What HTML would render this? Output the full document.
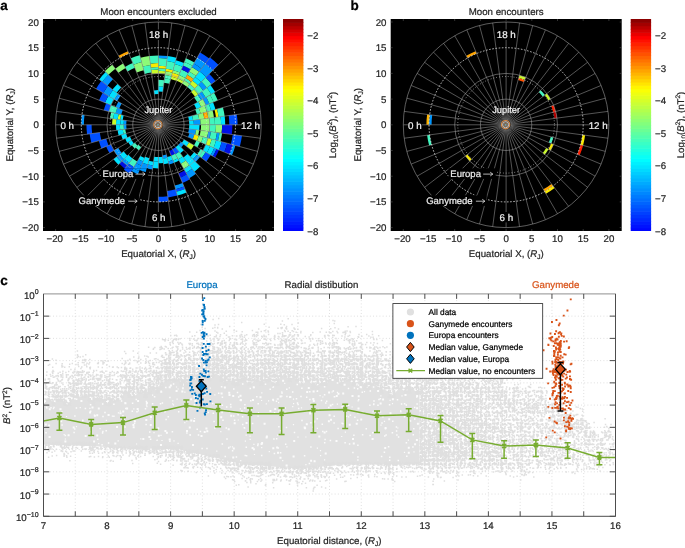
<!DOCTYPE html>
<html><head><meta charset="utf-8"><style>
html,body{margin:0;padding:0;background:#fff;}
svg{display:block;will-change:transform;}
</style></head><body>
<svg width="685" height="548" viewBox="0 0 685 548" text-rendering="geometricPrecision" font-family='"Liberation Sans", sans-serif'>
<rect width="685" height="548" fill="#fff"/>
<text x="0.30" y="10.00" font-size="13.5" text-anchor="start" fill="#000" stroke="#000" stroke-width="0.22" font-weight="bold">a</text>
<text x="350.60" y="10.00" font-size="13.5" text-anchor="start" fill="#000" stroke="#000" stroke-width="0.22" font-weight="bold">b</text>
<text x="0.30" y="285.20" font-size="13.5" text-anchor="start" fill="#000" stroke="#000" stroke-width="0.22" font-weight="bold">c</text>
<rect x="43.00" y="19" width="231" height="212" fill="#000"/>
<path d="M126.28,124.80L123.71,124.80A34.70,34.70 0 0 0 124.00,129.33L126.55,128.99A32.12,32.12 0 0 1 126.28,124.80Z" fill="#0096ff"/><path d="M123.71,124.80L119.85,124.80A38.55,38.55 0 0 0 120.18,129.83L124.00,129.33A34.70,34.70 0 0 1 123.71,124.80Z" fill="#40f5be"/><path d="M119.85,124.80L116.00,124.80A42.40,42.40 0 0 0 116.36,130.33L120.18,129.83A38.55,38.55 0 0 1 119.85,124.80Z" fill="#00e1ff"/><path d="M91.58,124.80L86.44,124.80A71.96,71.96 0 0 0 87.06,134.19L92.15,133.52A66.82,66.82 0 0 1 91.58,124.80Z" fill="#0050ff"/><path d="M125.28,129.16L122.73,129.50A35.98,35.98 0 0 0 123.65,134.11L126.13,133.45A33.41,33.41 0 0 1 125.28,129.16Z" fill="#40f5be"/><path d="M122.73,129.50L117.63,130.17A41.12,41.12 0 0 0 118.68,135.44L123.65,134.11A35.98,35.98 0 0 1 122.73,129.50Z" fill="#00e1ff"/><path d="M99.80,132.52L89.60,133.86A69.39,69.39 0 0 0 91.37,142.76L101.30,140.10A59.11,59.11 0 0 1 99.80,132.52Z" fill="#0050ff"/><path d="M126.13,133.45L121.16,134.78A38.55,38.55 0 0 0 122.78,139.55L127.53,137.59A33.41,33.41 0 0 1 126.13,133.45Z" fill="#00e1ff"/><path d="M106.27,138.77L98.82,140.76A61.68,61.68 0 0 0 101.42,148.40L108.54,145.45A53.97,53.97 0 0 1 106.27,138.77Z" fill="#0050ff"/><path d="M129.91,136.60L125.16,138.57A35.98,35.98 0 0 0 127.24,142.79L131.69,140.22A30.84,30.84 0 0 1 129.91,136.60Z" fill="#00e1ff"/><path d="M110.91,144.47L106.16,146.44A56.54,56.54 0 0 0 109.43,153.07L113.89,150.50A51.40,51.40 0 0 1 110.91,144.47Z" fill="#0050ff"/><path d="M131.69,140.22L128.35,142.15A34.70,34.70 0 0 0 130.87,145.92L133.93,143.57A30.84,30.84 0 0 1 131.69,140.22Z" fill="#00e1ff"/><path d="M118.34,147.93L113.89,150.50A51.40,51.40 0 0 0 117.62,156.09L121.70,152.96A46.26,46.26 0 0 1 118.34,147.93Z" fill="#0096ff"/><path d="M134.95,142.79L131.89,145.14A33.41,33.41 0 0 0 134.78,148.42L137.50,145.70A29.55,29.55 0 0 1 134.95,142.79Z" fill="#40f5be"/><path d="M123.74,151.40L119.66,154.53A48.83,48.83 0 0 0 123.87,159.33L127.51,155.69A43.69,43.69 0 0 1 123.74,151.40Z" fill="#00e1ff"/><path d="M119.66,154.53L116.60,156.87A52.68,52.68 0 0 0 121.15,162.05L123.87,159.33A48.83,48.83 0 0 1 119.66,154.53Z" fill="#0096ff"/><path d="M116.60,156.87L113.54,159.22A56.54,56.54 0 0 0 118.42,164.78L121.15,162.05A52.68,52.68 0 0 1 116.60,156.87Z" fill="#00e1ff"/><path d="M138.41,144.79L135.68,147.52A32.12,32.12 0 0 0 138.84,150.29L141.19,147.23A28.27,28.27 0 0 1 138.41,144.79Z" fill="#40f5be"/><path d="M128.42,154.78L124.33,158.87A48.19,48.19 0 0 0 129.07,163.03L132.59,158.44A42.40,42.40 0 0 1 128.42,154.78Z" fill="#00e1ff"/><path d="M124.33,158.87L122.05,161.15A51.40,51.40 0 0 0 127.11,165.58L129.07,163.03A48.19,48.19 0 0 1 124.33,158.87Z" fill="#0096ff"/><path d="M122.05,161.15L119.33,163.87A55.25,55.25 0 0 0 124.76,168.64L127.11,165.58A51.40,51.40 0 0 1 122.05,161.15Z" fill="#0010e6"/><path d="M132.59,158.44L128.67,163.54A48.83,48.83 0 0 0 133.98,167.09L137.20,161.52A42.40,42.40 0 0 1 132.59,158.44Z" fill="#40f5be"/><path d="M128.67,163.54L123.98,169.66A56.54,56.54 0 0 0 130.13,173.77L133.98,167.09A48.83,48.83 0 0 1 128.67,163.54Z" fill="#0050ff"/><path d="M140.41,155.96L138.48,159.30A39.84,39.84 0 0 0 143.16,161.60L144.63,158.04A35.98,35.98 0 0 1 140.41,155.96Z" fill="#00e1ff"/><path d="M138.48,159.30L136.23,163.19A44.33,44.33 0 0 0 141.43,165.76L143.16,161.60A39.84,39.84 0 0 1 138.48,159.30Z" fill="#0096ff"/><path d="M136.23,163.19L133.34,168.20A50.11,50.11 0 0 0 139.22,171.10L141.43,165.76A44.33,44.33 0 0 1 136.23,163.19Z" fill="#0096ff"/><path d="M133.34,168.20L131.67,171.09A53.46,53.46 0 0 0 137.94,174.19L139.22,171.10A50.11,50.11 0 0 1 133.34,168.20Z" fill="#0096ff"/><path d="M145.12,156.85L142.66,162.79A41.12,41.12 0 0 0 147.76,164.52L149.42,158.31A34.70,34.70 0 0 1 145.12,156.85Z" fill="#00e1ff"/><path d="M142.66,162.79L139.71,169.91A48.83,48.83 0 0 0 145.76,171.97L147.76,164.52A41.12,41.12 0 0 1 142.66,162.79Z" fill="#0096ff"/><path d="M148.76,160.80L147.76,164.52A41.12,41.12 0 0 0 153.03,165.57L153.54,161.75A37.27,37.27 0 0 1 148.76,160.80Z" fill="#00e1ff"/><path d="M147.76,164.52L146.76,168.24A44.97,44.97 0 0 0 152.53,169.39L153.03,165.57A41.12,41.12 0 0 1 147.76,164.52Z" fill="#0096ff"/><path d="M154.21,156.65L153.60,161.24A36.75,36.75 0 0 0 158.40,161.55L158.40,156.93A32.12,32.12 0 0 1 154.21,156.65Z" fill="#00e1ff"/><path d="M153.60,161.24L152.70,168.12A43.69,43.69 0 0 0 158.40,168.49L158.40,161.55A36.75,36.75 0 0 1 153.60,161.24Z" fill="#00e1ff"/><path d="M158.40,156.93L158.40,163.35A38.55,38.55 0 0 0 163.43,163.02L162.59,156.65A32.12,32.12 0 0 1 158.40,156.93Z" fill="#00e1ff"/><path d="M158.40,196.76L158.40,201.90A77.10,77.10 0 0 0 168.46,201.24L167.79,196.14A71.96,71.96 0 0 1 158.40,196.76Z" fill="#0050ff"/><path d="M162.43,155.38L162.84,158.56A34.05,34.05 0 0 0 167.21,157.69L166.38,154.59A30.84,30.84 0 0 1 162.43,155.38Z" fill="#0096ff"/><path d="M162.84,158.56L163.60,164.29A39.84,39.84 0 0 0 168.71,163.28L167.21,157.69A34.05,34.05 0 0 1 162.84,158.56Z" fill="#00e1ff"/><path d="M167.12,191.05L167.96,197.42A73.24,73.24 0 0 0 177.36,195.55L175.69,189.34A66.82,66.82 0 0 1 167.12,191.05Z" fill="#0050ff"/><path d="M167.05,157.07L168.21,161.42A37.91,37.91 0 0 0 172.91,159.82L171.19,155.67A33.41,33.41 0 0 1 167.05,157.07Z" fill="#00e1ff"/><path d="M168.21,161.42L169.04,164.52A41.12,41.12 0 0 0 174.14,162.79L172.91,159.82A37.91,37.91 0 0 1 168.21,161.42Z" fill="#0096ff"/><path d="M174.70,185.62L175.69,189.34A66.82,66.82 0 0 0 183.97,186.53L182.50,182.97A62.96,62.96 0 0 1 174.70,185.62Z" fill="#0096ff"/><path d="M175.69,189.34L176.36,191.83A69.39,69.39 0 0 0 184.95,188.91L183.97,186.53A66.82,66.82 0 0 1 175.69,189.34Z" fill="#0050ff"/><path d="M176.36,191.83L177.36,195.55A73.24,73.24 0 0 0 186.43,192.47L184.95,188.91A69.39,69.39 0 0 1 176.36,191.83Z" fill="#00e1ff"/><path d="M169.22,150.92L171.19,155.67A33.41,33.41 0 0 0 175.11,153.73L172.53,149.28A28.27,28.27 0 0 1 169.22,150.92Z" fill="#0010e6"/><path d="M171.19,155.67L173.15,160.42A38.55,38.55 0 0 0 177.68,158.19L175.11,153.73A33.41,33.41 0 0 1 171.19,155.67Z" fill="#40f5be"/><path d="M173.15,160.42L174.14,162.79A41.12,41.12 0 0 0 178.96,160.41L177.68,158.19A38.55,38.55 0 0 1 173.15,160.42Z" fill="#00e1ff"/><path d="M178.56,173.47L180.28,177.63A57.18,57.18 0 0 0 186.99,174.32L184.74,170.43A52.68,52.68 0 0 1 178.56,173.47Z" fill="#0010e6"/><path d="M180.28,177.63L182.50,182.97A62.96,62.96 0 0 0 189.88,179.33L186.99,174.32A57.18,57.18 0 0 1 180.28,177.63Z" fill="#0050ff"/><path d="M172.53,149.28L175.43,154.29A34.05,34.05 0 0 0 179.13,151.82L175.61,147.23A28.27,28.27 0 0 1 172.53,149.28Z" fill="#0050ff"/><path d="M175.43,154.29L178.32,159.30A39.84,39.84 0 0 0 182.65,156.40L179.13,151.82A34.05,34.05 0 0 1 175.43,154.29Z" fill="#40f5be"/><path d="M178.32,159.30L180.89,163.75A44.97,44.97 0 0 0 185.78,160.48L182.65,156.40A39.84,39.84 0 0 1 178.32,159.30Z" fill="#00e1ff"/><path d="M180.89,163.75L183.78,168.76A50.76,50.76 0 0 0 189.30,165.07L185.78,160.48A44.97,44.97 0 0 1 180.89,163.75Z" fill="#8cfa78"/><path d="M183.78,168.76L186.03,172.65A55.25,55.25 0 0 0 192.04,168.64L189.30,165.07A50.76,50.76 0 0 1 183.78,168.76Z" fill="#00e1ff"/><path d="M186.03,172.65L189.24,178.22A61.68,61.68 0 0 0 195.95,173.73L192.04,168.64A55.25,55.25 0 0 1 186.03,172.65Z" fill="#0096ff"/><path d="M175.61,147.23L180.30,153.34A35.98,35.98 0 0 0 183.84,150.24L178.39,144.79A28.27,28.27 0 0 1 175.61,147.23Z" fill="#00e1ff"/><path d="M183.43,157.42L194.38,171.70A59.11,59.11 0 0 0 200.20,166.60L187.48,153.88A41.12,41.12 0 0 1 183.43,157.42Z" fill="#00e1ff"/><path d="M178.39,144.79L181.12,147.52A32.12,32.12 0 0 0 183.89,144.36L180.83,142.01A28.27,28.27 0 0 1 178.39,144.79Z" fill="#0096ff"/><path d="M190.20,156.60L192.93,159.33A48.83,48.83 0 0 0 197.14,154.53L194.08,152.18A44.97,44.97 0 0 1 190.20,156.60Z" fill="#00e1ff"/><path d="M192.93,159.33L195.65,162.05A52.68,52.68 0 0 0 200.20,156.87L197.14,154.53A48.83,48.83 0 0 1 192.93,159.33Z" fill="#0096ff"/><path d="M181.85,142.79L186.44,146.31A35.34,35.34 0 0 0 189.00,142.47L184.00,139.58A29.55,29.55 0 0 1 181.85,142.79Z" fill="#00e1ff"/><path d="M186.44,146.31L191.02,149.83A41.12,41.12 0 0 0 194.01,145.36L189.00,142.47A35.34,35.34 0 0 1 186.44,146.31Z" fill="#c8fa28"/><path d="M197.14,154.53L201.73,158.05A54.61,54.61 0 0 0 205.70,152.11L200.69,149.22A48.83,48.83 0 0 1 197.14,154.53Z" fill="#40f5be"/><path d="M201.73,158.05L206.31,161.57A60.39,60.39 0 0 0 210.70,155.00L205.70,152.11A54.61,54.61 0 0 1 201.73,158.05Z" fill="#0050ff"/><path d="M194.01,145.36L197.35,147.29A44.97,44.97 0 0 0 199.95,142.01L196.39,140.54A41.12,41.12 0 0 1 194.01,145.36Z" fill="#40f5be"/><path d="M202.91,150.50L206.81,152.75A55.90,55.90 0 0 0 210.04,146.19L205.89,144.47A51.40,51.40 0 0 1 202.91,150.50Z" fill="#00e1ff"/><path d="M206.81,152.75L210.70,155.00A60.39,60.39 0 0 0 214.20,147.91L210.04,146.19A55.90,55.90 0 0 1 206.81,152.75Z" fill="#00e1ff"/><path d="M210.70,155.00L212.93,156.28A62.96,62.96 0 0 0 216.57,148.90L214.20,147.91A60.39,60.39 0 0 1 210.70,155.00Z" fill="#0096ff"/><path d="M212.93,156.28L215.15,157.57A65.53,65.53 0 0 0 218.95,149.88L216.57,148.90A62.96,62.96 0 0 1 212.93,156.28Z" fill="#0010e6"/><path d="M188.08,137.09L192.83,139.06A37.27,37.27 0 0 0 194.40,134.44L189.43,133.11A32.12,32.12 0 0 1 188.08,137.09Z" fill="#0096ff"/><path d="M192.83,139.06L196.98,140.78A41.76,41.76 0 0 0 198.74,135.61L194.40,134.44A37.27,37.27 0 0 1 192.83,139.06Z" fill="#faeb00"/><path d="M196.98,140.78L201.14,142.50A46.26,46.26 0 0 0 203.08,136.77L198.74,135.61A41.76,41.76 0 0 1 196.98,140.78Z" fill="#8cfa78"/><path d="M201.14,142.50L205.89,144.47A51.40,51.40 0 0 0 208.05,138.10L203.08,136.77A46.26,46.26 0 0 1 201.14,142.50Z" fill="#40f5be"/><path d="M205.89,144.47L209.45,145.95A55.25,55.25 0 0 0 211.77,139.10L208.05,138.10A51.40,51.40 0 0 1 205.89,144.47Z" fill="#c8fa28"/><path d="M209.45,145.95L213.60,147.67A59.75,59.75 0 0 0 216.12,140.27L211.77,139.10A55.25,55.25 0 0 1 209.45,145.95Z" fill="#40f5be"/><path d="M213.60,147.67L218.95,149.88A65.53,65.53 0 0 0 221.70,141.76L216.12,140.27A59.75,59.75 0 0 1 213.60,147.67Z" fill="#00e1ff"/><path d="M218.95,149.88L224.29,152.09A71.32,71.32 0 0 0 227.29,143.26L221.70,141.76A65.53,65.53 0 0 1 218.95,149.88Z" fill="#0050ff"/><path d="M224.29,152.09L229.63,154.30A77.10,77.10 0 0 0 232.87,144.75L227.29,143.26A71.32,71.32 0 0 1 224.29,152.09Z" fill="#0010e6"/><path d="M229.63,154.30L232.01,155.29A79.67,79.67 0 0 0 235.36,145.42L232.87,144.75A77.10,77.10 0 0 1 229.63,154.30Z" fill="#0096ff"/><path d="M188.19,132.78L195.14,134.64A38.04,38.04 0 0 0 196.11,129.76L188.98,128.83A30.84,30.84 0 0 1 188.19,132.78Z" fill="#0096ff"/><path d="M195.14,134.64L198.12,135.44A41.12,41.12 0 0 0 199.17,130.17L196.11,129.76A38.04,38.04 0 0 1 195.14,134.64Z" fill="#8cfa78"/><path d="M199.61,135.84L207.06,137.84A50.37,50.37 0 0 0 208.34,131.37L200.70,130.37A42.66,42.66 0 0 1 199.61,135.84Z" fill="#8cfa78"/><path d="M207.06,137.84L209.54,138.50A52.94,52.94 0 0 0 210.89,131.71L208.34,131.37A50.37,50.37 0 0 1 207.06,137.84Z" fill="#0096ff"/><path d="M209.54,138.50L215.50,140.10A59.11,59.11 0 0 0 217.00,132.52L210.89,131.71A52.94,52.94 0 0 1 209.54,138.50Z" fill="#40f5be"/><path d="M215.50,140.10L217.98,140.76A61.68,61.68 0 0 0 219.55,132.85L217.00,132.52A59.11,59.11 0 0 1 215.50,140.10Z" fill="#0096ff"/><path d="M217.98,140.76L220.46,141.43A64.25,64.25 0 0 0 222.10,133.19L219.55,132.85A61.68,61.68 0 0 1 217.98,140.76Z" fill="#40f5be"/><path d="M230.89,144.22L239.82,146.62A84.30,84.30 0 0 0 241.97,135.80L232.80,134.60A75.04,75.04 0 0 1 230.89,144.22Z" fill="#0050ff"/><path d="M188.98,128.83L199.17,130.17A41.12,41.12 0 0 0 199.52,124.80L189.24,124.80A30.84,30.84 0 0 1 188.98,128.83Z" fill="#00e1ff"/><path d="M200.70,130.37L209.36,131.51A51.40,51.40 0 0 0 209.80,124.80L201.06,124.80A42.66,42.66 0 0 1 200.70,130.37Z" fill="#8cfa78"/><path d="M209.36,131.51L215.48,132.31A57.57,57.57 0 0 0 215.97,124.80L209.80,124.80A51.40,51.40 0 0 1 209.36,131.51Z" fill="#40f5be"/><path d="M215.48,132.31L221.59,133.12A63.74,63.74 0 0 0 222.14,124.80L215.97,124.80A57.57,57.57 0 0 1 215.48,132.31Z" fill="#8cfa78"/><path d="M221.59,133.12L231.78,134.46A74.02,74.02 0 0 0 232.42,124.80L222.14,124.80A63.74,63.74 0 0 1 221.59,133.12Z" fill="#0010e6"/><path d="M189.24,124.80L193.87,124.80A35.47,35.47 0 0 0 193.56,120.17L188.98,120.77A30.84,30.84 0 0 1 189.24,124.80Z" fill="#00e1ff"/><path d="M193.87,124.80L200.55,124.80A42.15,42.15 0 0 0 200.19,119.30L193.56,120.17A35.47,35.47 0 0 1 193.87,124.80Z" fill="#0096ff"/><path d="M200.55,124.80L209.80,124.80A51.40,51.40 0 0 0 209.36,118.09L200.19,119.30A42.15,42.15 0 0 1 200.55,124.80Z" fill="#8cfa78"/><path d="M209.80,124.80L214.94,124.80A56.54,56.54 0 0 0 214.46,117.42L209.36,118.09A51.40,51.40 0 0 1 209.80,124.80Z" fill="#40f5be"/><path d="M214.94,124.80L221.11,124.80A62.71,62.71 0 0 0 220.57,116.61L214.46,117.42A56.54,56.54 0 0 1 214.94,124.80Z" fill="#40f5be"/><path d="M221.11,124.80L225.22,124.80A66.82,66.82 0 0 0 224.65,116.08L220.57,116.61A62.71,62.71 0 0 1 221.11,124.80Z" fill="#00e1ff"/><path d="M229.33,124.80L237.56,124.80A79.16,79.16 0 0 0 236.88,114.47L228.73,115.54A70.93,70.93 0 0 1 229.33,124.80Z" fill="#0050ff"/><path d="M188.98,120.77L193.05,120.24A34.95,34.95 0 0 0 192.16,115.75L188.19,116.82A30.84,30.84 0 0 1 188.98,120.77Z" fill="#00e1ff"/><path d="M193.05,120.24L199.17,119.43A41.12,41.12 0 0 0 198.12,114.16L192.16,115.75A34.95,34.95 0 0 1 193.05,120.24Z" fill="#40f5be"/><path d="M199.17,119.43L204.26,118.76A46.26,46.26 0 0 0 203.08,112.83L198.12,114.16A41.12,41.12 0 0 1 199.17,119.43Z" fill="#8cfa78"/><path d="M204.26,118.76L208.34,118.23A50.37,50.37 0 0 0 207.06,111.76L203.08,112.83A46.26,46.26 0 0 1 204.26,118.76Z" fill="#ffa500"/><path d="M208.34,118.23L213.95,117.49A56.03,56.03 0 0 0 212.52,110.30L207.06,111.76A50.37,50.37 0 0 1 208.34,118.23Z" fill="#8cfa78"/><path d="M215.99,117.22L218.53,116.88A60.65,60.65 0 0 0 216.99,109.10L214.50,109.77A58.08,58.08 0 0 1 215.99,117.22Z" fill="#faeb00"/><path d="M218.53,116.88L224.65,116.08A66.82,66.82 0 0 0 222.94,107.51L216.99,109.10A60.65,60.65 0 0 1 218.53,116.88Z" fill="#40f5be"/><path d="M196.88,114.49L200.60,113.49A43.69,43.69 0 0 0 198.76,108.08L195.20,109.56A39.84,39.84 0 0 1 196.88,114.49Z" fill="#40f5be"/><path d="M200.60,113.49L206.81,111.83A50.11,50.11 0 0 0 204.70,105.62L198.76,108.08A43.69,43.69 0 0 1 200.60,113.49Z" fill="#8cfa78"/><path d="M206.81,111.83L211.15,110.67A54.61,54.61 0 0 0 208.86,103.90L204.70,105.62A50.11,50.11 0 0 1 206.81,111.83Z" fill="#40f5be"/><path d="M211.15,110.67L215.50,109.50A59.11,59.11 0 0 0 213.01,102.18L208.86,103.90A54.61,54.61 0 0 1 211.15,110.67Z" fill="#00e1ff"/><path d="M196.39,109.06L201.14,107.10A46.26,46.26 0 0 0 198.46,101.67L194.01,104.24A41.12,41.12 0 0 1 196.39,109.06Z" fill="#00e1ff"/><path d="M201.14,107.10L205.89,105.13A51.40,51.40 0 0 0 202.91,99.10L198.46,101.67A46.26,46.26 0 0 1 201.14,107.10Z" fill="#8cfa78"/><path d="M205.89,105.13L209.45,103.65A55.25,55.25 0 0 0 206.25,97.17L202.91,99.10A51.40,51.40 0 0 1 205.89,105.13Z" fill="#0096ff"/><path d="M209.45,103.65L213.60,101.93A59.75,59.75 0 0 0 210.15,94.92L206.25,97.17A55.25,55.25 0 0 1 209.45,103.65Z" fill="#40f5be"/><path d="M213.60,101.93L217.76,100.21A64.25,64.25 0 0 0 214.04,92.67L210.15,94.92A59.75,59.75 0 0 1 213.60,101.93Z" fill="#40f5be"/><path d="M197.35,102.31L201.24,100.06A49.47,49.47 0 0 0 197.65,94.68L194.08,97.42A44.97,44.97 0 0 1 197.35,102.31Z" fill="#40f5be"/><path d="M201.24,100.06L205.70,97.49A54.61,54.61 0 0 0 201.73,91.55L197.65,94.68A49.47,49.47 0 0 1 201.24,100.06Z" fill="#0096ff"/><path d="M205.70,97.49L211.26,94.28A61.04,61.04 0 0 0 206.82,87.64L201.73,91.55A54.61,54.61 0 0 1 205.70,97.49Z" fill="#40f5be"/><path d="M211.26,94.28L215.15,92.03A65.53,65.53 0 0 0 210.39,84.90L206.82,87.64A61.04,61.04 0 0 1 211.26,94.28Z" fill="#00e1ff"/><path d="M195.10,96.64L198.16,94.29A50.11,50.11 0 0 0 193.84,89.36L191.11,92.09A46.26,46.26 0 0 1 195.10,96.64Z" fill="#c8fa28"/><path d="M198.16,94.29L203.26,90.38A56.54,56.54 0 0 0 198.38,84.82L193.84,89.36A50.11,50.11 0 0 1 198.16,94.29Z" fill="#40f5be"/><path d="M203.26,90.38L206.82,87.64A61.04,61.04 0 0 0 201.56,81.64L198.38,84.82A56.54,56.54 0 0 1 203.26,90.38Z" fill="#0096ff"/><path d="M206.82,87.64L211.41,84.12A66.82,66.82 0 0 0 205.65,77.55L201.56,81.64A61.04,61.04 0 0 1 206.82,87.64Z" fill="#40f5be"/><path d="M211.41,84.12L215.49,80.99A71.96,71.96 0 0 0 209.28,73.92L205.65,77.55A66.82,66.82 0 0 1 211.41,84.12Z" fill="#0050ff"/><path d="M192.02,91.18L194.75,88.45A51.40,51.40 0 0 0 189.69,84.02L187.34,87.08A47.54,47.54 0 0 1 192.02,91.18Z" fill="#40f5be"/><path d="M194.75,88.45L197.93,85.27A55.90,55.90 0 0 0 192.43,80.45L189.69,84.02A51.40,51.40 0 0 1 194.75,88.45Z" fill="#c8fa28"/><path d="M197.93,85.27L201.11,82.09A60.39,60.39 0 0 0 195.17,76.89L192.43,80.45A55.90,55.90 0 0 1 197.93,85.27Z" fill="#00e1ff"/><path d="M201.11,82.09L206.10,77.10A67.46,67.46 0 0 0 199.47,71.28L195.17,76.89A60.39,60.39 0 0 1 201.11,82.09Z" fill="#00e1ff"/><path d="M206.10,77.10L212.92,70.28A77.10,77.10 0 0 0 205.34,63.63L199.47,71.28A67.46,67.46 0 0 1 206.10,77.10Z" fill="#0096ff"/><path d="M212.92,70.28L218.37,64.83A84.81,84.81 0 0 0 210.03,57.52L205.34,63.63A77.10,77.10 0 0 1 212.92,70.28Z" fill="#0050ff"/><path d="M187.34,87.08L189.69,84.02A51.40,51.40 0 0 0 184.10,80.29L182.17,83.62A47.54,47.54 0 0 1 187.34,87.08Z" fill="#8cfa78"/><path d="M189.69,84.02L191.25,81.98A53.97,53.97 0 0 0 185.38,78.06L184.10,80.29A51.40,51.40 0 0 1 189.69,84.02Z" fill="#40f5be"/><path d="M191.25,81.98L193.60,78.92A57.82,57.82 0 0 0 187.31,74.72L185.38,78.06A53.97,53.97 0 0 1 191.25,81.98Z" fill="#ffa500"/><path d="M193.60,78.92L195.95,75.87A61.68,61.68 0 0 0 189.24,71.38L187.31,74.72A57.82,57.82 0 0 1 193.60,78.92Z" fill="#40f5be"/><path d="M195.95,75.87L199.08,71.79A66.82,66.82 0 0 0 191.81,66.93L189.24,71.38A61.68,61.68 0 0 1 195.95,75.87Z" fill="#8cfa78"/><path d="M199.08,71.79L201.42,68.73A70.67,70.67 0 0 0 193.74,63.59L191.81,66.93A66.82,66.82 0 0 1 199.08,71.79Z" fill="#0096ff"/><path d="M201.42,68.73L205.73,63.12A77.74,77.74 0 0 0 197.27,57.47L193.74,63.59A70.67,70.67 0 0 1 201.42,68.73Z" fill="#0096ff"/><path d="M205.73,63.12L209.25,58.54A83.52,83.52 0 0 0 200.16,52.47L197.27,57.47A77.74,77.74 0 0 1 205.73,63.12Z" fill="#0050ff"/><path d="M182.17,83.62L183.46,81.40A50.11,50.11 0 0 0 177.58,78.50L176.59,80.87A47.54,47.54 0 0 1 182.17,83.62Z" fill="#c8fa28"/><path d="M183.46,81.40L185.38,78.06A53.97,53.97 0 0 0 179.05,74.94L177.58,78.50A50.11,50.11 0 0 1 183.46,81.40Z" fill="#8cfa78"/><path d="M185.38,78.06L188.28,73.05A59.75,59.75 0 0 0 181.27,69.60L179.05,74.94A53.97,53.97 0 0 1 185.38,78.06Z" fill="#40f5be"/><path d="M188.28,73.05L190.52,69.16A64.25,64.25 0 0 0 182.99,65.44L181.27,69.60A59.75,59.75 0 0 1 188.28,73.05Z" fill="#0010e6"/><path d="M190.52,69.16L192.45,65.82A68.10,68.10 0 0 0 184.46,61.88L182.99,65.44A64.25,64.25 0 0 1 190.52,69.16Z" fill="#40f5be"/><path d="M192.45,65.82L194.38,62.48A71.96,71.96 0 0 0 185.94,58.32L184.46,61.88A68.10,68.10 0 0 1 192.45,65.82Z" fill="#40f5be"/><path d="M176.59,80.87L177.58,78.50A50.11,50.11 0 0 0 171.37,76.39L170.71,78.88A47.54,47.54 0 0 1 176.59,80.87Z" fill="#c8fa28"/><path d="M177.58,78.50L179.05,74.94A53.97,53.97 0 0 0 172.37,72.67L171.37,76.39A50.11,50.11 0 0 1 177.58,78.50Z" fill="#faeb00"/><path d="M179.05,74.94L180.04,72.56A56.54,56.54 0 0 0 173.03,70.19L172.37,72.67A53.97,53.97 0 0 1 179.05,74.94Z" fill="#8cfa78"/><path d="M180.04,72.56L182.50,66.63A62.96,62.96 0 0 0 174.70,63.98L173.03,70.19A56.54,56.54 0 0 1 180.04,72.56Z" fill="#40f5be"/><path d="M182.50,66.63L183.97,63.07A66.82,66.82 0 0 0 175.69,60.26L174.70,63.98A62.96,62.96 0 0 1 182.50,66.63Z" fill="#00e1ff"/><path d="M169.38,83.84L170.54,79.50A46.90,46.90 0 0 0 164.52,78.30L163.93,82.76A42.40,42.40 0 0 1 169.38,83.84Z" fill="#40f5be"/><path d="M170.54,79.50L171.37,76.39A50.11,50.11 0 0 0 164.94,75.11L164.52,78.30A46.90,46.90 0 0 1 170.54,79.50Z" fill="#40f5be"/><path d="M171.37,76.39L172.37,72.67A53.97,53.97 0 0 0 165.44,71.29L164.94,75.11A50.11,50.11 0 0 1 171.37,76.39Z" fill="#8cfa78"/><path d="M172.37,72.67L173.03,70.19A56.54,56.54 0 0 0 165.78,68.74L165.44,71.29A53.97,53.97 0 0 1 172.37,72.67Z" fill="#faeb00"/><path d="M173.03,70.19L175.03,62.74A64.25,64.25 0 0 0 166.79,61.10L165.78,68.74A56.54,56.54 0 0 1 173.03,70.19Z" fill="#40f5be"/><path d="M175.03,62.74L176.36,57.77A69.39,69.39 0 0 0 167.46,56.00L166.79,61.10A64.25,64.25 0 0 1 175.03,62.74Z" fill="#00e1ff"/><path d="M162.76,91.68L163.43,86.58A38.55,38.55 0 0 0 158.40,86.25L158.40,91.39A33.41,33.41 0 0 1 162.76,91.68Z" fill="#00e1ff"/><path d="M163.43,86.58L164.27,80.21A44.97,44.97 0 0 0 158.40,79.83L158.40,86.25A38.55,38.55 0 0 1 163.43,86.58Z" fill="#40f5be"/><path d="M165.11,73.84L165.44,71.29A53.97,53.97 0 0 0 158.40,70.83L158.40,73.40A51.40,51.40 0 0 1 165.11,73.84Z" fill="#c8fa28"/><path d="M165.44,71.29L165.78,68.74A56.54,56.54 0 0 0 158.40,68.26L158.40,70.83A53.97,53.97 0 0 1 165.44,71.29Z" fill="#40f5be"/><path d="M165.78,68.74L166.12,66.20A59.11,59.11 0 0 0 158.40,65.69L158.40,68.26A56.54,56.54 0 0 1 165.78,68.74Z" fill="#faeb00"/><path d="M166.12,66.20L167.12,58.55A66.82,66.82 0 0 0 158.40,57.98L158.40,65.69A59.11,59.11 0 0 1 166.12,66.20Z" fill="#40f5be"/><path d="M167.12,58.55L167.46,56.00A69.39,69.39 0 0 0 158.40,55.41L158.40,57.98A66.82,66.82 0 0 1 167.12,58.55Z" fill="#0096ff"/><path d="M158.40,93.96L158.40,90.10A34.70,34.70 0 0 0 153.87,90.40L154.37,94.22A30.84,30.84 0 0 1 158.40,93.96Z" fill="#00e1ff"/><path d="M158.40,73.40L158.40,69.55A55.25,55.25 0 0 0 151.19,70.02L151.69,73.84A51.40,51.40 0 0 1 158.40,73.40Z" fill="#c8fa28"/><path d="M158.40,69.55L158.40,66.97A57.82,57.82 0 0 0 150.85,67.47L151.19,70.02A55.25,55.25 0 0 1 158.40,69.55Z" fill="#40f5be"/><path d="M158.40,66.97L158.40,63.12A61.68,61.68 0 0 0 150.35,63.65L150.85,67.47A57.82,57.82 0 0 1 158.40,66.97Z" fill="#faeb00"/><path d="M158.40,63.12L158.40,55.41A69.39,69.39 0 0 0 149.34,56.00L150.35,63.65A61.68,61.68 0 0 1 158.40,63.12Z" fill="#40f5be"/><path d="M151.52,72.57L150.52,64.92A60.39,60.39 0 0 0 142.77,66.46L144.76,73.91A52.68,52.68 0 0 1 151.52,72.57Z" fill="#40f5be"/><path d="M150.52,64.92L149.34,56.00A69.39,69.39 0 0 0 140.44,57.77L142.77,66.46A60.39,60.39 0 0 1 150.52,64.92Z" fill="#8cfa78"/><path d="M143.77,70.19L141.60,62.12A64.89,64.89 0 0 0 133.57,64.85L136.76,72.56A56.54,56.54 0 0 1 143.77,70.19Z" fill="#8cfa78"/><path d="M141.60,62.12L139.78,55.29A71.96,71.96 0 0 0 130.86,58.32L133.57,64.85A64.89,64.89 0 0 1 141.60,62.12Z" fill="#40f5be"/><path d="M134.80,67.82L132.83,63.07A66.82,66.82 0 0 0 124.99,66.93L127.56,71.38A61.68,61.68 0 0 1 134.80,67.82Z" fill="#40f5be"/><path d="M128.90,53.57L127.91,51.19A79.67,79.67 0 0 0 118.57,55.80L119.85,58.03A77.10,77.10 0 0 1 128.90,53.57Z" fill="#ffa500"/><path d="M125.63,68.05L123.06,63.59A70.67,70.67 0 0 0 115.38,68.73L118.50,72.81A65.53,65.53 0 0 1 125.63,68.05Z" fill="#8cfa78"/><path d="M115.38,68.73L112.25,64.65A75.81,75.81 0 0 0 104.79,71.19L108.43,74.83A70.67,70.67 0 0 1 115.38,68.73Z" fill="#8cfa78"/><path d="M121.15,87.55L117.51,83.91A57.82,57.82 0 0 0 112.52,89.60L116.60,92.73A52.68,52.68 0 0 1 121.15,87.55Z" fill="#00e1ff"/><path d="M112.97,79.37L108.43,74.83A70.67,70.67 0 0 0 102.33,81.78L107.43,85.69A64.25,64.25 0 0 1 112.97,79.37Z" fill="#0096ff"/><path d="M108.43,74.83L105.70,72.10A74.53,74.53 0 0 0 99.27,79.43L102.33,81.78A70.67,70.67 0 0 1 108.43,74.83Z" fill="#00e1ff"/><path d="M120.68,95.86L118.13,93.90A50.76,50.76 0 0 0 114.44,99.42L117.22,101.03A47.54,47.54 0 0 1 120.68,95.86Z" fill="#0096ff"/><path d="M118.13,93.90L113.03,89.99A57.18,57.18 0 0 0 108.88,96.21L114.44,99.42A50.76,50.76 0 0 1 118.13,93.90Z" fill="#00e1ff"/><path d="M113.03,89.99L107.94,86.08A63.61,63.61 0 0 0 103.31,93.00L108.88,96.21A57.18,57.18 0 0 1 113.03,89.99Z" fill="#0096ff"/><path d="M107.94,86.08L101.31,80.99A71.96,71.96 0 0 0 96.08,88.82L103.31,93.00A63.61,63.61 0 0 1 107.94,86.08Z" fill="#0050ff"/><path d="M121.68,103.60L118.34,101.67A46.26,46.26 0 0 0 115.66,107.10L119.22,108.57A42.40,42.40 0 0 1 121.68,103.60Z" fill="#0096ff"/><path d="M113.89,99.10L108.32,95.89A57.82,57.82 0 0 0 104.98,102.67L110.91,105.13A51.40,51.40 0 0 1 113.89,99.10Z" fill="#00e1ff"/><path d="M108.32,95.89L102.76,92.68A64.25,64.25 0 0 0 99.04,100.21L104.98,102.67A57.82,57.82 0 0 1 108.32,95.89Z" fill="#0050ff"/><path d="M122.78,110.05L117.44,107.83A44.33,44.33 0 0 0 115.58,113.33L121.16,114.82A38.55,38.55 0 0 1 122.78,110.05Z" fill="#0096ff"/><path d="M117.44,107.83L110.91,105.13A51.40,51.40 0 0 0 108.75,111.50L115.58,113.33A44.33,44.33 0 0 1 117.44,107.83Z" fill="#40f5be"/><path d="M110.91,105.13L106.16,103.16A56.54,56.54 0 0 0 103.79,110.17L108.75,111.50A51.40,51.40 0 0 1 110.91,105.13Z" fill="#0050ff"/><path d="M123.65,115.49L121.16,114.82A38.55,38.55 0 0 0 120.18,119.77L122.73,120.10A35.98,35.98 0 0 1 123.65,115.49Z" fill="#00e1ff"/><path d="M121.16,114.82L118.68,114.16A41.12,41.12 0 0 0 117.63,119.43L120.18,119.77A38.55,38.55 0 0 1 121.16,114.82Z" fill="#c8fa28"/><path d="M118.68,114.16L114.34,112.99A45.62,45.62 0 0 0 113.17,118.85L117.63,119.43A41.12,41.12 0 0 1 118.68,114.16Z" fill="#00e1ff"/><path d="M114.34,112.99L111.23,112.16A48.83,48.83 0 0 0 109.99,118.43L113.17,118.85A45.62,45.62 0 0 1 114.34,112.99Z" fill="#40f5be"/><path d="M126.55,120.61L124.00,120.27A34.70,34.70 0 0 0 123.71,124.80L126.28,124.80A32.12,32.12 0 0 1 126.55,120.61Z" fill="#0096ff"/><path d="M124.00,120.27L120.82,119.85A37.91,37.91 0 0 0 120.49,124.80L123.71,124.80A34.70,34.70 0 0 1 124.00,120.27Z" fill="#00e1ff"/><path d="M120.82,119.85L116.36,119.27A42.40,42.40 0 0 0 116.00,124.80L120.49,124.80A37.91,37.91 0 0 1 120.82,119.85Z" fill="#00e1ff"/><path d="M116.36,119.27L112.54,118.76A46.26,46.26 0 0 0 112.14,124.80L116.00,124.80A42.40,42.40 0 0 1 116.36,119.27Z" fill="#c8fa28"/><path d="M84.51,115.07L81.96,114.74A77.10,77.10 0 0 0 81.30,124.80L83.87,124.80A74.53,74.53 0 0 1 84.51,115.07Z" fill="#0096ff"/>
<path d="M153.77,124.80L55.60,124.80M153.81,125.40L56.48,138.22M153.93,126.00L59.10,151.41M154.13,126.57L63.43,164.14M154.39,127.11L69.37,176.20M154.73,127.62L76.84,187.38M155.13,128.07L85.71,197.49M155.58,128.47L95.82,206.36M156.09,128.81L107.00,213.83M156.63,129.07L119.06,219.77M157.20,129.27L131.79,224.10M157.80,129.39L144.98,226.72M158.40,129.43L158.40,227.60M159.00,129.39L171.82,226.72M159.60,129.27L185.01,224.10M160.17,129.07L197.74,219.77M160.71,128.81L209.80,213.83M161.22,128.47L220.98,206.36M161.67,128.07L231.09,197.49M162.07,127.62L239.96,187.38M162.41,127.11L247.43,176.20M162.67,126.57L253.37,164.14M162.87,126.00L257.70,151.41M162.99,125.40L260.32,138.22M163.03,124.80L261.20,124.80M162.99,124.20L260.32,111.38M162.87,123.60L257.70,98.19M162.67,123.03L253.37,85.46M162.41,122.49L247.43,73.40M162.07,121.98L239.96,62.22M161.67,121.53L231.09,52.11M161.22,121.13L220.98,43.24M160.71,120.79L209.80,35.77M160.17,120.53L197.74,29.83M159.60,120.33L185.01,25.50M159.00,120.21L171.82,22.88M158.40,120.17L158.40,22.00M157.80,120.21L144.98,22.88M157.20,120.33L131.79,25.50M156.63,120.53L119.06,29.83M156.09,120.79L107.00,35.77M155.58,121.13L95.82,43.24M155.13,121.53L85.71,52.11M154.73,121.98L76.84,62.22M154.39,122.49L69.37,73.40M154.13,123.03L63.43,85.46M153.93,123.60L59.10,98.19M153.81,124.20L56.48,111.38" stroke="#9a9a9a" stroke-width="0.55" fill="none"/>
<circle cx="158.40" cy="124.8" r="25.70" stroke="#9a9a9a" stroke-width="0.6" fill="none"/>
<circle cx="158.40" cy="124.8" r="51.40" stroke="#9a9a9a" stroke-width="0.6" fill="none"/>
<circle cx="158.40" cy="124.8" r="102.80" stroke="#9a9a9a" stroke-width="0.6" fill="none"/>
<circle cx="158.40" cy="124.8" r="77.10" stroke="#e6e6e6" stroke-width="0.8" stroke-dasharray="1.6 1.6" fill="none"/>
<circle cx="158.40" cy="124.8" r="48.32" stroke="#e6e6e6" stroke-width="0.8" stroke-dasharray="0.7 2.2" fill="none"/>
<circle cx="157.90" cy="124.7" r="4.9" fill="#3c3c3c"/>
<circle cx="157.90" cy="124.7" r="4.15" stroke="#d98c48" stroke-width="1.15" fill="none"/>
<circle cx="157.90" cy="124.7" r="3.05" stroke="#dcdcdc" stroke-width="0.9" fill="none"/>
<circle cx="157.90" cy="124.7" r="1.95" stroke="#b58a62" stroke-width="0.8" fill="none"/>
<circle cx="157.90" cy="124.7" r="1.2" fill="#7f9a9a"/>
<path d="M55.60,231L55.60,229M55.60,19L55.60,21M43.00,227.60L45.00,227.60M274.00,227.60L272.00,227.60M81.30,231L81.30,229M81.30,19L81.30,21M43.00,201.90L45.00,201.90M274.00,201.90L272.00,201.90M107.00,231L107.00,229M107.00,19L107.00,21M43.00,176.20L45.00,176.20M274.00,176.20L272.00,176.20M132.70,231L132.70,229M132.70,19L132.70,21M43.00,150.50L45.00,150.50M274.00,150.50L272.00,150.50M158.40,231L158.40,229M158.40,19L158.40,21M43.00,124.80L45.00,124.80M274.00,124.80L272.00,124.80M184.10,231L184.10,229M184.10,19L184.10,21M43.00,99.10L45.00,99.10M274.00,99.10L272.00,99.10M209.80,231L209.80,229M209.80,19L209.80,21M43.00,73.40L45.00,73.40M274.00,73.40L272.00,73.40M235.50,231L235.50,229M235.50,19L235.50,21M43.00,47.70L45.00,47.70M274.00,47.70L272.00,47.70M261.20,231L261.20,229M261.20,19L261.20,21M43.00,22.00L45.00,22.00M274.00,22.00L272.00,22.00" stroke="#555" stroke-width="0.6"/>
<rect x="60.30" y="120.10" width="13.80" height="10.4" fill="#000"/>
<text x="67.20" y="128.70" font-size="9.8" text-anchor="middle" fill="#f0f0f0" stroke="#f0f0f0" stroke-width="0.22" >0&#160;h</text>
<rect x="242.05" y="120.30" width="16.90" height="10.4" fill="#000"/>
<text x="250.50" y="128.90" font-size="9.8" text-anchor="middle" fill="#f0f0f0" stroke="#f0f0f0" stroke-width="0.22" >12&#160;h</text>
<rect x="150.15" y="29.50" width="16.90" height="10.4" fill="#000"/>
<text x="158.60" y="38.10" font-size="9.8" text-anchor="middle" fill="#f0f0f0" stroke="#f0f0f0" stroke-width="0.22" >18&#160;h</text>
<rect x="151.80" y="212.00" width="13.80" height="10.4" fill="#000"/>
<text x="158.70" y="220.60" font-size="9.8" text-anchor="middle" fill="#f0f0f0" stroke="#f0f0f0" stroke-width="0.22" >6&#160;h</text>
<text x="158.40" y="113.30" font-size="9.3" text-anchor="middle" fill="#f0f0f0" stroke="#f0f0f0" stroke-width="0.22" >Jupiter</text>
<rect x="100.90" y="168.3" width="47" height="10.6" fill="#000"/>
<clipPath id="eur158"><rect x="100.90" y="168.3" width="47" height="10.6"/></clipPath><g clip-path="url(#eur158)"><path d="M122.05,161.15L119.33,163.87A55.25,55.25 0 0 0 124.76,168.64L127.11,165.58A51.40,51.40 0 0 1 122.05,161.15Z" fill="#0010e6"/><path d="M128.67,163.54L123.98,169.66A56.54,56.54 0 0 0 130.13,173.77L133.98,167.09A48.83,48.83 0 0 1 128.67,163.54Z" fill="#0050ff"/><path d="M136.23,163.19L133.34,168.20A50.11,50.11 0 0 0 139.22,171.10L141.43,165.76A44.33,44.33 0 0 1 136.23,163.19Z" fill="#0096ff"/><path d="M133.34,168.20L131.67,171.09A53.46,53.46 0 0 0 137.94,174.19L139.22,171.10A50.11,50.11 0 0 1 133.34,168.20Z" fill="#0096ff"/><path d="M142.66,162.79L139.71,169.91A48.83,48.83 0 0 0 145.76,171.97L147.76,164.52A41.12,41.12 0 0 1 142.66,162.79Z" fill="#0096ff"/></g>
<text x="102.60" y="176.90" font-size="9.5" text-anchor="start" fill="#ececec" stroke="#ececec" stroke-width="0.22" >Europa</text>
<path d="M135.50,174.1L145.00,174.1M142.50,172.2L145.10,174.1L142.50,176.0" stroke="#ececec" stroke-width="0.75" fill="none"/>
<rect x="76.90" y="195.3" width="62" height="10.6" fill="#000"/>
<text x="78.50" y="203.70" font-size="9.5" text-anchor="start" fill="#ececec" stroke="#ececec" stroke-width="0.22" >Ganymede</text>
<path d="M128.20,201.2L137.10,201.2M134.60,199.3L137.20,201.2L134.60,203.1" stroke="#ececec" stroke-width="0.75" fill="none"/>
<text x="158.50" y="14.70" font-size="9.7" text-anchor="middle" fill="#262626" stroke="#262626" stroke-width="0.22" >Moon encounters excluded</text>
<text x="54.80" y="242.40" font-size="9.7" text-anchor="middle" fill="#262626" stroke="#262626" stroke-width="0.22" >&#8722;20</text>
<text x="38.80" y="231.10" font-size="9.7" text-anchor="end" fill="#262626" stroke="#262626" stroke-width="0.22" >&#8722;20</text>
<text x="80.50" y="242.40" font-size="9.7" text-anchor="middle" fill="#262626" stroke="#262626" stroke-width="0.22" >&#8722;15</text>
<text x="38.80" y="205.40" font-size="9.7" text-anchor="end" fill="#262626" stroke="#262626" stroke-width="0.22" >&#8722;15</text>
<text x="106.20" y="242.40" font-size="9.7" text-anchor="middle" fill="#262626" stroke="#262626" stroke-width="0.22" >&#8722;10</text>
<text x="38.80" y="179.70" font-size="9.7" text-anchor="end" fill="#262626" stroke="#262626" stroke-width="0.22" >&#8722;10</text>
<text x="131.90" y="242.40" font-size="9.7" text-anchor="middle" fill="#262626" stroke="#262626" stroke-width="0.22" >&#8722;5</text>
<text x="38.80" y="154.00" font-size="9.7" text-anchor="end" fill="#262626" stroke="#262626" stroke-width="0.22" >&#8722;5</text>
<text x="158.40" y="242.40" font-size="9.7" text-anchor="middle" fill="#262626" stroke="#262626" stroke-width="0.22" >0</text>
<text x="38.80" y="128.30" font-size="9.7" text-anchor="end" fill="#262626" stroke="#262626" stroke-width="0.22" >0</text>
<text x="184.10" y="242.40" font-size="9.7" text-anchor="middle" fill="#262626" stroke="#262626" stroke-width="0.22" >5</text>
<text x="38.80" y="102.60" font-size="9.7" text-anchor="end" fill="#262626" stroke="#262626" stroke-width="0.22" >5</text>
<text x="209.80" y="242.40" font-size="9.7" text-anchor="middle" fill="#262626" stroke="#262626" stroke-width="0.22" >10</text>
<text x="38.80" y="76.90" font-size="9.7" text-anchor="end" fill="#262626" stroke="#262626" stroke-width="0.22" >10</text>
<text x="235.50" y="242.40" font-size="9.7" text-anchor="middle" fill="#262626" stroke="#262626" stroke-width="0.22" >15</text>
<text x="38.80" y="51.20" font-size="9.7" text-anchor="end" fill="#262626" stroke="#262626" stroke-width="0.22" >15</text>
<text x="261.20" y="242.40" font-size="9.7" text-anchor="middle" fill="#262626" stroke="#262626" stroke-width="0.22" >20</text>
<text x="38.80" y="25.50" font-size="9.7" text-anchor="end" fill="#262626" stroke="#262626" stroke-width="0.22" >20</text>
<text x="158.60" y="257.00" font-size="9.7" text-anchor="middle" fill="#262626" stroke="#262626" stroke-width="0.22" >Equatorial X, (<tspan font-style="italic">R</tspan><tspan font-size="6.5" dy="2.2">J</tspan><tspan dy="-2.2">)</tspan></text>
<text transform="translate(12.80,124.80) rotate(-90)" font-size="9.7" text-anchor="middle" fill="#262626" stroke="#262626" stroke-width="0.22">Equatorial Y, (<tspan font-style="italic">R</tspan><tspan font-size="6.5" dy="2.2">J</tspan><tspan dy="-2.2">)</tspan></text>
<rect x="283.00" y="227.688" width="20.4" height="3.312" fill="rgb(0,6,255)"/>
<rect x="283.00" y="224.375" width="20.4" height="3.913" fill="rgb(0,18,255)"/>
<rect x="283.00" y="221.062" width="20.4" height="3.913" fill="rgb(0,29,255)"/>
<rect x="283.00" y="217.750" width="20.4" height="3.913" fill="rgb(0,41,255)"/>
<rect x="283.00" y="214.438" width="20.4" height="3.913" fill="rgb(0,53,255)"/>
<rect x="283.00" y="211.125" width="20.4" height="3.913" fill="rgb(0,64,255)"/>
<rect x="283.00" y="207.812" width="20.4" height="3.913" fill="rgb(0,76,255)"/>
<rect x="283.00" y="204.500" width="20.4" height="3.913" fill="rgb(0,88,255)"/>
<rect x="283.00" y="201.188" width="20.4" height="3.913" fill="rgb(0,100,255)"/>
<rect x="283.00" y="197.875" width="20.4" height="3.913" fill="rgb(0,111,255)"/>
<rect x="283.00" y="194.562" width="20.4" height="3.913" fill="rgb(0,123,255)"/>
<rect x="283.00" y="191.250" width="20.4" height="3.913" fill="rgb(0,135,255)"/>
<rect x="283.00" y="187.938" width="20.4" height="3.913" fill="rgb(0,146,255)"/>
<rect x="283.00" y="184.625" width="20.4" height="3.913" fill="rgb(0,158,255)"/>
<rect x="283.00" y="181.312" width="20.4" height="3.913" fill="rgb(0,170,255)"/>
<rect x="283.00" y="178.000" width="20.4" height="3.913" fill="rgb(0,182,255)"/>
<rect x="283.00" y="174.688" width="20.4" height="3.913" fill="rgb(0,193,255)"/>
<rect x="283.00" y="171.375" width="20.4" height="3.913" fill="rgb(0,205,255)"/>
<rect x="283.00" y="168.062" width="20.4" height="3.913" fill="rgb(0,217,255)"/>
<rect x="283.00" y="164.750" width="20.4" height="3.913" fill="rgb(0,229,255)"/>
<rect x="283.00" y="161.438" width="20.4" height="3.913" fill="rgb(0,240,255)"/>
<rect x="283.00" y="158.125" width="20.4" height="3.913" fill="rgb(0,252,255)"/>
<rect x="283.00" y="154.812" width="20.4" height="3.913" fill="rgb(9,255,246)"/>
<rect x="283.00" y="151.500" width="20.4" height="3.913" fill="rgb(21,255,234)"/>
<rect x="283.00" y="148.188" width="20.4" height="3.913" fill="rgb(33,255,222)"/>
<rect x="283.00" y="144.875" width="20.4" height="3.913" fill="rgb(45,255,210)"/>
<rect x="283.00" y="141.562" width="20.4" height="3.913" fill="rgb(57,255,198)"/>
<rect x="283.00" y="138.250" width="20.4" height="3.913" fill="rgb(69,255,186)"/>
<rect x="283.00" y="134.938" width="20.4" height="3.913" fill="rgb(81,255,174)"/>
<rect x="283.00" y="131.625" width="20.4" height="3.913" fill="rgb(93,255,162)"/>
<rect x="283.00" y="128.312" width="20.4" height="3.913" fill="rgb(106,255,149)"/>
<rect x="283.00" y="125.000" width="20.4" height="3.913" fill="rgb(118,255,137)"/>
<rect x="283.00" y="121.688" width="20.4" height="3.913" fill="rgb(130,255,125)"/>
<rect x="283.00" y="118.375" width="20.4" height="3.913" fill="rgb(142,255,113)"/>
<rect x="283.00" y="115.062" width="20.4" height="3.913" fill="rgb(154,255,101)"/>
<rect x="283.00" y="111.750" width="20.4" height="3.913" fill="rgb(166,255,89)"/>
<rect x="283.00" y="108.438" width="20.4" height="3.913" fill="rgb(178,255,77)"/>
<rect x="283.00" y="105.125" width="20.4" height="3.913" fill="rgb(190,255,65)"/>
<rect x="283.00" y="101.812" width="20.4" height="3.913" fill="rgb(202,255,53)"/>
<rect x="283.00" y="98.500" width="20.4" height="3.913" fill="rgb(214,255,41)"/>
<rect x="283.00" y="95.188" width="20.4" height="3.913" fill="rgb(226,255,29)"/>
<rect x="283.00" y="91.875" width="20.4" height="3.913" fill="rgb(238,255,17)"/>
<rect x="283.00" y="88.562" width="20.4" height="3.913" fill="rgb(250,255,5)"/>
<rect x="283.00" y="85.250" width="20.4" height="3.913" fill="rgb(255,245,0)"/>
<rect x="283.00" y="81.938" width="20.4" height="3.913" fill="rgb(255,229,0)"/>
<rect x="283.00" y="78.625" width="20.4" height="3.913" fill="rgb(255,212,0)"/>
<rect x="283.00" y="75.312" width="20.4" height="3.913" fill="rgb(255,196,0)"/>
<rect x="283.00" y="72.000" width="20.4" height="3.913" fill="rgb(255,180,0)"/>
<rect x="283.00" y="68.688" width="20.4" height="3.913" fill="rgb(255,164,0)"/>
<rect x="283.00" y="65.375" width="20.4" height="3.913" fill="rgb(255,147,0)"/>
<rect x="283.00" y="62.062" width="20.4" height="3.913" fill="rgb(255,131,0)"/>
<rect x="283.00" y="58.750" width="20.4" height="3.913" fill="rgb(255,115,0)"/>
<rect x="283.00" y="55.438" width="20.4" height="3.913" fill="rgb(255,99,0)"/>
<rect x="283.00" y="52.125" width="20.4" height="3.913" fill="rgb(255,82,0)"/>
<rect x="283.00" y="48.812" width="20.4" height="3.913" fill="rgb(255,66,0)"/>
<rect x="283.00" y="45.500" width="20.4" height="3.913" fill="rgb(255,50,0)"/>
<rect x="283.00" y="42.188" width="20.4" height="3.913" fill="rgb(255,34,0)"/>
<rect x="283.00" y="38.875" width="20.4" height="3.913" fill="rgb(255,17,0)"/>
<rect x="283.00" y="35.562" width="20.4" height="3.913" fill="rgb(255,1,0)"/>
<rect x="283.00" y="32.250" width="20.4" height="3.913" fill="rgb(233,0,0)"/>
<rect x="283.00" y="28.938" width="20.4" height="3.913" fill="rgb(210,0,0)"/>
<rect x="283.00" y="25.625" width="20.4" height="3.913" fill="rgb(186,0,0)"/>
<rect x="283.00" y="22.312" width="20.4" height="3.913" fill="rgb(163,0,0)"/>
<rect x="283.00" y="19.000" width="20.4" height="3.913" fill="rgb(140,0,0)"/>
<text x="307.30" y="234.60" font-size="9.7" text-anchor="start" fill="#262626" stroke="#262626" stroke-width="0.22" >&#8722;8</text>
<text x="307.30" y="202.00" font-size="9.7" text-anchor="start" fill="#262626" stroke="#262626" stroke-width="0.22" >&#8722;7</text>
<text x="307.30" y="169.40" font-size="9.7" text-anchor="start" fill="#262626" stroke="#262626" stroke-width="0.22" >&#8722;6</text>
<text x="307.30" y="136.80" font-size="9.7" text-anchor="start" fill="#262626" stroke="#262626" stroke-width="0.22" >&#8722;5</text>
<text x="307.30" y="104.20" font-size="9.7" text-anchor="start" fill="#262626" stroke="#262626" stroke-width="0.22" >&#8722;4</text>
<text x="307.30" y="71.60" font-size="9.7" text-anchor="start" fill="#262626" stroke="#262626" stroke-width="0.22" >&#8722;3</text>
<text x="307.30" y="39.00" font-size="9.7" text-anchor="start" fill="#262626" stroke="#262626" stroke-width="0.22" >&#8722;2</text>
<text transform="translate(335.80,125) rotate(-90)" font-size="9.7" text-anchor="middle" fill="#262626" stroke="#262626" stroke-width="0.22">Log<tspan font-size="6.5" dy="2.2">10</tspan><tspan dy="-2.2">(</tspan><tspan font-style="italic">B</tspan><tspan font-size="6.5" dy="-3.5">2</tspan><tspan dy="3.5">), (nT</tspan><tspan font-size="6.5" dy="-3.5">2</tspan><tspan dy="3.5">)</tspan></text>
<rect x="390.70" y="19" width="231" height="212" fill="#000"/>
<path d="M432.21,115.07L429.66,114.74A77.10,77.10 0 0 0 429.00,124.80L431.57,124.80A74.53,74.53 0 0 1 432.21,115.07Z" fill="#0096ff"/><path d="M429.66,114.74L427.11,114.40A79.67,79.67 0 0 0 426.43,124.80L429.00,124.80A77.10,77.10 0 0 1 429.66,114.74Z" fill="#ffb400"/><path d="M429.66,134.86L427.11,135.20A79.67,79.67 0 0 0 429.14,145.42L431.63,144.75A77.10,77.10 0 0 1 429.66,134.86Z" fill="#40f5be"/><path d="M467.36,154.53L465.32,156.09A51.40,51.40 0 0 0 469.75,161.15L471.57,159.33A48.83,48.83 0 0 1 467.36,154.53Z" fill="#faeb00"/><path d="M543.37,189.34L544.65,191.57A77.10,77.10 0 0 0 553.04,185.97L551.47,183.93A74.53,74.53 0 0 1 543.37,189.34Z" fill="#ffa500"/><path d="M544.65,191.57L545.94,193.80A79.67,79.67 0 0 0 554.60,188.01L553.04,185.97A77.10,77.10 0 0 1 544.65,191.57Z" fill="#faeb00"/><path d="M542.80,152.96L544.84,154.53A48.83,48.83 0 0 0 548.39,149.22L546.16,147.93A46.26,46.26 0 0 1 542.80,152.96Z" fill="#c8fa28"/><path d="M548.39,149.22L550.61,150.50A51.40,51.40 0 0 0 553.59,144.47L551.21,143.49A48.83,48.83 0 0 1 548.39,149.22Z" fill="#faeb00"/><path d="M548.84,142.50L551.21,143.49A48.83,48.83 0 0 0 553.27,137.44L550.78,136.77A46.26,46.26 0 0 1 548.84,142.50Z" fill="#40f5be"/><path d="M577.33,154.30L579.71,155.29A79.67,79.67 0 0 0 583.06,145.42L580.57,144.75A77.10,77.10 0 0 1 577.33,154.30Z" fill="#ff1e00"/><path d="M580.57,144.75L583.06,145.42A79.67,79.67 0 0 0 585.09,135.20L582.54,134.86A77.10,77.10 0 0 1 580.57,144.75Z" fill="#faeb00"/><path d="M554.51,118.43L557.06,118.09A51.40,51.40 0 0 0 555.75,111.50L553.27,112.16A48.83,48.83 0 0 1 554.51,118.43Z" fill="#b40000"/><path d="M553.27,112.16L555.75,111.50A51.40,51.40 0 0 0 553.59,105.13L551.21,106.11A48.83,48.83 0 0 1 553.27,112.16Z" fill="#ff1e00"/><path d="M548.39,100.38L550.61,99.10A51.40,51.40 0 0 0 546.88,93.51L544.84,95.07A48.83,48.83 0 0 1 548.39,100.38Z" fill="#c8fa28"/><path d="M542.80,96.64L544.84,95.07A48.83,48.83 0 0 0 540.63,90.27L538.81,92.09A46.26,46.26 0 0 1 542.80,96.64Z" fill="#40f5be"/><path d="M523.80,82.06L524.79,79.69A48.83,48.83 0 0 0 518.74,77.63L518.07,80.12A46.26,46.26 0 0 1 523.80,82.06Z" fill="#ff5000"/><path d="M524.79,79.69L525.77,77.31A51.40,51.40 0 0 0 519.40,75.15L518.74,77.63A48.83,48.83 0 0 1 524.79,79.69Z" fill="#c8fa28"/><path d="M476.60,53.57L475.61,51.19A79.67,79.67 0 0 0 466.27,55.80L467.55,58.03A77.10,77.10 0 0 1 476.60,53.57Z" fill="#ffa500"/>
<path d="M501.47,124.80L403.30,124.80M501.51,125.40L404.18,138.22M501.63,126.00L406.80,151.41M501.83,126.57L411.13,164.14M502.09,127.11L417.07,176.20M502.43,127.62L424.54,187.38M502.83,128.07L433.41,197.49M503.28,128.47L443.52,206.36M503.79,128.81L454.70,213.83M504.33,129.07L466.76,219.77M504.90,129.27L479.49,224.10M505.50,129.39L492.68,226.72M506.10,129.43L506.10,227.60M506.70,129.39L519.52,226.72M507.30,129.27L532.71,224.10M507.87,129.07L545.44,219.77M508.41,128.81L557.50,213.83M508.92,128.47L568.68,206.36M509.37,128.07L578.79,197.49M509.77,127.62L587.66,187.38M510.11,127.11L595.13,176.20M510.37,126.57L601.07,164.14M510.57,126.00L605.40,151.41M510.69,125.40L608.02,138.22M510.73,124.80L608.90,124.80M510.69,124.20L608.02,111.38M510.57,123.60L605.40,98.19M510.37,123.03L601.07,85.46M510.11,122.49L595.13,73.40M509.77,121.98L587.66,62.22M509.37,121.53L578.79,52.11M508.92,121.13L568.68,43.24M508.41,120.79L557.50,35.77M507.87,120.53L545.44,29.83M507.30,120.33L532.71,25.50M506.70,120.21L519.52,22.88M506.10,120.17L506.10,22.00M505.50,120.21L492.68,22.88M504.90,120.33L479.49,25.50M504.33,120.53L466.76,29.83M503.79,120.79L454.70,35.77M503.28,121.13L443.52,43.24M502.83,121.53L433.41,52.11M502.43,121.98L424.54,62.22M502.09,122.49L417.07,73.40M501.83,123.03L411.13,85.46M501.63,123.60L406.80,98.19M501.51,124.20L404.18,111.38" stroke="#9a9a9a" stroke-width="0.55" fill="none"/>
<circle cx="506.10" cy="124.8" r="25.70" stroke="#9a9a9a" stroke-width="0.6" fill="none"/>
<circle cx="506.10" cy="124.8" r="51.40" stroke="#9a9a9a" stroke-width="0.6" fill="none"/>
<circle cx="506.10" cy="124.8" r="102.80" stroke="#9a9a9a" stroke-width="0.6" fill="none"/>
<circle cx="506.10" cy="124.8" r="77.10" stroke="#e6e6e6" stroke-width="0.8" stroke-dasharray="1.6 1.6" fill="none"/>
<circle cx="506.10" cy="124.8" r="48.32" stroke="#e6e6e6" stroke-width="0.8" stroke-dasharray="0.7 2.2" fill="none"/>
<circle cx="505.60" cy="124.7" r="4.9" fill="#3c3c3c"/>
<circle cx="505.60" cy="124.7" r="4.15" stroke="#d98c48" stroke-width="1.15" fill="none"/>
<circle cx="505.60" cy="124.7" r="3.05" stroke="#dcdcdc" stroke-width="0.9" fill="none"/>
<circle cx="505.60" cy="124.7" r="1.95" stroke="#b58a62" stroke-width="0.8" fill="none"/>
<circle cx="505.60" cy="124.7" r="1.2" fill="#7f9a9a"/>
<path d="M403.30,231L403.30,229M403.30,19L403.30,21M390.70,227.60L392.70,227.60M621.70,227.60L619.70,227.60M429.00,231L429.00,229M429.00,19L429.00,21M390.70,201.90L392.70,201.90M621.70,201.90L619.70,201.90M454.70,231L454.70,229M454.70,19L454.70,21M390.70,176.20L392.70,176.20M621.70,176.20L619.70,176.20M480.40,231L480.40,229M480.40,19L480.40,21M390.70,150.50L392.70,150.50M621.70,150.50L619.70,150.50M506.10,231L506.10,229M506.10,19L506.10,21M390.70,124.80L392.70,124.80M621.70,124.80L619.70,124.80M531.80,231L531.80,229M531.80,19L531.80,21M390.70,99.10L392.70,99.10M621.70,99.10L619.70,99.10M557.50,231L557.50,229M557.50,19L557.50,21M390.70,73.40L392.70,73.40M621.70,73.40L619.70,73.40M583.20,231L583.20,229M583.20,19L583.20,21M390.70,47.70L392.70,47.70M621.70,47.70L619.70,47.70M608.90,231L608.90,229M608.90,19L608.90,21M390.70,22.00L392.70,22.00M621.70,22.00L619.70,22.00" stroke="#555" stroke-width="0.6"/>
<rect x="408.00" y="120.10" width="13.80" height="10.4" fill="#000"/>
<text x="414.90" y="128.70" font-size="9.8" text-anchor="middle" fill="#f0f0f0" stroke="#f0f0f0" stroke-width="0.22" >0&#160;h</text>
<rect x="589.75" y="120.30" width="16.90" height="10.4" fill="#000"/>
<text x="598.20" y="128.90" font-size="9.8" text-anchor="middle" fill="#f0f0f0" stroke="#f0f0f0" stroke-width="0.22" >12&#160;h</text>
<rect x="497.85" y="29.50" width="16.90" height="10.4" fill="#000"/>
<text x="506.30" y="38.10" font-size="9.8" text-anchor="middle" fill="#f0f0f0" stroke="#f0f0f0" stroke-width="0.22" >18&#160;h</text>
<rect x="499.50" y="212.00" width="13.80" height="10.4" fill="#000"/>
<text x="506.40" y="220.60" font-size="9.8" text-anchor="middle" fill="#f0f0f0" stroke="#f0f0f0" stroke-width="0.22" >6&#160;h</text>
<text x="506.10" y="113.30" font-size="9.3" text-anchor="middle" fill="#f0f0f0" stroke="#f0f0f0" stroke-width="0.22" >Jupiter</text>
<rect x="448.60" y="168.3" width="47" height="10.6" fill="#000"/>
<clipPath id="eur506"><rect x="448.60" y="168.3" width="47" height="10.6"/></clipPath><g clip-path="url(#eur506)"></g>
<text x="450.30" y="176.90" font-size="9.5" text-anchor="start" fill="#ececec" stroke="#ececec" stroke-width="0.22" >Europa</text>
<path d="M483.20,174.1L492.70,174.1M490.20,172.2L492.80,174.1L490.20,176.0" stroke="#ececec" stroke-width="0.75" fill="none"/>
<rect x="424.60" y="195.3" width="62" height="10.6" fill="#000"/>
<text x="426.20" y="203.70" font-size="9.5" text-anchor="start" fill="#ececec" stroke="#ececec" stroke-width="0.22" >Ganymede</text>
<path d="M475.90,201.2L484.80,201.2M482.30,199.3L484.90,201.2L482.30,203.1" stroke="#ececec" stroke-width="0.75" fill="none"/>
<text x="506.20" y="14.70" font-size="9.7" text-anchor="middle" fill="#262626" stroke="#262626" stroke-width="0.22" >Moon encounters</text>
<text x="402.50" y="242.40" font-size="9.7" text-anchor="middle" fill="#262626" stroke="#262626" stroke-width="0.22" >&#8722;20</text>
<text x="386.50" y="231.10" font-size="9.7" text-anchor="end" fill="#262626" stroke="#262626" stroke-width="0.22" >&#8722;20</text>
<text x="428.20" y="242.40" font-size="9.7" text-anchor="middle" fill="#262626" stroke="#262626" stroke-width="0.22" >&#8722;15</text>
<text x="386.50" y="205.40" font-size="9.7" text-anchor="end" fill="#262626" stroke="#262626" stroke-width="0.22" >&#8722;15</text>
<text x="453.90" y="242.40" font-size="9.7" text-anchor="middle" fill="#262626" stroke="#262626" stroke-width="0.22" >&#8722;10</text>
<text x="386.50" y="179.70" font-size="9.7" text-anchor="end" fill="#262626" stroke="#262626" stroke-width="0.22" >&#8722;10</text>
<text x="479.60" y="242.40" font-size="9.7" text-anchor="middle" fill="#262626" stroke="#262626" stroke-width="0.22" >&#8722;5</text>
<text x="386.50" y="154.00" font-size="9.7" text-anchor="end" fill="#262626" stroke="#262626" stroke-width="0.22" >&#8722;5</text>
<text x="506.10" y="242.40" font-size="9.7" text-anchor="middle" fill="#262626" stroke="#262626" stroke-width="0.22" >0</text>
<text x="386.50" y="128.30" font-size="9.7" text-anchor="end" fill="#262626" stroke="#262626" stroke-width="0.22" >0</text>
<text x="531.80" y="242.40" font-size="9.7" text-anchor="middle" fill="#262626" stroke="#262626" stroke-width="0.22" >5</text>
<text x="386.50" y="102.60" font-size="9.7" text-anchor="end" fill="#262626" stroke="#262626" stroke-width="0.22" >5</text>
<text x="557.50" y="242.40" font-size="9.7" text-anchor="middle" fill="#262626" stroke="#262626" stroke-width="0.22" >10</text>
<text x="386.50" y="76.90" font-size="9.7" text-anchor="end" fill="#262626" stroke="#262626" stroke-width="0.22" >10</text>
<text x="583.20" y="242.40" font-size="9.7" text-anchor="middle" fill="#262626" stroke="#262626" stroke-width="0.22" >15</text>
<text x="386.50" y="51.20" font-size="9.7" text-anchor="end" fill="#262626" stroke="#262626" stroke-width="0.22" >15</text>
<text x="608.90" y="242.40" font-size="9.7" text-anchor="middle" fill="#262626" stroke="#262626" stroke-width="0.22" >20</text>
<text x="386.50" y="25.50" font-size="9.7" text-anchor="end" fill="#262626" stroke="#262626" stroke-width="0.22" >20</text>
<text x="506.30" y="257.00" font-size="9.7" text-anchor="middle" fill="#262626" stroke="#262626" stroke-width="0.22" >Equatorial X, (<tspan font-style="italic">R</tspan><tspan font-size="6.5" dy="2.2">J</tspan><tspan dy="-2.2">)</tspan></text>
<text transform="translate(360.50,124.80) rotate(-90)" font-size="9.7" text-anchor="middle" fill="#262626" stroke="#262626" stroke-width="0.22">Equatorial Y, (<tspan font-style="italic">R</tspan><tspan font-size="6.5" dy="2.2">J</tspan><tspan dy="-2.2">)</tspan></text>
<rect x="630.70" y="227.688" width="20.4" height="3.312" fill="rgb(0,6,255)"/>
<rect x="630.70" y="224.375" width="20.4" height="3.913" fill="rgb(0,18,255)"/>
<rect x="630.70" y="221.062" width="20.4" height="3.913" fill="rgb(0,29,255)"/>
<rect x="630.70" y="217.750" width="20.4" height="3.913" fill="rgb(0,41,255)"/>
<rect x="630.70" y="214.438" width="20.4" height="3.913" fill="rgb(0,53,255)"/>
<rect x="630.70" y="211.125" width="20.4" height="3.913" fill="rgb(0,64,255)"/>
<rect x="630.70" y="207.812" width="20.4" height="3.913" fill="rgb(0,76,255)"/>
<rect x="630.70" y="204.500" width="20.4" height="3.913" fill="rgb(0,88,255)"/>
<rect x="630.70" y="201.188" width="20.4" height="3.913" fill="rgb(0,100,255)"/>
<rect x="630.70" y="197.875" width="20.4" height="3.913" fill="rgb(0,111,255)"/>
<rect x="630.70" y="194.562" width="20.4" height="3.913" fill="rgb(0,123,255)"/>
<rect x="630.70" y="191.250" width="20.4" height="3.913" fill="rgb(0,135,255)"/>
<rect x="630.70" y="187.938" width="20.4" height="3.913" fill="rgb(0,146,255)"/>
<rect x="630.70" y="184.625" width="20.4" height="3.913" fill="rgb(0,158,255)"/>
<rect x="630.70" y="181.312" width="20.4" height="3.913" fill="rgb(0,170,255)"/>
<rect x="630.70" y="178.000" width="20.4" height="3.913" fill="rgb(0,182,255)"/>
<rect x="630.70" y="174.688" width="20.4" height="3.913" fill="rgb(0,193,255)"/>
<rect x="630.70" y="171.375" width="20.4" height="3.913" fill="rgb(0,205,255)"/>
<rect x="630.70" y="168.062" width="20.4" height="3.913" fill="rgb(0,217,255)"/>
<rect x="630.70" y="164.750" width="20.4" height="3.913" fill="rgb(0,229,255)"/>
<rect x="630.70" y="161.438" width="20.4" height="3.913" fill="rgb(0,240,255)"/>
<rect x="630.70" y="158.125" width="20.4" height="3.913" fill="rgb(0,252,255)"/>
<rect x="630.70" y="154.812" width="20.4" height="3.913" fill="rgb(9,255,246)"/>
<rect x="630.70" y="151.500" width="20.4" height="3.913" fill="rgb(21,255,234)"/>
<rect x="630.70" y="148.188" width="20.4" height="3.913" fill="rgb(33,255,222)"/>
<rect x="630.70" y="144.875" width="20.4" height="3.913" fill="rgb(45,255,210)"/>
<rect x="630.70" y="141.562" width="20.4" height="3.913" fill="rgb(57,255,198)"/>
<rect x="630.70" y="138.250" width="20.4" height="3.913" fill="rgb(69,255,186)"/>
<rect x="630.70" y="134.938" width="20.4" height="3.913" fill="rgb(81,255,174)"/>
<rect x="630.70" y="131.625" width="20.4" height="3.913" fill="rgb(93,255,162)"/>
<rect x="630.70" y="128.312" width="20.4" height="3.913" fill="rgb(106,255,149)"/>
<rect x="630.70" y="125.000" width="20.4" height="3.913" fill="rgb(118,255,137)"/>
<rect x="630.70" y="121.688" width="20.4" height="3.913" fill="rgb(130,255,125)"/>
<rect x="630.70" y="118.375" width="20.4" height="3.913" fill="rgb(142,255,113)"/>
<rect x="630.70" y="115.062" width="20.4" height="3.913" fill="rgb(154,255,101)"/>
<rect x="630.70" y="111.750" width="20.4" height="3.913" fill="rgb(166,255,89)"/>
<rect x="630.70" y="108.438" width="20.4" height="3.913" fill="rgb(178,255,77)"/>
<rect x="630.70" y="105.125" width="20.4" height="3.913" fill="rgb(190,255,65)"/>
<rect x="630.70" y="101.812" width="20.4" height="3.913" fill="rgb(202,255,53)"/>
<rect x="630.70" y="98.500" width="20.4" height="3.913" fill="rgb(214,255,41)"/>
<rect x="630.70" y="95.188" width="20.4" height="3.913" fill="rgb(226,255,29)"/>
<rect x="630.70" y="91.875" width="20.4" height="3.913" fill="rgb(238,255,17)"/>
<rect x="630.70" y="88.562" width="20.4" height="3.913" fill="rgb(250,255,5)"/>
<rect x="630.70" y="85.250" width="20.4" height="3.913" fill="rgb(255,245,0)"/>
<rect x="630.70" y="81.938" width="20.4" height="3.913" fill="rgb(255,229,0)"/>
<rect x="630.70" y="78.625" width="20.4" height="3.913" fill="rgb(255,212,0)"/>
<rect x="630.70" y="75.312" width="20.4" height="3.913" fill="rgb(255,196,0)"/>
<rect x="630.70" y="72.000" width="20.4" height="3.913" fill="rgb(255,180,0)"/>
<rect x="630.70" y="68.688" width="20.4" height="3.913" fill="rgb(255,164,0)"/>
<rect x="630.70" y="65.375" width="20.4" height="3.913" fill="rgb(255,147,0)"/>
<rect x="630.70" y="62.062" width="20.4" height="3.913" fill="rgb(255,131,0)"/>
<rect x="630.70" y="58.750" width="20.4" height="3.913" fill="rgb(255,115,0)"/>
<rect x="630.70" y="55.438" width="20.4" height="3.913" fill="rgb(255,99,0)"/>
<rect x="630.70" y="52.125" width="20.4" height="3.913" fill="rgb(255,82,0)"/>
<rect x="630.70" y="48.812" width="20.4" height="3.913" fill="rgb(255,66,0)"/>
<rect x="630.70" y="45.500" width="20.4" height="3.913" fill="rgb(255,50,0)"/>
<rect x="630.70" y="42.188" width="20.4" height="3.913" fill="rgb(255,34,0)"/>
<rect x="630.70" y="38.875" width="20.4" height="3.913" fill="rgb(255,17,0)"/>
<rect x="630.70" y="35.562" width="20.4" height="3.913" fill="rgb(255,1,0)"/>
<rect x="630.70" y="32.250" width="20.4" height="3.913" fill="rgb(233,0,0)"/>
<rect x="630.70" y="28.938" width="20.4" height="3.913" fill="rgb(210,0,0)"/>
<rect x="630.70" y="25.625" width="20.4" height="3.913" fill="rgb(186,0,0)"/>
<rect x="630.70" y="22.312" width="20.4" height="3.913" fill="rgb(163,0,0)"/>
<rect x="630.70" y="19.000" width="20.4" height="3.913" fill="rgb(140,0,0)"/>
<text x="655.00" y="234.60" font-size="9.7" text-anchor="start" fill="#262626" stroke="#262626" stroke-width="0.22" >&#8722;8</text>
<text x="655.00" y="202.00" font-size="9.7" text-anchor="start" fill="#262626" stroke="#262626" stroke-width="0.22" >&#8722;7</text>
<text x="655.00" y="169.40" font-size="9.7" text-anchor="start" fill="#262626" stroke="#262626" stroke-width="0.22" >&#8722;6</text>
<text x="655.00" y="136.80" font-size="9.7" text-anchor="start" fill="#262626" stroke="#262626" stroke-width="0.22" >&#8722;5</text>
<text x="655.00" y="104.20" font-size="9.7" text-anchor="start" fill="#262626" stroke="#262626" stroke-width="0.22" >&#8722;4</text>
<text x="655.00" y="71.60" font-size="9.7" text-anchor="start" fill="#262626" stroke="#262626" stroke-width="0.22" >&#8722;3</text>
<text x="655.00" y="39.00" font-size="9.7" text-anchor="start" fill="#262626" stroke="#262626" stroke-width="0.22" >&#8722;2</text>
<text transform="translate(683.50,125) rotate(-90)" font-size="9.7" text-anchor="middle" fill="#262626" stroke="#262626" stroke-width="0.22">Log<tspan font-size="6.5" dy="2.2">10</tspan><tspan dy="-2.2">(</tspan><tspan font-style="italic">B</tspan><tspan font-size="6.5" dy="-3.5">2</tspan><tspan dy="3.5">), (nT</tspan><tspan font-size="6.5" dy="-3.5">2</tspan><tspan dy="3.5">)</tspan></text>
<path d="M43.50,494.06L615.50,494.06M43.50,471.82L615.50,471.82M43.50,449.58L615.50,449.58M43.50,427.34L615.50,427.34M43.50,405.10L615.50,405.10M43.50,382.86L615.50,382.86M43.50,360.62L615.50,360.62M43.50,338.38L615.50,338.38M43.50,316.14L615.50,316.14M75.28,293.90L75.28,516.30M107.06,293.90L107.06,516.30M138.83,293.90L138.83,516.30M170.61,293.90L170.61,516.30M202.39,293.90L202.39,516.30M234.17,293.90L234.17,516.30M265.94,293.90L265.94,516.30M297.72,293.90L297.72,516.30M329.50,293.90L329.50,516.30M361.28,293.90L361.28,516.30M393.06,293.90L393.06,516.30M424.83,293.90L424.83,516.30M456.61,293.90L456.61,516.30M488.39,293.90L488.39,516.30M520.17,293.90L520.17,516.30M551.94,293.90L551.94,516.30M583.72,293.90L583.72,516.30" stroke="#c8c8c8" stroke-width="0.7" stroke-dasharray="0.8 2.4" fill="none"/>
<path d="M43.5,403.9L47.5,399.9L51.5,401.1L55.5,402.3L59.5,399.4L63.5,401.8L67.5,405.0L71.5,399.5L75.5,395.4L79.5,397.3L83.5,396.0L87.5,395.3L91.5,400.2L95.5,400.4L99.5,396.7L103.5,400.1L107.5,403.5L111.5,400.6L115.5,400.2L119.5,400.1L123.5,393.8L127.5,391.8L131.5,396.4L135.5,395.2L139.5,391.8L143.5,393.4L147.5,391.9L151.5,387.7L155.5,389.5L159.5,389.6L163.5,382.5L167.5,379.9L171.5,381.2L175.5,378.5L179.5,380.6L183.5,385.7L187.5,382.8L191.5,378.1L195.5,380.3L199.5,380.1L203.5,376.5L207.5,377.9L211.5,377.9L215.5,373.2L219.5,375.5L223.5,381.8L227.5,381.0L231.5,380.4L235.5,382.8L239.5,379.9L243.5,377.7L247.5,382.8L251.5,383.6L255.5,379.2L259.5,380.3L263.5,381.8L267.5,379.1L271.5,381.2L275.5,383.8L279.5,378.2L283.5,374.7L287.5,378.0L291.5,378.0L295.5,378.1L299.5,383.2L303.5,383.4L307.5,379.8L311.5,383.5L315.5,386.9L319.5,383.5L323.5,382.6L327.5,382.7L331.5,377.5L335.5,376.8L339.5,382.4L343.5,381.9L347.5,379.4L351.5,382.3L355.5,382.6L359.5,380.7L363.5,385.4L367.5,388.2L371.5,383.9L375.5,384.5L379.5,389.2L383.5,389.2L387.5,391.1L391.5,395.6L395.5,392.3L399.5,387.7L403.5,390.6L407.5,391.4L411.5,388.6L415.5,391.0L419.5,392.3L419.5,464.5L415.5,464.5L411.5,464.5L407.5,464.5L403.5,464.5L399.5,464.5L395.5,464.5L391.5,464.5L387.5,464.5L383.5,464.5L379.5,464.5L375.5,464.5L371.5,464.5L367.5,464.5L363.5,464.5L359.5,464.5L355.5,464.5L351.5,464.5L347.5,464.5L343.5,464.6L339.5,465.0L335.5,465.3L331.5,465.7L327.5,466.1L323.5,466.4L319.5,466.8L315.5,467.1L311.5,467.5L307.5,467.8L303.5,468.2L299.5,468.5L295.5,468.2L291.5,467.9L287.5,467.6L283.5,467.3L279.5,467.0L275.5,466.7L271.5,466.4L267.5,466.1L263.5,465.8L259.5,465.6L255.5,465.3L251.5,465.0L247.5,464.7L243.5,464.2L239.5,463.2L235.5,462.3L231.5,461.4L227.5,460.5L223.5,459.6L219.5,458.7L215.5,457.8L211.5,456.8L207.5,455.9L203.5,455.0L199.5,454.1L195.5,453.2L191.5,452.3L187.5,451.4L183.5,450.4L179.5,449.5L175.5,448.6L171.5,448.8L167.5,449.1L163.5,449.4L159.5,449.7L155.5,450.1L151.5,450.4L147.5,450.3L143.5,450.0L139.5,449.7L135.5,449.3L131.5,449.0L127.5,448.7L123.5,448.4L119.5,448.1L115.5,447.7L111.5,447.4L107.5,447.1L103.5,446.8L99.5,446.5L95.5,446.3L91.5,446.2L87.5,446.1L83.5,445.9L79.5,445.8L75.5,445.6L71.5,445.5L67.5,445.3L63.5,445.2L59.5,445.1L55.5,444.9L51.5,444.8L47.5,444.6L43.5,444.5Z" fill="#e1e1e1"/>
<path d="M218.7 318.5h0m-5.6 1h0m75.1-0.7h0m-5.8 2.1h0m50.6-0.4h0m1.7 0.5h0m-93 1.4h0m56.6 0.6h0m-34 1.3h0m16.5-0.1h0m11.2 0.3h0m42.3-0.9h0m-133.5 1h0m14.2 0.4h0m3.5-0.4h0m65.8 0.1h0m-54.6 1.7h0m56.9 0.1h0m-84.4 0.9h0m12.7 0.1h0m54.2-0.2h0m79-0.5h0m7.9-0.2h0m-143.2 1.6h0m4.9-0.1h0m0-0.5h0m60.3 0.7h0m3.1-0.5h0m0-0.1h0m0.1 0.2h0m0.2 0.5h0m0.4-0.1h0m0.4-0.8h0m3.7 0.6h0m0.4 0.2h0m7.7-0.4h0m41-0.2h0m-129.9 0.9h0m17.2 0.3h0m36.4 0.2h0m22.7-0.6h0m5.3 0.6h0m7.8-0.3h0m0.5 0.4h0m2.9 0h0m23.7-0.6h0m9.1 0.1h0m7.8 0.4h0m-138.4 1.3h0m52.3 0.1h0m-37.4 0.4h0m11.3 0.3h0m7.8-0.6h0m2.4 0.7h0m27.9-0.5h0m1.1 0h0m2.6 0.3h0m16.5-0.5h0m0.6 0.8h0m2.9-0.1h0m4.1-0.6h0m1.3 0.7h0m43.5 0.1h0m8.3-0.2h0m1.7-0.3h0m-157.2 0.9h0m6.9 0.3h0m20 0h0m25.5-0.5h0m14 0.6h0m1.5-0.1h0m3.5-0.7h0m7.2 0.5h0m27.8 0.3h0m4.7-0.8h0m11.9 0.9h0m7.4-0.5h0m6.1 0.3h0m2.9-0.1h0m3.6-0.5h0m11.2 0.6h0m0.6 0.2h0m5.5-0.8h0m22.3-0.1h0m-168.2 1.2h0m13.7 0.2h0m6.4 0.4h0m33.5-0.2h0m20.1 0.3h0m2.1 0h0m2.5-0.6h0m7.7 0h0m10.6-0.1h0m29 0.1h0m1.1-0.1h0m6.8 0.1h0m5.3-0.2h0m2.7 0.6h0m0-0.4h0m4.7-0.3h0m16.3 2h0m-196 0.9h0m3.9 0h0m1.7-0.1h0m24.8-0.4h0m9.1 0.3h0m6.2 0h0m4.1-0.4h0m6 0.5h0m13.5 0.1h0m1.3-0.8h0m0.5 0.5h0m3.1 0.3h0m1.8-0.6h0m6.6-0.1h0m1.1-0.2h0m2.3 0.3h0m1.1 0.5h0m6.2-0.1h0m4.6-0.6h0m6.2 0.9h0m7.8-1h0m6.8 0.2h0m1.2 0.4h0m4-0.3h0m2.9 0h0m0.9 0.2h0m12.3 0.4h0m0.1-0.7h0m17.2 0.5h0m4.7 0.1h0m12.5-0.6h0m13.8-0.1h0m13.5-0.1h0m40.4 0.1h0m-236 1.3h0m15.4 0.4h0m2.5-0.5h0m6.4-0.2h0m4.2 0.4h0m2.6 0.1h0m12 0.3h0m12.4-0.7h0m4.1 0.2h0m0.3 0.2h0m15.8-0.2h0m1.9 0.6h0m0.3-0.8h0m7 0.5h0m12.6 0.3h0m4-0.1h0m4.2-0.3h0m1.7-0.3h0m0.4 0.4h0m1.2-0.4h0m3.2 0.1h0m3.7 0.1h0m1.1 0.1h0m4.3-0.1h0m7.1 0.4h0m19.3-0.7h0m0.3-0.1h0m3.7 0.2h0m5.6-0.2h0m7.8 0.3h0m6.1 0.4h0m1.5-0.7h0m12.2 0.7h0m7.1-0.4h0m9.8-0.1h0m-174.5 1h0m0.5 0.5h0m0.4-0.1h0m9.4-0.4h0m1.6-0.1h0m12.4 0.3h0m1.1 0h0m10.6-0.1h0m2-0.2h0m2.1 0.6h0m12.3-0.7h0m5.8 0.5h0m1.8-0.5h0m1.9 0.2h0m8.8 0.1h0m4.1 0.2h0m3.2-0.4h0m1.9-0.1h0m4 0.7h0m3.9-0.2h0m17.1-0.1h0m15.9 0h0m7.7 0.2h0m12.2-0.1h0m13.3-0.4h0m0.5 0.5h0m12.2 0h0m2.2 0h0m-162.9 1.3h0m7.5 0h0m118.3-0.1h0m-161.2 0.8h0m1.6-0.5h0m1.9 0.8h0m1.8-0.8h0m9.6-0.1h0m3.9 0.4h0m5-0.4h0m2.8 0.4h0m1.3 0.2h0m1.4-0.4h0m9 0.3h0m1.2-0.1h0m4.6 0.4h0m10.9-0.2h0m0.8-0.4h0m4.3 0.6h0m6.2-0.2h0m1 0.2h0m0.5-0.2h0m11.5 0h0m9.9-0.1h0m0.5 0.1h0m0.3-0.1h0m0.6 0.1h0m4.7 0.1h0m4.2-0.7h0m0.5 0.8h0m3.9-0.3h0m2.8 0.1h0m3.9 0h0m1.3 0h0m5.7 0h0m0.9 0h0m0.6-0.6h0m0.3 0.7h0m2.4-0.7h0m12.9 0.2h0m0.7 0.1h0m2.2-0.3h0m0.4 0.3h0m5.7-0.2h0m28.2 0.2h0m5.5-0.2h0m1 0.5h0m0.1 0h0m20.3-0.5h0m0.3 0.8h0m-211.3 0.1h0m1.5 0.2h0m1.4-0.1h0m2.8 0.5h0m5.3-0.7h0m2.6 0.5h0m13.7 0.2h0m4.9 0h0m2.4-0.2h0m13.7 0.2h0m7.2 0.1h0m0.3 0h0m18.1-0.2h0m0-0.3h0m9.1-0.1h0m1 0.5h0m9.4-0.2h0m1.8 0.3h0m2.3-0.1h0m6.4-0.3h0m15.2-0.4h0m2.3 0.9h0m5.1-0.7h0m5.5 0.8h0m0.3-0.1h0m6.3-0.4h0m0-0.1h0m0.6 0.5h0m30.9-0.3h0m11.6 0.2h0m2.2-0.7h0m1.8 0.8h0m0.3 0h0m0.8-0.6h0m1.1 0.3h0m26.3-0.5h0m5.6 0.9h0m-217.4 0.6h0m7.4 0.2h0m0.8-0.5h0m23.3-0.1h0m10.2 0.2h0m7.3 0.2h0m7.9 0.3h0m0.4-0.4h0m1.9-0.4h0m5 0h0m13.5 0.6h0m2.2-0.2h0m7.9-0.1h0m5.3 0.3h0m0.5-0.2h0m12.2-0.4h0m9.7 0.8h0m1.1-0.7h0m1 0.1h0m0.3-0.2h0m1.9 0.8h0m1.5-0.6h0m0.5 0.2h0m1.9-0.4h0m0.2 0.2h0m1.7 0h0m0.4-0.1h0m10.7 0.1h0m8.9 0.3h0m6.1-0.4h0m2.1 0h0m1.7 0h0m1.9 0.5h0m10.3-0.4h0m4.5-0.2h0m12.2 0.7h0m3.2-0.2h0m1.7 0.2h0m2.3-0.6h0m53.1 0.1h0m2.4 0.1h0m8.7 0.3h0m-242.9 1.3h0m33.1-0.1h0m23.7 0.1h0m51.4 0h0m63.4-0.1h0m17.3 0h0m-196.7 0.4h0m2.4-0.2h0m0.8 0.9h0m6.9-0.8h0m0.3 0.4h0m8.6 0.3h0m8.9-0.1h0m3.3-0.6h0m0.4 0.5h0m8.6-0.6h0m4 0.8h0m3.4-0.3h0m0.8-0.4h0m2.1 0.2h0m0.4 0.4h0m1.5 0h0m2.2 0h0m0.1-0.7h0m0.5 0.2h0m0.3 0.3h0m0.3-0.6h0m4.6 0.2h0m3.8 0.2h0m2.5-0.1h0m4.1 0.4h0m1.3-0.6h0m11.1 0.9h0m0.1-0.8h0m1.4 0.2h0m1.7-0.4h0m9.1 0.6h0m1.1 0.3h0m14.4-0.6h0m1.4 0.7h0m2.6-0.8h0m0 0h0m4.6 0.3h0m2.6 0.3h0m0.6 0h0m0.6-0.7h0m0.7 0.2h0m0 0.4h0m4 0.1h0m3.3 0.1h0m1.1-0.1h0m2.4-0.4h0m12.6 0.5h0m3-0.8h0m1.6 0.8h0m0.7-0.1h0m2.7-0.4h0m4.4 0.1h0m2.4 0.4h0m1.1-0.8h0m0.6 0.7h0m0.1-0.6h0m1.9 0.2h0m0.3-0.1h0m0.9 0.6h0m0.1 0h0m12.2-0.4h0m0.1-0.3h0m4.9 0.2h0m0.2 0.3h0m4.2 0.1h0m1.5-0.2h0m10.2 0h0m3.3-0.3h0m46.7-0.1h0m3.3 0h0m-245.2 1.5h0m0.1-0.2h0m2.9 0h0m8 0.2h0m0.3-0.7h0m0.2 0.3h0m2-0.1h0m4.5-0.2h0m1.7 0.7h0m0.4 0.3h0m4.1-0.8h0m7.3 0.1h0m2.2 0h0m5.1-0.2h0m3.7 0.3h0m0.9-0.1h0m0.1 0.3h0m14.1 0h0m1.2 0.2h0m2.8 0h0m2.6-0.4h0m2.8-0.4h0m0.2 0.3h0m7.5 0.1h0m0.9 0.1h0m2.5 0.5h0m5.9-0.9h0m1.6 0.1h0m3.9 0.7h0m0.6-0.8h0m1.8 0.2h0m9.3 0.5h0m1.8-0.3h0m4.2 0.3h0m6.3-0.6h0m0.4-0.2h0m1.1 0.8h0m20 0h0m6.6 0h0m5.7-0.2h0m2.7 0h0m1.2 0h0m4.4 0.1h0m17.8 0.3h0m0.2-0.9h0m0.4 0.3h0m2 0.5h0m6.8-0.4h0m1.1 0.5h0m14.7-0.9h0m13 0.1h0m15.4 0.2h0m5.2 0.3h0m1.5-0.2h0m1.4-0.2h0m-243.7 0.8h0m12.2 0.3h0m7.3-0.3h0m2.6 0.8h0m8.6-0.6h0m0.1 0.2h0m4.5 0h0m5.3 0.3h0m2.2-0.8h0m7.1 0.7h0m0.8-0.4h0m5 0.3h0m3.9-0.5h0m2.6 0.7h0m0.6 0.1h0m1.1-0.8h0m0.1 0.7h0m0.1-0.1h0m10.6 0.1h0m8.9-0.6h0m0.9 0h0m1.4 0.2h0m10.9-0.1h0m7.6-0.3h0m0.4 0.8h0m3-0.3h0m2.2 0.2h0m0.5-0.5h0m0.6 0.2h0m0.8-0.2h0m4.3 0.2h0m0.5 0.1h0m0 0.4h0m2.9-0.3h0m1-0.4h0m5.7 0.5h0m0-0.6h0m13.4 0.5h0m4.8 0.1h0m2.6-0.2h0m14.9 0.3h0m1.8-0.6h0m18.7 0.3h0m2-0.1h0m6.9-0.2h0m4-0.1h0m7.7 0.3h0m51.2 0h0m-263.3 1.5h0m51.5 0h0m9.7 0h0m6.6 0h0m3.8 0h0m53.7 0h0m5.7 0h0m1 0.1h0m5.7 0h0m10.1 0h0m24.9-0.1h0m19.5 0h0m47.9 0h0m24.6 0.1h0m-277.3 0.7h0m11.4 0.3h0m1.6 0h0m3.7-1h0m1 0.5h0m6.7 0.2h0m3.1-0.7h0m0.9 0.9h0m0.9-0.6h0m4.6 0.4h0m3.8 0.2h0m8-0.8h0m0 0.9h0m3.3-0.6h0m0.7-0.1h0m3.5 0.1h0m4.3 0.1h0m2.8-0.5h0m0.7 0.1h0m3.4 0.5h0m1.3-0.2h0m0.3 0.5h0m2.5 0.1h0m5.4-0.2h0m2.2-0.7h0m0.1 0.4h0m0.3-0.4h0m3.9 0.2h0m0.3-0.1h0m0.1-0.1h0m5.6 0.1h0m7.7 0.1h0m3.5 0.5h0m0-0.1h0m4.5 0.2h0m1.3-0.4h0m1.3 0.1h0m3.2-0.4h0m2.4 0.2h0m1.3 0h0m2-0.1h0m1.8 0.5h0m0.3 0h0m0.3 0.2h0m3.5 0h0m0.2-0.3h0m1.7-0.2h0m0.4 0.2h0m1.7-0.2h0m5.8 0.4h0m2.7-0.4h0m1.5 0.3h0m4.6-0.4h0m0.1-0.1h0m1.4 0.1h0m0.3-0.3h0m0.5 0.3h0m0.3-0.4h0m1 1h0m3.2-0.5h0m0.4-0.4h0m2.2 0.2h0m1.4-0.2h0m0.8 0.3h0m3 0.6h0m11.6-0.1h0m5.3-0.1h0m11.4 0.2h0m2.5-0.6h0m2.7 0.1h0m1.5-0.2h0m0.8 0.3h0m1.5 0.1h0m0-0.5h0m0.1 0.6h0m10.9-0.4h0m0.2-0.1h0m3.6 0h0m6.9 0.7h0m0.2-0.7h0m1.1 0.2h0m0 0.4h0m8.3-0.1h0m4.9-0.4h0m1.8 0h0m6.4-0.2h0m3.9 0.2h0m11.4 0.3h0m11.7-0.4h0m1 0.5h0m5.5 0h0m2.5-0.8h0m3 0h0m-268.4 2h0m1.2-1h0m7.2 0.4h0m0.4 0.5h0m9.7-0.4h0m16.5 0.4h0m1-0.1h0m0.4-0.7h0m2.7 0.7h0m3.9 0h0m0.5-0.7h0m0.9 0h0m1 0.2h0m1 0h0m2.3 0.4h0m0.6-0.4h0m0.1-0.1h0m1.3 0.2h0m0.6 0h0m0.6 0h0m0.3 0h0m8.3 0.4h0m4.4-0.1h0m0.3-0.2h0m4 0.5h0m3.5-1h0m0.1 0.6h0m2.4 0.4h0m1.1-0.2h0m0 0.1h0m1.1 0h0m2.4-0.2h0m1.4-0.5h0m1.4 0.6h0m0.2-0.4h0m4.2 0.4h0m0.9 0.2h0m0.3-0.9h0m10.2 0.1h0m0.1 0h0m0.9-0.1h0m1.5 0.8h0m3.5 0h0m3.8-0.8h0m0.6 0.4h0m7-0.3h0m0.5 0.4h0m4.9-0.3h0m1.5 0h0m1.1 0.3h0m2.6-0.2h0m0.6-0.1h0m5.4-0.3h0m0.4 0.8h0m2.7-0.5h0m0.5 0.7h0m4.9-0.5h0m0.4 0.1h0m0-0.1h0m1.7-0.3h0m0.9 0.1h0m6.7 0.5h0m0.2-0.4h0m0.4 0.1h0m4.1 0.5h0m3.1-0.5h0m0.3-0.2h0m0.5 0.4h0m11.4-0.6h0m3.8 0h0m4.4 0.3h0m0.8-0.2h0m3.3 0.4h0m2.4 0.2h0m1.4-0.2h0m4-0.2h0m2.3 0.5h0m1.6-0.7h0m2.8 0.8h0m3.6-0.6h0m1.8 0.1h0m0.2-0.4h0m10.1 0h0m3.2 0.3h0m1.1-0.2h0m3 0.5h0m0.4-0.1h0m3.4-0.2h0m0 0.3h0m2.2-0.6h0m4.8 0.2h0m11.7 0.3h0m5.5-0.3h0m4.5 0.5h0m11.9-0.2h0m9.9-0.5h0m-275 1.7h0m6.7 0.1h0m0.9-0.2h0m3.3-0.3h0m4-0.3h0m9.6 0.5h0m0.2-0.2h0m4.7 0h0m4.2 0.3h0m3-0.1h0m10.7-0.3h0m0.4 0.4h0m4.9-0.2h0m1 0.1h0m1.8-0.3h0m4.3 0h0m0.1 0.1h0m1.4 0.5h0m3.8-0.6h0m0 0h0m0.3 0.4h0m0.1-0.5h0m1.9 0.3h0m5.5 0.2h0m7-0.6h0m3.4 0.2h0m0.4 0.5h0m4.1-0.2h0m3.3 0.2h0m0.3-0.7h0m3.6 0.5h0m2.8 0.2h0m9-0.2h0m2.4-0.5h0m4.3 0h0m3 0.2h0m0.7-0.1h0m0.3 0.4h0m7.3-0.6h0m0.4 0.1h0m4.6-0.1h0m7.9 0.3h0m1.1 0.1h0m0.2 0.2h0m0.3 0.2h0m0.5-0.6h0m0.1 0.6h0m0.4 0h0m12.4-0.4h0m0.4-0.3h0m1.9 0.8h0m1.3-0.8h0m8.8 0.5h0m2.8-0.4h0m17.2 0.5h0m0.1-0.6h0m1.7 0.2h0m0.3 0.2h0m4.9 0h0m1.4-0.2h0m2.1 0.5h0m1.7 0h0m2.8-0.6h0m9.2 0.5h0m10.8-0.3h0m0.1 0.2h0m1.5 0.3h0m25.5-0.8h0m0.5 0.5h0m0.2-0.1h0m3.4-0.4h0m7.6 0.8h0m0.1-0.3h0m11.9-0.2h0m-243.5 1.5h0m20.1 0h0m5.8 0h0m10.9 0h0m2.7 0h0m38.1 0h0m6.5 0h0m6 0h0m25.7 0h0m7.6 0h0m30.7 0h0m2.2 0h0m19.2 0h0m22.7 0h0m17.3 0h0m28.5 0h0m-347.2 0.6h0m47.2 0.4h0m8.7-0.4h0m35.8-0.2h0m0.2 0h0m3.1-0.2h0m4 0.7h0m0.9-0.8h0m2.9 0.5h0m4.6-0.4h0m8.1 0.7h0m5.4 0.1h0m1.8-0.4h0m5.5-0.3h0m0.9 0.6h0m0.4 0.1h0m1.3-0.3h0m2.1-0.4h0m0.3 0.3h0m0-0.3h0m1.6 0.1h0m0.6 0.2h0m0.5 0.4h0m1.6 0h0m3.6-0.5h0m1.7 0.2h0m1.7 0.2h0m3.2-0.5h0m2.9-0.1h0m1.2 0h0m3.9 0.2h0m0.5-0.1h0m3.3 0.3h0m2.1-0.3h0m3-0.2h0m3.4 0.4h0m0.2-0.2h0m3.1 0.6h0m0.5-0.5h0m2.8 0.5h0m0.3-0.6h0m5.7-0.1h0m0.1 0.7h0m3.3-0.6h0m1 0h0m0.4-0.1h0m3 0.1h0m2.7 0.1h0m1-0.3h0m1.4 0h0m1.8 0.6h0m2.3-0.5h0m1-0.1h0m1.9 0.8h0m0.1-0.1h0m3.1-0.3h0m1.5 0.4h0m2-0.4h0m1.6-0.4h0m1.9 0.2h0m1-0.1h0m0.2 0.4h0m0.1-0.4h0m1.3 0.6h0m6.1-0.4h0m2.2 0h0m5.5 0.4h0m1.4-0.3h0m4.4-0.5h0m7.9 0.2h0m4.4 0.4h0m0 0.1h0m0.4-0.4h0m2-0.1h0m0 0.6h0m4.1-0.1h0m1.3-0.2h0m5.9 0.3h0m0.6-0.7h0m1.1 0.2h0m0.1-0.2h0m8 0.2h0m8.5 0.2h0m2.7-0.4h0m0.2 0h0m1.1 0.5h0m0.4-0.6h0m1.4 0.1h0m9.6 0.5h0m6.7-0.4h0m3.6 0.2h0m15.7 0.2h0m20.6 0h0m2.1-0.6h0m6.6 0.9h0m1.4-0.6h0m-256.8 1.1h0m0.2 0.5h0m3.3 0h0m0.6-0.2h0m11.8-0.1h0m3.8 0.2h0m4.6-0.1h0m15.3-0.1h0m3.5-0.5h0m0.3 0.8h0m0.2-0.6h0m2.5 0.3h0m0.1-0.5h0m0.4 0.4h0m1.2-0.1h0m3.8 0.5h0m3.5-0.3h0m1.7-0.1h0m1.4 0.4h0m1.7 0h0m1 0.1h0m0.1-0.5h0m2.9-0.2h0m2.9 0.4h0m3.6 0.1h0m0.8-0.4h0m1.4 0.3h0m5.6-0.6h0m0.1 0.2h0m1.6 0.1h0m3.8 0.4h0m3-0.7h0m4.4 0.3h0m3.8-0.2h0m0.2 0.7h0m0.2-0.5h0m4.3-0.4h0m4.7 0.8h0m5.8-0.4h0m0.2 0.5h0m1 0h0m0.5-0.7h0m2.4 0.3h0m2.6-0.3h0m5.3 0.7h0m2 0h0m3.5-0.3h0m2.7 0.3h0m0.4-0.4h0m2.2 0.4h0m2-0.7h0m0.9 0.7h0m1.3 0.1h0m3.5-0.3h0m6.5-0.2h0m0.4-0.2h0m1.4 0.2h0m2 0.3h0m3.4 0.2h0m0.1-0.9h0m4.7 0.4h0m0.2-0.1h0m3.2 0.4h0m2-0.1h0m4.4-0.5h0m1.3 0.1h0m0 0.3h0m0.8 0.3h0m2.1-0.2h0m1.7-0.4h0m0.2 0.4h0m4.9-0.2h0m2.4-0.5h0m1.5 0.9h0m3.1-0.9h0m4.2 0.5h0m0.9 0.1h0m0.3-0.4h0m0.1 0.6h0m12.1-0.3h0m2.1 0.1h0m1.1 0h0m8.6-0.4h0m0.1 0.2h0m3.9-0.2h0m6.1 0.4h0m2.5 0.2h0m2.4-0.6h0m6.8 0.8h0m1.6-0.3h0m2.9 0h0m1.9 0.2h0m0.1-0.3h0m6.5 0.1h0m4.9 0.1h0m3.4 0.1h0m-303.5 1h0m12-0.2h0m12.5-0.3h0m6.1 0h0m9.1 0.1h0m0.1-0.3h0m3.8 0.5h0m1.3 0.2h0m0.2-0.7h0m1.3-0.2h0m4.5 0.8h0m0.5-0.7h0m0.5 0.7h0m6.3-0.3h0m9.6-0.1h0m0.6-0.1h0m0.8-0.1h0m2.3 0.2h0m2.8-0.3h0m1.2 0.6h0m7.6 0h0m2.1 0h0m1.1 0.1h0m0.4-0.5h0m1-0.2h0m0.1 0.4h0m0.6-0.2h0m0.5 0.1h0m0-0.3h0m1.9 0.4h0m1.8 0h0m0.2 0.3h0m0.3-0.1h0m1.4-0.4h0m5.4 0.4h0m3.6-0.5h0m0.8 0.7h0m3.4-0.4h0m0.4 0.2h0m2.1-0.4h0m5.1 0.6h0m0.3-0.5h0m3.5-0.2h0m1.2 0.7h0m2.9-0.6h0m4.2 0.3h0m0.2-0.3h0m0.3 0.6h0m4.3-0.1h0m3-0.6h0m1.9 0.4h0m6.7-0.4h0m0.5 0.5h0m2.4 0.2h0m0.3-0.9h0m1.4 0.6h0m2.6 0.2h0m1.1-0.3h0m0.8 0.4h0m0.2-0.1h0m2.1 0h0m1.4-0.3h0m3.7-0.1h0m0.1-0.3h0m0.4 0.3h0m1.6 0.1h0m2.6-0.4h0m0.1 0.1h0m1.5 0.1h0m1.3 0.5h0m1.2-0.1h0m1.8-0.1h0m0 0h0m1.1-0.4h0m2.8 0h0m0.5 0.3h0m5 0.2h0m0.2-0.5h0m0.6 0.2h0m1.6 0.4h0m0.1-0.5h0m0.1 0.3h0m1.7 0.2h0m0.1 0.1h0m3-0.1h0m6.8-0.8h0m1.4 0.4h0m2.6 0h0m5.7 0.1h0m0.7-0.4h0m1.6 0.4h0m0.8 0.3h0m0.7-0.7h0m2.7 0.1h0m0.5-0.1h0m0.8 0.7h0m0.2-0.4h0m0.9-0.2h0m3.3 0.2h0m2.6-0.1h0m1.9 0.5h0m2.4 0.1h0m4.3-0.5h0m8.5 0.5h0m0.1-0.9h0m11.6 0.4h0m2.4 0.4h0m0.1-0.8h0m5.7 0.6h0m15.2 0.1h0m1.5 0h0m18.2-0.5h0m3.5 0.4h0m2.7 0.2h0m27.7 0h0m-256.4 1.2h0m7.3-0.1h0m0.8 0h0m0.5 0h0m6.7 0h0m32.4 0h0m24.2 0.1h0m12.8 0h0m59.9-0.1h0m5.3 0h0m12.2 0h0m8.3 0h0m13 0h0m2.7 0.1h0m18.1-0.1h0m-320.9 0.3h0m8.2 0.1h0m76.5 0.6h0m3.8-0.6h0m0.7-0.3h0m2.7 0.6h0m1.4-0.3h0m2.7 0.5h0m1.3-0.2h0m1.9-0.4h0m0.1 0.2h0m0.2 0.1h0m0.7 0.2h0m3.3-0.4h0m0.1 0.6h0m5.5-0.1h0m0.4-0.3h0m1.3-0.5h0m0.4 0.3h0m0.4-0.1h0m0 0.3h0m0.5 0.3h0m0.2-0.2h0m3.7 0.4h0m0.6-0.6h0m0.2 0.1h0m0.3-0.5h0m0.2 0.6h0m1.4 0h0m2.5-0.2h0m2.2 0.1h0m0.1 0.3h0m0.6-0.1h0m0-0.3h0m1 0.5h0m0.3-0.1h0m1.8-0.3h0m0.1-0.4h0m1.8 0.2h0m6.4 0.5h0m3.9-0.4h0m0-0.1h0m0.8 0h0m0.2 0.2h0m3.6 0.1h0m1-0.5h0m2.4 0.7h0m1.8-0.4h0m0.3 0h0m2.4 0.5h0m7.1 0.1h0m1-0.4h0m5.2 0.3h0m0.3-0.2h0m2.5-0.3h0m3.5 0.5h0m0.8 0h0m0.6-0.6h0m0.4 0.3h0m2.6 0h0m2.6-0.3h0m1.6 0.4h0m0.4-0.1h0m0.8-0.3h0m1.2 0.6h0m1.5-0.2h0m2.8 0.1h0m0.1-0.3h0m0.5 0.2h0m3.1-0.4h0m1.3 0.3h0m0.6 0.1h0m0.7 0.1h0m1.4-0.4h0m0.9 0.1h0m1.2 0.2h0m6.9-0.3h0m3.2-0.3h0m0.7 0.1h0m0.5 0.6h0m1.2 0.2h0m2.7-0.4h0m0.3 0.3h0m0.5-0.2h0m0.3-0.5h0m4.4 0.7h0m0.2-0.8h0m1 0.5h0m1.2 0.3h0m0.1-0.3h0m3.8-0.5h0m0.7 0.6h0m0.2 0.3h0m0.2-0.1h0m0.2-0.1h0m2.4 0h0m0.2-0.8h0m0.5 0.2h0m4.5 0.1h0m4.7 0.4h0m3.5 0.3h0m0.1-0.3h0m0.1-0.5h0m3.1-0.1h0m0.3 0h0m0.1 0.8h0m2.5-0.2h0m4.3 0h0m0 0.3h0m1-0.3h0m3.9-0.6h0m0.7 0.9h0m3.8-0.2h0m2.9-0.5h0m7.6 0h0m0.6-0.2h0m1.2 0.3h0m2.7 0.2h0m1-0.5h0m6.5 0.6h0m12.4 0h0m0.7 0.2h0m3.1-0.8h0m0.6 0.7h0m4.4 0h0m0.7-0.7h0m0.3 0.6h0m3.2 0h0m4.2-0.4h0m10.4 0.3h0m11.6 0.2h0m4.1 0h0m2.5 0h0m5.2-0.1h0m2.6-0.3h0m15.5 0.1h0m-364.5 0.6h0m0.7 0.9h0m66.4-0.4h0m2.2 0.1h0m15.1-0.7h0m0.4 0h0m0 0h0m6.4 0.1h0m8 0.4h0m1.8-0.5h0m3.5 0.5h0m2.3-0.2h0m0.3 0.2h0m1 0.2h0m7.9 0.3h0m8.7-1h0m2.1 0.1h0m0.9 0.6h0m0.4 0.3h0m0.2-0.7h0m2.1 0.7h0m0-0.4h0m0.1 0.2h0m4.5 0h0m0.4-0.4h0m0.3 0.1h0m0.3 0.3h0m0-0.5h0m3-0.1h0m0.2 0.2h0m0.7 0h0m0.2-0.3h0m0.1 0h0m2.7 0.6h0m0.2 0.2h0m1.1-0.3h0m0.4 0.1h0m0.6-0.6h0m1.6 0.8h0m0.2-0.6h0m0.6-0.1h0m5.5-0.1h0m0 0.8h0m0.1-0.8h0m3.1 0.5h0m3 0.3h0m0.5-0.2h0m2.9 0h0m0.4 0h0m5.4-0.3h0m1.9 0.6h0m6.5-0.4h0m2.1-0.5h0m0.8 0.8h0m0.1-0.1h0m2.9-0.7h0m1-0.1h0m4.3 0.2h0m2.3 0.7h0m0 0h0m0.7 0h0m1.9 0h0m0.1-0.2h0m2.9-0.1h0m1.1 0.3h0m1.3-0.1h0m0.2-0.4h0m1.3 0.2h0m0.7-0.4h0m0.1 0h0m0.5 0.8h0m2-0.5h0m0.5 0.5h0m0.2-0.4h0m0.4-0.4h0m2.1 0.3h0m1.2 0.2h0m0.1 0h0m0.8 0h0m0.5 0.1h0m0.3-0.3h0m1.4 0.3h0m1.1-0.6h0m0.9 0.5h0m0.4 0.1h0m2.6-0.8h0m1.6 0.9h0m0.1-0.3h0m1 0h0m1-0.3h0m1.8 0.2h0m2.2 0.4h0m1.1-0.5h0m2.8-0.4h0m0.6 1h0m1-0.2h0m1.5-0.6h0m2.3-0.1h0m2.3 0.9h0m0.3-0.4h0m1.1 0.2h0m4.4-0.5h0m4.1 0h0m1.8 0.4h0m1-0.2h0m0.5-0.3h0m0.2 0.6h0m3.5-0.5h0m0.2 0.1h0m2.5-0.2h0m0.7 0.5h0m0.5 0h0m3.1-0.5h0m0.1 0.3h0m0.9 0h0m7.9-0.4h0m3.6 0.7h0m1.3-0.2h0m0.1-0.4h0m0.6 0.3h0m1.9 0.2h0m1.8-0.5h0m5.4 0.8h0m1.3-0.4h0m0.6 0.3h0m2.5-0.5h0m0.9-0.1h0m0.6-0.3h0m2.6 0.6h0m0.3 0.2h0m0.6-0.3h0m2.6 0.3h0m0.9-0.8h0m0.3 0h0m1.5 0.1h0m0.2 0.5h0m1.7-0.4h0m20.1 0.4h0m4.3-0.4h0m6.9 0.4h0m0.5 0.2h0m0.1-0.4h0m0.9-0.1h0m7.9 0.2h0m3.4 0.2h0m0.4 0.3h0m4.7-0.1h0m-348.6 1h0m3-0.5h0m2.7-0.3h0m50.8 0.4h0m5.1 0.1h0m9.3-0.2h0m13.3-0.3h0m1.2 0.7h0m1.4 0.1h0m4.6-0.8h0m0.1 0.3h0m1.7 0.4h0m5.5-0.1h0m0.7-0.2h0m0.2-0.1h0m0.4 0.2h0m1.5-0.3h0m1.2 0.2h0m4.6 0h0m4.1 0.4h0m0.9 0h0m1.4-0.8h0m9.2 0.3h0m8.2-0.1h0m0.2 0.6h0m0.2-0.7h0m1.5 0.2h0m3.4-0.3h0m0.1 0.8h0m0.2 0h0m0.3 0h0m2.1-0.7h0m1.4 0h0m0.5 0.5h0m0.3-0.1h0m3-0.4h0m0.9 0.6h0m0.2 0.1h0m0.3-0.6h0m0-0.1h0m1.1 0h0m0.8 0.7h0m1.1-0.8h0m0.2-0.1h0m0.5 0.7h0m1.7-0.3h0m0.8-0.2h0m1-0.1h0m3.2 0.8h0m1.6-0.4h0m0 0.3h0m1.2-0.4h0m2-0.2h0m0.1 0.7h0m3.4-0.4h0m0.8 0h0m2.1 0.2h0m1-0.4h0m3.1-0.2h0m0.1 0.1h0m0.1 0.4h0m1.7 0.1h0m2.3-0.6h0m1.8 0.7h0m6.9-0.2h0m3-0.5h0m6.1 0.4h0m1.8-0.5h0m1.2 0h0m1.1 0.6h0m1.6-0.3h0m5-0.1h0m0.7 0.5h0m2.1 0.1h0m1.6-0.1h0m0.4-0.5h0m0.2 0.1h0m5.8-0.1h0m1.2 0.5h0m6.9-0.4h0m0.1 0.6h0m0.1-0.9h0m4 0.9h0m3.5-0.9h0m0.1 0.8h0m5.7-0.6h0m7.1 0h0m1.6 0.3h0m7 0.1h0m2.6-0.1h0m0.6 0.2h0m0-0.2h0m0.1 0.2h0m4-0.7h0m0.5 0.1h0m0.9 0.1h0m6.3 0.3h0m1.9 0.3h0m0.6-0.5h0m2.4 0.1h0m1.4 0.1h0m1.9 0.4h0m0.3-0.8h0m0.7 0.8h0m1-0.9h0m1.9 0.3h0m1.4-0.2h0m2.6 0.7h0m6.1-0.5h0m4.3 0.2h0m2-0.3h0m4.2 0.4h0m0.3 0.3h0m0.3-0.7h0m3.5-0.1h0m11.3 0.4h0m1.8 0.4h0m3.2-0.8h0m0.6-0.1h0m4.8 0.6h0m5.4 0.1h0m6.2-0.1h0m8 0.3h0m3.2-0.8h0m2.2 0.3h0m4.8 0.2h0m15.7 0.2h0m-310.1 1.1h0m28.6 0h0m26.8 0.1h0m24.3-0.1h0m8.3 0h0m2.9 0h0m2.7 0h0m1.7 0h0m11.4 0h0m44.5 0h0m7.7 0.1h0m1.4 0h0m9.5 0h0m19.9-0.1h0m9.7 0h0m1.2 0h0m2.7 0h0m26.3 0.1h0m5.9-0.1h0m5 0h0m11 0h0m47.4 0h0m-384.9 0.5h0m32.4 0.5h0m5 0.1h0m32.4-0.9h0m7.7 0.7h0m16-0.4h0m8.6 0.2h0m1.5-0.4h0m10.8 0.2h0m2.1 0h0m0.3-0.3h0m0.1 0.5h0m0.7-0.4h0m4.6 0.6h0m4-0.7h0m0.2-0.1h0m2.7 0.7h0m3.9-0.4h0m3.3-0.1h0m0.2 0.6h0m0.2-0.1h0m0.6-0.1h0m1-0.1h0m0 0.4h0m2.8-0.8h0m1-0.1h0m0.4 0.4h0m0.1-0.1h0m1.9 0.2h0m0.1-0.3h0m0 0h0m0.5 0.1h0m2.5-0.2h0m0.4 0.8h0m1.6-0.6h0m3.4 0.7h0m0.1-0.2h0m0.8-0.8h0m4.7 0h0m1.4 0.9h0m0.6-0.9h0m0.6 0.2h0m1.3 0.7h0m1.1-0.5h0m0.2-0.3h0m0.1 0.9h0m0.4-0.2h0m0.2-0.8h0m0.6 0.2h0m1 0.7h0m0-0.7h0m0.5 0h0m1.3 0.8h0m1.7-0.5h0m0.5 0.4h0m1.6-0.8h0m1 0.8h0m1.5-0.1h0m2-0.1h0m1.7 0h0m0.3 0.1h0m0.4-0.3h0m2.9-0.2h0m0.1-0.1h0m0.3 0.5h0m0.7-0.1h0m0-0.5h0m2.2 0.2h0m1 0.4h0m0.4-0.3h0m3.4-0.3h0m0.3 0.2h0m0.6-0.1h0m2.4 0.7h0m1.5-0.4h0m8-0.2h0m2.8-0.1h0m2.8 0.6h0m3.9-0.5h0m1.2-0.3h0m0.3 0.5h0m2.8 0h0m0.2 0.1h0m0 0h0m1.6-0.1h0m0.2 0.2h0m0.2-0.2h0m2.2-0.2h0m0.5 0.3h0m3.9-0.6h0m0.4 0.8h0m2.6-0.3h0m0.2-0.3h0m0.4-0.2h0m0.5 0.8h0m2.5 0.1h0m0.8-0.5h0m0.1 0.2h0m0.4 0.1h0m0.2 0.2h0m0.4-0.7h0m0.6 0.5h0m1.5 0.1h0m0.2-0.1h0m0.8 0.3h0m3.6-0.4h0m0.4 0.2h0m1.7-0.6h0m0.1 0.5h0m1.5-0.4h0m0.2-0.2h0m3.8 0.4h0m0.5 0.1h0m0.4-0.3h0m1.1 0.6h0m0.3-0.7h0m1.6 0.6h0m0.3-0.3h0m0-0.3h0m5.8 0.1h0m0 0.2h0m2.2 0.1h0m1.2 0.3h0m0.7-0.5h0m1.9-0.2h0m0.7 0.4h0m0.7-0.5h0m0.8 0.8h0m3.7-0.9h0m0.5 0.5h0m2.1 0.4h0m0.3-0.2h0m0.5-0.2h0m0.7-0.1h0m2.5 0.4h0m0.1-0.8h0m1.1 0.9h0m4-0.3h0m0.5 0h0m1.5-0.2h0m0.1 0.4h0m0-0.7h0m0.7 0.3h0m1.6-0.2h0m0.4 0.2h0m2.6 0.2h0m0.9-0.2h0m0.6 0h0m1.4 0.2h0m0.5 0.2h0m0.5-0.5h0m1 0.2h0m1.9-0.3h0m1.4 0.6h0m3.8-0.7h0m0.1 0h0m0 0.7h0m1.3-0.2h0m1.3-0.3h0m0.1 0.1h0m1.1 0h0m0.1 0.3h0m0.8-0.1h0m2-0.4h0m0 0.5h0m0.4-0.1h0m1.4-0.5h0m3.4 0.2h0m0 0.4h0m3.2-0.1h0m0.6 0.4h0m0.5-0.3h0m0.3 0.1h0m0.4 0.2h0m3.3-0.1h0m2.8-0.5h0m0.6 0.6h0m0.4-0.8h0m3.4 0.3h0m4 0.1h0m1.5-0.1h0m6.9-0.1h0m3.4 0.4h0m0.3-0.4h0m0.4 0.2h0m0.6-0.5h0m2.1 0.7h0m1.7-0.1h0m2.5 0.2h0m2.5 0h0m2.1 0.1h0m1.6-0.1h0m0.2-0.8h0m1.9 0.4h0m1.8 0.3h0m3.4-0.1h0m3.1-0.5h0m2-0.1h0m5.5 0.2h0m9.4 0.3h0m52.5 0.1h0m-434.3 1.1h0m26.9-0.2h0m1.6 0.4h0m1.3-0.7h0m42.2 0.7h0m12.8-1h0m9.5 0.9h0m7.7-0.8h0m6.2 0.6h0m0.3-0.4h0m0.5 0.5h0m1.1-0.5h0m4.4-0.2h0m2.6 0.8h0m0.9-0.9h0m2.7 0.9h0m1.1-0.7h0m2.8 0.3h0m0.2-0.1h0m4.1 0.3h0m1.2-0.5h0m4.7 0.4h0m3.4-0.1h0m2.3 0h0m1.9-0.5h0m2.1 0.5h0m0.8-0.2h0m2.7-0.3h0m2 1h0m0.8-0.9h0m1.7 0h0m0.6 0.6h0m2.9-0.2h0m0 0.4h0m1.7-0.8h0m0.3 0.5h0m2-0.3h0m0.2 0.1h0m0.5-0.3h0m0 0.1h0m1.3-0.1h0m0.3 0.5h0m0.2 0.3h0m3-0.3h0m1.5 0.3h0m6.4-0.3h0m0.1-0.2h0m0.5 0.1h0m3.6 0h0m1.2 0.2h0m2.2 0.3h0m3-0.6h0m2.6 0.1h0m1.8-0.5h0m0.3 0.3h0m0.3 0.5h0m0.8-0.1h0m4.6 0.1h0m2.5-0.2h0m0.6-0.1h0m2.7 0.1h0m0.8 0.2h0m0.4-0.6h0m1.5 0.5h0m1.6-0.6h0m0.3 0.5h0m0.1-0.5h0m0.9 0.8h0m0.1-0.2h0m0.5 0.1h0m0.5-0.6h0m1.9 0.1h0m0.6 0h0m0.3 0.2h0m0.4 0.1h0m0.5-0.2h0m0.1-0.1h0m0.2-0.2h0m1.7 0.8h0m0.8 0h0m3.2 0h0m1.3-0.8h0m0.6 0.1h0m5.9 0.6h0m0.1-0.4h0m1.7-0.4h0m0.8 0.7h0m1.3 0.1h0m0.8-0.2h0m4.9-0.1h0m0 0.2h0m0.3 0.2h0m0.2-0.7h0m0.3-0.2h0m2.1 0.2h0m1 0h0m0 0h0m0.8 0.8h0m1.7-0.3h0m0.4 0h0m1.4 0.1h0m0.2-0.5h0m1.7-0.3h0m0.4 0.2h0m0.2 0.4h0m0.1 0.2h0m2 0h0m1.6-0.6h0m0.6 0.6h0m1.8-0.7h0m2.4 0.9h0m0.9-0.4h0m2.7-0.3h0m2.1 0.6h0m1.1-0.1h0m1.1-0.7h0m5.1 0.8h0m2.2-0.7h0m0.3 0.7h0m3.8 0h0m0.2-0.5h0m2 0.5h0m0.3-0.1h0m1.2 0.1h0m1.2 0.1h0m0.7-0.2h0m0.2-0.7h0m0.7 0.9h0m2-0.5h0m0 0.5h0m0.8-1h0m0.2 0.9h0m2.8-0.5h0m1.1-0.3h0m2.5 0h0m0.6 0.4h0m0.5 0.1h0m1.5 0.1h0m3.8-0.2h0m1.2 0.3h0m0.4-0.5h0m0.1 0h0m1.5 0.1h0m2.4 0.6h0m0-0.8h0m0.1 0.7h0m1.7-0.5h0m0.7 0.2h0m2-0.5h0m1.5 0h0m2.9 0.6h0m3-0.4h0m0.6-0.2h0m0.5 0h0m0.5 0.2h0m1.1 0.7h0m1.3-0.1h0m1-0.6h0m0.6 0.1h0m2.6 0h0m0.4 0.1h0m0.9-0.4h0m8 0.4h0m0.3-0.2h0m2.1 0.4h0m4.5 0.3h0m4.2-0.7h0m1.2 0.2h0m3.8 0.2h0m0.3-0.5h0m2.9 0.6h0m1.1-0.6h0m3.8-0.1h0m0.5 0.3h0m0.3 0.5h0m2.4-0.7h0m2.9 0.3h0m2.2-0.3h0m6.4 0.7h0m6.2-0.8h0m6.4-0.1h0m-351.8 1.6h0m15.5-0.4h0m1.9 0.4h0m2.5-0.4h0m2.9 0.3h0m17-0.1h0m9.6-0.3h0m2.5 0.8h0m1.2-0.4h0m7.1 0.4h0m2.7-0.2h0m11.7-0.1h0m1.5 0.1h0m0.1 0.2h0m3.2-0.7h0m0.7 0.3h0m3.6-0.3h0m0.4 0.4h0m3.3-0.6h0m0.3 0.6h0m0.1-0.4h0m2.9 0.7h0m0.3-0.3h0m0.2 0h0m0.3-0.2h0m0.3-0.3h0m0.5 0h0m7.1 0.5h0m1.9-0.1h0m3.7-0.4h0m1.6 0.1h0m1-0.1h0m9.3-0.1h0m2.8 0.8h0m1.2-0.2h0m0.5-0.5h0m0 0.2h0m1.3 0.4h0m0.4 0h0m1.5-0.2h0m0.3-0.3h0m2.4-0.1h0m1.2-0.1h0m0.5 0.8h0m2.5-0.3h0m0.5 0h0m0.5-0.1h0m2 0.2h0m1.1-0.5h0m0.4 0h0m0.2 0.5h0m5.1 0h0m0.2 0.1h0m0 0.1h0m1.4-0.7h0m0.1 0.5h0m0.6-0.3h0m5.1 0.1h0m0.5 0.1h0m2.5 0.2h0m0.6-0.1h0m3.1 0.3h0m0.4-0.6h0m0.2 0.5h0m4.9-0.1h0m2.9 0.2h0m1.7-0.9h0m1.8 0h0m1 0.9h0m3.7-0.2h0m3.4-0.2h0m0.8-0.1h0m2.8-0.2h0m0.2 0.5h0m4 0.2h0m5.1-0.5h0m0.4 0.1h0m0.2 0.1h0m0.3-0.1h0m1.5-0.3h0m0.7 0.5h0m0.5-0.5h0m2.6 0.4h0m4.2-0.1h0m0.6-0.4h0m0.5 0.2h0m0 0.3h0m0.8-0.4h0m0.1 0.1h0m0.1-0.2h0m0.2 0h0m0.5 0h0m6.9 0.2h0m3.1 0.3h0m0.8-0.2h0m0.1-0.1h0m0.7 0.5h0m2.9 0h0m0-0.3h0m0.3-0.4h0m0.5 0.7h0m0.3 0h0m1.8 0.1h0m4-0.2h0m0 0.1h0m2.4-0.6h0m2.6 0.3h0m5.3 0.1h0m1.5-0.3h0m0.1 0.1h0m0.6 0.5h0m1.9-0.3h0m3.4 0.2h0m0.4 0.1h0m0-0.7h0m2.7-0.2h0m1.4 0.5h0m2.3 0.2h0m0.7-0.4h0m0.8 0.2h0m0.2 0.2h0m2.4-0.6h0m0.2 0.5h0m1.2-0.5h0m0.2 0.7h0m1.7-0.4h0m2.1 0.3h0m2.1 0h0m4.2-0.1h0m1.9 0.3h0m1.3-0.2h0m4.5-0.6h0m1.4 0.5h0m0.6-0.2h0m4.1 0.4h0m1.8-0.5h0m0.2 0.6h0m1.2-0.6h0m4-0.3h0m2.3 0.9h0m0.9-0.4h0m0.6-0.3h0m0.1-0.1h0m2.9 0.8h0m0.6-0.5h0m1.2 0.1h0m1.7 0h0m1.6 0.2h0m0 0.1h0m1.1-0.3h0m2.3-0.4h0m0.3 0h0m1.2 0.2h0m1.9 0.5h0m1.7-0.2h0m3.6-0.3h0m5 0.1h0m1.2 0.3h0m0 0h0m0.1-0.2h0m6.8 0h0m2.6 0h0m5-0.3h0m0.1 0.7h0m0.2-0.4h0m6.5 0.1h0m0.1-0.1h0m3.1 0.3h0m2.2-0.4h0m3.3 0.2h0m7.1 0h0m1.2-0.5h0m-339.9 1.8h0m39.1 0h0m8.7 0h0m12.8 0.1h0m6-0.1h0m4 0h0m1.2 0.1h0m2.6-0.1h0m21.3 0h0m12.2 0h0m14 0.1h0m1-0.1h0m0 0.1h0m1.2 0h0m6.4-0.1h0m11.8 0h0m1.6 0h0m2.1 0h0m21.8 0h0m3.4 0h0m4.5 0h0m4.3 0.1h0m11.3 0h0m33.3-0.1h0m7.8 0h0m3.4 0h0m10.7 0h0m1.3 0.1h0m2.8 0h0m11.4-0.1h0m49.1 0h0m22.5 0.1h0m-375.9 0.9h0m16.2 0h0m5.9-0.6h0m4.2-0.3h0m1.6 0.2h0m3 0.6h0m2.7-0.8h0m7.9 0.9h0m0 0.1h0m0.7-0.1h0m4.7-0.8h0m1.1 0.1h0m18.1 0.8h0m2.9-0.3h0m0.8-0.6h0m3.8 0.4h0m11.1 0.1h0m4.7 0.2h0m3.1-0.5h0m1 0.7h0m3.4-0.8h0m0.7 0.1h0m2.8-0.2h0m5.7 0.7h0m0.6-0.4h0m1.7 0.4h0m1.1-0.5h0m0.5-0.2h0m0.3 0.9h0m0.3-0.5h0m1.5-0.3h0m0.2 0.8h0m0.8-0.1h0m3.5 0h0m1-0.5h0m0.1 0.5h0m4.2-0.5h0m0.8-0.2h0m0.1 0h0m1.5 0.2h0m2.3 0.5h0m0.3-0.1h0m1.9-0.6h0m0.1 0.3h0m0.6-0.3h0m0.1 0.3h0m0.9 0.3h0m1.6-0.5h0m0.4 0h0m1.7 0.1h0m0.4 0.4h0m1.8-0.7h0m1 0.4h0m0-0.1h0m0.6-0.4h0m0.1 0.2h0m3.1 0.3h0m2.9-0.4h0m1 0.2h0m1.5-0.2h0m2.1 0.5h0m3.6-0.1h0m0.5 0.3h0m1.2-0.3h0m2.4 0.1h0m0.5-0.1h0m0.1 0.2h0m0.9 0.1h0m0.6-0.8h0m1.7 0.6h0m0.9-0.1h0m0.4 0.3h0m2.5-0.2h0m0.2-0.4h0m0.2 0.2h0m4.4 0.2h0m1.7-0.3h0m0 0.4h0m1.7-0.6h0m5.3 0h0m0 0.4h0m3.6 0.2h0m0.6-0.7h0m0.9 0.3h0m1.6 0h0m0.5 0.6h0m1.5-0.7h0m0.1 0.3h0m3.7 0.1h0m0.9 0.1h0m0-0.4h0m2.5 0h0m2.7 0.6h0m4.2 0h0m1.4-0.7h0m0 0.6h0m2.3-0.1h0m0.8-0.4h0m1.6 0h0m3 0.4h0m1.1-0.6h0m1.4 0.5h0m1.2 0.4h0m0.2-0.6h0m0.3-0.3h0m0.2 0.2h0m1.1 0.2h0m1-0.2h0m0 0h0m0.6 0.3h0m1.6-0.6h0m0.7 0.1h0m3.5 0.3h0m2.1 0h0m0.3-0.3h0m1.5 0.7h0m0.1-0.2h0m1.9-0.1h0m0.6-0.4h0m0.1 0.2h0m1.1-0.2h0m0.5 0.1h0m4.4 0.1h0m2 0.3h0m1 0.1h0m0.1-0.7h0m3.3 0.7h0m0.7-0.3h0m0.2-0.3h0m3.7 0h0m0.8 0h0m1.9 0h0m0.3 0.9h0m0.2-0.2h0m1.3-0.3h0m2.2 0.1h0m3.5 0h0m0.1 0.1h0m0.2 0h0m0-0.5h0m0.5 0.5h0m0.3 0.2h0m3.6-0.6h0m0.3 0.7h0m0.9-0.4h0m3.3-0.1h0m0.2 0.4h0m0.4-0.4h0m0.6 0.1h0m0 0.4h0m0.1-0.3h0m2-0.2h0m3.4 0h0m1.2 0h0m0.5-0.1h0m0.3 0.3h0m0.1-0.1h0m0.8-0.1h0m1.5-0.4h0m1.2 0.3h0m0.3 0h0m2.3-0.3h0m2.4 0.2h0m1.4 0.6h0m0.2 0h0m4.3-0.7h0m2.4 0h0m1.1-0.2h0m1.4 0.9h0m2.7 0.1h0m1.5-0.4h0m0.9-0.6h0m0.3 0.8h0m1.1-0.1h0m0.2 0.1h0m3.9 0h0m0.8-0.4h0m0.3-0.3h0m0.3 0.3h0m0.1 0.5h0m0.7-0.6h0m0.7 0.3h0m5-0.2h0m1.7-0.1h0m0.4 0.1h0m4.2 0.4h0m2.5-0.2h0m0.6-0.2h0m0.9 0.4h0m0.2-0.7h0m2.9 0.9h0m7.9-0.2h0m2.9-0.1h0m1.3 0h0m9.4 0h0m0 0.2h0m0-0.2h0m6.7 0.2h0m1.3-0.4h0m2.8 0.3h0m3 0.1h0m2.3-0.7h0m1.8 0.4h0m0.2-0.2h0m0.1 0.1h0m5 0.3h0m2.8-0.4h0m0 0.5h0m1.5-0.8h0m8.1 0.1h0m0.1 0h0m5.7 0.6h0m17.6-0.7h0m-399.7 1.2h0m7.5 0.5h0m19.2-0.3h0m14.1 0h0m22.5-0.4h0m0.1-0.1h0m3 0.8h0m1.1-0.5h0m23 0h0m1.1 0.7h0m7.3-0.6h0m0.4 0h0m0.3 0.2h0m0.5-0.6h0m1.8 0.6h0m1.3 0.1h0m0.5-0.6h0m0.5 0.4h0m0-0.4h0m0.5 0.6h0m3.2-0.6h0m0.1 0.5h0m0.1-0.1h0m0.3-0.1h0m3.2 0.3h0m0.6-0.6h0m2.4 0.2h0m0.2 0.6h0m0.2-0.3h0m0.9 0.2h0m3.3-0.6h0m0.3 0.2h0m0.9 0.4h0m1.4 0h0m1-0.1h0m4.1-0.6h0m4.3 0.2h0m0.4 0.1h0m3-0.4h0m0.5 1h0m1.4-0.2h0m3.1-0.4h0m0.7 0.5h0m2.4-0.2h0m1.3-0.1h0m0-0.4h0m0.2-0.1h0m1.9 0.6h0m1.6-0.1h0m0.9 0.3h0m2.7-0.1h0m0.9 0.2h0m1.6-0.4h0m0.7 0.4h0m0.5-0.5h0m0.5-0.1h0m0.7 0.3h0m0.4-0.4h0m6.4 0.3h0m0.5 0.4h0m0.3-0.1h0m2.1-0.6h0m0.4 0.6h0m4-0.5h0m1.4-0.3h0m2.7 0.5h0m0.3-0.4h0m0.2 0.4h0m0.5 0.1h0m0.9-0.2h0m0.1 0.2h0m0.4-0.7h0m1 0.2h0m3 0.3h0m2.8 0.1h0m1 0.2h0m1.4-0.4h0m2.5-0.3h0m2.8 0.6h0m0.8-0.5h0m0.4 0.8h0m3.3-0.6h0m0.2-0.3h0m2.1 0.4h0m1.3 0.2h0m0.1 0h0m0.8-0.6h0m0.5 0.6h0m1-0.6h0m0.2 0.5h0m2.4-0.4h0m1.4 0.6h0m0.2-0.6h0m3.8-0.1h0m0.3 0.1h0m0.5 0.2h0m0.1 0.4h0m0.2-0.6h0m0.5 0.7h0m0.8-0.1h0m0.1-0.5h0m0.2 0.1h0m2.2 0.3h0m0.6-0.6h0m0.1 0.3h0m0.8 0h0m0.2-0.2h0m1.6 0.1h0m0.1-0.2h0m2.2 0.8h0m2.1-0.1h0m0-0.3h0m0.8 0h0m1.2-0.4h0m0.1 0h0m1.3 0.5h0m0.7 0.1h0m1.3-0.5h0m0.3 0.7h0m2.8-0.1h0m0.9-0.8h0m0.6 0.6h0m2-0.2h0m0.9-0.1h0m0 0.1h0m1.1-0.4h0m2.9 0.3h0m0.8 0.4h0m0.7-0.2h0m0-0.1h0m1.4 0.5h0m0.1-0.1h0m1.1-0.7h0m0.9 0h0m0.4 0.5h0m1.5-0.1h0m1.1 0.1h0m0.1-0.1h0m1-0.1h0m0.1 0.6h0m3.8-0.2h0m5.6-0.3h0m0.5-0.1h0m0.4 0.5h0m0.9-0.4h0m0.7-0.2h0m2.6 0.3h0m1.1-0.1h0m0.4 0.4h0m0.1 0h0m1.4-0.8h0m1.1 0.3h0m0.1-0.2h0m1 0h0m0 0.3h0m1.9 0.3h0m0-0.5h0m1.3 0.4h0m1 0.2h0m1.7-0.8h0m0.4 0.8h0m3.3-0.3h0m0.7-0.1h0m0.4 0h0m0-0.2h0m0.5 0.2h0m0.5 0.2h0m0.5-0.3h0m3-0.4h0m0.1 0.4h0m0 0.5h0m0.8-0.8h0m0.3 0.7h0m0.1 0h0m1.7 0.1h0m0.1-0.3h0m1 0.2h0m1.1-0.3h0m3-0.1h0m0.4 0.5h0m0.8 0.1h0m2.4-0.1h0m0.1-0.4h0m2.7 0.4h0m2-0.1h0m0.2-0.1h0m4.3-0.1h0m0.3-0.5h0m5 0.2h0m0.4-0.3h0m0.1 0.6h0m0.1 0.2h0m0.7-0.5h0m0.2 0.1h0m1-0.1h0m3.2 0h0m3 0.3h0m2.1 0.4h0m6-0.6h0m8.7 0.2h0m2.7-0.4h0m0.6 0.2h0m1.3 0.5h0m6.4-0.6h0m4.2 0h0m0.9 0.2h0m0.5 0.5h0m3.3-0.9h0m5.1 0.9h0m1.8-0.4h0m0.7-0.1h0m0 0.2h0m16.8-0.5h0m-393.4 1.5h0m1.3-0.7h0m12.2 0.9h0m14.1-0.8h0m2.1 0.2h0m6.4 0.2h0m1.9 0h0m20.3 0.1h0m17.6-0.5h0m25.2 0.8h0m3.5-0.8h0m1.5 0.2h0m6.9 0.6h0m0.5 0h0m5.1-0.3h0m2.3-0.4h0m0.1-0.2h0m1.5 0.5h0m2.9-0.1h0m0.4 0h0m2.1 0.2h0m1.8-0.5h0m4.7 0.2h0m3.7 0.5h0m2.4 0.1h0m3.2-0.7h0m0.4-0.2h0m0.3 0.5h0m2.2-0.5h0m3.4 0.7h0m2.9-0.1h0m1.7 0.2h0m3.5-0.7h0m2.5 0.2h0m0.1 0.6h0m0.9-0.1h0m0.6 0h0m1.9-0.5h0m0.7 0.3h0m0.5 0.3h0m0.2-0.7h0m2.1 0h0m0.3 0.4h0m1.2 0.1h0m0.4-0.5h0m0.6 0.7h0m1.7-0.2h0m1.4-0.3h0m0.2-0.2h0m0.8 0.1h0m0.2 0.6h0m0.2-0.2h0m1.8 0.1h0m1-0.7h0m2.9-0.1h0m0.6 0.6h0m1-0.1h0m0 0.3h0m0.5-0.6h0m1.3-0.1h0m0 0.5h0m0.6-0.3h0m1.5 0.6h0m0.7-0.4h0m0 0.3h0m1.3-0.6h0m0.3 0.4h0m4.1-0.3h0m0.2 0h0m1.4-0.3h0m0.3 0.9h0m2.5-0.5h0m0.2-0.3h0m0.2 0.3h0m0.7-0.1h0m0.5-0.1h0m5.9 0.5h0m0.5-0.5h0m3 0.2h0m0.6-0.3h0m1.2 0.8h0m0.5-0.7h0m3.6 0.5h0m1 0.1h0m0-0.5h0m2.2 0.5h0m3.1-0.7h0m0.1 0.7h0m1.7-0.6h0m2 0.4h0m0.3 0.3h0m2.6-0.8h0m0.1 0.5h0m2.7-0.1h0m0.4 0.4h0m0.8-0.8h0m1.2 0.7h0m1.1-0.1h0m1.6-0.3h0m1.5-0.4h0m8.3 0.7h0m0.3 0.1h0m1.7-0.3h0m0.2-0.5h0m0.2 0.8h0m1.2-0.6h0m0.2 0.7h0m0.8-0.3h0m0.4-0.4h0m1.2-0.2h0m3.8 0.8h0m0.4-0.2h0m0-0.3h0m1.8 0.4h0m0.5-0.1h0m0.5-0.6h0m2.3 0.3h0m0.2 0.3h0m4.2-0.2h0m0.7 0.5h0m3.7-0.5h0m4.7 0.4h0m1.2-0.2h0m2 0.1h0m0.1-0.4h0m0.4 0.6h0m0 0h0m0.2-0.5h0m0.6 0h0m4.6 0h0m0.3 0h0m2.8-0.4h0m1 0.7h0m2.8 0h0m0.8 0h0m2.2-0.6h0m1.9 0.6h0m3.5 0.2h0m2.1-0.2h0m0.8 0.2h0m0.2-0.6h0m0.6 0.3h0m2.3 0h0m0.9-0.4h0m3.8 0.1h0m3.3 0.5h0m0.7-0.3h0m1.3 0.1h0m0.8-0.3h0m0 0.6h0m3.1-0.2h0m1.1-0.4h0m1.1 0.3h0m0.4 0.2h0m0.3-0.4h0m0.8-0.3h0m0.2 0.1h0m0.7 0.3h0m2.8-0.4h0m3 0.5h0m0.2-0.5h0m1.4 0.4h0m0.3-0.4h0m4.1 0.3h0m0.3 0.3h0m0.3 0.2h0m2.7-0.7h0m1.3-0.1h0m2.1 0.8h0m0.3 0h0m1.1-0.8h0m2.8 0.7h0m1-0.6h0m1.8-0.1h0m1 0.3h0m1.7 0.1h0m1.7 0.4h0m0.9-0.5h0m0.4-0.2h0m0.2 0h0m4.2 0h0m3.3 0.5h0m3.3 0h0m1.6-0.4h0m2.1-0.1h0m9.5 0.6h0m1.1-0.7h0m2.8 0.6h0m0.7-0.2h0m0.5 0h0m5 0h0m9.4 0.4h0m0-0.2h0m7.2 0h0m-343.2 1.2h0m41.3 0.1h0m13.4-0.1h0m0.1 0h0m0.4 0h0m19.6 0h0m10.2 0.1h0m8-0.1h0m7.3 0h0m6.4 0.1h0m9.9 0h0m6.3 0h0m1.8-0.1h0m0.7 0h0m1.7 0h0m5 0h0m3.2 0h0m5.4 0h0m4.1 0h0m0.1 0.1h0m2.5 0h0m4.1-0.1h0m19.2 0.1h0m1.5-0.1h0m0.6 0h0m0.5 0h0m2.3 0h0m8.4 0.1h0m10.7-0.1h0m18 0.1h0m17.9-0.1h0m4.1 0.1h0m18.5-0.1h0m2.1 0h0m3.7 0h0m0.1 0.1h0m4.9 0h0m3.5-0.1h0m13.3 0.1h0m11.4 0h0m43.6-0.1h0m8.5 0h0m-401 0.8h0m9.3-0.3h0m0.8-0.3h0m1.9 0.7h0m4.6-0.5h0m9.4-0.2h0m3.1 0.4h0m5-0.2h0m3.6 0.5h0m7.9-0.2h0m4 0.4h0m10.3-0.3h0m0.6-0.1h0m4 0h0m7.9 0.2h0m14.9-0.2h0m5.5 0.4h0m7.8-0.7h0m4.5 0.3h0m3.3 0.3h0m5.2-0.3h0m0.3-0.4h0m0.3 0.2h0m1.3 0.2h0m1.4 0h0m0.4 0h0m0-0.3h0m0.2 0.4h0m0-0.3h0m0.2 0.2h0m2.1-0.4h0m2 0.4h0m0.4 0.2h0m1.5 0.2h0m0-0.1h0m0.3-0.3h0m1.2-0.1h0m0.1 0.3h0m0.8-0.2h0m2.1-0.4h0m0.4 0.3h0m0.1 0.3h0m3.3 0h0m0.7-0.3h0m1.1-0.2h0m0 0.3h0m2-0.1h0m0.1 0.3h0m0.4-0.2h0m1.4-0.5h0m3.5 0.7h0m0.6-0.3h0m0.3 0h0m5.4-0.3h0m0.9 0h0m0.8 0h0m0.2-0.1h0m0.1 0.6h0m6.1-0.6h0m3.9 0.1h0m1.8 0.5h0m0.3 0.1h0m0.5-0.3h0m1.3 0.4h0m0.5-0.1h0m0.2 0.1h0m0.6 0h0m0.5-0.6h0m2.5 0.2h0m1.4-0.1h0m0.7-0.2h0m0.5 0.3h0m1.1 0.1h0m1.8 0.1h0m0.1 0.2h0m0.1-0.6h0m2.9-0.1h0m0.9 0.3h0m0.5 0.3h0m0.6-0.2h0m2.1-0.4h0m1.3 0.3h0m1.8-0.4h0m0.1 0.4h0m0.3-0.1h0m0.7-0.4h0m0.2 0.8h0m0.4-0.7h0m0.2 0.1h0m0.9 0.1h0m1.1 0.4h0m0 0.2h0m0.3-0.8h0m1.1 0.7h0m0.7 0.2h0m2.4-0.1h0m0.3-0.7h0m0.5 0.7h0m1.2-0.7h0m2.3 0.5h0m0.2 0.2h0m0.6-0.9h0m0.6 0.1h0m1.8 0.7h0m0.8 0.1h0m0.9-0.8h0m0.1 0.4h0m1 0.3h0m7.9-0.3h0m1.9 0.1h0m0.1 0.3h0m0.6-0.6h0m1.2 0.3h0m2.2-0.4h0m0.7 0h0m0.2 0.4h0m0.7-0.4h0m0.2 0.2h0m0.3 0.5h0m2.8-0.1h0m0.8 0h0m1.6-0.3h0m0.6-0.1h0m1.9 0.4h0m2.1-0.3h0m3.9 0.2h0m0-0.5h0m1-0.1h0m0.3 0h0m0.6 0.1h0m0.3 0.3h0m2.2 0.1h0m0.3-0.2h0m0.1-0.1h0m0.7-0.1h0m0.5 0.8h0m0.1-0.5h0m0.1-0.2h0m2 0.4h0m1.7-0.5h0m1.5 0.1h0m0.1 0.4h0m1.2 0.2h0m1-0.5h0m0.2 0.4h0m0.3-0.2h0m1.2 0.2h0m0.1 0h0m0.6 0h0m0.3-0.7h0m0.6 0h0m1.4 0.6h0m1.7 0h0m1.8-0.6h0m0.2 0.6h0m2.6-0.1h0m0.1-0.1h0m0-0.5h0m0.5 0.5h0m0.4-0.2h0m2.8 0.2h0m0.7-0.1h0m6.4-0.4h0m0.4 0h0m0.1 0.2h0m0.3 0.4h0m0 0h0m0.9-0.5h0m2.3 0.4h0m0.2 0h0m8.3 0.4h0m0.8-0.7h0m0.6-0.1h0m0.3 0.6h0m0.1 0.1h0m0.4-0.7h0m0.1 0.6h0m0-0.6h0m2.4 0h0m1.5 0.8h0m1.3-0.1h0m2.6-0.5h0m2.5-0.1h0m5.5 0.7h0m0.2-0.7h0m2 0.5h0m0.2-0.3h0m0.5 0.3h0m0.5-0.7h0m2.3 0.3h0m1.4-0.2h0m0.5 0.8h0m2.6 0h0m0.9 0.1h0m0.4-0.3h0m3.1 0.1h0m1 0.1h0m0.1-0.3h0m0.1-0.5h0m3 0.1h0m0.1 0.6h0m5.2-0.2h0m1.6 0h0m0.7 0.2h0m0.1-0.3h0m7.4 0.2h0m0.4 0.2h0m0.3-0.8h0m11.3 0.8h0m0.3-0.3h0m0.1 0h0m0.6-0.1h0m0.2 0h0m0.4-0.2h0m2.1 0.5h0m0-0.4h0m1.4 0h0m6.8 0.1h0m5 0.4h0m0.8-0.2h0m0.4-0.3h0m3.5 0.2h0m0.6 0.1h0m1.8-0.3h0m2.2 0.4h0m0.1-0.4h0m1.3 0.5h0m12.4-0.5h0m7.9-0.2h0m3.8 0.2h0m0.5 0.4h0m0.9 0.1h0m0.3-0.8h0m12.4 0.2h0m3.8 0h0m1.9-0.3h0m21.3 0h0m0.1 0.2h0m0.3 0.7h0m-400.1 0.4h0m28.6 0h0m3.1-0.2h0m3.2 0.5h0m0.3-0.1h0m1.3 0.3h0m0.4 0.1h0m3.4-0.1h0m0.2-0.1h0m0.3-0.1h0m5.6-0.1h0m0.8 0h0m5.2-0.1h0m3.3 0.1h0m4.6 0.1h0m6.1-0.4h0m0.9 0.4h0m0.2-0.1h0m3.8-0.3h0m1.6-0.2h0m0 0.5h0m0.3-0.4h0m2.1 0h0m0.1 0h0m0.1 0.6h0m0.5-0.6h0m0.4 0.1h0m0.3-0.1h0m0.2 0.8h0m1.7-0.2h0m0.5-0.1h0m0.2 0.1h0m0.8-0.6h0m0.9 0.8h0m0.2-0.4h0m2.1 0.4h0m3.3-0.7h0m0.1-0.2h0m0.8 0.8h0m3.7 0h0m1.1-0.1h0m0.9-0.4h0m1.8 0.7h0m1.2-1h0m3.9 0.9h0m0.3-0.6h0m2.1 0h0m0.2 0.5h0m1 0h0m0-0.8h0m0.5 0.7h0m0.7-0.1h0m2.2 0.1h0m0.6 0h0m0.9-0.2h0m1.9-0.4h0m0.2 0.6h0m1-0.1h0m1-0.2h0m0.1 0.4h0m2.7-0.4h0m0.6 0.1h0m0.8-0.2h0m0.2 0.5h0m1.7 0.2h0m0.3-0.8h0m0 0.4h0m3.3 0.3h0m0.1 0.1h0m1.1-0.7h0m0.1 0.7h0m0.3-1h0m0.7 0.4h0m2.5 0h0m1.5 0.2h0m2.7-0.5h0m1.1 0.2h0m0.3 0.1h0m0.1 0.5h0m2.3 0.1h0m0.4-0.1h0m0.4-0.4h0m0.5 0.4h0m3.4-0.1h0m0.4-0.3h0m2.2 0h0m0.9 0.1h0m1.6-0.5h0m1.4 0.5h0m0-0.5h0m0.6 0.5h0m1.3-0.4h0m3.3-0.1h0m0.3 0.9h0m0.7-0.5h0m0.6-0.4h0m1 0h0m0.9 0.7h0m3.7-0.5h0m0.6 0.1h0m0.6 0.2h0m0.1 0.3h0m0.5-0.4h0m1.7 0.4h0m1.8-0.6h0m4.5 0h0m1.8 0.3h0m0.4-0.5h0m0.2 0h0m1.7 0.1h0m1.7 0.3h0m4.6 0h0m0.7 0.3h0m3.1-0.1h0m0.6 0.2h0m0.6-0.8h0m3.7 0.5h0m1.1-0.3h0m2.1-0.1h0m0 0.4h0m0.5 0h0m0-0.1h0m0 0.4h0m0.1-0.3h0m2.9-0.6h0m0.2 0.7h0m0.9 0.3h0m4.4-0.9h0m0.3 0.5h0m0.7-0.5h0m1.3 0h0m0.4 0.3h0m0-0.3h0m1 0.2h0m0.2 0.2h0m0.9 0.4h0m0.4-0.5h0m1.2 0.4h0m0.9-0.3h0m5.7 0.1h0m0.1-0.4h0m3.8 0.3h0m0 0.2h0m3.4 0.1h0m0.2-0.5h0m1.8 0.2h0m1.3 0.1h0m0.6-0.4h0m0.1 0.1h0m0.4 0.2h0m2.9 0.2h0m0.6 0h0m0.7-0.3h0m2.2 0.4h0m1.3-0.4h0m2.7-0.3h0m3.4 0.4h0m0.2 0.5h0m0.4-0.3h0m0.4-0.2h0m1.6-0.1h0m1.5-0.1h0m0.1 0.3h0m0.2-0.2h0m0.6-0.3h0m0.9 0h0m2.6 0.8h0m0.6 0h0m0.2-0.1h0m2.7-0.7h0m2.1 0.7h0m2.8-0.7h0m2.9 0.5h0m2.4-0.4h0m0.5 0.4h0m1.8 0.3h0m0.6 0h0m1-0.4h0m0.3 0.1h0m2.1-0.6h0m0.8 0.5h0m0.3 0.4h0m0.5-0.2h0m2.1-0.4h0m0.1 0.6h0m0-0.8h0m2 0.8h0m0-0.8h0m0 0.1h0m2.6-0.1h0m1.7 0.1h0m2.1-0.1h0m0.3 0h0m0.5 0.3h0m0.4 0h0m2 0.1h0m0.5-0.3h0m0 0.3h0m0.3-0.4h0m0.2-0.1h0m4 0h0m4.9 0.7h0m2.5-0.7h0m0.7 0h0m0.5 0.3h0m2.5 0.7h0m1.7-0.9h0m0.6 0.7h0m2.4-0.3h0m4.3 0.1h0m3.1 0.2h0m4.7-0.3h0m3.2-0.2h0m2.8 0.4h0m0-0.2h0m1.2 0h0m2.4-0.4h0m7.9 0.9h0m0.3 0h0m0-0.2h0m4-0.5h0m1.6-0.3h0m0.8 0.5h0m3.3 0h0m8.5 0.3h0m1.3-0.7h0m7.1 0.3h0m2.6 0.4h0m1.2-0.7h0m5.5 0.4h0m6.3-0.2h0m13.8 0.7h0m21.5-0.8h0m-429.4 1.7h0m4-0.2h0m6-0.7h0m9.3 0.3h0m34.6 0.4h0m1.7-0.1h0m6.2 0.2h0m7.3-0.4h0m4.6-0.2h0m0.1 0.2h0m2 0.4h0m2.4-0.8h0m1.8 0.2h0m8.1-0.2h0m3 0.4h0m0.2 0h0m2.6 0.2h0m1.4 0h0m1.9-0.1h0m1.7-0.2h0m0.5-0.2h0m2.4 0.5h0m0.4 0.3h0m0.9-0.2h0m0.6-0.4h0m6.1-0.1h0m0.6 0.2h0m1 0.1h0m0.1-0.2h0m2.3 0.2h0m0.4-0.4h0m0.6 0.5h0m0.6-0.6h0m1.8 0.8h0m1-0.7h0m1.5 0.8h0m2-0.5h0m0.7 0.3h0m1.6 0.2h0m1.7-0.2h0m0.3-0.4h0m0.6-0.2h0m1 0.7h0m6.5-0.4h0m0.5 0h0m0.1-0.4h0m0.4 0.3h0m0.1 0.3h0m0.4-0.6h0m3.1 0.2h0m0.7 0.2h0m0.1-0.3h0m1.6 0.5h0m0.3-0.2h0m1.8 0.4h0m0.1 0h0m0.5-0.5h0m2 0.6h0m0.5-0.9h0m1.6 0.9h0m1.6-0.7h0m1.2 0.1h0m0.6-0.2h0m1.8 0.5h0m0.1-0.5h0m0.6 0.2h0m2.2 0.6h0m1.7-0.6h0m1.5 0h0m2.5 0.6h0m1.2-0.5h0m0.1-0.2h0m0.1 0.3h0m2.5 0.1h0m2.1-0.5h0m0.1 0.4h0m0.1-0.5h0m1.4 0.7h0m0.9-0.1h0m0.2 0.3h0m0.5-0.6h0m0.3 0.3h0m0.1-0.5h0m0.3 0.8h0m2-0.5h0m0.2 0.2h0m0.9-0.3h0m0.4 0.5h0m0.1-0.5h0m3 0h0m0.8 0.3h0m2.1-0.2h0m0.7-0.1h0m1.6 0.1h0m1.8 0h0m0-0.2h0m1 0.7h0m0.8-0.3h0m0.5-0.5h0m0 0.7h0m0.1-0.2h0m5.5-0.2h0m0.1-0.1h0m0.7 0.5h0m0-0.8h0m0.2 0.7h0m0.3-0.3h0m0.9-0.2h0m0.6 0.3h0m1.7-0.4h0m0.6-0.1h0m1.2 0.8h0m0.4-0.7h0m2.4 0.8h0m3.6-0.3h0m1 0.3h0m2.3-0.2h0m0.2 0h0m0.5 0.1h0m1.8 0h0m2.3-0.7h0m1 0.7h0m0.3-0.7h0m0.4 0.1h0m0.2 0.4h0m1.4 0h0m0.6 0.2h0m1-0.8h0m0 0.9h0m4.3-0.7h0m0.6 0.5h0m1.8 0h0m1.2 0h0m0.7-0.2h0m2.3-0.1h0m1.8 0.4h0m1.7-0.8h0m1.5 0.5h0m0.8-0.3h0m2.2 0.4h0m0.5 0.1h0m0.1-0.2h0m0.6-0.4h0m3.3 0.3h0m5.1 0.3h0m2-0.5h0m1.6 0.5h0m0.7-0.6h0m1.7 0.6h0m0.7-0.4h0m0.1 0.5h0m0.3-0.5h0m1.1 0.1h0m2.6 0.3h0m0.2-0.6h0m3 0.5h0m0.5 0h0m1.3 0.3h0m2.3-0.5h0m0.7 0.5h0m0.1-0.5h0m0.3 0h0m1.1 0.1h0m2.9-0.1h0m0.4-0.1h0m0.5 0.2h0m2 0h0m2.1 0.3h0m1.7-0.6h0m0.8-0.1h0m1.2 0h0m0.7 0.3h0m2.3 0h0m1.1-0.3h0m0.5 0.6h0m2-0.2h0m0.8 0h0m0.5 0.1h0m0.1 0.3h0m0.1-0.7h0m0.4 0.3h0m1.4 0.4h0m0.4-0.4h0m0.2-0.3h0m0.3 0.3h0m0.6 0.4h0m0.4-0.6h0m0.3 0.4h0m3.9-0.6h0m0.1 0.4h0m0.1-0.3h0m0.4 0h0m5.7 0.2h0m0.6-0.1h0m0.9-0.3h0m0.7 0.6h0m0.1-0.5h0m1.3 0.6h0m1.2 0.2h0m0.3-0.1h0m0.8-0.2h0m0.4 0h0m2.1-0.1h0m15.8-0.1h0m0.2 0h0m0.5 0.2h0m1.6-0.5h0m1.4 0.6h0m0.8-0.5h0m2.9 0.7h0m1.9-0.6h0m3.6 0.6h0m3.2-0.6h0m5.1 0h0m0.8 0.6h0m2.5-0.6h0m0.4 0h0m0.1 0.3h0m3.8-0.6h0m3.5 0.6h0m1.5 0.1h0m4.5-0.4h0m13.7-0.2h0m0.2 0.5h0m11.9-0.4h0m20.6 0h0m-387.6 1.8h0m2.8 0h0m29.9-0.1h0m13.8 0h0m30 0h0m3.3 0h0m3 0h0m13.8 0.1h0m9.7-0.1h0m1 0h0m0.8 0h0m4.6 0h0m6.2 0.1h0m5.5-0.1h0m7.3 0.1h0m16.6-0.1h0m0.1 0.1h0m15.5-0.1h0m0 0h0m4 0h0m12.4 0h0m0.3 0.1h0m2.4-0.1h0m2.2 0.1h0m3.6 0h0m1.8 0h0m1.9-0.1h0m3.1 0.1h0m11.5-0.1h0m5.7 0.1h0m31.4 0h0m2.3-0.1h0m1 0h0m19.3 0h0m10.1 0.1h0m8.2-0.1h0m11.5 0.1h0m4.3-0.1h0m6.8 0h0m18.8 0h0m52 0h0m-419.2 0.1h0m9.9 0.7h0m5.8 0.2h0m5.5-0.2h0m3 0.3h0m5.1-0.1h0m0.2-0.7h0m1.7 0.7h0m9.7-0.2h0m7.5 0.2h0m0.2 0h0m0.7-0.1h0m3.6 0h0m15.4-0.2h0m2.7 0.2h0m2.7-0.8h0m2.8 0.4h0m1.1 0.3h0m0.1 0.2h0m2.2-0.4h0m3.1-0.5h0m0 0.8h0m2.3 0.1h0m3.4-0.7h0m4.4 0.1h0m4.4 0.2h0m0.4-0.3h0m2.4 0.6h0m0.1-0.1h0m0.6-0.7h0m0.1 0.4h0m2.3-0.3h0m0.1 0.3h0m3.5 0.6h0m1.6-0.1h0m0.1-0.5h0m0.2 0h0m2.2 0.1h0m1-0.1h0m1.6-0.3h0m0 0.7h0m0.1-0.7h0m1.3 0.2h0m0.3 0.3h0m0.7 0.2h0m0.3-0.3h0m0.2-0.2h0m0.6 0.4h0m0.6-0.1h0m0 0.4h0m2.2-0.1h0m0.7 0h0m5.2-0.1h0m1.4 0.1h0m0.5-0.3h0m3.5-0.4h0m0.3 0.5h0m0-0.4h0m4.5 0.1h0m1-0.2h0m2.7 0.2h0m0.4 0.6h0m1.1-0.7h0m0.2 0.1h0m0.2 0.2h0m3.8 0.3h0m2.2-0.4h0m0.2-0.2h0m3.2 0.3h0m0.1 0.2h0m0.2 0.1h0m0.6-0.7h0m3.8 0.2h0m1.9 0.5h0m1.7-0.6h0m1.5 0.2h0m2.7 0.2h0m0.7 0.1h0m0.7 0.2h0m0.2 0h0m0.5-1h0m0.2 0.6h0m1.6 0h0m0.2 0.3h0m0.1-0.5h0m1.2-0.4h0m0.5 0.3h0m0.3-0.2h0m0.1 0.2h0m2.8 0.7h0m0.5-0.8h0m0.5 0.3h0m0.3 0h0m1.8 0h0m0.5 0h0m0.1 0.3h0m0.2-0.5h0m1 0.1h0m0 0.3h0m0.1-0.4h0m0.2-0.1h0m2.6 0.1h0m0.1 0.2h0m0.8-0.4h0m0.1 0.9h0m0.1-0.7h0m0.1 0.4h0m1.9 0.1h0m0.4-0.5h0m0.2 0.5h0m3.2 0h0m0.8 0.1h0m1.1-0.5h0m1.7 0.4h0m1.6 0h0m0.2-0.7h0m2.5 0.7h0m0-0.8h0m0.1 0.9h0m1.7 0h0m2-0.8h0m0.1-0.1h0m0.3 0.3h0m1.5 0.5h0m0.1-0.7h0m2.5 0.1h0m0.5 0.5h0m0.4-0.4h0m0.4 0h0m0.1 0h0m2 0.3h0m0.7 0h0m1.4 0.2h0m0.5-0.3h0m2.2-0.2h0m0.1 0.6h0m0.9-0.1h0m0.1 0h0m3.1-0.2h0m0.1 0h0m1.1-0.2h0m0.1 0.1h0m1.7-0.1h0m0.3-0.2h0m0.4 0.4h0m0.7-0.5h0m2.6 0.6h0m1.5-0.4h0m0.2 0h0m0.1 0.3h0m2.4-0.2h0m1.9-0.4h0m0.7 0.8h0m1.4-0.6h0m0.1 0.1h0m0.4 0.3h0m1.8-0.5h0m5.7 0.7h0m0-0.2h0m1.6-0.2h0m0.4-0.1h0m2.3 0.7h0m0.3-0.1h0m1.1 0.1h0m2.3-0.9h0m1.4 0.1h0m0.2 0.5h0m0.2-0.4h0m0.3-0.3h0m2.4 0.6h0m0.3 0.1h0m0.1 0.3h0m0.5-0.1h0m0.4-0.7h0m0.4 0.3h0m0 0.1h0m0.6-0.1h0m1.2 0.1h0m0.6 0.2h0m0.6-0.6h0m0.1 0.8h0m2.5-0.8h0m0.3-0.1h0m1.2 0h0m0.5-0.1h0m0.4 1h0m0.3-0.6h0m3-0.4h0m2.7 0.5h0m0.3-0.5h0m0.1 0.6h0m1.6-0.4h0m0.1-0.1h0m0.4 0.9h0m1.4-0.5h0m2.7-0.2h0m1.1 0.4h0m1.1-0.3h0m1.4-0.1h0m0.3-0.2h0m1.1 0.7h0m1.7 0h0m4.3-0.2h0m0.9-0.2h0m1.8-0.3h0m0.7 0.6h0m0.7-0.6h0m0.3 0.1h0m0.3 0.4h0m0.3-0.3h0m1.3 0.7h0m0.3-0.1h0m2-0.4h0m0.3 0.5h0m1.1-0.6h0m0-0.4h0m1 0.8h0m0.5-0.1h0m1 0.3h0m1.8-0.1h0m1.9-0.5h0m0.4 0.1h0m0.1-0.1h0m0 0.2h0m0.3-0.3h0m3.7 0.1h0m1.8 0.6h0m0-0.5h0m0.3 0.5h0m0.7-0.4h0m0.7 0.2h0m0.3-0.2h0m2.9 0h0m0 0.2h0m0.2 0.1h0m0-0.5h0m0.4 0.4h0m0.8-0.1h0m1.9 0.2h0m1.5-0.2h0m0.2-0.3h0m2.2 0.5h0m0.2-0.3h0m2.2 0.3h0m1.5-0.6h0m1.1 0.4h0m1-0.2h0m0.3-0.2h0m3.6-0.3h0m1.5 0.7h0m4.1-0.3h0m1.3-0.3h0m0.5 0.3h0m0.4 0.1h0m2.3 0h0m0.8 0.4h0m0.1-0.2h0m0.5-0.3h0m2.1-0.4h0m0.6 0.1h0m3.8 0.7h0m0.1 0.1h0m3.8-0.2h0m1.3-0.1h0m0.6 0.4h0m2.6-0.3h0m0.2 0.2h0m0.5-0.2h0m2.7-0.6h0m1.3 0.3h0m3 0h0m3.7-0.4h0m0.2 0.9h0m0.8-0.6h0m0 0.5h0m0.7-0.2h0m2.1-0.5h0m1.5 0.3h0m0.5 0.1h0m0.4 0.4h0m5.7-0.4h0m2.8 0.4h0m1.8-0.3h0m2 0h0m6.6-0.1h0m0.6-0.2h0m3.9 0.6h0m11.3-0.2h0m0.7-0.4h0m3.7-0.1h0m0.6-0.1h0m7.6 0.2h0m-426.9 1.3h0m5.4-0.2h0m1.3-0.4h0m6.5 0.8h0m5.8 0.1h0m8.9-0.3h0m3.1 0.2h0m0.7-0.5h0m1.5 0.4h0m0.2-0.1h0m2 0.4h0m5.9-0.3h0m1.1 0.1h0m11-0.4h0m1.7-0.1h0m0.7 0.5h0m7.2 0.1h0m2.4-0.8h0m1.8 0.8h0m3.4-0.6h0m0.6 0.6h0m4.8-0.9h0m3 0.3h0m0 0.2h0m3 0.5h0m1.5-0.2h0m4.2-0.3h0m1.5 0.1h0m4.8 0.2h0m1-0.8h0m0.1 0.8h0m3-0.6h0m1.6 0.8h0m1.9-0.9h0m1 0h0m0.2 0.1h0m2.6 0.5h0m1.1-0.2h0m0.4-0.4h0m5.1 0.7h0m2.8-0.2h0m0.2-0.4h0m0.2 0.4h0m0.2-0.6h0m2.7 1h0m0.2-0.4h0m0 0.2h0m0.5-0.3h0m0.6-0.4h0m0.4 0.6h0m1.9 0h0m1.2-0.6h0m0.2 0.4h0m2.6-0.3h0m0.4 0.3h0m1.1 0.2h0m3.6-0.1h0m0.9 0.1h0m0.2 0.3h0m1.9-0.9h0m1 0.3h0m4 0.1h0m0.6 0.4h0m1.9-0.4h0m0.2-0.1h0m1.1 0.5h0m3.2-0.6h0m0.1 0.6h0m0.5-0.6h0m1.3-0.1h0m0.2 0.3h0m3-0.1h0m0.1 0.6h0m1-1h0m2.2 1h0m0-0.8h0m0.1-0.2h0m1.7 0.2h0m1.3 0h0m0.7 0.2h0m1.2 0.6h0m0.2 0h0m0.1-0.1h0m2.1-0.4h0m1.3-0.1h0m1-0.2h0m1.9-0.2h0m0.1 0.1h0m0.8 0.2h0m0.3 0.2h0m0.6 0.1h0m0.3-0.4h0m1.5 0.1h0m0.1-0.2h0m0.8 0.9h0m1.7-0.4h0m1.8-0.3h0m0.7 0.4h0m1.1 0.2h0m0.3-0.2h0m0.1 0h0m1.6-0.3h0m0 0h0m0.8 0.2h0m0-0.5h0m3 0.7h0m0.1-0.8h0m4.1 0.8h0m0.2-0.4h0m1.4 0.5h0m0.8-0.8h0m1.9 0.3h0m0.1 0.2h0m3.7-0.4h0m0.3 0.6h0m0.5-0.2h0m1.2-0.5h0m1.4 0.6h0m0.1-0.6h0m1.1 0.6h0m0.2-0.2h0m0.3 0.1h0m0.5-0.6h0m0.6 0.9h0m0.1-0.3h0m2.6-0.1h0m0.6 0.5h0m0.8-0.3h0m2 0h0m0.2 0h0m1.6-0.2h0m0.3 0.3h0m2.3-0.1h0m0 0.2h0m1.1-0.6h0m1.6 0.3h0m1.1-0.1h0m0.1 0.1h0m1-0.2h0m2.7-0.4h0m1.5 0.6h0m1.6-0.4h0m0.7 0.6h0m0.7-0.3h0m0-0.4h0m2.7 0.9h0m0.6 0h0m1.7-0.4h0m5.6 0.4h0m0.8-0.2h0m1.1 0.2h0m2.2-0.5h0m0.3 0.4h0m1.4-0.1h0m1.1-0.5h0m1.1 0h0m0.8-0.2h0m0.8 0.6h0m0.6-0.4h0m0.2-0.2h0m2.9 0.5h0m0.9 0.3h0m0.3-0.6h0m1.7 0.4h0m0 0.2h0m0.1 0h0m4.2 0h0m4.3 0h0m0.1-0.2h0m0.1-0.6h0m0.5 0.7h0m0.4-0.4h0m0.7-0.3h0m0.1 0.9h0m2.3-0.1h0m0.4-0.8h0m0.5 0h0m0.4 0.6h0m0.4-0.7h0m0.3 0.3h0m1.7-0.1h0m0.2 0.5h0m1.9 0.1h0m0.2-0.4h0m1.6 0.1h0m0.2-0.4h0m1.1 0.4h0m0.7-0.4h0m0.2 0.8h0m2.1-0.8h0m0.6 0.8h0m0.9 0.1h0m4.6-1h0m1.7 0.2h0m1.9-0.1h0m4.2 0.4h0m1.7 0.1h0m0.2-0.4h0m0.6 0.4h0m0.3-0.1h0m0.2 0.3h0m0.5-0.4h0m0-0.2h0m0.3 0.1h0m0-0.2h0m1.5 0.8h0m0.5-0.4h0m0.1-0.5h0m3.3 0.5h0m0.5 0.5h0m0.9-0.9h0m1.2 0.3h0m0.1 0h0m1.6 0.1h0m1.2 0.3h0m3.6 0.2h0m0-0.4h0m1.1-0.5h0m0.1 0.6h0m0.1-0.5h0m2.5 0.6h0m0.2-0.5h0m0.8 0.2h0m0.3 0.1h0m0.5 0.1h0m2.4 0.2h0m0.1 0h0m0.9 0h0m3.7-0.3h0m0.1 0.2h0m0.7-0.4h0m1.7 0.5h0m4.1-0.1h0m0 0h0m0.8-0.8h0m0.5 0.9h0m0.3-0.8h0m2.7 0.7h0m0.1-0.4h0m0-0.2h0m0.7 0h0m0.5 0.6h0m0.5-0.5h0m1.5 0.3h0m2-0.2h0m0.5-0.4h0m0.3 0.2h0m0.1 0.4h0m2-0.4h0m7.5 0.2h0m0.6 0.4h0m0.7-0.3h0m2.9 0.3h0m0.4-0.7h0m0.8 0.5h0m0.4-0.1h0m0 0.3h0m4 0.1h0m0.1-0.5h0m2.7-0.3h0m1.3 0.7h0m3.1 0.1h0m3.1-0.5h0m0.5-0.3h0m2 0.2h0m0 0.2h0m2.1 0.2h0m1.1 0.2h0m0.5-0.5h0m0.1-0.1h0m3.2 0h0m2 0.4h0m0.2-0.3h0m0.5 0.1h0m0.1 0.2h0m0.4-0.1h0m0.5 0h0m0.2-0.6h0m6.8 0.8h0m6-0.7h0m14.6 0.2h0m3.3 0h0m0.7-0.3h0m2.9 0.7h0m9.1-0.2h0m15.6-0.5h0m3.1 0.5h0m8.4-0.5h0m-443.6 1.8h0m5.4-0.1h0m4.5 0h0m10.1-0.6h0m0.7 0.5h0m3.3-0.2h0m1.8 0.4h0m2.5-0.7h0m1.8 0h0m3.8 0.8h0m0.1-0.8h0m1.3 0.4h0m5.1-0.3h0m10.9 0.3h0m6.6-0.2h0m5.9 0.5h0m9.5 0h0m0.1 0.1h0m2.2-0.7h0m2-0.2h0m2 0.9h0m5.3-0.2h0m4.8-0.2h0m8.1 0.4h0m2.9-0.4h0m0.3 0.1h0m0.2 0h0m0.4-0.3h0m0.6-0.2h0m1 0.5h0m0.1-0.3h0m0.1 0.5h0m0.8-0.7h0m0.3 0.4h0m0.7-0.2h0m0.6 0.5h0m1.4-0.3h0m0.7 0h0m0.1-0.4h0m0.3 0.1h0m6.9 0.3h0m1.1-0.4h0m0.1 0.5h0m1.3-0.2h0m1.7 0.4h0m0.2-0.5h0m1.3-0.3h0m2.5 0.3h0m0.9 0.3h0m0.5 0.3h0m0.3-0.1h0m0.8 0.1h0m1.4-0.2h0m0.2 0.1h0m0.4-0.6h0m1.4-0.2h0m0.5 0.7h0m1.5-0.3h0m0.1 0h0m0 0.2h0m0.9 0h0m0.1-0.2h0m0.7 0.1h0m3 0.2h0m1.9-0.6h0m2.6 0h0m0.8 0.5h0m2-0.3h0m2.2-0.2h0m0.6 0.1h0m0 0.5h0m1.6 0h0m1 0.1h0m0.7-0.3h0m0.5 0.3h0m1.2-0.3h0m0.6 0.1h0m0.4 0.1h0m0.5-0.5h0m3.1 0.1h0m1.4 0.1h0m0.9-0.3h0m1.3-0.1h0m0.1 0.7h0m0.4 0h0m0.5-0.2h0m0 0h0m0.3 0.2h0m0.9-0.5h0m1.8-0.1h0m0.3 0.1h0m0.3-0.1h0m0.4 0.6h0m0.3 0h0m0.8 0.1h0m0.1-0.5h0m0.1 0.3h0m0.3 0.1h0m0.1-0.2h0m2-0.3h0m0.8 0.4h0m0.3 0.1h0m2.4-0.3h0m0 0.5h0m0.6-0.7h0m0.5 0.7h0m0.7-0.2h0m0.5 0h0m0.1-0.2h0m3.3-0.2h0m0.7 0.1h0m3 0.1h0m0.1 0.4h0m3.6-0.5h0m0.4 0.4h0m0.5-0.7h0m1.6 0.6h0m0.2-0.3h0m0.8-0.2h0m0.7 0.2h0m0.7 0.3h0m2.6 0.2h0m1.6-0.8h0m0.1-0.1h0m2.2 0.4h0m1.2-0.1h0m0.4 0.6h0m0-0.5h0m2.5 0.4h0m0.3-0.1h0m0.6-0.5h0m0.2 0.5h0m0.9-0.3h0m2.6 0.3h0m0.9-0.2h0m2.7 0.4h0m0.1-0.6h0m0.4 0.3h0m1.2 0.3h0m1.4-0.6h0m0.3-0.2h0m0.1 0.8h0m0.6-0.5h0m0.2-0.2h0m0.2 0.1h0m2.7 0.3h0m0.6 0.2h0m0.4 0.1h0m1.5-0.6h0m0.1 0.1h0m0 0.5h0m2.3-0.6h0m1.3 0h0m1.9 0.2h0m1.4 0h0m0 0h0m0.6 0h0m1.8-0.1h0m0.3 0.2h0m0.3-0.1h0m0.7-0.4h0m1.1 0h0m2.7 0.6h0m0.9-0.1h0m0.4-0.4h0m0.3-0.1h0m1.2 0.3h0m2.5-0.1h0m0.1 0.4h0m1.5-0.2h0m0.6-0.3h0m0.5 0.6h0m0.7-0.3h0m0.6-0.1h0m1.3 0.2h0m0.5 0.1h0m0.9-0.4h0m0.2 0.6h0m0.3-0.8h0m0.4 0.5h0m0.2-0.6h0m2.2 0.3h0m1-0.1h0m2.3 0.6h0m0.6-0.2h0m0.5-0.4h0m3.4-0.2h0m0.1 0.8h0m0-0.6h0m1.3 0.6h0m0-0.4h0m0.5 0.4h0m0.4-0.6h0m5.4 0.2h0m1.3 0h0m2.6-0.4h0m1 0.9h0m1.2-0.7h0m0.5 0.7h0m1.3-0.5h0m0.1 0.3h0m1.5 0.1h0m0.3-0.5h0m0.2 0.3h0m2.8 0.2h0m0.9-0.1h0m3.3-0.1h0m0.2-0.5h0m0 0.7h0m0.9-0.2h0m0.3 0.1h0m0.4-0.1h0m1.6 0.3h0m0.1-0.6h0m8.4 0.2h0m0.2 0.3h0m0.1-0.6h0m0.6 0h0m0.2 0.2h0m0.7 0h0m1.4 0.1h0m0.3-0.1h0m0.6 0.3h0m3 0h0m2.2-0.5h0m0.6 0.3h0m0 0.2h0m2.4-0.1h0m0.2 0.2h0m1.3-0.7h0m1.3 0.3h0m1.2 0.3h0m1.4-0.6h0m0.2 0.3h0m2 0.5h0m3.5 0h0m3.9-0.3h0m2.1 0h0m2.4 0.1h0m0-0.5h0m1.2 0.6h0m0.4-0.4h0m1.5 0.4h0m2.1-0.2h0m0.5-0.2h0m1.4 0.1h0m0.9-0.2h0m0.2 0.3h0m0.2 0.1h0m0.9-0.6h0m0.7 0.1h0m2.3 0.4h0m0.3 0.2h0m0.4-0.1h0m3.2 0.1h0m3.9-0.4h0m0.8 0h0m1 0.1h0m1.8-0.2h0m0.4-0.3h0m0.4 0.4h0m1.1 0.1h0m2.2-0.4h0m1.2-0.1h0m0.6 0h0m2.8 0.9h0m0-0.7h0m1.2 0.3h0m1.8 0.2h0m1.1 0h0m0-0.3h0m3.7 0.2h0m0.8 0.2h0m0 0h0m2.5-0.8h0m0.1 0.8h0m0.8 0h0m11.8-0.4h0m5.9-0.2h0m5 0.1h0m1 0.2h0m5.2-0.2h0m15.8 0.1h0m7.4-0.3h0m3.1 0.3h0m20.5 0.1h0m-387.7 1.4h0m40.1 0.1h0m15.9-0.1h0m1.7 0h0m3.4 0h0m2.6 0.1h0m3.6-0.1h0m26.3 0h0m5.7 0h0m4.7 0h0m0.6 0h0m16.9 0h0m1.4 0.1h0m0.1-0.1h0m1.6 0h0m2.5 0h0m0.8 0.1h0m1.3-0.1h0m2.1 0.1h0m0.6-0.1h0m3.6 0h0m23.5 0.1h0m0.4 0h0m4.7 0h0m0.3-0.1h0m7.6 0h0m2.7 0h0m0.4 0h0m0.8 0h0m2.8 0.1h0m1.9-0.1h0m0.4 0.1h0m3.7-0.1h0m6.1 0h0m4.3 0h0m0.4 0.1h0m16-0.1h0m0.2 0h0m7.1 0h0m2.5 0h0m2.7 0h0m12.6 0.1h0m1.1-0.1h0m7.3 0h0m4.2 0.1h0m2.6-0.1h0m1.8 0h0m9.5 0.1h0m5.3 0h0m12 0h0m3.8-0.1h0m5.1 0h0m1.5 0h0m2.5 0h0m1.4 0h0m2.9 0.1h0m11.7-0.1h0m1.4 0.1h0m22.8-0.1h0m25.4 0.1h0m50.7 0h0m-472.3 0.7h0m3.8-0.6h0m10.2 0.2h0m0.9 0.1h0m1.3 0h0m3.6-0.1h0m1.7 0h0m3.9 0.6h0m2.7-0.1h0m2.2-0.1h0m0.9-0.2h0m1-0.3h0m1.2 0h0m1.7 0.5h0m0.1-0.5h0m0.6 0.2h0m2.9-0.2h0m0.2 0.4h0m3.1-0.4h0m1.4 0.4h0m2.8-0.2h0m3.8-0.4h0m1.4 0.6h0m2.6 0h0m1.4-0.2h0m2.9 0.5h0m4.6-0.6h0m0.6 0h0m3.9 0.6h0m0.6-0.8h0m6.2 0.2h0m1.9 0.2h0m1.3 0.2h0m2.9-0.1h0m3.9-0.2h0m1.6 0.6h0m1.8-0.6h0m0.3 0.4h0m2.8-0.2h0m5.6 0.1h0m5.2-0.5h0m1.3-0.1h0m2.6 0.5h0m0.4-0.4h0m0.5-0.1h0m3.4 0h0m0.5 0.3h0m1.9 0.6h0m0.3 0h0m1.1-0.8h0m0.8 0.4h0m2-0.2h0m2.3-0.3h0m0.2 0.6h0m1.1-0.1h0m1.9 0h0m0.4-0.2h0m0.5-0.3h0m3.2 0.4h0m3.5 0.1h0m1-0.1h0m0.2 0h0m0.2 0.3h0m0.5-0.4h0m3.2 0h0m4.4-0.2h0m0.9 0.5h0m0-0.1h0m2.5-0.4h0m0.1 0h0m0.4 0.7h0m1.6-0.4h0m0-0.2h0m1.6-0.2h0m0 0.7h0m0.8-0.1h0m1.4-0.7h0m1.7 0.7h0m0.6-0.2h0m0.2 0.2h0m0.9-0.4h0m0 0.7h0m0.7-0.4h0m1.3 0.1h0m0 0.2h0m0.3-0.3h0m1.6 0h0m0.6 0.2h0m0.2-0.8h0m0 0.5h0m0.1 0.3h0m1.9-0.1h0m0.5-0.2h0m1 0.2h0m0.2-0.2h0m1.5 0.2h0m0.7-0.6h0m0.4 0.1h0m0.5 0.1h0m0 0.1h0m2.3 0.2h0m0.4 0.1h0m1.9 0.2h0m5.8-0.5h0m1 0.4h0m0.2-0.3h0m1-0.5h0m0.6 0.7h0m1.9-0.6h0m0.1 0.6h0m3.9-0.7h0m0.6 0.6h0m0.3-0.5h0m0 0.5h0m0.4 0.3h0m0.3-0.4h0m0.1-0.2h0m0.2 0.1h0m0.1 0h0m0.2 0h0m1.4-0.4h0m0 0.3h0m1.4 0.6h0m0.3-0.1h0m0.4-0.2h0m1.8-0.6h0m0.2 0.5h0m0.5-0.3h0m0.6 0.3h0m0.2-0.3h0m0.3 0.7h0m2.7 0.1h0m1.4-0.9h0m2.1 0.3h0m0-0.1h0m0.1-0.2h0m1.3 0.4h0m0.2 0.1h0m2.6-0.1h0m0.1-0.3h0m0.3 0.6h0m0.2-0.5h0m0.2 0h0m0.1-0.2h0m0.2 0.4h0m0.2 0.4h0m1 0h0m1.9-0.4h0m1.8 0.1h0m1.8 0.3h0m1.2-0.2h0m3.5 0.2h0m0.1-0.5h0m0.7 0.6h0m0.8-0.9h0m0.2 0.5h0m0.2-0.5h0m1.8 0.2h0m0.3-0.2h0m0.2 0.9h0m0.5-0.7h0m3.2-0.2h0m0.4-0.1h0m0.3 0.2h0m0.3 0.8h0m2.1-0.2h0m1.2-0.1h0m0.1-0.1h0m0.2-0.2h0m0.7-0.3h0m0.3 0.4h0m0.3-0.5h0m0.1 0.3h0m1.3 0.1h0m0.3 0.4h0m0.4-0.2h0m0 0.3h0m0.1 0h0m0.1-0.3h0m0.1-0.2h0m2.9-0.3h0m0.2 0.7h0m0.6-0.5h0m0.8 0.7h0m6.2-0.7h0m0.9 0.2h0m0.3 0.2h0m0.4-0.5h0m1.2 0.8h0m1.4-0.1h0m0.4-0.5h0m0.2 0h0m0.4 0.3h0m3.3-0.2h0m1.2-0.3h0m1.2 0.2h0m1.5 0h0m0.4-0.3h0m0.6 0.8h0m0-0.4h0m0.4 0.1h0m0-0.1h0m0.8-0.3h0m0.2 0h0m1.3 0.1h0m0.8 0h0m0.8 0h0m1.2 0.2h0m1.1-0.3h0m0.7 0.7h0m0.2 0h0m0.2-0.5h0m0 0.3h0m0.7-0.5h0m0.8 0.6h0m0.1-0.6h0m2.1 0.4h0m0.5 0.3h0m0.5-0.1h0m0.2-0.2h0m0.1 0.2h0m2.1-0.1h0m1.1-0.1h0m1.3-0.4h0m1.5 0.6h0m2.7-0.8h0m1.2 0.3h0m0.6 0h0m0.1 0.7h0m0.4-0.2h0m1.7 0.1h0m1.7-0.6h0m0.4 0h0m1.3-0.2h0m0.1 0.7h0m1.9-0.5h0m0-0.1h0m0.1 0.7h0m2.1-0.5h0m0.2-0.3h0m2 0h0m0.4 0.3h0m3 0h0m1.1 0.5h0m0.3-0.5h0m4.7 0h0m0.2-0.2h0m0.6 0h0m1.2 0.6h0m0.1-0.5h0m0.2 0.5h0m1-0.5h0m0.7 0.3h0m0.8-0.1h0m2 0.4h0m0.4-0.5h0m0.3 0.5h0m3-0.7h0m0.3-0.2h0m1.7 0.4h0m0.2 0.4h0m1.6-0.3h0m0.3-0.5h0m0.3 0.9h0m0.2-0.2h0m0.7-0.7h0m0.2 0.7h0m0.4 0.2h0m2.5-0.7h0m0.5 0.1h0m0.4-0.1h0m2.9 0.8h0m1.6-0.7h0m0.1 0h0m0.3 0.1h0m0.2 0.5h0m1-0.3h0m1.3-0.1h0m1.5 0.4h0m1.2-0.7h0m0.3 0.8h0m3.8 0h0m1-0.4h0m1.3 0.2h0m7.6-0.1h0m0.1-0.4h0m0.2 0.3h0m0.3 0h0m1.4 0.3h0m1.4-0.4h0m0.7-0.3h0m0.9 0.6h0m2.3-0.4h0m1.5-0.2h0m0.1 0.7h0m1.3-0.5h0m0.7-0.2h0m0.8 0h0m4.8 0.6h0m1.7-0.4h0m1.1 0.2h0m0.2-0.4h0m0.5-0.2h0m2.9 0.7h0m0-0.2h0m0.2-0.3h0m0.7 0.3h0m7.1-0.2h0m0.2 0h0m0.2 0.6h0m0.2-0.9h0m0.1 0.2h0m0.2 0.2h0m0.2 0.2h0m0.3-0.2h0m0.7 0.3h0m3.9 0.2h0m3.1-0.3h0m0.6-0.3h0m0.4 0.3h0m3.5 0h0m3.6 0h0m0.6-0.5h0m2.9 0.7h0m0.2 0h0m2.5-0.5h0m1.4-0.3h0m2.6 0.2h0m1.6 0.8h0m0.8-0.3h0m3.4-0.4h0m4.6-0.2h0m6.5 0.5h0m4.6 0.2h0m6.9-0.2h0m1.6-0.2h0m2.7-0.3h0m12.1 0.8h0m3.9-0.2h0m-446.1 1.1h0m1.8-0.7h0m3.3 0.3h0m0.4 0.1h0m1-0.4h0m0.6 0h0m0.4 0.8h0m2.8-0.2h0m5.3 0.1h0m6-0.3h0m2.5-0.4h0m3.1 0.2h0m0.9-0.2h0m11.8 0.9h0m0.1-0.9h0m3.3 0.9h0m0.2-0.1h0m1.9-0.6h0m3.9 0h0m0.7 0.3h0m8.7-0.2h0m0.3 0.5h0m2.2-0.8h0m8 0.1h0m0.6 0.4h0m0.9-0.4h0m2.9 0.4h0m1-0.6h0m2.9 0.1h0m0.4-0.1h0m5 0.7h0m6.9-0.7h0m1 0.9h0m0.8-0.9h0m1.5 0.8h0m0.8-0.5h0m0.6 0.2h0m1.5-0.1h0m1.1 0h0m0.4 0.1h0m0.3-0.1h0m0.4 0h0m0.2 0.2h0m0.1-0.5h0m0.4 0.5h0m2.9-0.2h0m0.7 0.6h0m2.7-0.2h0m0.6-0.2h0m0.3-0.4h0m1.2 0h0m0.5 0.4h0m2.1-0.1h0m0-0.5h0m1.1 0.1h0m2.5 0.5h0m0.1 0.3h0m0.3-0.9h0m0.4 0.5h0m1-0.1h0m0.3 0.1h0m1.9-0.3h0m0 0.4h0m1.9-0.4h0m0.2 0h0m2-0.2h0m0.2 0.1h0m4.3 0.5h0m0.1-0.4h0m0-0.2h0m0.3 0.4h0m0.7-0.1h0m0.3 0.1h0m0.6 0.4h0m1.8-0.8h0m0.4 0.2h0m0.4 0.1h0m0.3 0.7h0m0-0.6h0m1.1-0.3h0m1.2 0.6h0m0.4-0.4h0m0.3 0.4h0m0.2 0h0m0.2 0h0m0.7-0.2h0m0.3 0.3h0m1.8-0.6h0m1.4 0.2h0m0.2 0h0m0.5 0.1h0m0.1 0.1h0m0.1 0h0m2.4-0.2h0m0.8 0.3h0m0.8-0.4h0m0.6 0.1h0m3.9-0.4h0m2.7 0.1h0m0.5-0.1h0m0.5 0.8h0m0.3-0.4h0m1.1-0.3h0m0.8 0h0m0.8 0.7h0m0 0.1h0m0.3-0.9h0m3.2 0.2h0m0.6 0.5h0m0.9 0.1h0m1.5 0.2h0m0.1-1h0m0.5 0.6h0m0 0.2h0m1.2-0.6h0m0.1-0.1h0m6.8 0.5h0m0.6-0.3h0m0 0.7h0m0.2-0.3h0m1 0h0m0.1 0.1h0m1.4-0.7h0m1.1 0.4h0m0.4 0.1h0m1.2 0.3h0m1.2-0.8h0m0.4 0.8h0m0.2-0.4h0m1.4-0.2h0m2.1 0.2h0m1.4 0.1h0m0-0.5h0m0.2 0.1h0m0.9 0.3h0m0.3-0.1h0m1.3-0.3h0m1.4 0.1h0m0.1 0.1h0m0.4 0.4h0m2.2-0.1h0m0.2-0.3h0m0.3 0.2h0m0-0.2h0m0.2 0.6h0m0-0.6h0m0.9 0.3h0m0.9-0.3h0m0.1 0.6h0m2.4-0.9h0m1.1 0.9h0m0.4-0.3h0m4 0h0m2.3-0.1h0m0.7-0.5h0m0.1 0.6h0m0.6 0.1h0m2 0.2h0m0.4-0.8h0m1.8 0.2h0m0.2 0.7h0m1.3-0.1h0m0.6-0.5h0m0.9 0.3h0m0.6-0.2h0m0 0.5h0m1.9-0.1h0m0.1-0.5h0m1.9-0.2h0m0.8 0.3h0m2.7 0h0m0.4 0.3h0m0.9-0.2h0m1.2 0.3h0m0.3-0.6h0m1.9 0.4h0m0.5-0.3h0m0.1-0.2h0m1.6 0.7h0m0.6 0h0m1.7 0h0m0 0h0m0.1-0.6h0m1.4 0.4h0m0.4-0.3h0m3.7 0.5h0m0.4-0.4h0m0.5-0.2h0m0.4-0.2h0m0.3 0.5h0m2.3-0.5h0m0.3 0.3h0m0.9-0.3h0m0-0.1h0m0 1h0m0.2-0.3h0m0.3-0.6h0m2.7 0.9h0m1.2-0.2h0m0.1-0.5h0m2.1 0.5h0m0.6-0.3h0m0.1-0.1h0m0.3-0.1h0m0 0.3h0m3.2-0.3h0m0.5 0.2h0m1.7 0.3h0m2.2-0.7h0m0.7 0.4h0m0.3-0.5h0m0.6 0.8h0m1.9-0.7h0m0.6 0.8h0m0.1-0.7h0m0.5 0.2h0m0.7 0.3h0m1.9 0.1h0m0.3-0.5h0m3.9-0.1h0m0.6 0.1h0m0.6 0.6h0m3-0.7h0m0.1 0h0m0.5 0.5h0m1.9 0h0m1.5-0.3h0m0.1-0.1h0m1 0.6h0m2.8-0.6h0m5.9 0.1h0m0.6 0.4h0m1.1-0.7h0m0 0.3h0m0.1 0.2h0m0.2 0h0m0.6 0.2h0m0.3 0.1h0m0.4-0.8h0m0.4 0.2h0m0 0.2h0m0.4-0.4h0m0 0.7h0m0.5-0.5h0m1.1 0.3h0m2.5-0.2h0m0.2 0.4h0m0.2-0.5h0m0.1 0.2h0m1.1 0.1h0m0.8 0.2h0m1.5 0h0m0.5 0.2h0m3.1-0.7h0m0.7 0.4h0m1.9-0.1h0m0.7-0.4h0m1.6 0.1h0m3.2 0.5h0m0.3 0.1h0m0.4 0h0m0.1-0.6h0m2.3 0.4h0m2.9-0.7h0m0.4 0.9h0m0.7-0.8h0m3.7-0.1h0m0.9 0.4h0m0.4 0.5h0m0 0h0m0.5-0.7h0m1.6 0.7h0m1.5-0.3h0m0.5 0.1h0m0.2 0.3h0m1.5-0.8h0m1 0.3h0m0 0.3h0m0.6-0.3h0m0.5 0.4h0m0-0.5h0m0.6 0.3h0m0.1 0h0m3.6-0.4h0m0.6 0.1h0m1.9 0.4h0m0.3-0.5h0m1.4-0.2h0m0.3 0.1h0m4 0.6h0m2.8-0.1h0m0.5-0.2h0m0.1-0.1h0m4.1 0.3h0m1.6-0.7h0m1.1 0.2h0m1.6-0.2h0m3.6 0.1h0m1.9 0.8h0m0.1-0.2h0m1.4 0.1h0m0.2-0.4h0m0.1-0.2h0m0.3 0.3h0m2.1-0.2h0m1.7 0.6h0m4.4-0.7h0m0.3 0h0m3.3 0.1h0m2.7 0.1h0m0.1 0.3h0m0.3 0.1h0m1.2-0.4h0m0.4 0.4h0m0-0.5h0m1.3 0.4h0m0.3-0.3h0m0.8 0.1h0m0.3 0.2h0m0.6-0.1h0m0.4 0h0m3.2-0.2h0m3.3 0.5h0m1.2 0h0m4.3-0.2h0m2.6 0.2h0m3.7-0.3h0m1.9 0.1h0m5.7-0.3h0m5.1 0.3h0m4.4-0.3h0m8.3-0.2h0m2.6 0.3h0m5.9 0.2h0m7.6 0h0m6.3-0.6h0m7.9-0.1h0m-451.2 1.8h0m1.3-0.2h0m6.5-0.1h0m1.7 0h0m0 0.4h0m3.7-0.2h0m3.5 0.2h0m0.4-0.9h0m3 0.4h0m7.9 0h0m2.7 0.5h0m0.9-0.3h0m3.3-0.3h0m0.2 0.4h0m0.2-0.3h0m4.5 0.4h0m0.6-0.4h0m7.4 0.1h0m0.7-0.3h0m3.2 0.5h0m0.8 0.2h0m0.8-0.8h0m1.5 0.2h0m9.9-0.3h0m3.3 0.2h0m1.6 0.4h0m1.6-0.1h0m0.5-0.2h0m0.5 0.5h0m0.8 0h0m0.6-0.5h0m2.9 0.5h0m2.3-0.4h0m1.2 0.2h0m1.3 0.3h0m1.9-0.8h0m0.5 0.3h0m1.4 0.1h0m0.1 0.3h0m0.4-0.6h0m3.7 0.2h0m3.1 0.3h0m0 0h0m9.1-0.2h0m0.2 0.4h0m1.9-0.5h0m0.7 0.5h0m1.1-0.3h0m1.7-0.1h0m1.3-0.1h0m2.4 0.2h0m0.6-0.4h0m0.7 0.4h0m0.8 0.1h0m2.2-0.1h0m0.4-0.1h0m0 0.1h0m1.7 0.1h0m0.3-0.7h0m3.2 0.5h0m0.5 0.1h0m2.2-0.4h0m0.6 0.7h0m1.4-0.9h0m1.6 0.1h0m0.3 0.6h0m3.5 0.2h0m1.1-0.4h0m1.4-0.4h0m0.1 0.5h0m1.8 0h0m0.3 0.2h0m0.5 0h0m0.3-0.6h0m0.2 0.3h0m0.8 0.3h0m0-0.1h0m2.1-0.7h0m0.6 0.3h0m2.9 0.2h0m0.3 0.4h0m1.2-0.8h0m0.1 0.6h0m0.1-0.5h0m0.7 0.4h0m0.1 0.2h0m1.8-0.5h0m0.2 0.1h0m0.6 0.2h0m0.1-0.5h0m0.1 0.3h0m0.1 0.1h0m0.1 0h0m2.8-0.4h0m0.1 0.4h0m0.1-0.3h0m0.3 0.1h0m0.2 0h0m0.2-0.3h0m0.6 0.9h0m0.1-0.5h0m0.2 0.1h0m0.3-0.2h0m1.4 0.5h0m0.9-0.6h0m1.3 0.6h0m1.8-0.7h0m0.8 0.6h0m0-0.4h0m7.7 0.5h0m0.7 0h0m0.8-0.6h0m2.5 0.5h0m0.5-0.3h0m0.1 0h0m0.5 0.2h0m1.4-0.2h0m1.6-0.2h0m0.3 0.1h0m0.3-0.1h0m0.6 0.2h0m0.4-0.1h0m5.9-0.1h0m0.9-0.2h0m0.1 0.9h0m0.6 0h0m0.3-0.6h0m0.1 0h0m1.9 0.6h0m0-0.4h0m2.1 0.4h0m1.9-0.1h0m0.1-0.3h0m0.2-0.2h0m0.1-0.1h0m1.2 0.7h0m0.8-0.7h0m0 0.6h0m0.4-0.3h0m2.7-0.3h0m0.2 0.6h0m0.4-0.7h0m2 0.6h0m0.1-0.2h0m0.5 0.4h0m1.1-0.2h0m0.2-0.6h0m2.1 0.7h0m0-0.6h0m0.7 0.5h0m0.6-0.1h0m0.9 0h0m1.8-0.3h0m1.1 0.6h0m0.1-0.5h0m0.3 0.1h0m0.6-0.3h0m0.1 0.7h0m1.8-0.7h0m1 0.7h0m0.3-0.5h0m1 0h0m0.2 0.5h0m0.1-0.8h0m0 0.7h0m0.1-0.2h0m0.2 0.3h0m1.6-0.1h0m0.3-0.3h0m0.3-0.1h0m0.7 0h0m2.1 0.2h0m0.1-0.1h0m1.6-0.3h0m0.1-0.1h0m0.2 0.5h0m0 0h0m1 0.2h0m1.5-0.7h0m0.9 0.3h0m0.3-0.1h0m0 0.3h0m0.5 0.1h0m0.1 0.1h0m2.2-0.2h0m0.4-0.2h0m0.3 0.5h0m1.2-0.3h0m3.3-0.5h0m0.4 0h0m0.2 0.3h0m0.2-0.1h0m1.8 0h0m0.1 0.6h0m0.5-0.8h0m0.5 0.2h0m0.2 0h0m3.4 0.6h0m0.2-0.2h0m0.5-0.6h0m1.1 0.3h0m0 0.5h0m1.5 0h0m0.2-0.4h0m0.2-0.4h0m1 0h0m0.2 0.3h0m2.4 0.5h0m1-0.9h0m0.8 0.7h0m1.9 0.1h0m1.1-0.6h0m0.3 0.1h0m0.9 0h0m2.7 0.5h0m0.8-0.8h0m0.6 0h0m0.2 0.3h0m0.4 0h0m1.9-0.2h0m0 0.3h0m0.9 0.2h0m0.6 0.1h0m0.5-0.2h0m3.3 0.4h0m3.7-0.8h0m2.2 0.1h0m0.4 0.1h0m1.2-0.1h0m0.9 0.2h0m0.3-0.4h0m1.4 0.9h0m2.1-0.7h0m0.3 0.5h0m1.6-0.1h0m0.3-0.2h0m0.1-0.3h0m0.2 0.4h0m0.1 0.4h0m0.2-0.3h0m0.2-0.2h0m0.6 0.5h0m0.8-0.9h0m1.4 0.5h0m1.6 0.4h0m0.1-0.5h0m0.1-0.1h0m0.2 0.4h0m0-0.2h0m3-0.2h0m3.6 0h0m0.3-0.2h0m0.8 0.4h0m0.2-0.1h0m2.2 0.2h0m1.2 0.3h0m0.4-0.1h0m0.9-0.3h0m1.9-0.1h0m1.3 0.3h0m0.3-0.5h0m0.6 0.7h0m0.1-0.8h0m3.7 0.8h0m0.1-0.1h0m0.2-0.5h0m1.5 0.2h0m0.3-0.2h0m0.1 0.4h0m0.8-0.4h0m1 0.1h0m2.1-0.2h0m0.5 0.4h0m0.8 0.1h0m0.8-0.2h0m2-0.3h0m0.5 0h0m2.6 0.6h0m0.1-0.6h0m0.7 0.5h0m0.4 0h0m1.8-0.7h0m2 0.3h0m0.5 0.6h0m0-0.7h0m0 0.6h0m4.6 0.1h0m0.1-0.8h0m0.5 0.2h0m0.2 0.4h0m1.5-0.7h0m1 0.3h0m0.9 0.1h0m0.6-0.2h0m1.9 0.6h0m2.1-0.1h0m3.4-0.6h0m3.4 0.6h0m0.8-0.1h0m0 0.3h0m2-0.3h0m0.6-0.4h0m4.4 0.4h0m0-0.3h0m1.4 0h0m1.7 0.4h0m0.8-0.5h0m0.5 0.6h0m0.4 0h0m0.2 0h0m2.8-0.4h0m0-0.1h0m0.1-0.2h0m0.5 0.2h0m2.9 0.5h0m0.4-0.5h0m0.4 0.6h0m1.2-0.2h0m0.2-0.6h0m3.1 0.7h0m3.2 0.1h0m3.9-0.8h0m1.3 0.2h0m1.9 0.6h0m2.4-0.4h0m4 0.1h0m1.2 0.2h0m1-0.2h0m0.7-0.3h0m2.8 0.6h0m2.4-0.2h0m0-0.4h0m2.6-0.2h0m2.6 0.7h0m1.2-0.7h0m1.6 0.2h0m0.1 0.6h0m7.4 0h0m0.4-0.3h0m1.7-0.2h0m2.4 0h0m5.7 0.4h0m5.5 0.1h0m20.9 0h0m7.8 0h0m-449.6 1h0m11.4 0.1h0m3.5-0.1h0m10.3 0.1h0m18.3-0.1h0m9.2 0h0m12.3 0h0m16.8 0h0m15.3 0.1h0m4.5-0.1h0m7.1 0.1h0m3.7 0h0m9.2-0.1h0m2.6 0.1h0m3.8-0.1h0m5.7 0h0m2 0h0m0.3 0.1h0m3.5 0h0m0.4 0h0m24.8-0.1h0m0.2 0.1h0m3.1-0.1h0m0.2 0.1h0m0 0h0m0.1-0.1h0m1.3 0h0m5.7 0h0m4.8 0.1h0m4.7-0.1h0m9 0.1h0m7-0.1h0m3.3 0h0m7.1 0.1h0m2.4-0.1h0m20.2 0h0m15.4 0.1h0m10-0.1h0m0.4 0h0m0.7 0h0m3.3 0h0m4.2 0h0m0.7 0h0m2.7 0.1h0m11.7-0.1h0m10.5 0.1h0m1.4-0.1h0m9.8 0h0m2.3 0h0m4.5 0.1h0m29.6-0.1h0m0.5 0h0m5.3 0h0m0.2 0h0m5.8 0h0m4.4 0h0m26.6 0h0m24.3 0h0m-420 0.9h0m3-0.4h0m0.5-0.1h0m0.8 0.3h0m18.9 0h0m0.5 0h0m7.1 0.2h0m2.3 0.1h0m0.5-0.7h0m2.1 0.1h0m0.4 0h0m2.9 0.6h0m1.8-0.6h0m4.4 0.5h0m2 0h0m0.4-0.8h0m1.3 0.4h0m2-0.3h0m1 0.8h0m0-0.8h0m0.7 0.3h0m0.3-0.1h0m0.7 0.4h0m0-0.6h0m1.3 0h0m0 0.5h0m0.3-0.2h0m6.4 0.2h0m2.8 0.3h0m2.8-0.2h0m7.8 0.1h0m5.4-0.6h0m0.8 0.3h0m1.9 0.5h0m1.1 0h0m0.4-0.3h0m0 0.2h0m0.1-0.2h0m0.4 0h0m3.4-0.4h0m0.5 0.4h0m4.3 0.1h0m0 0h0m1.8-0.7h0m0.1 0.5h0m1.5-0.5h0m6 0.9h0m1.2-0.6h0m0.6-0.3h0m0 0.9h0m0.1-0.9h0m0.3 0.1h0m3.8 0.6h0m0.5-0.7h0m1.5 0.8h0m1.1-0.6h0m0.2-0.3h0m0.3 0.9h0m0.2-0.3h0m1.2 0.3h0m1.1-0.8h0m1.9 0h0m3.4 0h0m0.2 0.8h0m1-0.2h0m3.1 0h0m0 0.1h0m0.1-0.3h0m1 0.4h0m1.5-0.2h0m0.6-0.3h0m1.4-0.2h0m1.9-0.2h0m0.3 0.2h0m2.2 0.6h0m0.2-0.1h0m1.6 0.1h0m0.1-0.4h0m0.4 0.4h0m3.7 0.1h0m0.2-0.8h0m1.4 0.6h0m0.6 0.2h0m2.6-0.6h0m1.2 0h0m1.3 0h0m0 0.7h0m1.5-0.6h0m0.3-0.2h0m0.3 0.6h0m0.3-0.7h0m0.2 0.2h0m0 0.5h0m0.1-0.4h0m3.1-0.1h0m0.5 0.2h0m0.1 0h0m1.6 0h0m0.2 0.2h0m0.3 0.2h0m0.4-0.6h0m0 0.6h0m0.3-0.1h0m0-0.7h0m6.9 0.7h0m0 0.2h0m0.3-0.6h0m0.6 0h0m0.2-0.4h0m0.8 0.6h0m0.1-0.6h0m10.1 0.7h0m0.5-0.4h0m1.1 0.2h0m0.8 0.4h0m1.6-0.2h0m0-0.7h0m1.2 0.4h0m1.4 0h0m0.1-0.3h0m0 0h0m1.2 0.6h0m0.6-0.2h0m0.5 0.5h0m0.1-0.3h0m0.3 0h0m0.2-0.2h0m0.6 0.1h0m3.2-0.6h0m2.5 0.8h0m1.1 0.2h0m0.4-0.1h0m0-0.1h0m0.2-0.5h0m0 0.5h0m1.2 0h0m1.6 0.2h0m0.7-0.9h0m1 0.8h0m0.7-0.9h0m1.1 0.2h0m0.7-0.2h0m0.1 0h0m0.2 0.8h0m0.1-0.6h0m0.7-0.1h0m0.2 0.1h0m0.1 0h0m1.8 0.2h0m0.7-0.2h0m0.8 0.4h0m0.1-0.5h0m0.7 0.7h0m0.4-0.2h0m1.7 0.2h0m2.1-0.4h0m0 0h0m0.5-0.4h0m2 0.3h0m0.7 0.6h0m1-0.5h0m1.8 0.4h0m0.1-0.7h0m0.5 0.8h0m0.5 0h0m0.6-0.9h0m0.1 0.9h0m0.2-0.1h0m2.4-0.3h0m0.1 0.5h0m4.2 0h0m0.1-0.2h0m0.2-0.6h0m0 0.7h0m0.8-0.7h0m0.2-0.1h0m1.6 0.9h0m1.5-0.3h0m2.5-0.5h0m0.6 0h0m1.3 0.5h0m0.6 0h0m0.1-0.4h0m9.9-0.1h0m0.3 0.8h0m0.4-0.9h0m0.1 0.3h0m0.1 0.3h0m0-0.6h0m0.7 0.4h0m6.5 0.2h0m0.2-0.3h0m0.7 0.4h0m1.3-0.5h0m1.8 0.4h0m0.1-0.5h0m0.4 0h0m0.1 0.5h0m0.3 0.2h0m0-0.4h0m0.3-0.4h0m2.9 0.8h0m0.1-0.6h0m0.1-0.2h0m0.8-0.1h0m0.9 0.7h0m3.2-0.5h0m0.7 0.1h0m2.4-0.3h0m0.3 0.6h0m0-0.2h0m0.3 0.3h0m1.1-0.5h0m2 0.1h0m0.9-0.2h0m0.1 0.4h0m2.3-0.3h0m0.3 0.4h0m0.5 0.1h0m0.4-0.6h0m0.2 0.1h0m0.3 0.1h0m0.5 0.4h0m0.2 0h0m0.6 0.2h0m0-0.2h0m1.3 0.2h0m0.3-0.7h0m1.4 0h0m2.6 0.1h0m7.5 0.6h0m0.3-0.3h0m0.2 0.1h0m0.2 0h0m0-0.2h0m1.3-0.2h0m0.1 0.1h0m0.1 0.6h0m2.2-0.3h0m2.1-0.4h0m1.8 0.5h0m0.3-0.6h0m1 0h0m0.2 0.4h0m0.8-0.6h0m1.4 0.8h0m1.4-0.1h0m0.6-0.6h0m0.4 0.2h0m1.6 0.1h0m2.7 0h0m1.6 0.1h0m0.8 0.4h0m0-0.5h0m1.5 0.2h0m0.2 0.2h0m0 0h0m1.5 0.1h0m1.8-0.1h0m0.8-0.3h0m1.1 0.3h0m2.4 0.1h0m2-0.3h0m1.1-0.6h0m0 0.3h0m0.2 0h0m0.1 0.6h0m0.3-0.4h0m2.3 0.5h0m0.7-0.2h0m0.3-0.2h0m0.2-0.5h0m0 0.2h0m0 0.4h0m0.1-0.3h0m0.1-0.4h0m0.2 0.9h0m0.8-0.3h0m1.2-0.4h0m1.7 0.5h0m4.1-0.2h0m0.4 0.4h0m2-0.2h0m0.5-0.2h0m1.1-0.5h0m0.6 0.6h0m2 0.3h0m0.1 0.1h0m0.2-0.1h0m0.1-0.5h0m0.2-0.2h0m0.9 0h0m0.3 0h0m0.3 0.6h0m2.2-0.6h0m1.1 0.6h0m2.6-0.7h0m0.7 0.4h0m0 0.2h0m0.9-0.6h0m0.2 0.8h0m1.7-0.2h0m1.9-0.1h0m0-0.2h0m0-0.3h0m0.6 0.7h0m0.5-0.8h0m2.6 1h0m0.1-0.8h0m0.4 0.4h0m2.3 0.1h0m1.4-0.1h0m2.3-0.2h0m0.6-0.2h0m0.9 0.1h0m4.2 0.5h0m0.9 0h0m0-0.1h0m1.7-0.5h0m0.6 0.3h0m0.8-0.1h0m0.8 0.5h0m1.9-0.1h0m1.6 0.1h0m0.5-0.2h0m0.2-0.3h0m2.9 0.2h0m0.2 0.3h0m1.1-0.1h0m1.2-0.1h0m1-0.2h0m0.3-0.1h0m0.3 0.5h0m0.2-0.9h0m0.2 0.6h0m2.1 0h0m1.3 0.2h0m0.4-0.3h0m2.4 0.3h0m0.3-0.1h0m1.9-0.1h0m2.2-0.2h0m0.6-0.2h0m0.2 0.6h0m4.6-0.3h0m2.2 0.3h0m5.1-0.2h0m3.8-0.1h0m2.7-0.4h0m0.5 0.5h0m5-0.1h0m0.9 0.4h0m1.9-0.4h0m0.3-0.4h0m0 0.4h0m0.3 0.2h0m5.9-0.2h0m3.7-0.3h0m4.1-0.2h0m1.4 0.4h0m1.8-0.1h0m4 0.6h0m3.1-0.8h0m0.9 0.4h0m3.5 0.3h0m11.5 0.1h0m17.3-0.5h0m-485 1.1h0m12.8-0.4h0m3.9 0.5h0m0.6-0.5h0m5.9 0.2h0m0.1 0.7h0m4.6-0.1h0m0.7-0.2h0m3-0.3h0m1.3 0.2h0m0.3 0.3h0m0.7 0.1h0m3.1-0.9h0m0.5 0h0m0.1 0.6h0m3.5-0.3h0m2.5 0.3h0m0.2-0.1h0m4-0.6h0m5 0.9h0m0.3-0.4h0m0.4 0.3h0m0.3-0.1h0m1.7-0.4h0m4 0.2h0m2.2 0.4h0m1.8 0h0m0.4-0.6h0m0.1 0.6h0m7.3-0.6h0m0.1 0.1h0m0.4 0.2h0m9.5-0.2h0m1.7-0.2h0m1.4 0h0m5 0.2h0m1.8-0.2h0m0.2 0.8h0m0.5-0.9h0m0.8 0.9h0m0.7-0.5h0m2.1 0h0m0 0.2h0m5.3-0.3h0m3.6-0.4h0m0.3 0.5h0m0.5 0.5h0m0.1-0.8h0m6.2 0.6h0m0.9-0.6h0m0.7 0.5h0m0.2-0.3h0m2-0.3h0m1.1 0.8h0m0.4-0.2h0m0.9 0.3h0m1.5-0.9h0m0.7 0.2h0m0.3-0.2h0m0.4 0h0m0.3 0.9h0m2.3-0.9h0m0.1 0.4h0m0.5 0.2h0m0.5-0.1h0m0.4 0.2h0m0.9-0.1h0m1.5 0.2h0m0.4-0.8h0m0.3 0.3h0m0.8 0h0m0.9 0h0m0.1 0h0m0.2-0.2h0m1.3 0.7h0m0.4 0h0m1-0.4h0m0.7 0h0m0.6-0.4h0m0 0.3h0m1.2-0.1h0m0.9 0.1h0m0.2-0.4h0m1 0.5h0m0.5-0.3h0m0 0.6h0m0.1 0.1h0m1.3-0.2h0m0.5 0.3h0m0.2-0.7h0m0.4 0h0m0.3-0.2h0m0.8 0h0m0.3 0.1h0m0.3 0.7h0m1.4-0.9h0m0.2 0.3h0m0 0.2h0m1.1-0.4h0m0.6 0.1h0m0 0.8h0m2.1-0.7h0m0.2 0.1h0m0.1-0.1h0m0.1 0.5h0m4.2-0.1h0m0.4-0.5h0m0.1 0.2h0m1 0.2h0m0.5 0.1h0m1.7-0.1h0m0.2-0.2h0m0.2 0h0m1.8-0.3h0m5.6 0.4h0m0.1 0.3h0m0.4-0.2h0m1.4-0.4h0m0.4 0.4h0m9.3-0.4h0m0.3-0.1h0m1.3 0.3h0m0.9-0.1h0m0.3 0.5h0m1.4-0.6h0m0.3 0h0m0.6 0.6h0m0.2-0.5h0m2.8 0.2h0m0.5 0h0m0.6 0.3h0m0.7-0.5h0m2.5 0.1h0m0.2 0.4h0m1.2-0.6h0m0.3 0.2h0m0.1 0.1h0m0.8-0.1h0m1.5 0.4h0m0.2-0.5h0m0.3 0h0m0 0h0m0.5 0h0m0 0.5h0m0.2-0.4h0m2.5-0.1h0m0.4-0.3h0m1.5 0.5h0m0.1 0h0m0.5-0.1h0m1.3-0.2h0m0.2 0.5h0m0.2 0.2h0m1.2-0.5h0m0.6-0.2h0m0 0.4h0m0.5-0.5h0m1.4 0.5h0m0.2 0.3h0m0.1-0.1h0m0.6-0.3h0m3.7 0.2h0m0.1-0.2h0m0.3-0.2h0m1.2-0.1h0m1.9 0.7h0m0.2-0.5h0m0.5-0.4h0m0.2 0.9h0m0.6-0.4h0m3.3-0.2h0m0.6 0.4h0m0.2 0h0m1.2 0h0m1.1-0.3h0m0 0.5h0m0.2-0.5h0m0.4 0h0m0.5-0.1h0m0.4-0.1h0m0.1 0.6h0m0.2 0h0m0-0.1h0m0.1-0.1h0m0.1-0.4h0m0.7 0.5h0m0.2-0.5h0m1.2-0.2h0m0.1 0.2h0m0.1 0.4h0m0 0.1h0m0.1-0.2h0m2.1-0.1h0m2.3 0.5h0m0.6-0.5h0m0.8-0.4h0m0.5 0.3h0m1.2-0.1h0m0.2 0.7h0m0-0.5h0m0.1 0.5h0m0.1-0.2h0m0.6-0.3h0m1.3 0.2h0m10.6 0.3h0m0.3-0.2h0m6.9-0.1h0m0.2-0.2h0m0.8 0.3h0m0.1-0.3h0m0.1-0.4h0m0.9 0.3h0m1.8 0.4h0m0.9-0.7h0m0.6 0.7h0m0.7-0.3h0m2.8-0.3h0m0.6 0.3h0m0.1-0.4h0m0.3 0.3h0m0.7 0.1h0m0.1 0h0m0.2 0.6h0m1.5-0.2h0m1.6-0.6h0m0.2 0.3h0m0.3-0.3h0m1.7-0.1h0m1.5 0.6h0m2.2-0.6h0m0.4 0h0m1.4 0.8h0m0.8-0.5h0m2.6 0.2h0m1.8 0.1h0m1.4-0.4h0m1.5 0.4h0m0.1-0.2h0m0.7 0.1h0m2.9 0h0m0.2-0.5h0m0.1 0.5h0m7 0.1h0m0.6-0.1h0m0.1 0.2h0m0.7-0.1h0m0.1-0.5h0m2.1 0h0m0.7 0.7h0m0.8-0.1h0m0.6-0.8h0m0.2 0.1h0m1.2 0.8h0m0.8-0.5h0m0.7-0.3h0m0.3 0.4h0m0.2-0.2h0m3.3-0.3h0m1.1 0h0m0.1 1h0m0.1-0.4h0m1.8-0.6h0m0.6 0.9h0m0.5-0.7h0m0.9 0.2h0m0.3-0.4h0m0.2 0.4h0m0-0.1h0m3 0.3h0m0.8-0.6h0m0.1 0.5h0m1.5 0.4h0m1.7 0h0m0.8-0.2h0m7.3 0.3h0m0.3-0.8h0m2.3 0h0m0.1-0.1h0m0 0.8h0m0.1-0.1h0m0 0h0m0.3-0.2h0m1.4-0.2h0m1.6 0.5h0m0.1-0.4h0m0.9 0.2h0m0.2-0.6h0m2.6 0.1h0m0.2 0.1h0m2.2-0.2h0m1.7 0h0m0.9 0h0m0.6 0h0m4 0.5h0m0.8-0.4h0m0.3 0.3h0m0.1 0.1h0m1.8 0.4h0m0.3-0.2h0m0.4-0.6h0m0.8-0.1h0m1.9 0.5h0m0.2-0.2h0m0.3 0h0m1 0.6h0m0.4-0.7h0m0.2 0.2h0m0.3-0.2h0m0.4-0.3h0m3.4 0.8h0m0.2-0.1h0m0-0.6h0m2.2 0.1h0m1.8 0.4h0m3.2-0.6h0m0.1 0.4h0m0-0.2h0m0.5 0.6h0m4.2 0.2h0m2.6-0.2h0m0-0.6h0m3.1 0.7h0m0.1-0.8h0m2.5 0.1h0m3.3 0.5h0m0.3-0.5h0m0.1 0.3h0m2.4-0.4h0m1.4 0.1h0m0.5 0.2h0m1.3 0.4h0m2.1-0.2h0m0.9-0.1h0m1.4-0.2h0m0.2 0.6h0m1.8-0.7h0m2.7 0.4h0m0.1-0.1h0m0.4-0.3h0m0.3 0.1h0m3.8 0.4h0m3 0h0m0.3-0.6h0m0.4-0.1h0m0.8 0.5h0m0.5 0.1h0m4-0.4h0m3.1 0.7h0m1.2-0.6h0m3.1-0.3h0m3.5 0.9h0m17.4-0.1h0m1.2-0.5h0m6.4-0.1h0m0.2 0.6h0m4.2-0.7h0m5.1 0h0m2.7 0.1h0m4.2 0.4h0m-457.3 1.1h0m8.6-0.1h0m0-0.3h0m1.7 0.5h0m0.7-0.2h0m7.3-0.5h0m5 0.1h0m0.6 0.2h0m0 0.5h0m0.5-0.2h0m3.5 0h0m0.2-0.7h0m0.9 0.6h0m1.8-0.2h0m1 0.2h0m4 0.1h0m9.4 0.1h0m7.5-0.4h0m0.3-0.1h0m5.7 0.3h0m0.1 0.3h0m1.2 0h0m10.4-0.2h0m1.7-0.6h0m2.6 0.3h0m0.5-0.4h0m2 0.4h0m1.3 0.3h0m0.5-0.4h0m0.3-0.2h0m0.5 0.7h0m0.1-0.4h0m2.9 0.4h0m1.4 0.1h0m0.1-0.7h0m0.8 0.7h0m3.4-0.8h0m0.2 0.3h0m2.6 0.2h0m1.6-0.4h0m2.8 0.5h0m3.1-0.6h0m0.6 0.1h0m1.7 0.1h0m1.3 0.5h0m0.5-0.1h0m1.8-0.2h0m2.1 0.4h0m1-0.4h0m1.1-0.1h0m2.4 0.2h0m1.8-0.4h0m2.2 0.5h0m0.1-0.3h0m0 0.1h0m1 0.4h0m0.6-0.6h0m1.6-0.3h0m0.4 0.1h0m3.6 0h0m0.3 0.2h0m0.3 0.2h0m0.6-0.2h0m1.3 0.6h0m1.6-0.5h0m0.6-0.2h0m0.5-0.1h0m0.5 0.3h0m1-0.4h0m2.2 0.8h0m1 0h0m0 0.1h0m0.5-0.5h0m1.5 0.3h0m0.1-0.2h0m0.7 0.4h0m1-0.6h0m0.4 0.3h0m1.6-0.1h0m0.2-0.1h0m0.1-0.4h0m1.8 0.9h0m0.1-0.1h0m2.2-0.1h0m0.1-0.2h0m0.2 0.4h0m0.4-0.6h0m0.6 0.1h0m0.8 0.4h0m0.5-0.3h0m1.6 0.3h0m1.9-0.7h0m0.2-0.1h0m1.5 0.6h0m0.9-0.5h0m0.2 0h0m0.3 0.5h0m0.6-0.1h0m0.1-0.4h0m0-0.1h0m0.2 0.3h0m0 0h0m0.2 0.2h0m5.9-0.1h0m0.6 0.4h0m1-0.6h0m0.1 0.2h0m10.2 0.1h0m0.8 0.3h0m0-0.4h0m0 0.2h0m0.7 0h0m0.3-0.6h0m0.3 0.4h0m1.4-0.2h0m1 0h0m0 0.4h0m1 0.1h0m2.4-0.4h0m0.7 0.5h0m0.5-0.6h0m0.3 0.4h0m0-0.3h0m0 0h0m2.5 0h0m0.5 0.6h0m0.2-0.8h0m0.4-0.1h0m0.8 0.7h0m0.3 0.2h0m0-0.2h0m1.8-0.6h0m1.5 0.1h0m0.3 0.5h0m0.4-0.6h0m0.2 0.6h0m1.4 0.2h0m0.5-0.9h0m0.5 0.8h0m0-0.7h0m0.1 0.7h0m0.9-0.5h0m3.3 0.4h0m3.9-0.4h0m0.7-0.1h0m0.7 0.1h0m1.2 0.1h0m0.3-0.2h0m0.3 0h0m1.5-0.1h0m2.4 0.3h0m0.3 0.5h0m0.4-0.2h0m0.4-0.1h0m0.1-0.4h0m4-0.2h0m0.1 0.4h0m0.3 0.5h0m0-0.6h0m0.8 0.4h0m2.6-0.6h0m0.9 0.8h0m0.2-0.9h0m1.4 0.2h0m0.4 0.7h0m0.6-0.1h0m0.5-0.2h0m0.6-0.3h0m0.1 0.4h0m3.1-0.4h0m0.9 0h0m0.5 0.1h0m3 0.3h0m0-0.5h0m0.4 0.5h0m10.3-0.2h0m0.5 0.3h0m0.5-0.7h0m0 0.1h0m0.8 0.3h0m0.6 0.4h0m0.1 0h0m5.6-0.4h0m0-0.1h0m1.9 0.3h0m2.5-0.4h0m0.8-0.2h0m0.9 0.4h0m2.5-0.5h0m0.6 0.8h0m1.3-0.7h0m1.4 0h0m0.7 0.2h0m0 0.6h0m0.9-0.5h0m2.5 0h0m0.2-0.4h0m2.2 0.1h0m2.1 0.4h0m0.2-0.4h0m1 0.5h0m2.3-0.4h0m1.3 0.5h0m0.3 0h0m0.3 0.2h0m3.6-0.1h0m0.6-0.8h0m0 0.5h0m1.4-0.4h0m0.2 0.2h0m0.1 0.6h0m0.3-0.5h0m0.4-0.4h0m0 0.7h0m0.1 0.1h0m1.9-0.7h0m5.8 0.4h0m0.6 0.4h0m1.1 0h0m0.3 0h0m2-0.6h0m0.4 0h0m0.2-0.2h0m0 0.8h0m0.2 0h0m2.9-0.2h0m2.1-0.3h0m0.3-0.3h0m1.6 0h0m1.1 0.5h0m1.1-0.5h0m2.7 0h0m0.1 0.6h0m0.2 0.1h0m0.6-0.2h0m6.1 0.2h0m0.4-0.1h0m0.2 0.2h0m0.1-0.5h0m5 0.1h0m4.1-0.4h0m0.1 0.8h0m0.1-0.7h0m2.2-0.2h0m0 0.6h0m0.6-0.2h0m0.9-0.3h0m0.5 0.6h0m0 0.2h0m2.1-0.7h0m0.3 0h0m1.7 0.5h0m0.2-0.7h0m1.4 0.3h0m0.8 0.3h0m0.7 0h0m0.4 0.2h0m1.8-0.7h0m1.1-0.1h0m0.9 0.9h0m2.2-0.1h0m1.1-0.4h0m1.3-0.4h0m0.4 0.8h0m0-0.3h0m5.8 0h0m0.3-0.2h0m1.5 0.5h0m2.1-0.1h0m0.1-0.3h0m0.1-0.2h0m0.7 0.6h0m0.6 0h0m3.4-0.1h0m0.5-0.2h0m0 0.1h0m0.9-0.4h0m0 0.7h0m1-0.2h0m0.2 0.2h0m0.4-0.3h0m1.3 0.1h0m6.3 0.1h0m1.8-0.5h0m2 0.2h0m2.3-0.2h0m0.7 0.5h0m1.1-0.5h0m1.8 0.2h0m0.3-0.1h0m0.5 0.2h0m0.1-0.5h0m0.1 0.4h0m0-0.2h0m1.5 0.6h0m0.3-0.5h0m0.2-0.3h0m0.3 0h0m1.7 0h0m1.1 0.4h0m2.1-0.4h0m0.2 0.4h0m1.7-0.4h0m1 0.3h0m0.6-0.3h0m5.3 0.6h0m5.4 0.2h0m0.1-0.8h0m0.6 0.2h0m3.3-0.3h0m0.3 0.1h0m2.1 0.2h0m5.7 0.3h0m3.9-0.1h0m3.9-0.2h0m1.1 0.4h0m3-0.6h0m2.3 0.2h0m6.8 0.5h0m3.3 0.1h0m1.3-0.7h0m1 0.5h0m2-0.1h0m0 0.1h0m1.4-0.3h0m1.6-0.3h0m0.5 0h0m1.2 0.6h0m2.7-0.3h0m1.4 0.3h0m3-0.1h0m1.5-0.2h0m-453.3 1.5h0m32 0h0m4.1 0h0m60.7 0.1h0m13-0.1h0m21.6 0h0m0.9 0h0m43.2 0h0m11.7 0.1h0m0.2-0.1h0m12.4 0.1h0m1.9 0h0m10.5 0h0m1.1 0h0m0.1-0.1h0m63.9 0.1h0m15.3-0.1h0m12.6 0.1h0m16.1-0.1h0m7 0h0m17.6 0h0m2.3 0h0m11.7 0.1h0m12.8 0h0m0.7 0h0m20-0.1h0m6 0.1h0m0.8-0.1h0m4.7 0h0m7.2 0.1h0m1.8-0.1h0m13.1 0h0m12 0h0m1.4 0.1h0m-443.2 0.7h0m0.8-0.5h0m2.5 0.2h0m0.8 0.3h0m2.4-0.5h0m3.7-0.2h0m5.5 0.4h0m6.7-0.4h0m0.8 0.9h0m0.5-0.6h0m3.8-0.1h0m1.3 0.5h0m1.5 0.2h0m0-0.5h0m1.5 0.1h0m0.4 0.1h0m2.1 0.4h0m0.7-0.1h0m4-0.1h0m4.9-0.6h0m0.4 0h0m2.3 0.3h0m5.3-0.1h0m2.7-0.4h0m3.7 0.8h0m1.3-0.8h0m3.1 0.1h0m0.3 0.7h0m0.1-0.7h0m0 0.9h0m1.2-0.9h0m1.5 0.3h0m0.3-0.3h0m1-0.1h0m5 1h0m1.9-0.9h0m0.2 0.4h0m6.6 0.4h0m1.1 0h0m0.1 0h0m0.9-0.9h0m0.9 0.6h0m4.1-0.6h0m0.5 0.1h0m2.1 0.1h0m0.7 0.1h0m0.4-0.1h0m7.8 0.2h0m0.9-0.3h0m1.7 0.2h0m0.6 0.1h0m1.5 0.1h0m0.5-0.4h0m2.8 0.4h0m0 0.2h0m2.5-0.3h0m0.3 0.3h0m0.3 0.1h0m1.7 0.1h0m0.2-0.7h0m2.1 0.6h0m0.5-0.3h0m0.3-0.5h0m0.6 0.5h0m0.2 0.2h0m0.3 0.1h0m0.3-0.7h0m17.2 0.2h0m0.8 0.1h0m0.3 0.5h0m1.3-0.1h0m0.2-0.7h0m1.3 0.1h0m0.4-0.1h0m0.9 0.8h0m0.8-0.7h0m0.1 0.3h0m0.4-0.2h0m0 0h0m0.3 0.1h0m38.1-0.2h0m0.7 0h0m0.2 0.6h0m6.3-0.1h0m0.1-0.3h0m0.9-0.2h0m0.4 0.6h0m0.1-0.6h0m0.7 0.1h0m2 0.1h0m1.8-0.3h0m10 0h0m0.4 0.8h0m0.6-0.6h0m1.2 0.2h0m0.5 0.1h0m9.4 0.1h0m0.8-0.4h0m0.9-0.2h0m0.7 0h0m0.1 0.8h0m9.3-0.1h0m0.3-0.4h0m0.9 0h0m0.4 0.5h0m2.4-0.5h0m0.1-0.2h0m2.1 0.1h0m23.2-0.3h0m0.1 0.6h0m0.9 0.3h0m9.6-0.3h0m0.9 0.2h0m0.1-0.2h0m1 0.4h0m0.9-0.6h0m1.8 0.2h0m0-0.1h0m1-0.4h0m0.1 0.9h0m0.5-1h0m0.1 0.5h0m0 0.2h0m2.6 0.2h0m0.5-0.2h0m0-0.6h0m1.3 0.6h0m1.4-0.4h0m0.6 0.4h0m0.5 0.1h0m0.8-0.5h0m0.3 0.7h0m0.4-0.9h0m0 0.2h0m13.3 0.5h0m0.5-0.4h0m1.7 0.2h0m0.1 0.1h0m0.4-0.7h0m9.8 0.3h0m0.1 0.1h0m0.4 0.4h0m0.1-0.1h0m0.1-0.3h0m0.7-0.3h0m0.3 0.4h0m0.1 0.3h0m0.3-0.8h0m0 0.1h0m5.9 0.2h0m0.5 0.3h0m0.7-0.2h0m0.1-0.1h0m0.7 0.6h0m0-0.4h0m3.3-0.3h0m0.1 0.2h0m0.4 0.2h0m0.5-0.3h0m0-0.1h0m0-0.1h0m0 0.8h0m1.8-0.8h0m0.1 0.7h0m0.1-0.3h0m0.7-0.4h0m0.8 0.4h0m0 0.2h0m0.5-0.3h0m2.1 0.2h0m0 0h0m0.5-0.6h0m0.4 0.7h0m0.9-0.6h0m1.6 0.2h0m0.3 0.6h0m0.1-0.5h0m1.5 0h0m0.4 0.5h0m0.1 0.1h0m0-0.4h0m0.1-0.6h0m1.9 0.4h0m1.1 0.4h0m2-0.4h0m1.2 0h0m0.2-0.2h0m0.4 0.3h0m0.4-0.3h0m2.4-0.2h0m0.3 0.9h0m2-0.7h0m1.9 0.3h0m0.1-0.1h0m0.4-0.2h0m0.5-0.2h0m2.3 0.6h0m1.3 0h0m0.4 0.2h0m2.5 0.1h0m0.7-0.7h0m1.1-0.2h0m0.3 0.3h0m2.1-0.1h0m0.8 0.7h0m1.3-0.7h0m2.8 0.3h0m0-0.5h0m0.1 0.6h0m0.1 0h0m0.6 0h0m0.4 0.1h0m0.3 0h0m1.1-0.3h0m0.5 0.6h0m0.5-0.3h0m1.3-0.1h0m2.4-0.2h0m0.2 0.1h0m0.4-0.1h0m3.1 0.6h0m4.3-0.5h0m1.6 0h0m0.2-0.4h0m0.5 0.7h0m1.3-0.8h0m0.2 0.8h0m0.3-0.4h0m1.1-0.2h0m0.4 0.6h0m0.2-0.8h0m1.6 0.8h0m1.4-0.7h0m0.1 0.1h0m0.5 0.7h0m0.7-0.6h0m2.2 0.5h0m0.1 0.1h0m0.5-0.5h0m0.1 0.2h0m2.6 0h0m0.9-0.3h0m0.5 0.2h0m2.3 0.3h0m4.1 0h0m1-0.2h0m2.9 0.1h0m0.3 0.2h0m0.2-0.8h0m4.4 0.8h0m0.7-0.6h0m4.9 0.1h0m3.4-0.1h0m0.2 0.4h0m0.8-0.3h0m2.5 0.4h0m0.4-0.3h0m0.5 0.2h0m0.3-0.3h0m2.9-0.3h0m2.8 0.2h0m1 0.2h0m8.1-0.4h0m7.5 0.3h0m4.5 0.2h0m0.5 0h0m0.1-0.5h0m2.8 0h0m0.9 0.8h0m0.7-0.9h0m1.9 0.8h0m0.5 0h0m-452.8 0.3h0m4.2 0.5h0m14.3-0.3h0m0.1 0.5h0m1.7-0.7h0m1.6 0.7h0m0.2-0.7h0m2.1 0.7h0m0.2 0.2h0m1.1-0.7h0m0.4 0.1h0m0.5 0h0m0.1 0.2h0m1.5 0h0m1.4 0h0m2.7-0.2h0m1.1 0.2h0m0.4 0h0m0.5 0.3h0m2.1-0.6h0m0.4 0.2h0m0.5 0.3h0m1.1-0.6h0m0.7 0.3h0m1.9-0.4h0m2 0.1h0m1.9-0.1h0m3.7 0.6h0m0.6-0.3h0m7 0.3h0m0.4-0.7h0m2.3 0.7h0m2.6 0.2h0m3-0.2h0m0.3-0.5h0m1.9 0.7h0m0-0.3h0m2.1-0.1h0m7.8 0.5h0m0.2-0.5h0m1-0.2h0m2.4 0.3h0m0.5-0.2h0m1.5 0.2h0m0.3 0h0m2.8-0.4h0m0.5 0.8h0m3.6-0.8h0m0.6 0.3h0m4.8 0.4h0m2.4 0h0m0.3-0.6h0m2.7 0.2h0m0.6-0.1h0m0.8 0h0m0.1 0.3h0m0.3-0.1h0m4.5-0.1h0m2-0.1h0m0.2 0.5h0m0.1-0.6h0m0.1 0.4h0m0.5-0.4h0m0.9 0.1h0m18-0.4h0m0.1 0.3h0m1.9-0.2h0m0.3 0.8h0m0.1-0.7h0m2 0.4h0m1-0.5h0m0.7 0.6h0m0.8-0.1h0m37-0.5h0m0.2 0.3h0m1.2 0.2h0m0.6-0.3h0m0.8-0.2h0m0.1 0.1h0m5.4 0.4h0m0.3 0.4h0m0.2-0.6h0m0 0.1h0m0.1 0.4h0m1.2-0.7h0m0.8 0h0m1.4 0.1h0m1.4 0h0m0.1-0.1h0m0.3 0.8h0m0.2-0.1h0m0.1-0.4h0m10.1 0.3h0m1-0.1h0m1.4 0.2h0m9.7-0.4h0m0-0.3h0m0.5 0h0m0.8 0.8h0m0.5-0.5h0m10-0.1h0m0.7 0.1h0m0.8-0.3h0m0.1 0.6h0m0.8-0.1h0m0.1 0.2h0m2.5-0.5h0m0.2-0.3h0m0.7 0.4h0m23.1-0.2h0m10.9 0.1h0m0.8-0.1h0m0.5 0h0m0.1 0.3h0m0.3 0h0m0.5 0.4h0m1.7 0h0m4.1-0.5h0m0.4 0.1h0m0.1-0.5h0m1 0.1h0m0.3 0.3h0m0 0.4h0m2.2-0.5h0m1.3 0.3h0m0.2-0.7h0m0.1 0.3h0m0.1 0.6h0m0.5-0.6h0m13.7 0.5h0m0.1 0.2h0m0.1-0.8h0m1.3-0.2h0m0 1h0m0.7-1h0m10.4 0.4h0m0.5-0.2h0m0 0.6h0m0.2-0.1h0m1-0.4h0m0.1 0.4h0m0.3-0.4h0m5.8 0.3h0m0.3-0.1h0m1 0.5h0m2.6-0.7h0m1.8 0.5h0m1.7-0.2h0m1.4-0.3h0m2.7 0.2h0m0.4 0h0m0.5 0h0m0.8 0.1h0m0.5-0.5h0m0.4 0.3h0m1.3 0.3h0m0-0.1h0m0.1-0.6h0m0.6 0.8h0m0.6-0.1h0m0.5-0.1h0m3.5 0h0m0.2 0.1h0m0.2-0.4h0m2.5 0.3h0m0.1-0.4h0m0.4 0.1h0m1.4-0.1h0m0.3 0.4h0m0.1-0.3h0m0.4-0.2h0m1.8 0.5h0m1.6 0.2h0m0.2-0.5h0m1.4-0.1h0m1.7 0.8h0m0.4 0h0m2.8-0.6h0m0.5 0.4h0m3.8-0.1h0m0.4-0.1h0m0.9-0.3h0m0.1-0.1h0m0.3 0.3h0m1.3 0.2h0m1.7 0h0m0.5-0.1h0m0.1 0h0m0.1 0.2h0m2.4 0.2h0m4.4-0.3h0m2.8-0.1h0m1.6 0.3h0m0.4-0.6h0m0.7 0.1h0m1.3-0.1h0m0.2 0.3h0m1 0.4h0m4.9-0.8h0m0.5 0.2h0m2.3 0h0m1.2 0.2h0m0.1-0.2h0m1.8 0.1h0m2.7-0.1h0m1.2 0.3h0m0.5-0.4h0m8.3 0.4h0m0.1-0.1h0m4.2-0.5h0m1 0.8h0m2.7-0.2h0m0.3-0.6h0m0.5 0.2h0m0.8 0h0m2.9-0.1h0m2.8 0.1h0m0.7 0.1h0m0.4-0.2h0m4.6 0.5h0m2.4-0.3h0m0 0.3h0m0.8-0.1h0m1-0.3h0m0.5 0.3h0m1.6 0.3h0m4.8-0.8h0m0.9 0.1h0m0.4 0.6h0m0.3-0.6h0m3.9 0h0m3.8 0.3h0m0.2 0h0m3.5-0.4h0m2.3 0.9h0m2.3-0.4h0m0.4-0.4h0m1.4 0.4h0m2.5 0.1h0m2-0.5h0m17.3 0.7h0m-473 0.3h0m0.4 0.4h0m9 0.3h0m0.2-0.5h0m1.6 0h0m0.7-0.2h0m5.9-0.2h0m5.3 0.7h0m4.9 0.2h0m1.4-0.2h0m1.9 0.1h0m0.3 0h0m1.2-0.3h0m8.1 0.4h0m0.6-0.8h0m4.1 0.8h0m2.3-0.1h0m4.2-0.2h0m1.4 0.1h0m0.3-0.1h0m1.1 0.3h0m0.3-0.4h0m1.9 0h0m0.7-0.2h0m1.3 0h0m0.1 0.6h0m1.1-0.7h0m2.6 0.2h0m1.2 0.2h0m0.2-0.6h0m4.3 0.6h0m1.2-0.5h0m1.1 0.6h0m1.2 0.2h0m8.6-0.5h0m0.4-0.2h0m0.2 0.5h0m3-0.2h0m4.1-0.1h0m0.3 0.1h0m3.4 0.4h0m1.5-0.6h0m2.2 0.5h0m0.6-0.7h0m0 0.4h0m0.3 0.3h0m1.1-0.6h0m1.3 0.5h0m1.1-0.3h0m0.7 0.3h0m2.9-0.4h0m0.1 0.4h0m0.1-0.1h0m0.8 0.1h0m0.6-0.5h0m2.9 0h0m0 0.1h0m0.6 0.3h0m0.5-0.5h0m0.1 0.2h0m1.8 0.3h0m0.9 0.3h0m2.7-0.1h0m0.9-0.2h0m1.4-0.5h0m0.3 0.2h0m17.7 0.3h0m1.2 0.2h0m0 0.1h0m3.1-0.1h0m0.1-0.6h0m1 0.1h0m0.2 0.4h0m0.8 0.2h0m37.2-0.7h0m0.2 0.2h0m1.9 0.2h0m0.2-0.3h0m7.3 0.1h0m0 0.2h0m0-0.5h0m0.3 0.1h0m0 0.2h0m0.8 0.1h0m0.1-0.5h0m0.2 0.9h0m1.2-0.5h0m0.3 0.2h0m0.1 0.1h0m0.7 0.2h0m0.7-0.7h0m0.7 0.3h0m0.1-0.3h0m9.2 0.1h0m0 0.3h0m0.4 0.2h0m0.3-0.7h0m1-0.1h0m0.5 0.2h0m10 0.5h0m0.7-0.5h0m0.4 0.2h0m0.1 0.1h0m0.3 0h0m0 0.1h0m0-0.2h0m1-0.1h0m10.5 0.5h0m1-0.6h0m0.6 0h0m0.1-0.2h0m0 0.2h0m1.5 0.7h0m0.4-0.3h0m0.1-0.6h0m0.8 0.6h0m0.2-0.6h0m0.6 0.7h0m0.2-0.6h0m0.3 0.5h0m22.5 0.2h0m0.7 0h0m0.5-0.2h0m0 0.2h0m9.3 0.1h0m1.4-0.1h0m0.4-0.8h0m0 0.9h0m0.2-0.8h0m0.2 0.6h0m0.8 0.2h0m1-0.1h0m4-0.3h0m1.5-0.5h0m0.4 0.8h0m0.5-0.8h0m0.3 0.7h0m1.3-0.7h0m0.1 0.8h0m0.4-0.3h0m0.5 0.1h0m0.1 0.1h0m0.3-0.4h0m1.3 0.4h0m0-0.6h0m13.6 0.3h0m0.9 0.1h0m0.7 0.2h0m0-0.1h0m0.4 0.1h0m0-0.7h0m0.2 0.1h0m9.8 0.6h0m0.7-0.3h0m0.5 0.4h0m1.3-0.7h0m5.2 0.5h0m0.4 0.3h0m1.1-0.3h0m1.5-0.2h0m1 0.5h0m0.4-0.4h0m0.2-0.3h0m1 0.2h0m0.2 0.4h0m0.1-0.2h0m0.1-0.4h0m0.2 0.5h0m0.1 0h0m0.1-0.2h0m0.6 0.2h0m1.2-0.6h0m1 0h0m0.3 0h0m1.1 0.8h0m0.3-0.8h0m1.1 0h0m0 0.4h0m0.5-0.3h0m0.5-0.2h0m0.2 0.2h0m0.3 0h0m2.6 0.2h0m0.3 0.2h0m1.2 0h0m0-0.3h0m0.4 0.4h0m0.8 0h0m1.9-0.1h0m0.8-0.2h0m0.3-0.2h0m2.6 0.6h0m0.3 0.1h0m1.5-0.1h0m0.7-0.2h0m5.6 0h0m0.1-0.6h0m1.6 0.1h0m0.1 0.2h0m0.1 0.1h0m1.7 0.1h0m0.5 0.2h0m0.5 0h0m0.2-0.5h0m1.1 0.5h0m0.5-0.2h0m0.1-0.2h0m2.3 0.3h0m5-0.1h0m2.4 0h0m0.3-0.2h0m0.2-0.1h0m0.2 0h0m0.8 0.1h0m6.4 0.6h0m0 0h0m0-0.4h0m0.2 0.3h0m0.4 0.1h0m0.7-0.9h0m0.1 0.3h0m0.3-0.3h0m3.1 0.5h0m0 0.2h0m0.1 0h0m1.2 0.2h0m2.1-0.3h0m0.6 0h0m1.4 0.1h0m2.8 0.2h0m0.1-0.1h0m10.9-0.4h0m1.2-0.1h0m1-0.3h0m1.2 0.5h0m0-0.2h0m0.6 0.1h0m1.7-0.2h0m2.9-0.2h0m1.5 0.1h0m0.3 0.3h0m2.4 0.3h0m0.4-0.6h0m1.1 0.4h0m2.7 0.2h0m0.9-0.2h0m1.7 0.3h0m1-0.7h0m0.6 0.4h0m0.8-0.2h0m0.1 0.2h0m2.3 0.2h0m4.2-0.3h0m0.8 0.2h0m3.1-0.4h0m3.5 0.7h0m1.1-0.5h0m0.6 0.1h0m0.1-0.5h0m5.6 0.5h0m0.4 0.2h0m1.7-0.6h0m6 0.8h0m0.9-0.2h0m5.2 0.2h0m2.2-0.7h0m14.3 0.1h0m16-0.3h0m-484.7 1.9h0m12.5 0.1h0m1.7 0h0m13.8-0.1h0m9 0.1h0m11.3 0h0m2.5 0h0m9.5-0.1h0m4.6 0.1h0m6.1-0.1h0m13.3 0h0m3.4 0h0m0.8 0h0m6.5 0.1h0m1.4-0.1h0m8 0h0m0.3 0h0m2.3 0h0m7.6 0h0m0.8 0h0m23.8 0h0m128 0h0m0.7 0.1h0m56.6-0.1h0m11.6 0.1h0m0-0.1h0m15.3 0h0m0.7 0h0m0.7 0h0m3.2 0h0m6.2 0.1h0m0.1-0.1h0m1.2 0.1h0m6.7-0.1h0m0.9 0.1h0m7.4-0.1h0m0.9 0h0m16.1 0.1h0m1.3-0.1h0m5.9 0h0m0.7 0h0m13.2 0.1h0m6-0.1h0m9.5 0h0m-432.7 0.5h0m0.9-0.1h0m0.3 0.4h0m0.1-0.6h0m5.3 0.7h0m0.9-0.6h0m1.2 0h0m0.3 0.4h0m4 0.2h0m0.4 0h0m6.2-0.5h0m4 0.1h0m0.5 0.4h0m1.2-0.6h0m0.3-0.2h0m2.1 0.8h0m0.7-0.2h0m7.3 0.1h0m3.5-0.5h0m0.5 0.4h0m1 0.3h0m0.7-0.9h0m1.3 0.9h0m0.3-0.2h0m0.9-0.1h0m1-0.2h0m0.1 0.4h0m0.5 0.1h0m1.9-0.3h0m0.8 0.1h0m0.3 0h0m2.2-0.1h0m1.9 0.2h0m0.6-0.7h0m2.8 0h0m3.8 0.8h0m4.7-0.1h0m1 0.1h0m1.9-0.7h0m0.5 0.4h0m0-0.2h0m1.2-0.3h0m0 0.3h0m2.5-0.3h0m3.3-0.1h0m1 0.7h0m0.2-0.3h0m0.3 0.4h0m0.4-0.1h0m1.8 0.2h0m0.2-0.3h0m0.1 0.1h0m0 0.2h0m0.6-0.2h0m1.3-0.2h0m0.3-0.2h0m0.2 0.1h0m1.5-0.2h0m0.8 0.1h0m0.6 0.5h0m0.3 0.2h0m0.5-0.5h0m1.7-0.1h0m1.4-0.1h0m0.1 0.5h0m0.4 0.1h0m0.4-0.8h0m2 0.5h0m0.4-0.5h0m3.4 0.3h0m0.2 0.1h0m0.6 0.3h0m0.2-0.5h0m0.1 0.6h0m0.3-0.1h0m0.2-0.7h0m1.2 0.6h0m1.5 0.2h0m3.8-0.8h0m1.3 0h0m0.5-0.1h0m0.4 0.7h0m1.5-0.2h0m0.1 0.2h0m0.4 0.3h0m0.5-0.6h0m0.4-0.1h0m1.3 0.5h0m2-0.4h0m0.9 0.4h0m1.4-0.3h0m1.1 0.4h0m0.1-0.9h0m0.2 0.4h0m0.9-0.1h0m0.3 0.3h0m1.1 0.3h0m0-0.6h0m22.6-0.3h0m0 0.3h0m0.5 0h0m1 0.4h0m0.1-0.1h0m0 0.2h0m125.4-0.2h0m0.9 0.2h0m0.4-0.2h0m0.9-0.2h0m1.5-0.2h0m0.4 0.2h0m0.7-0.2h0m0.4-0.1h0m0.3 0.5h0m46.2 0h0m0-0.2h0m0.2-0.2h0m0.3 0.4h0m0.1-0.4h0m0.5 0h0m0.4-0.1h0m1.4 0.2h0m1.6 0.3h0m0.3 0.1h0m1.4-0.4h0m6.1 0.3h0m0 0.4h0m0.3-0.6h0m0.5 0.4h0m1.2 0h0m2.1-0.7h0m2.1 0h0m1.7 0.6h0m0 0.2h0m0.5 0h0m1.8 0h0m1.7-0.9h0m0.8 0.7h0m0.1-0.1h0m0-0.1h0m0.1 0.4h0m0-0.1h0m4 0h0m0.1-0.5h0m0.5 0.1h0m0.2 0.5h0m0.6-0.7h0m2.1 0.6h0m0.9-0.6h0m0.4 0.2h0m0.3 0.3h0m2.3 0h0m0.1-0.5h0m0.2-0.1h0m0.1 0.4h0m0.6 0h0m0.5-0.1h0m4.1-0.3h0m0.5 0.2h0m2.1 0.3h0m0.9-0.5h0m1 0.3h0m4 0.4h0m1.7 0.1h0m0.8-0.8h0m1.2 0.3h0m2.1 0.1h0m0 0.3h0m0.8 0h0m0.8-0.6h0m2.2 0.4h0m0.6 0h0m1.3 0.3h0m2.2-0.2h0m1-0.5h0m3.3 0.4h0m1.2 0.2h0m2.6-0.4h0m0.2 0.4h0m1.6-0.4h0m3.1-0.3h0m0.8 0.1h0m0 0.2h0m2.3 0.3h0m0.3 0.3h0m0.5-0.4h0m3.6-0.1h0m0.4 0.3h0m0.5-0.1h0m0.2-0.1h0m2.8 0h0m0.9 0.2h0m3.8 0.1h0m0.6-0.7h0m0.9 0.4h0m1.7 0.4h0m2.2-0.9h0m1.1 0.8h0m0.2-0.4h0m1.2 0.4h0m1.1-0.5h0m1.7-0.3h0m0.2 0.3h0m0.9 0.1h0m2.9 0.1h0m0.1 0.3h0m3.8-0.2h0m0.1-0.2h0m5.7 0.3h0m0.1-0.7h0m2.7 0.8h0m0.9-0.6h0m0.4 0.5h0m2.8-0.7h0m0 0h0m0 0.1h0m3.8-0.1h0m1.1 0.6h0m0.3 0.1h0m0.3 0.2h0m0.1 0h0m1.6-0.5h0m2.4-0.3h0m0.2 0.8h0m1.4-0.1h0m0.1-0.8h0m1.7 0.6h0m1-0.1h0m3.9-0.1h0m9.5 0.4h0m1.1-0.5h0m11.1-0.3h0m0.7-0.1h0m0.3 0.6h0m0.1 0.2h0m10.9 0h0m-495.1 0.8h0m0.8 0.3h0m3.2-0.5h0m1.2-0.3h0m1.7 0.4h0m0.4 0.2h0m0.1 0.1h0m1.1-0.7h0m1 0.8h0m1.4-0.9h0m1.6 0.8h0m12.9 0.1h0m2.6-0.9h0m0.3 0.7h0m2.7-0.5h0m0.4 0.6h0m1.4-0.1h0m0.5-0.6h0m0.3 0.8h0m1.9-0.3h0m1.1 0.2h0m2.8-0.1h0m3.4 0h0m2.8 0.2h0m1.3-0.3h0m2.1 0.4h0m0.2-0.4h0m1.7 0.1h0m0.8 0.1h0m4.4-0.5h0m1.1 0.5h0m4.2-0.1h0m0.3-0.3h0m0 0h0m1.8 0h0m0.1 0.3h0m3.5-0.2h0m2.1-0.4h0m0.3 0.8h0m1.4-0.1h0m2.3 0.2h0m0.2-0.8h0m3.4 0.5h0m0.8-0.6h0m1.3 0.8h0m0.1-0.9h0m0.9 0.2h0m1.1 0.1h0m2.2 0.3h0m0.1-0.2h0m0.9 0h0m1.5 0.6h0m1.2-0.1h0m0.3-0.9h0m0.3 0.8h0m0.3-0.4h0m0 0.2h0m0.2 0h0m3.1-0.6h0m0.3 0.2h0m0.8 0.2h0m2.5 0.2h0m0-0.3h0m0.3 0.1h0m0.8-0.3h0m0.2 0.5h0m0.2-0.1h0m0.8-0.1h0m0.6 0.1h0m0 0.3h0m1.2 0.1h0m0.2-0.3h0m0.1-0.3h0m4 0.2h0m0-0.2h0m1.9 0.1h0m2.1 0.3h0m0.3 0.3h0m0.3-0.7h0m1-0.2h0m0 0.5h0m0.4-0.5h0m1.7 0.3h0m1.6 0.3h0m0.2 0h0m2.3 0.2h0m0.2-0.8h0m0.1 0.7h0m0-0.5h0m1.1 0h0m0 0.4h0m0.7-0.4h0m0.3 0.3h0m21.7-0.2h0m0.8-0.3h0m0.2 0.4h0m0-0.5h0m0.6 0.8h0m0.6-0.6h0m125.7 0.7h0m0.2-0.2h0m1.3 0.2h0m0.2-0.4h0m0.2 0.4h0m2.5-0.1h0m0.2 0h0m0.4-0.1h0m0.9-0.2h0m0.7-0.2h0m45.3 0.5h0m0.1 0.1h0m0.5-0.7h0m4.2 0.5h0m0.8 0.2h0m0.9-0.1h0m6.4 0.2h0m0.6-0.6h0m0.2-0.3h0m0.2 0.6h0m0-0.4h0m0.2-0.2h0m0.1 0.4h0m0.5-0.1h0m1.2 0.6h0m0.3-0.1h0m0.2-0.6h0m0.3-0.2h0m0.3 0.9h0m0.6-0.6h0m1.2-0.2h0m2 0.7h0m0.3-0.8h0m0.7 0.5h0m1 0.3h0m1.2-0.7h0m0.1-0.2h0m0.3 0.9h0m0.4-0.1h0m0-0.2h0m0.4-0.4h0m3.4 0.6h0m0.9-0.2h0m0.3-0.3h0m0.3 0.4h0m0.3 0.2h0m1.6-0.4h0m0.4 0.3h0m0-0.6h0m0.2 0.3h0m0.1 0.2h0m1.2-0.5h0m0.5 0.1h0m0.1 0.3h0m0.3 0.4h0m0.1-0.1h0m1.4-0.3h0m0.5-0.3h0m0.5 0h0m1 0.3h0m0.1-0.3h0m2.9 0.4h0m0-0.2h0m0.2 0.4h0m0.6-0.1h0m0.1-0.3h0m0.7-0.1h0m1 0h0m0.8 0.3h0m1.5-0.2h0m0.2 0.3h0m1.7-0.3h0m0.4-0.3h0m3.5-0.1h0m0.1 0.3h0m0.7-0.1h0m1.1 0.3h0m0.7 0.3h0m2.5-0.3h0m1.1 0h0m0.3 0.2h0m1.5-0.3h0m0.1 0.5h0m0.1-0.6h0m0.1 0.4h0m0.9-0.5h0m1.7 0.6h0m0 0.1h0m2.5-0.6h0m1 0h0m0.1-0.2h0m1.9 0.6h0m6.5-0.5h0m1-0.2h0m0.5 0.2h0m1.2 0.7h0m4.4-0.8h0m0.2 0.3h0m1.9 0.2h0m0.5-0.6h0m0.6 0.5h0m0.5 0.2h0m0.2 0h0m3.7-0.4h0m2.3 0.6h0m0.7-0.8h0m3.6 0.8h0m1.3-0.5h0m3.9 0.2h0m0.3-0.7h0m0.9 0.8h0m1.4-0.1h0m0.2 0.3h0m0.7 0h0m0.5-0.3h0m3.5-0.5h0m3.1 0.5h0m0-0.3h0m0.7 0h0m0.4 0h0m0.7 0h0m0.9 0.4h0m2.1-0.3h0m0.8 0.4h0m0.5-0.3h0m0.8-0.1h0m1.3-0.1h0m3.8-0.1h0m1.3 0.3h0m0.3-0.3h0m3.2 0.3h0m1.1-0.1h0m0.6 0.3h0m2.8-0.4h0m12.3 0.1h0m3.9-0.2h0m0.7 0.5h0m1.9 0.1h0m1.6-0.6h0m0.2 0.4h0m7.6 0h0m4.9-0.6h0m8.2 0h0m3.2 0.4h0m2.6-0.1h0m-497.8 1h0m0.3 0h0m1.3 0h0m1.1 0.3h0m6.8-0.6h0m2.1 0.2h0m2.3 0.5h0m2-0.6h0m1.9 0.4h0m0.2-0.3h0m2.1 0h0m2 0.2h0m3.9-0.1h0m0.3 0.5h0m0.6-0.6h0m0.7 0.6h0m2.1 0h0m5.2-0.1h0m0.1-0.6h0m1 0.1h0m3.1 0.4h0m0.8-0.4h0m2.1 0.4h0m2-0.2h0m2.3 0.3h0m0.1-0.1h0m0.1-0.3h0m3-0.1h0m1.2 0.1h0m3-0.1h0m9.7-0.3h0m0.4 0.4h0m0.1 0.1h0m0-0.4h0m6 0.5h0m1-0.1h0m4.2 0h0m2.4-0.3h0m0.5 0.1h0m0.9-0.3h0m0.4 0.6h0m0.2-0.3h0m2.4-0.1h0m0.8 0.6h0m3 0h0m0.5-0.4h0m0.8 0.2h0m0.9 0.2h0m0 0h0m1.8-0.3h0m1.1 0.2h0m0.1-0.4h0m0.2 0.1h0m0 0.2h0m0.7-0.1h0m2.6 0.3h0m0.7-0.4h0m3.9 0.4h0m0.2-0.2h0m0.1 0.1h0m2.1 0.2h0m0.1-0.9h0m0 0.2h0m1.5 0.1h0m0.2 0.4h0m0.3-0.6h0m2.2 0.7h0m0.4-0.8h0m0.5 0.9h0m0.9-0.3h0m0.3-0.4h0m0.3 0h0m1.6 0h0m0.9 0.3h0m0.1 0.3h0m0.2-0.6h0m0.4 0.6h0m0 0h0m0.8-0.6h0m1.2 0.2h0m0.2 0.4h0m0.3-0.7h0m1.4 0.6h0m0.3-0.6h0m22.4 0.1h0m0.3 0.4h0m1.1-0.1h0m0.2 0.4h0m125.9-0.6h0m0.2 0h0m0.1-0.1h0m0.1 0.3h0m0.5 0.3h0m0.1-0.5h0m1.3 0.3h0m0.3-0.1h0m1.3 0.3h0m0-0.2h0m1.9-0.3h0m0.4 0.6h0m45.9-0.3h0m0.4 0h0m0.8-0.5h0m0.6 0h0m0.4 0.8h0m0.2-0.8h0m0.4 0.2h0m1 0.6h0m0.1-0.1h0m0.8-0.2h0m0.2 0.3h0m0.2-0.3h0m0.5-0.4h0m0.3 0h0m0.6 0.3h0m0.2-0.2h0m5.4 0h0m0.1 0.3h0m0.4-0.5h0m0.6 0.6h0m2.6-0.5h0m0.9 0.3h0m0.7 0.2h0m3.2-0.2h0m0.8-0.4h0m0.2 0.1h0m0-0.2h0m3.5 0.3h0m0.6-0.2h0m2.3 0.5h0m1 0.1h0m0.5-0.6h0m2.3 0.1h0m0.1 0.1h0m1.7-0.3h0m0.5 0h0m0.3 0.3h0m0.2-0.1h0m1.9 0.2h0m0.1-0.1h0m1 0.2h0m2.3-0.4h0m1.1 0.4h0m0.3 0.3h0m0.2 0.1h0m0.7-0.5h0m0.5-0.3h0m1.3 0.1h0m0 0.7h0m0.1-0.6h0m0.4 0.3h0m0.5 0.1h0m0.1-0.7h0m0 0.1h0m0.4 0.8h0m0.4-0.6h0m0.3-0.2h0m0.3 0.8h0m0.3-0.1h0m1.5-0.6h0m0.3 0.5h0m0.6-0.5h0m0.1 0.3h0m0.2-0.3h0m2.6 0.6h0m2.3-0.1h0m1.7 0.1h0m0.4-0.1h0m1.6-0.1h0m0.7 0.1h0m1.2-0.4h0m0.4 0.3h0m0.2-0.5h0m1.2 0h0m0.2 0.6h0m0.2-0.7h0m2.3 0.9h0m0.3-0.2h0m4.7-0.7h0m1 0.1h0m2.2 0.4h0m0.5-0.3h0m3.7-0.1h0m1.2 0.3h0m0.5 0.4h0m1.4-0.8h0m0.2 0.7h0m0.5 0.2h0m0.2-0.4h0m1.4-0.2h0m3.3 0.1h0m0.5-0.2h0m2.1 0.7h0m0.4-0.1h0m1.9-0.2h0m0.1 0h0m1.6-0.4h0m1.9 0.1h0m2 0.1h0m0.3-0.2h0m1.1 0.4h0m3-0.1h0m1.9 0.1h0m1.6-0.1h0m0.1-0.1h0m0 0h0m0.4 0h0m4.3-0.4h0m0.8 0h0m0.5 0.7h0m1.7 0h0m0.6-0.3h0m0.6-0.4h0m3.6 0.7h0m0.3 0.2h0m4.7-0.8h0m0.4 0.7h0m1.8-0.8h0m0.2 0.8h0m0.9 0h0m3.3-0.5h0m0.1 0h0m1.5-0.2h0m1 0.3h0m2.5-0.2h0m1.1 0.7h0m3.9-0.2h0m3.7-0.1h0m3.3 0.3h0m3.2-0.8h0m0.9 0.3h0m0.6 0h0m2.5 0.2h0m5.9-0.1h0m3-0.5h0m-472.9 2h0m3.8-0.1h0m16.9 0.1h0m4.3 0h0m2.7-0.1h0m16.4 0h0m2 0h0m15 0.1h0m14.9-0.1h0m1.9 0.1h0m7.4-0.1h0m0.5 0h0m7.9 0.1h0m2.6-0.1h0m9.6 0h0m231.9 0.1h0m15.1-0.1h0m12.6 0.1h0m3.3-0.1h0m0.9 0.1h0m14.5-0.1h0m16.6 0.1h0m4.5-0.1h0m0.1 0h0m2.6 0h0m9.3 0.1h0m18.8-0.1h0m10.1 0h0m3 0h0m0.1 0.1h0m16.1-0.1h0m7.9 0h0m7.7 0.1h0m0.9-0.1h0m-489.4 1.1h0m3.5-0.6h0m0.1 0.2h0m4.5 0h0m0.2-0.1h0m0.6 0h0m0.4 0.1h0m0.5 0.2h0m2.1-0.5h0m0.9 0.5h0m0 0.1h0m2.8 0h0m0.1 0h0m0.5-0.2h0m0-0.4h0m1.4-0.3h0m1.9 0.3h0m0.7 0h0m0.1-0.3h0m1.4 0.1h0m3.9 0.1h0m1.2-0.1h0m0.2 0.9h0m0.7-0.6h0m0.2-0.3h0m0.9 0.7h0m0.8-0.5h0m2.9 0.4h0m2.5 0.1h0m0.5 0.1h0m0.2-0.5h0m0.2 0.2h0m0.7-0.5h0m1.2 0.9h0m1.6-0.7h0m1.4 0.5h0m0.5-0.2h0m1.9-0.5h0m1.6 0.3h0m2.4 0.5h0m4.7-0.2h0m3-0.1h0m0.3-0.6h0m1 0.4h0m0 0.5h0m3-0.4h0m1.3-0.5h0m2.5 0.8h0m4.7-0.6h0m0 0.3h0m1.1-0.3h0m0.2 0h0m2.4 0.3h0m1.6 0.1h0m0.3 0h0m0.1-0.3h0m0.3 0.7h0m1.6-0.3h0m1.3-0.2h0m0.1 0h0m0.8 0.2h0m2.4-0.5h0m0.1 0.3h0m1.3 0h0m3.5 0.1h0m2-0.4h0m1.8 0.1h0m3.2 0.2h0m1-0.1h0m0.3 0.6h0m0-0.1h0m0.3-0.9h0m0.2 0.5h0m1.9-0.2h0m0.7-0.1h0m0.1-0.2h0m0.9 0.2h0m0.3 0.8h0m1.3-0.1h0m0.9-0.8h0m0.7 0.3h0m0.4-0.3h0m0.1 0.1h0m0.1 0.4h0m2 0.4h0m0.2-0.5h0m0.4 0h0m0.3 0.2h0m1.8 0.3h0m6-1h0m1.3 0.5h0m0.2 0.4h0m0.2-0.6h0m0.1 0.5h0m222.3-0.2h0m0.7-0.6h0m0.5 0.5h0m6.1 0.4h0m0.5-0.8h0m1.5 0.9h0m2.6-0.5h0m0 0.5h0m0.4-0.2h0m1-0.8h0m0.3 0.6h0m0 0.3h0m9.4 0h0m0.4-0.3h0m0.5-0.3h0m0.3-0.1h0m0.9 0.7h0m0.4-0.3h0m0.5 0.1h0m1.1-0.1h0m0.3 0.1h0m0.2-0.4h0m0-0.3h0m0.1 0.4h0m0.3 0.3h0m0.4-0.6h0m0.8 0.5h0m7.1-0.4h0m0.5 0.6h0m1.1 0h0m1.2 0.2h0m0.2-0.6h0m0.8 0.1h0m0.2 0.4h0m0-0.4h0m0.1-0.1h0m0.4 0.4h0m0.6-0.4h0m0.2 0.5h0m3.6 0h0m2.1-0.5h0m0.1 0.3h0m1 0.2h0m0.9-0.3h0m1.7-0.1h0m0.6 0h0m0.9 0h0m1.2-0.5h0m0 0.8h0m0.3-0.6h0m1.4 0.2h0m1.5 0.3h0m0.7-0.3h0m0.2 0.4h0m1.4 0.1h0m0.2-0.6h0m1.3-0.1h0m2.3 0.8h0m0.2-0.7h0m3.9 0.6h0m0.4-0.7h0m1.1-0.1h0m0 0h0m3 0.8h0m0.5-0.5h0m0.1 0.4h0m0.1 0h0m1.6 0.2h0m0 0h0m1.1-0.6h0m0.4 0.2h0m1.1 0h0m3.8-0.2h0m0.5 0.2h0m2.9-0.5h0m0.3 0.3h0m0.4-0.2h0m0.2 0.6h0m4.5 0.1h0m3.6-0.7h0m0.3-0.1h0m1 0.6h0m1.8-0.1h0m0.2-0.3h0m0.3 0.5h0m0.4-0.4h0m2.7-0.1h0m1.8 0.4h0m0.8 0h0m2.5-0.3h0m0 0.2h0m2.6 0.2h0m1.5-0.7h0m1.2 0.8h0m1.8 0.1h0m1-0.2h0m0 0h0m1.1-0.3h0m0 0.2h0m1.3 0.3h0m0.1-0.1h0m0.4-0.1h0m2.2 0.2h0m2.5-0.7h0m0.4-0.1h0m0.8-0.1h0m0.2 0.2h0m0.3 0.7h0m1.8-0.4h0m0.9 0.1h0m1.3 0.1h0m7.2-0.5h0m0.4 0.4h0m0.2-0.4h0m1.4 0.4h0m0 0.2h0m0.7-0.4h0m4.9 0.5h0m2.8-0.2h0m8.1-0.3h0m0.9-0.2h0m1.1-0.2h0m2.4 0.7h0m1.5 0.2h0m0.1-0.4h0m1.6 0.3h0m0.9-0.8h0m1.1 0.6h0m4.2-0.5h0m-500.9 1.5h0m0.4 0.2h0m0.2-0.5h0m2.3-0.2h0m0.5 0.1h0m1.7 0.6h0m0.4-0.4h0m2-0.3h0m0.5 0.7h0m3.2-0.8h0m0.4 0.3h0m0.1-0.1h0m1.4 0.6h0m1.4-0.4h0m0.3-0.2h0m2 0.5h0m0-0.1h0m0.1 0.2h0m1.6-0.2h0m1.1-0.6h0m0.3 0.5h0m0.1-0.2h0m0.4 0.4h0m6.6-0.6h0m0.2-0.1h0m0.8 0.8h0m0.5-0.6h0m0.7 0.4h0m1.8-0.5h0m4 0.4h0m0.8 0h0m1.4-0.3h0m0.3 0h0m1.6 0.4h0m1-0.4h0m0 0.2h0m0 0.2h0m0.3-0.2h0m0.3-0.4h0m0.6 0.4h0m1.5 0.4h0m0.1-0.3h0m0.6-0.6h0m1.7 0.3h0m1.5-0.2h0m0.2 0.8h0m0.8-0.3h0m0.4-0.1h0m0.4 0.1h0m0.3-0.2h0m2-0.4h0m0.2 0.9h0m3.5-0.5h0m1.2 0.1h0m0.9 0.5h0m2-0.6h0m0.3-0.2h0m0.2 0.1h0m5.7 0.5h0m0.3-0.1h0m0.3 0.2h0m1.1-0.7h0m1 0.4h0m0.1-0.3h0m0.8-0.1h0m0.7 0.3h0m0.4 0.3h0m2.7-0.1h0m0.4-0.6h0m0 0.2h0m0.3 0h0m4.1 0.3h0m0.5 0.3h0m1.6-0.9h0m0.2 0.2h0m0.1 0.2h0m1.4-0.1h0m0.2-0.3h0m0.3 0.9h0m1.5-0.4h0m0.5-0.1h0m0-0.1h0m0.9 0.2h0m0.2 0.4h0m0.1-0.4h0m0.8-0.4h0m2.8 0.6h0m0.1 0.1h0m0.9-0.2h0m2.7 0.1h0m0.6 0.1h0m2.5-0.5h0m1.8 0.1h0m0.3-0.1h0m0.2 0h0m0.2 0.4h0m1.5-0.3h0m0.7 0.2h0m0.3 0.3h0m0.3-0.5h0m0.4 0.4h0m0.1-0.4h0m2.5 0.5h0m7.3 0.1h0m0.8-1h0m0.5 0.2h0m0.3 0.3h0m0.5-0.4h0m0.4 0.1h0m0.3 0h0m221.9 0.4h0m0.5-0.6h0m0.7 0.7h0m6.3-0.2h0m0.2 0.3h0m1.3-0.1h0m3.5 0h0m0-0.2h0m0.2-0.3h0m0.1 0.4h0m0.5 0.3h0m0.4 0.1h0m0.3-0.4h0m10.4 0.4h0m1.3-0.8h0m0.1 0.4h0m0.5-0.4h0m1.6 0h0m0.3-0.1h0m0.7 0.9h0m0.1-0.2h0m6.4 0.2h0m0-0.2h0m0.1-0.1h0m0.1 0.2h0m0.2-0.8h0m0.4 0h0m0.5 0.2h0m0 0.5h0m0.1-0.3h0m0.3-0.2h0m0.4 0.6h0m0.6-0.8h0m1.3 0.5h0m0.1-0.1h0m0.9 0.5h0m0.7-0.3h0m0.1-0.3h0m1.1 0.3h0m3.5 0.2h0m0-0.1h0m0.2-0.7h0m0.3 0.6h0m2 0h0m0.7-0.6h0m0.2 0.4h0m2.9-0.4h0m0.1 0.7h0m1.2-0.6h0m2.1 0.7h0m0.9-0.2h0m0.5-0.3h0m0.2 0.3h0m0.2-0.3h0m2 0.1h0m0.1 0.2h0m5.2 0.1h0m0-0.6h0m0.2 0.3h0m0.1-0.3h0m0-0.1h0m0.3 0.4h0m3.2-0.5h0m0.7 0.1h0m0.1 0.9h0m0.8-0.6h0m0.1 0.1h0m1.7-0.1h0m0.2-0.2h0m0.3 0.6h0m0.6-0.6h0m2.6 0.4h0m0.9 0.1h0m1.3-0.5h0m1.9 0.4h0m1.9 0.3h0m1.8-0.3h0m0.2-0.5h0m2.3 0.8h0m1.6-0.6h0m1.3 0.5h0m2.6-0.4h0m0.6 0h0m0.4-0.2h0m1 0.5h0m3-0.5h0m0.4 0.6h0m0.4-0.4h0m0.1-0.1h0m2.6 0.3h0m0.4-0.2h0m0.1 0h0m1.1 0.5h0m0.6 0.1h0m2.1-0.2h0m0-0.4h0m0.8 0h0m0.5-0.1h0m0.3 0.7h0m1.8-0.8h0m1.4 0.3h0m1.3 0.2h0m4 0.1h0m0 0h0m1.3-0.5h0m0.1 0.4h0m0.2 0h0m1.8-0.3h0m0.2 0h0m1.6 0.3h0m1.7 0h0m3.1-0.5h0m1 0.2h0m6.8 0.5h0m1.5-0.5h0m0 0.5h0m0.5-0.7h0m3.5 0.7h0m0.7-0.2h0m1.5-0.4h0m5.4 0.1h0m2.3 0.2h0m1.6 0.2h0m0.3-0.7h0m6.8 0.7h0m1-0.6h0m3.7 0.3h0m5.5-0.5h0m-501.3 1.8h0m2.5-0.7h0m0 0.4h0m0.5 0.3h0m0.1 0h0m5.2-0.1h0m0.4-0.6h0m2.1 0.5h0m2.1-0.3h0m0.4 0.1h0m3.3-0.1h0m0 0.4h0m1.7-0.2h0m1.6 0h0m0.4 0h0m0.1 0.2h0m2-0.6h0m0.7 0.5h0m0.1 0.3h0m2.1 0h0m2.2-0.7h0m0.9 0h0m2.8 0.6h0m0.1-0.7h0m0.4 0.8h0m0.1-0.7h0m3.4-0.1h0m0.1 0.6h0m0.7 0.1h0m2.8-0.4h0m0.3 0.3h0m0.6-0.6h0m3.1 0.7h0m0.5-0.3h0m3.5 0.1h0m0.3-0.1h0m0.7 0h0m0.5 0.1h0m0.4-0.2h0m0.3 0.2h0m1.8-0.4h0m0.2 0.4h0m1.3 0h0m0.3-0.1h0m0.4 0.2h0m1.8 0.2h0m0.1-0.8h0m1.5 0.2h0m0.9 0.3h0m3.2-0.5h0m0.5 0.4h0m3.1 0.1h0m4.3 0h0m2.1 0.1h0m0.4 0.1h0m0.2-0.6h0m3.4 0.3h0m0.5-0.1h0m0.7-0.3h0m1.6 0.5h0m0 0.2h0m1-0.3h0m0.2 0.4h0m0.2-0.2h0m0.8 0.2h0m0.2-0.2h0m0 0.1h0m0.5-0.7h0m0 0.5h0m0.5-0.5h0m0.2 0.5h0m0.2 0.1h0m1.8-0.2h0m0.5 0.1h0m0.2-0.6h0m0.2 0.8h0m2.7-0.6h0m0.3 0.6h0m0.5-0.3h0m0.1-0.2h0m0.2 0.5h0m0.1-0.6h0m2.6 0.6h0m2.1 0h0m0.6 0h0m0.2-0.6h0m0.1 0.2h0m1.1 0.2h0m0.4 0h0m0.3 0.1h0m0.9-0.2h0m0.1 0h0m0.6-0.4h0m1.7 0.8h0m0.7-0.7h0m0 0.7h0m0.1-0.4h0m0.6 0h0m2.8-0.4h0m0.1 0.3h0m0.6 0.5h0m0.8-0.1h0m0.7-0.4h0m0.3 0.4h0m6-0.2h0m0.1-0.4h0m0.2 0.1h0m0.8-0.1h0m0-0.1h0m1.1 0h0m222.3 0.1h0m1.3 0h0m0.1 0.6h0m6.8-0.7h0m1.3 0.1h0m0.2 0h0m2.4 0.4h0m0.2-0.1h0m0.7 0.3h0m10.1 0.1h0m0.3-0.4h0m0.3 0.3h0m0.1 0.1h0m0-0.8h0m1.3 0.6h0m2-0.4h0m0.4 0.4h0m0.6-0.3h0m1.2 0.1h0m5.7 0.1h0m0.1-0.3h0m0.2 0.3h0m0.3 0.1h0m1 0.2h0m0.1-0.6h0m0.8 0.5h0m1.2-0.6h0m0.3 0.4h0m0.2-0.3h0m0.9-0.3h0m0.1 0.7h0m0-0.4h0m0.2 0.5h0m0.8-0.2h0m1.5 0.2h0m0.2-0.3h0m1.4 0.2h0m0.7-0.3h0m0.1-0.2h0m0.4 0.2h0m0 0.3h0m0.1-0.1h0m0.1-0.1h0m1.1-0.4h0m1.7 0.8h0m2.6-0.6h0m0.1 0.1h0m1.7 0.2h0m0.5 0.2h0m0.1-0.7h0m3.3 0.6h0m0.1 0.2h0m0.3-0.3h0m1.5 0.2h0m0.7-0.2h0m5.3 0.2h0m2.9-0.6h0m1 0.1h0m0.2 0.6h0m0.1-0.1h0m3.2 0h0m0.5-0.5h0m0.3 0.3h0m0.1 0.2h0m0.5-0.2h0m1.2 0h0m1.3 0.1h0m7.3 0.1h0m3.6 0.1h0m0.2-0.5h0m0.2 0.4h0m0.2-0.2h0m1.6 0.1h0m0.4-0.3h0m3.9-0.4h0m6 0.9h0m4.5-0.4h0m3.1-0.3h0m5.5 0.6h0m2.8 0h0m0.9-0.5h0m1.2-0.3h0m2.2 0.4h0m1.7 0.2h0m0-0.3h0m1.8 0.4h0m2.3-0.5h0m3.4 0.1h0m3.9 0.2h0m0.1-0.3h0m8.5 0.6h0m2.6-0.2h0m1.2 0.2h0m2.2-0.4h0m5.9-0.3h0m6.7 0.2h0m1.4 0.6h0m0.1-0.8h0m4.1 0.5h0m-497.6 1.4h0m0.3-0.1h0m8.9 0h0m13.6 0h0m0.8 0.1h0m12.3 0h0m0-0.1h0m3.7 0h0m1.9 0h0m26.6 0h0m12.1 0.1h0m264.5 0h0m1.1-0.1h0m25.1 0h0m12.8 0h0m0.1 0h0m1.2 0.1h0m26.7-0.1h0m11.6 0.1h0m8.1-0.1h0m2.2 0.1h0m51.8-0.1h0m-489.6 0.1h0m0.1 0.2h0m0.8 0.1h0m2.1 0.5h0m0.8-0.7h0m3.3-0.1h0m0.9 0.4h0m0.2 0.1h0m1.8-0.2h0m1.7 0.6h0m1.4-0.7h0m0.1 0.3h0m2.1 0.4h0m2.6-0.3h0m2 0.2h0m1.4-0.3h0m0.1 0.4h0m3.3-0.6h0m1.1 0.2h0m1.2-0.4h0m0.4 0.4h0m0 0.1h0m0.8-0.4h0m0.6 0.1h0m2.9 0h0m0-0.3h0m0.5 0.3h0m0-0.3h0m0.8 1h0m0.1-0.8h0m0.1 0.6h0m2.8-0.5h0m0.2 0.2h0m0.6-0.4h0m0.2 0.4h0m0.1 0h0m2-0.1h0m0.9 0.2h0m0.1 0.3h0m0.5-0.3h0m0.5 0.4h0m0.1-0.3h0m0.1-0.4h0m0.2-0.2h0m1.8 0.5h0m1.8 0h0m0.2-0.3h0m2 0.2h0m0.1 0.2h0m0.2-0.6h0m1.3 0.8h0m0.2-0.8h0m0.3 0.9h0m0.1-0.1h0m1.8-0.2h0m0.4 0.2h0m0.8-0.4h0m0 0.3h0m0.9-0.5h0m3 0.5h0m3.3-0.4h0m1.5-0.2h0m0.6 0.2h0m2.6 0.4h0m3.1-0.6h0m0.2 0.8h0m5-0.5h0m0.5 0.4h0m0.2-0.4h0m0 0.1h0m0.1-0.5h0m2.9 0.7h0m0.1-0.4h0m6.6 0h0m0 0.3h0m0.3-0.6h0m0.3 0.5h0m1-0.1h0m0.2-0.2h0m0.8 0.2h0m2.2-0.5h0m0.4 0.3h0m0.8 0.7h0m0-0.8h0m10.1-0.1h0m0.1 0.9h0m0.8-0.3h0m0.4 0h0m1.2 0.2h0m0 0.1h0m0.1-1h0m242.1 0.2h0m0.4 0.8h0m0.8-0.1h0m0.5-0.2h0m0.4-0.4h0m2.6-0.3h0m0.5 0.8h0m0.2-0.3h0m27 0.4h0m0.1-0.5h0m0.5 0.1h0m0.3-0.1h0m0.3 0h0m0.2 0.1h0m0.1 0.2h0m0.1-0.5h0m2.2 0.7h0m0.7-0.4h0m0.4 0h0m0.7-0.1h0m0.1 0.3h0m3.7-0.5h0m0.1 0.2h0m2.1 0.1h0m1.6-0.5h0m2.2 0.8h0m2.2-0.7h0m5.1 0.8h0m1.1 0h0m0.6-0.5h0m0.5 0.1h0m3.3-0.2h0m1 0.6h0m0.3-0.8h0m1.4 0.2h0m0 0.2h0m0.6-0.3h0m0.1-0.1h0m0.1 0.2h0m1.1 0.6h0m0.2-0.7h0m0.2 0.2h0m1.5 0.4h0m0.5-0.7h0m0.3 0.3h0m0.7 0.3h0m1.3-0.2h0m2 0.5h0m0.2-0.7h0m0.9 0.3h0m0.1 0.1h0m0.1-0.2h0m4.5 0.1h0m1.9 0.1h0m0.1-0.4h0m3.6-0.3h0m1.4 0.4h0m0.5 0.4h0m0.5-0.6h0m0.1 0.5h0m1.9-0.3h0m0.6-0.4h0m1.4 0.7h0m2.7-0.6h0m0.2 0.2h0m4.9 0h0m2.7-0.1h0m0.1 0.1h0m1.8 0.6h0m2.4 0h0m0.8-0.1h0m0.3 0.1h0m0.3-0.2h0m2.6-0.3h0m0.5 0.4h0m1.1-0.3h0m2.1 0h0m0-0.4h0m1.4 0.2h0m0.1 0.4h0m2.5-0.1h0m0.9-0.4h0m3.4 0.3h0m3.7 0.3h0m0.8-0.4h0m0.3 0.4h0m3.7-0.6h0m0.1 0h0m0.6 0.7h0m0.3-0.7h0m3.2 0.4h0m6.1-0.3h0m3.8 0.7h0m4.3 0h0m4.9-0.3h0m4.5 0.2h0m-497 0.8h0m3.3 0.2h0m1.1-0.9h0m3.1 0.8h0m2.2 0.2h0m0.1-0.3h0m0.2 0.2h0m2.8-0.3h0m0.8-0.2h0m0.7 0.2h0m1.8-0.2h0m0.4 0h0m0.1-0.2h0m0.1 0.3h0m1.6 0.4h0m1.5-0.7h0m2 0.3h0m2.9-0.3h0m0.2 0.2h0m0.5 0.2h0m0.3 0.3h0m0.3-0.5h0m0.2 0h0m1.7-0.2h0m1.3-0.2h0m2.6 0.5h0m2.2 0.3h0m1.9-0.2h0m0-0.4h0m1.5 0h0m0.3 0.6h0m1.8-0.2h0m0.5 0.1h0m0.5-0.2h0m1.2 0.1h0m0.3-0.2h0m0.2 0h0m1.1 0.4h0m0.1-0.6h0m0.9 0.4h0m3.1-0.1h0m0-0.1h0m0-0.2h0m0.2 0.1h0m2.2 0.5h0m0.3-0.8h0m1.4 0.9h0m1.3-0.7h0m0.4 0h0m0.7 0.8h0m3.8-0.5h0m1.7-0.5h0m0 0h0m0.5 0.1h0m1.4 0.2h0m2 0.3h0m1-0.3h0m0-0.2h0m0.1 0.8h0m0.2-0.2h0m3.5 0.1h0m0.6-0.4h0m0-0.4h0m0.4 0.8h0m0.7-0.2h0m2.7 0h0m1 0.3h0m6-0.6h0m0.2 0.7h0m0.1-0.5h0m0.5 0h0m1.1-0.2h0m0.1-0.1h0m0.4 0.3h0m0 0.4h0m0.3-0.3h0m2.8 0.1h0m0.3-0.5h0m0.2 0.3h0m9.9 0.1h0m0.1-0.2h0m0.4 0.4h0m0 0.1h0m0.2-0.5h0m0.5 0.3h0m0.7-0.6h0m0 0.8h0m0.1-0.4h0m242.6 0.4h0m0.6-0.2h0m0.2-0.5h0m0.1 0.5h0m0.9-0.5h0m0.2 0.7h0m0-0.6h0m1.9-0.2h0m0.1 0.7h0m1.2 0.1h0m27.4-0.7h0m1 0.3h0m0.1-0.3h0m0-0.2h0m1.6 0.8h0m0.6-0.6h0m2.1 0.1h0m0.1 0.4h0m1.5-0.3h0m0 0h0m1-0.3h0m1.1 0.6h0m2.4 0.1h0m0.5-0.7h0m3 0.2h0m0.8 0.4h0m0.6-0.3h0m0.8 0.4h0m1.8-0.6h0m0.7 0.3h0m0.9 0.1h0m0.6 0.2h0m0.3 0h0m1.2 0.1h0m0-0.7h0m1.3 0.5h0m2.8-0.5h0m1 0h0m0.7 0.1h0m0.1 0.2h0m1 0.4h0m2.3-0.6h0m0.3 0.6h0m0.1-0.5h0m0.2-0.4h0m2.3 0.4h0m0 0.1h0m0.2 0.4h0m2 0h0m2.5-0.3h0m0.4 0.3h0m4.1 0h0m1-0.5h0m0.1-0.1h0m2.3 0.5h0m0.3-0.8h0m1.1 0.8h0m2.1-0.6h0m0.3 0.5h0m1.8-0.4h0m1.8 0.4h0m1.1 0.2h0m0.1-0.2h0m0.1-0.2h0m3.8-0.1h0m0 0.5h0m0.4-0.3h0m4.5 0.1h0m0.3-0.2h0m0.1 0.1h0m0.5 0.4h0m1.8-0.3h0m3.7 0.2h0m0.3-0.8h0m2.1 0.2h0m1.5-0.1h0m0.2 0.3h0m1.5 0.2h0m0.1-0.1h0m0.3-0.4h0m2.7 0.3h0m1.6-0.1h0m0.1 0.3h0m1.8-0.2h0m0.1 0.2h0m0.1-0.1h0m0.1-0.4h0m0.1 0.3h0m0.2-0.5h0m0.1 0.3h0m1 0.3h0m0.2-0.3h0m6.6 0.5h0m0.1-0.5h0m0.4 0.6h0m2.4-0.8h0m2.3 0.8h0m0.2-0.6h0m7.3 0.3h0m0.1 0.2h0m2.3-0.7h0m2.3 0.3h0m0.4 0.4h0m7.2-0.5h0m3.4 0.2h0m11.9-0.5h0m-503.9 1.2h0m3.6 0.4h0m1.5-0.5h0m0.2 0.1h0m0.1 0.5h0m1.2-0.5h0m0.2 0.5h0m0-0.1h0m0.4-0.2h0m0.1-0.3h0m1 0.6h0m2.3 0h0m0-0.7h0m0.2 0.4h0m0.1 0.4h0m1.3 0h0m0.7 0h0m2.4-0.4h0m0.8 0h0m6.3-0.3h0m0.5 0.1h0m1.2 0.5h0m0-0.1h0m2.6-0.3h0m0.8 0.5h0m0.5-0.2h0m0.6 0.3h0m0.6-0.5h0m0 0.5h0m3-0.4h0m0.4 0.3h0m0.3-0.2h0m2.7 0.3h0m0.2-0.6h0m0.5 0.2h0m3 0.1h0m3.2-0.2h0m1.6 0h0m0.3 0.5h0m3.4-0.1h0m0.4 0.1h0m2.4-0.6h0m1-0.3h0m0.4 0.3h0m0.8-0.2h0m0.2 0.7h0m2.1-0.4h0m1.6-0.1h0m0.4 0.6h0m1.7 0h0m0.5 0h0m1 0h0m3-0.6h0m0.4-0.2h0m0.9 0h0m0.3 0.8h0m0.2-0.4h0m1.7 0.2h0m4.3-0.5h0m0.1 0.1h0m0.3 0h0m0.3 0.2h0m0.8 0.3h0m0.2 0.1h0m0.1-0.3h0m0.4 0.2h0m5.4-0.6h0m0.7 0.5h0m0.2-0.5h0m2.9 0.5h0m0.1-0.2h0m0.6 0.2h0m1.1-0.7h0m10.1 0.3h0m0.2 0.5h0m0.8 0h0m0.4 0.1h0m0.2-0.4h0m1 0h0m0.1 0.4h0m0.2-0.7h0m241.3 0.2h0m0.6 0.5h0m1-0.4h0m0-0.1h0m0-0.2h0m0.1 0.4h0m0.7-0.1h0m0-0.2h0m0.1-0.2h0m0.2 0.7h0m1.6-0.2h0m0.5-0.5h0m0.6 0.8h0m1.2-0.9h0m0.1 0.5h0m26.3 0.3h0m0 0.1h0m0.1-0.1h0m0.4-0.4h0m0.3 0.3h0m0.2-0.2h0m0-0.3h0m2.6 0.4h0m0.3-0.6h0m0.7 0.2h0m0 0.3h0m0.1 0.3h0m0.4 0.1h0m2.2-0.5h0m0.3-0.3h0m0.9 0h0m0.3-0.1h0m2.8 0.2h0m0.5 0.1h0m0.7 0.6h0m0.1 0h0m2-0.6h0m0.4 0.1h0m4.1 0.2h0m1.8-0.2h0m2.6 0.4h0m1.1-0.3h0m0.2 0.1h0m2.7 0.2h0m1.5-0.1h0m6.5-0.6h0m5.1 0.5h0m0.2-0.2h0m3.2 0h0m0.1 0.2h0m0.2-0.1h0m0.1 0h0m5-0.1h0m1.1 0.3h0m6.3-0.4h0m0.2-0.2h0m2.3 0.7h0m0.2-0.5h0m0.2 0.6h0m0.4-0.8h0m4.8 0.5h0m1.9 0h0m0.5-0.5h0m0.4 0.8h0m0.2-0.2h0m4.1 0h0m0.1-0.4h0m0.3 0h0m3.7 0.3h0m0.2 0h0m0.4-0.3h0m2 0.5h0m0.4-0.3h0m0.9-0.4h0m0.6 0.7h0m2.6-0.2h0m1.8 0.3h0m7-0.5h0m1.2-0.3h0m3.2 0.6h0m8.1 0h0m3-0.6h0m0.1-0.1h0m7 0.3h0m2.8 0.6h0m1.2-0.5h0m0.2-0.1h0m1 0.5h0m1.3-0.6h0m10.2 0.6h0m-483.3 1.1h0m42.8 0.1h0m0.4 0h0m5.8-0.1h0m311.2 0h0m3.9 0h0m2.4 0h0m1.9 0.1h0m3.6-0.1h0m5.1 0h0m6.8 0.1h0m44.4-0.1h0m8.4 0.1h0m0.1 0h0m-461.2 0.4h0m1 0.3h0m0.3 0.2h0m1.6-0.9h0m0 0.3h0m0.2 0h0m0.5-0.2h0m0.4 0.1h0m3.4 0.8h0m2.4-0.5h0m1.3 0.1h0m0.2 0.3h0m0.7 0.1h0m1.2-0.5h0m0.4 0.1h0m1.7 0.2h0m0.2-0.5h0m0.1 0.3h0m0.2 0.1h0m0.1-0.1h0m0.7 0.3h0m1.2-0.2h0m1.4-0.3h0m4.3-0.3h0m1.6-0.1h0m0.3 0.9h0m18.1-0.4h0m0.4-0.2h0m0 0.1h0m1.1-0.1h0m0.2 0h0m2.7 0.1h0m0.4-0.1h0m1.5 0.6h0m0.1-0.8h0m1 0.3h0m0 0h0m0.6-0.3h0m0.3 0.7h0m0.5 0h0m0.6-0.3h0m0.4 0.2h0m0.2 0h0m0.2-0.3h0m1.9 0h0m0.5 0.1h0m0 0.1h0m0.5-0.5h0m0.4 0.7h0m0 0.2h0m2.2-0.2h0m0.6-0.4h0m0.4 0.4h0m0.1-0.1h0m1.2 0.3h0m0.4-0.4h0m1.5-0.2h0m0 0.4h0m0.3 0.1h0m0.2-0.8h0m0.1 0.1h0m0.3 0.8h0m0.3-0.6h0m0.6 0.4h0m0.5-0.3h0m1.5 0.2h0m0 0.1h0m0.2-0.8h0m0.7 0.4h0m0.1-0.1h0m3.1 0.1h0m1-0.3h0m0.3 0.3h0m1.1 0.1h0m303-0.5h0m0.2 1h0m0.4-0.2h0m0.2-0.2h0m0.2-0.3h0m1.2 0.7h0m0.5-0.7h0m0.2 0.2h0m0.2 0.4h0m0.2-0.3h0m0.1-0.4h0m0.7-0.1h0m2.9 0.3h0m0.3-0.3h0m0.4 0.7h0m0.5-0.4h0m0.7-0.2h0m1.5 0.8h0m0.1-0.9h0m0.3 0.6h0m2.1 0.1h0m1.4-0.6h0m2.9-0.2h0m1.9 0.3h0m3.5 0.1h0m0.4 0.5h0m1.6-0.2h0m3.1-0.6h0m0.5-0.1h0m0.6 0.7h0m0.2 0h0m1.7 0h0m0.2 0.2h0m0.4-0.2h0m0.3-0.4h0m3.6 0.4h0m1.6-0.4h0m1.4 0.5h0m1.7-0.6h0m0.3 0.8h0m0.4-0.8h0m8 0.1h0m0.1 0.3h0m0.5-0.4h0m2.1-0.2h0m0.8 0.1h0m0.6 0.6h0m2.1-0.4h0m0.9-0.3h0m0.8 0.5h0m0.1 0.3h0m0.2-0.7h0m0.1 0.6h0m1.4-0.3h0m2.7-0.2h0m2.3 0.4h0m0.9 0.3h0m0.2-0.7h0m2 0.4h0m2.1-0.5h0m1.8-0.1h0m0.9 0.7h0m1.6-0.2h0m1.7 0.2h0m1.4-0.5h0m0.7 0.5h0m0.3 0.1h0m1.5-0.5h0m4.5 0.2h0m0.6 0.3h0m0.3-0.4h0m0.3-0.1h0m3.1 0.4h0m0.5-0.1h0m0.2-0.2h0m0.2 0.6h0m2.5-0.9h0m1.4 0.8h0m0.2-0.4h0m9 0.1h0m1.4-0.2h0m3.7-0.3h0m2.5 0.7h0m2 0.1h0m1.5-0.5h0m6.1-0.2h0m0.4 0h0m1.2 0h0m0.2 0.1h0m0.6 0.2h0m1.4 0h0m2-0.5h0m7.4 0.9h0m1-0.4h0m4.4-0.4h0m-512.5 1.4h0m0.6 0h0m1.9 0.4h0m0.1-0.4h0m0 0.1h0m0.2-0.3h0m0.3 0h0m0.2 0.6h0m0.3-0.1h0m0 0h0m0.2-0.4h0m0 0.5h0m0.2-0.5h0m0.2 0.2h0m0.5-0.2h0m1.1-0.1h0m2.4-0.1h0m2.4 0.6h0m0-0.4h0m0.7 0.6h0m0.6-1h0m0.7 0.3h0m1.6 0.6h0m0.5-0.1h0m0.4 0.2h0m0.7-0.6h0m0.1 0.3h0m0.3 0.1h0m0.1-0.6h0m2 0.7h0m1.2 0.1h0m0-0.1h0m0-0.1h0m4.4-0.7h0m0.3 0.6h0m0.3-0.4h0m17.8 0.5h0m0.8-0.4h0m0.9 0.4h0m0.6 0.1h0m2.5 0.1h0m0.1-0.3h0m0.3-0.6h0m0.3 0.2h0m1.9 0h0m0.2-0.3h0m0.9 0.4h0m1.1-0.2h0m0.4 0.7h0m3.4-0.4h0m0.2-0.5h0m0.3 0.7h0m0.2-0.4h0m1.7 0.4h0m0.2-0.2h0m1.3-0.3h0m0.4 0.5h0m3.8-0.4h0m0.8 0.6h0m0.1-0.5h0m1.1 0.5h0m2.3-0.5h0m2.3 0.2h0m0.6-0.2h0m0.1 0.1h0m0.3 0h0m0.2 0.5h0m0.1-1h0m0.6 0.1h0m301.7 0.1h0m0.4 0.5h0m0.2 0.2h0m0-0.5h0m0.7 0.4h0m0.3-0.2h0m0.3-0.4h0m0.2 0.3h0m0 0.4h0m2.3-0.4h0m0.9-0.2h0m0.2-0.1h0m0.2 0.5h0m0.6-0.3h0m1.7 0.3h0m0.3 0.1h0m0.3-0.7h0m3.1 0.3h0m0 0.4h0m0.5-0.8h0m0.3 0.2h0m0.4-0.2h0m0.7 1h0m0.3-0.3h0m0.1-0.1h0m0.6 0.2h0m1.3-0.3h0m2.8-0.4h0m1.6 0.7h0m1.6-0.6h0m0.7 0.1h0m1.6 0h0m0.3 0.2h0m1-0.2h0m0.2 0.2h0m0.6 0.2h0m2.3-0.6h0m0.1 0h0m0.6-0.1h0m5 0.4h0m1.7 0h0m0.6 0.1h0m0.4 0.1h0m0.2 0.1h0m0.1 0h0m1.1-0.1h0m1.3-0.6h0m0.3 0.3h0m0 0h0m3.7 0.5h0m1.6 0.1h0m0.9-0.5h0m0.4-0.4h0m1.3 0.8h0m0.9-0.7h0m0.2 0.7h0m0.7-0.6h0m0.6 0.8h0m3.4-1h0m0.1 0.9h0m0.3-0.2h0m0.4-0.5h0m1.9 0.5h0m0.9 0h0m3 0h0m0.4 0.1h0m1.4 0h0m3.8-0.5h0m3.1 0.5h0m0.1-0.4h0m2.8 0.1h0m0.1 0.1h0m0.9-0.2h0m0.5 0.1h0m1-0.3h0m1.7 0.1h0m0 0.4h0m2.1-0.2h0m0.2-0.4h0m0.1 0.1h0m1.3 0.2h0m1.4 0.4h0m1.2-0.1h0m2.4-0.6h0m0.9 0.4h0m2.2 0.4h0m0.4-0.3h0m4.2 0.1h0m1.1 0.2h0m1 0h0m2.2-0.7h0m0.3 0.8h0m2.8-0.8h0m0.1 0.6h0m1.6-0.6h0m0.9-0.2h0m2.1 0.5h0m3.8 0.2h0m0.6 0h0m0.2 0h0m0.4-0.3h0m0.4 0.2h0m2.7-0.3h0m1.2 0.3h0m3.7 0.2h0m1-0.2h0m2.7-0.1h0m0.3-0.4h0m0.2 0.6h0m3.9 0.2h0m12.4-0.7h0m6.4 0h0m-517.8 1.3h0m0 0h0m1-0.2h0m0.2-0.2h0m0.1 0.5h0m0.3-0.5h0m0.1 0.1h0m0.1-0.1h0m1.3 0.1h0m3 0.2h0m0 0.3h0m3-0.2h0m0.8 0.3h0m0.7-0.3h0m0.3 0.3h0m0.7-0.1h0m0.1-0.6h0m1.6 0.6h0m0.5-0.5h0m1.4 0.7h0m0.7 0h0m1.6-0.2h0m0.9-0.5h0m0.5-0.2h0m0.5 0.7h0m3.4-0.7h0m0.8 0.5h0m17.6-0.4h0m0.5 0h0m0.3 0.8h0m1.4-0.2h0m0.1 0.1h0m0-0.5h0m0.1 0h0m0.2-0.1h0m0.2 0.1h0m1.7 0.2h0m1.2-0.4h0m1.1 0.2h0m2.2-0.3h0m0.5 0.2h0m0.3-0.2h0m0.6 0.2h0m0.4 0h0m0 0.3h0m1 0.2h0m0.4-0.7h0m0.7 0.4h0m1.1-0.3h0m0.2 0.1h0m0.1 0h0m0.4 0.6h0m2.3-0.7h0m0 0.4h0m4.2 0.3h0m0.8-0.8h0m0.2 0.8h0m3.1 0.1h0m0.9-0.8h0m0.6 0.8h0m1.1-0.7h0m0.5 0.1h0m0.3-0.2h0m303.4 0h0m0.8 0h0m0.1 0.2h0m0.1-0.1h0m0-0.2h0m1.6 0.2h0m0 0.5h0m0.1-0.6h0m1.5 0.4h0m1.9 0.1h0m0.4 0.1h0m3-0.5h0m0.4 0h0m0.8 0.3h0m2.1 0.1h0m0.4 0.3h0m1.1-0.7h0m1.8 0.6h0m0.8-0.5h0m0.4 0.1h0m0.2-0.2h0m0.1 0.7h0m1-0.2h0m1.2-0.5h0m1.1 0.7h0m0.3-0.4h0m4.3-0.2h0m2.2 0.6h0m0.8-0.6h0m0.2 0.4h0m0.5-0.3h0m3.4 0.2h0m4.2 0.3h0m0-0.4h0m0.7 0.4h0m0.6-0.7h0m2.6-0.2h0m3.9 0.8h0m0.1 0h0m0.4 0h0m0.2 0h0m10.4-0.1h0m1.5 0.2h0m0.3 0h0m0.9 0h0m1.4-0.5h0m0.4 0.3h0m1.5 0.1h0m4-0.3h0m7.6 0.2h0m7-0.1h0m3.9-0.4h0m0.5 0.2h0m3.1 0h0m1 0.2h0m4.2 0.3h0m0.2-0.5h0m0-0.3h0m0.2 0.1h0m0.5 0.7h0m0.3-0.4h0m2.5-0.1h0m0.8-0.4h0m6.4 0.8h0m4.1 0.1h0m0.2-0.2h0m0.3 0.1h0m4.6-0.1h0m2.8 0.2h0m5.1-0.3h0m3.9 0.2h0m0.4-0.6h0m-492.8 1.7h0m11.2 0h0m1.3 0h0m0.4 0.1h0m4.8-0.1h0m22.2 0h0m0.2 0.1h0m12.7-0.1h0m316.4 0h0m8 0h0m32 0h0m2.5 0h0m4.1 0h0m2 0h0m3 0h0m7.1 0h0m0.7 0h0m15.9 0h0m0.8 0.1h0m5.9 0h0m0.2-0.1h0m1.2 0h0m0.3 0h0m3.1 0h0m11.5 0h0m28.1 0h0m-502.2 0.5h0m5.8 0.2h0m1.9 0.1h0m0.3 0.1h0m10.4-0.5h0m1.5-0.1h0m0.5 0h0m0.3-0.1h0m1.4 0.5h0m0.3-0.2h0m1.7-0.4h0m0.3 0.8h0m21.7-0.5h0m0.2 0.7h0m0.6-0.6h0m0.3-0.2h0m0.1 0.3h0m0.4 0.2h0m0.6-0.5h0m10.3 0.1h0m0.4 0.6h0m0.1-0.2h0m0.4-0.2h0m0.2-0.2h0m0.5 0h0m2.2-0.1h0m1 0.2h0m1.2 0.1h0m0.2-0.4h0m309.1 0.8h0m0.1-0.7h0m0.4 0.7h0m0-0.6h0m0.7 0.4h0m0.8-0.1h0m0-0.5h0m0.2 0h0m2.6 0.6h0m0.9 0h0m3.4-0.2h0m0.9-0.1h0m0.3-0.2h0m0-0.2h0m0.2 0.2h0m1.8 0.4h0m0.1 0.2h0m0.1 0h0m1 0h0m0.5-0.6h0m0 0.6h0m0.1-0.3h0m0.7-0.2h0m0.1 0.4h0m1.3 0.2h0m2.4 0.1h0m1.3-0.7h0m1.2-0.1h0m1.8 0.3h0m1.7 0.1h0m2.2 0.3h0m1.6-0.6h0m0.7-0.1h0m1.4 0.1h0m1.8 0.7h0m0.7-0.6h0m1.3 0.5h0m2.1-0.4h0m0.5 0h0m0.3-0.5h0m0.5 0.9h0m0.1 0.1h0m0.7-0.3h0m0-0.7h0m0 0.1h0m0 0h0m2.1 0.3h0m1.5-0.3h0m0.3 0.4h0m0.3 0.3h0m0.1-0.2h0m1.1-0.2h0m0.1-0.1h0m0.2-0.3h0m0.2 0.2h0m0 0h0m2.5 0.3h0m2.8 0.3h0m1.1 0.1h0m3.3-0.7h0m0.8 0h0m1.9 0.6h0m1.4 0.1h0m2.3-0.8h0m1.4 0.1h0m2.1 0.2h0m1.4-0.1h0m4.2 0.4h0m2.9-0.2h0m0.3 0.1h0m0.7-0.2h0m0.2-0.2h0m0.2 0.6h0m2.9-0.7h0m0.6 0h0m0.1 0h0m3.1 0.5h0m0.1-0.4h0m3.6 0.4h0m1.1 0.3h0m0.1-0.6h0m0.6 0.4h0m2-0.5h0m1.5 0.6h0m0.9 0.1h0m0.4-0.7h0m2.5-0.1h0m0.7 0.7h0m2.1-0.7h0m0.4 0.5h0m0.5-0.4h0m1.8 0.3h0m1.8 0.2h0m0.2 0.1h0m0.2-0.3h0m3.4-0.1h0m0.3 0.3h0m1.5-0.6h0m5.8-0.1h0m2.7 0.9h0m2.9-0.6h0m0-0.2h0m0.1-0.1h0m1 0.5h0m1.6 0.4h0m0.3-0.4h0m4.4-0.2h0m20.5 0.2h0m0.1-0.4h0m4.2 0.7h0m-525 0.8h0m1.3-0.3h0m0.3 0h0m0.4-0.2h0m0 0.8h0m5.7-0.7h0m2.2-0.2h0m9.4 0.8h0m0.9-0.1h0m0.2-0.6h0m4.1 0.3h0m0.1 0.1h0m0.6-0.5h0m22.1 0.6h0m2.1-0.3h0m0 0h0m9.6 0.7h0m1.7-0.1h0m0.2 0.1h0m0.5-0.7h0m1.6 0.4h0m2.1-0.3h0m0-0.2h0m0.8 0.7h0m309.8-0.5h0m1.5 0.3h0m0.3 0.3h0m2.1-0.2h0m0.1-0.2h0m0.3-0.2h0m0.2 0.6h0m0.6-0.2h0m0.2 0.1h0m0-0.4h0m0.9 0.1h0m1.9-0.1h0m0.3 0.3h0m0.4-0.2h0m0.5-0.4h0m2.2 0.2h0m0.1-0.1h0m0.4-0.3h0m0.1 0.8h0m1.4 0.2h0m3.1-0.6h0m1.1 0.6h0m0.5-0.9h0m2.1 0.3h0m0.2 0.6h0m0.7-0.5h0m0-0.1h0m3.7 0.4h0m3.1-0.2h0m0.1 0.1h0m0.5-0.6h0m3 0.1h0m0 0h0m0 0h0m3.7 0.5h0m1.4-0.7h0m0.1 0.2h0m0.9 0.6h0m0.1-0.3h0m0.4 0h0m2.8-0.1h0m3.4 0.2h0m0.4-0.5h0m0.2 0.7h0m3.8-0.1h0m2.8-0.5h0m0.8 0.7h0m3.1-0.2h0m0.5-0.2h0m3.4-0.3h0m2.1 0.4h0m2.2 0.2h0m5.9-0.6h0m2-0.2h0m4.1 0.7h0m1.6-0.5h0m0.8 0.7h0m2.1-0.8h0m0.1 0h0m0.4 0h0m1.3 0.7h0m2.4-0.1h0m3.1 0h0m0.9-0.2h0m1.5 0.4h0m1.7-0.3h0m1.3 0.4h0m3-0.1h0m4.2-0.1h0m1-0.4h0m2.5 0.1h0m0.2 0.2h0m0.6-0.5h0m0.3 0.2h0m0.4 0h0m0.3 0.3h0m2 0.2h0m0.5-0.9h0m0.4 1h0m1.1-0.9h0m3.5 0.6h0m0.5-0.3h0m2.4-0.3h0m8.5 0.8h0m1 0h0m6.3-0.2h0m1.3-0.6h0m2.6 0.9h0m5.1-0.2h0m0.4-0.5h0m7.1 0h0m-523.8 1h0m0.2 0.5h0m0.7-0.2h0m0.1-0.3h0m0.8 0.1h0m0-0.1h0m5.7 0h0m0.3 0.5h0m0.6 0h0m0.1-0.1h0m0.4 0.1h0m0.4-0.1h0m9.7-0.6h0m0.3 0.3h0m0.4-0.3h0m1 0.6h0m1.2 0.2h0m1.1-0.1h0m0.2-0.8h0m2 0.4h0m0.5 0.4h0m22.4-0.4h0m0.2-0.3h0m0.6 0.8h0m0.7-0.8h0m0.1 0.2h0m0.1-0.2h0m0.1 0.8h0m0.1-0.2h0m10.5-0.6h0m0.2 0.2h0m0.2 0.1h0m0.1-0.2h0m0.1 0.6h0m0.7 0.1h0m2-0.3h0m0.2-0.5h0m0.1 0.8h0m0.6 0h0m0.1-0.8h0m0.7 0.5h0m309.6 0.2h0m0.5-0.5h0m0.9 0h0m0.4-0.3h0m0.2 0.5h0m0 0.3h0m0.1-0.2h0m0.4-0.6h0m1.6 0.9h0m0.5 0h0m0.2-0.4h0m0.4 0.4h0m0.1-0.8h0m0.4 0.3h0m0.4 0.4h0m0.1 0h0m0.3-0.8h0m2.3 0.7h0m0.3-0.4h0m0.3 0.1h0m0.3 0.1h0m0.3 0.1h0m1.9-0.5h0m2.2 0.8h0m0.3-0.4h0m0.5-0.3h0m1.2 0.5h0m0.6 0h0m0.8-0.1h0m0 0.2h0m0.3-0.4h0m2.1 0h0m0.3 0.2h0m0.2 0h0m0.1-0.1h0m0.4-0.4h0m1.6 0.8h0m0.4-0.7h0m2.2 0.3h0m0.2 0.4h0m0.3 0h0m0.5-0.5h0m0.5-0.3h0m1.3 0.7h0m0.3-0.7h0m0.1-0.1h0m1.1 0.1h0m0.1 0.3h0m4.3-0.2h0m0.6-0.1h0m1.8 0.8h0m0.7-0.1h0m0.2 0h0m0.1-0.6h0m0.9-0.1h0m0.2 0.7h0m0.2-0.3h0m1.5 0.3h0m0.1-0.6h0m1.2 0.5h0m8.9-0.1h0m0.2-0.2h0m2 0.5h0m0.4-0.5h0m0.8 0.4h0m2.9-0.2h0m0.7-0.2h0m0.4 0.4h0m0.6-0.7h0m3.2 0.1h0m5.1 0.7h0m1.8-0.7h0m0.4 0.1h0m3.3-0.1h0m5-0.1h0m0.6 0.1h0m1.3 0.7h0m1.4-0.7h0m0.3 0.3h0m3.9 0.1h0m4.5 0.1h0m0.7-0.1h0m0.1-0.3h0m0.1 0.6h0m3.7-0.5h0m10.5 0.3h0m2.5 0h0m1.7 0.2h0m0.1 0h0m0.4-0.8h0m3.4 0.8h0m2-0.8h0m0.7 0.8h0m1.2-0.8h0m1.4 0.3h0m0.6 0.4h0m2.1-0.2h0m2-0.3h0m0.4-0.1h0m0.1 0.6h0m2.1-0.8h0m1 0.6h0m3 0h0m1.7-0.4h0m1.8 0.3h0m2-0.4h0m8.6 0h0m7.6 0.5h0m-148.7 1.4h0m6.3 0h0m5-0.1h0m0.6 0h0m6.2 0h0m12.1 0.1h0m4.2 0h0m2.5-0.1h0m6.3 0.1h0m19-0.1h0m1.8 0h0m3.1 0h0m47.7 0h0m9.7 0.1h0m-126.1 0.8h0m0.5-0.4h0m1.9-0.3h0m0.1 0.1h0m0 0.4h0m1.4-0.5h0m1.2 0.5h0m0.4-0.2h0m4.4-0.3h0m0 0h0m0.6 0.5h0m1.6 0.4h0m0.2-0.7h0m0.3-0.1h0m1.5 0.1h0m2.4 0.1h0m0.4-0.1h0m0.4 0.4h0m0.3-0.4h0m0.4 0h0m0.1-0.2h0m0 0.1h0m0.3 0.5h0m1.4 0h0m0.7-0.5h0m1.2 0.6h0m2.8-0.2h0m1 0.1h0m0.3-0.2h0m0.1 0.1h0m2.4-0.4h0m0 0.5h0m0-0.6h0m1.8 0.8h0m4-0.2h0m3-0.1h0m0.8 0.2h0m1.8 0.1h0m0.7 0.1h0m0.6-0.2h0m0 0.1h0m0.1-0.2h0m0.5-0.2h0m0.2-0.1h0m0.1 0.4h0m2.2 0.1h0m1-0.1h0m1.3-0.7h0m0.2 0.5h0m1.5-0.5h0m1.4-0.1h0m2.6 0.1h0m0.5 0.2h0m1.6 0.3h0m0.5-0.3h0m1.1-0.2h0m0.3 0.1h0m1.8 0h0m2-0.1h0m0.1 0.7h0m0.1-0.5h0m1.1 0.1h0m4.7 0.6h0m2-0.3h0m2.5-0.6h0m2.8 0.5h0m0.6 0.1h0m0.5 0h0m0.3 0h0m3.1-0.7h0m2.2 0.2h0m0.7 0.3h0m0.9 0h0m3.5 0.1h0m1.2 0.2h0m0.3-0.3h0m1.3 0.2h0m1.1-0.4h0m0.1 0.4h0m0-0.4h0m0.5 0.6h0m0.5-0.9h0m1.9 0.8h0m1.9 0h0m0.7-0.7h0m6.1 0.4h0m5.8-0.3h0m2.6 0.2h0m0.8 0.4h0m2-0.4h0m0.5 0h0m0.6 0.4h0m0.8-0.4h0m2.2 0.4h0m0.4-0.1h0m1.4-0.2h0m6.3 0.3h0m3.9-0.3h0m4.4 0.2h0m0.2-0.3h0m1.2-0.3h0m0.1 0.7h0m3-0.4h0m3.4 0.5h0m15.7-0.5h0m1.8 0.4h0m-157.6 0.3h0m3.9 0.1h0m0 0.8h0m0.4-0.6h0m0.4 0.5h0m0.9-0.1h0m0.7-0.5h0m2 0.5h0m1-0.7h0m0.3 0.5h0m0.4-0.4h0m2.7 0.2h0m0.6 0.2h0m2.8-0.6h0m2 0.3h0m2 0.4h0m0.4-0.1h0m1.7 0h0m1.6-0.2h0m0.2-0.2h0m1.1 0.2h0m0.2-0.1h0m1.1 0.3h0m0.1-0.4h0m3.1 0.4h0m1 0.4h0m1.7-0.5h0m1.9 0.3h0m1.4-0.1h0m2.2-0.4h0m1.9 0.3h0m0.6 0h0m2.3 0.3h0m0-0.5h0m2.6 0.2h0m0.3 0.4h0m3.3-0.5h0m0.4 0h0m0 0.2h0m0.2-0.4h0m0.5 0.4h0m1.7-0.5h0m4.3 0.4h0m0.8-0.1h0m0.9 0h0m5-0.3h0m2.5 0.4h0m2.5 0.1h0m1.1-0.2h0m2.9 0.5h0m0.5-0.7h0m1.4 0h0m2.4-0.1h0m3.9 0.3h0m2.6-0.5h0m5.8 0.7h0m0.5-0.3h0m3 0.1h0m0-0.2h0m0.7 0.2h0m0.6 0.2h0m5.1-0.6h0m6.6 0.2h0m1.8 0.1h0m1.6-0.4h0m0.6 0.4h0m0.4-0.4h0m0.4 0.1h0m2.2 0.5h0m1.5-0.2h0m0.7-0.3h0m0.5 0h0m1.8 0.7h0m1.8-0.2h0m0.1-0.1h0m0.3-0.1h0m3.6 0.2h0m4 0.3h0m0.1-0.9h0m1.9 0.9h0m2.5-0.7h0m2 0.1h0m0.9-0.2h0m5.2 0.8h0m2.3-0.5h0m8 0.2h0m-149.1 1.1h0m0.5 0.1h0m0.4-0.6h0m0.5 0.7h0m0.1 0h0m0.1-0.7h0m0.1 0h0m0.4 0.2h0m0.1 0.4h0m0.6-0.6h0m1.4 0.1h0m0.5 0.4h0m0.1-0.7h0m0.3 0.9h0m0.1 0h0m1.3 0h0m1.6 0h0m0.1-0.2h0m0.2-0.6h0m1.3 0.4h0m2.6-0.3h0m0.1 0.7h0m0.3-0.3h0m1.4 0h0m2-0.1h0m0.1 0.3h0m1.2-0.5h0m1.2 0.2h0m2.6 0.4h0m0.3-0.7h0m1.3 0.6h0m1-0.5h0m0.1-0.2h0m0.4-0.1h0m3.9 0.8h0m1.5-0.4h0m0.7 0.5h0m1.6 0h0m0.6-0.3h0m7.3-0.4h0m0.1 0.2h0m0 0.4h0m1.7-0.1h0m2.7-0.3h0m0.2-0.4h0m2 0.9h0m1.7-0.8h0m0.6 0.8h0m0-0.4h0m0.1 0.4h0m0.8-0.8h0m2.9 0.2h0m0.7 0.4h0m0.7-0.2h0m2 0.2h0m4.4-0.3h0m1.2-0.3h0m0.6 0.2h0m2 0.2h0m0.4-0.2h0m1 0.4h0m8-0.6h0m0 0.3h0m7.3-0.2h0m0.6 0.3h0m1.1-0.5h0m5.7 0.3h0m0.2 0.6h0m3.5-0.7h0m1.3 0.3h0m1 0h0m0.2-0.4h0m2.1 0.8h0m4.5-0.3h0m0.3 0.1h0m1-0.7h0m0.1 0.9h0m1.2-0.5h0m0 0.2h0m0.5-0.1h0m0.4-0.3h0m3.1 0.4h0m2.8-0.3h0m1.4-0.1h0m1.7 0.2h0m2.1 0.2h0m1.4-0.2h0m0.2 0.5h0m7.3-0.2h0m0.1 0.2h0m0.1-0.2h0m0.1-0.2h0m0.6 0.1h0m0.6-0.2h0m1.9-0.3h0m4.8 0.5h0m3.8-0.1h0m7.6 0.4h0m5.7-0.2h0m10.1-0.7h0m2.1 0.4h0m-160.6 1.6h0m27.7-0.1h0m1.4 0h0m2.1 0h0m1.9 0.1h0m13.8-0.1h0m0.5 0h0m0.7 0h0m3.3 0.1h0m31.9-0.1h0m8.1 0h0m3.3 0h0m5.2 0.1h0m4.4-0.1h0m16.6 0h0m10 0h0m-131.1 0.3h0m0.3-0.1h0m0 0.9h0m0-0.7h0m0.2 0.6h0m0.7-0.9h0m2 0.6h0m1.6-0.3h0m2 0.6h0m0-0.1h0m0.8-0.2h0m0.5-0.5h0m0.2 0.2h0m0.3 0.1h0m0.6 0.5h0m0.2-0.6h0m1.9 0.5h0m1.6-0.3h0m1.7 0.1h0m0.2-0.6h0m0.2 0.1h0m0.8 0.2h0m0 0.4h0m0.4-0.2h0m0.5-0.5h0m0.3 0.5h0m0.2 0.1h0m1.3-0.4h0m0 0.2h0m0.1-0.4h0m0.7 0.6h0m3.3-0.1h0m0.5-0.4h0m0.5 0.8h0m0.3-0.5h0m0.1 0h0m0.4-0.1h0m2.8 0.4h0m3.8 0h0m1.6-0.2h0m2.4 0.1h0m0 0.1h0m0.5 0h0m3.2-0.5h0m1.1 0.4h0m0.3-0.3h0m0.9 0.7h0m2-0.1h0m2.4-0.1h0m1.6 0.1h0m1.3-0.1h0m0.1-0.6h0m0.2 0h0m1.8 0.8h0m0.2-0.8h0m0.4 0h0m0.3 0.4h0m1.3 0.3h0m0.3-0.6h0m0.2 0.7h0m2-0.7h0m1.6 0.7h0m2.8-0.9h0m0.1-0.1h0m5.5 0.8h0m0.1-0.2h0m1.4 0.3h0m4.4-0.1h0m4.4-0.3h0m0.1-0.2h0m0.3 0.4h0m4.9 0.1h0m0.1-0.8h0m1.7 0.2h0m0.3 0.6h0m1.7 0.1h0m0.2-0.8h0m2.7 0.4h0m0.5 0.4h0m3.1-0.6h0m0.8 0h0m1.5-0.2h0m0.1 0.2h0m9.5 0.7h0m2.3-0.8h0m1.9 0h0m0.7-0.2h0m0.7 0.7h0m2.2 0.1h0m1.8 0.2h0m0.7-0.9h0m2.9 0.5h0m2.4-0.3h0m4.9 0.1h0m0.1-0.2h0m0.2 0h0m1.6 0.4h0m1.2 0h0m1.8 0.2h0m2.5-0.7h0m0.6 0.2h0m3.6 0.7h0m0.2-0.7h0m1 0.6h0m0.6 0h0m0.2 0h0m4.1 0h0m2-0.5h0m1.1-0.2h0m1.1 0.1h0m6 0.1h0m9.8 0.3h0m-162.3 1.1h0m0.1 0h0m0 0h0m0.1 0h0m4.1-0.4h0m1.1 0.2h0m0 0.3h0m0.2-0.3h0m0.2-0.5h0m0.4 0.3h0m0.3-0.3h0m0.1-0.1h0m1.7 0.5h0m0.7 0.3h0m0.1-0.8h0m0.5 0.3h0m2.6 0.1h0m0.1 0.1h0m0.7-0.1h0m0.2 0h0m0.6-0.4h0m0.2 0.2h0m0.3 0.3h0m0.1-0.1h0m1.9-0.3h0m0.8 0.3h0m0.2 0.1h0m0.1 0.5h0m1.1-0.2h0m0.1-0.8h0m1 0.7h0m1.1-0.6h0m4.2 0.2h0m0.3-0.1h0m0 0h0m3.2-0.1h0m1.2 0.8h0m0.5-0.7h0m0 0.6h0m0.1-0.8h0m2.1 0.9h0m1.4-0.3h0m2.9 0.1h0m0.2 0.1h0m1.6-0.6h0m0.1 0.3h0m1.3-0.2h0m1.3 0.5h0m0.5-0.2h0m0.3-0.5h0m2.1-0.1h0m1.1 0.1h0m0.1 0.2h0m0.1 0.3h0m0.6 0h0m0.6 0h0m1.8-0.3h0m0.1 0.1h0m4.4 0.5h0m1.2-0.8h0m0.6 0.7h0m2.8-0.1h0m0.7 0.1h0m1.7-0.4h0m1.5 0.3h0m4.1 0.2h0m0.9-0.6h0m0.3 0h0m1.5 0.5h0m0.2-0.2h0m0.2-0.2h0m0.1 0h0m3.3 0.2h0m0.3 0h0m2.3 0.3h0m0.1 0h0m1-0.5h0m0.3 0.3h0m1.4 0.1h0m3.4-0.7h0m4.6 0.3h0m0.1 0.4h0m0.7-0.2h0m4.1 0h0m2.1-0.3h0m2 0.3h0m3.7-0.3h0m0.4 0.6h0m1.2 0.1h0m2.4-0.7h0m1.6 0.4h0m4-0.5h0m0.8 0.5h0m0.7-0.7h0m0.7 0.7h0m0.2-0.4h0m0.1 0h0m3.3 0.4h0m0.8-0.4h0m2.2 0.1h0m2.2 0.3h0m1.3 0.2h0m5.2-0.3h0m4.1-0.4h0m1.3 0h0m1.1 0.3h0m0.2 0.4h0m0.3-0.2h0m0.5 0.2h0m1.3-0.8h0m7.3 0.7h0m0.6-0.3h0m-142.1 0.8h0m0 0.6h0m1.2-0.7h0m0.1-0.1h0m0.1 0.1h0m0.4 0.7h0m0.5-0.3h0m1.9 0h0m0.7-0.1h0m0.2-0.1h0m0 0.1h0m0.1-0.3h0m0.3 0.4h0m0 0h0m0.7 0.3h0m0.4-0.6h0m0 0.6h0m1.5-0.9h0m1.6 0.1h0m0.8 0.6h0m2.9-0.4h0m0.3 0.6h0m2.5-0.1h0m0.3-0.5h0m3.4 0.4h0m0.7-0.2h0m0.8-0.5h0m1 0.2h0m0.1 0.2h0m2 0.2h0m0.3 0h0m0.6 0.2h0m3.3-0.2h0m0.1-0.4h0m0.4 0.3h0m0.3 0h0m3.4 0.4h0m0.9-0.2h0m0.5-0.1h0m2.7 0.3h0m0.1-0.4h0m7.3 0.2h0m2.3 0h0m2-0.2h0m0.4-0.1h0m1 0.3h0m2 0.2h0m2.4-0.7h0m3.4 0.2h0m0.8-0.4h0m1.8 0.9h0m0.6-0.9h0m2.9 0.9h0m4.1-0.7h0m1.2 0.2h0m3.7-0.1h0m0.7 0.5h0m0.5 0h0m2.7-0.6h0m1.5 0.3h0m0.4-0.4h0m1.1 0.4h0m0 0.2h0m0.3-0.3h0m0.1 0.4h0m0.6-0.5h0m0.2 0.2h0m0.6 0h0m2.8-0.1h0m1.9 0.1h0m0.2-0.4h0m10.1 0.3h0m0.9 0.4h0m2.8-0.5h0m1 0.3h0m0.7 0.1h0m3.9-0.1h0m0.1-0.4h0m4.4 0.2h0m1.8 0h0m0.1-0.3h0m1.3 0.3h0m0.5 0.4h0m0.1-0.1h0m3.4 0h0m1.1-0.6h0m1.2 0.3h0m1.4 0.1h0m0.6 0.1h0m1.9 0h0m2.1 0.2h0m0.1-0.1h0m0.1-0.6h0m2.5 0h0m3.6 0.1h0m0.8 0.1h0m5 0.3h0m0.1 0.2h0m0.4 0h0m7.1-0.4h0m5.1 0.4h0m-149 1.2h0m19.5-0.1h0m19.2 0h0m13.3 0.1h0m12.5-0.1h0m11.2 0.1h0m4.7-0.1h0m62.1 0h0m2 0.1h0m3.4 0h0m7-0.1h0m-156.6 0.9h0m0.5-0.2h0m0.2-0.2h0m0 0h0m0.8-0.1h0m0.5 0.2h0m0.1 0h0m0 0h0m0.6 0h0m0.1 0.5h0m1.9-0.7h0m0.7 0.4h0m1.1-0.5h0m2.2 0h0m0.8 0.3h0m0.5 0.4h0m0.5-0.2h0m0-0.1h0m0.1 0.2h0m1.5-0.2h0m3.7-0.3h0m0.3 0.5h0m0 0h0m4.8-0.1h0m0.6 0.1h0m0.5-0.1h0m0.2-0.2h0m2.7-0.3h0m0.3 0.8h0m1.5-0.7h0m2.8 0.4h0m0.5 0.2h0m0.4-0.6h0m0.2 0.4h0m2.3-0.4h0m0.3 0.7h0m1.4-0.2h0m1.4-0.2h0m0.4-0.2h0m0.3 0.5h0m0.6-0.3h0m0.3 0.2h0m0.5 0h0m2.3-0.8h0m0.9 0.9h0m0.8-0.2h0m0.3-0.2h0m1.5 0.5h0m0.4-0.2h0m0.1-0.7h0m0.8 0.2h0m1.4 0h0m0 0.2h0m1.5-0.5h0m4.2 0.6h0m0.1-0.4h0m2.1 0h0m0.1 0.5h0m6-0.4h0m0.5 0h0m0.4 0.3h0m2.9-0.3h0m3.9 0.3h0m0.5 0.3h0m0.1 0.1h0m0.4-0.6h0m0.1-0.2h0m2.8 0.3h0m7.9 0.1h0m2.6 0.2h0m3.9-0.5h0m3.5-0.1h0m0.3 0.6h0m2.3-0.3h0m1.7 0.2h0m3.1-0.4h0m5.1 0.4h0m2.9-0.3h0m0.8 0.4h0m7.1-0.3h0m4.1 0.4h0m3.5-0.7h0m0.5 0.5h0m3-0.5h0m8.1 0h0m1.6 0.7h0m2.3-0.3h0m1.7 0.2h0m1.6 0h0m1.5-0.3h0m1-0.2h0m3.9 0.1h0m0.5 0.2h0m1.1-0.4h0m5.4 0.5h0m2.6-0.2h0m1.7-0.4h0m4.4 0.7h0m-162 0.6h0m1.1-0.1h0m1.7 0.4h0m1.2-0.6h0m0.9 0.7h0m0.2-0.4h0m1.3 0.3h0m0.2-0.4h0m2.1-0.2h0m0.2-0.1h0m0.3 0.7h0m1.6-0.7h0m1.8 0.1h0m1.2-0.1h0m0.5 0.8h0m0.3 0h0m0.2-0.7h0m1.2 0.5h0m1.8 0.3h0m0.5-0.2h0m2.1-0.2h0m0.9-0.2h0m0.2 0h0m0.3 0.6h0m0.1-0.4h0m1 0.3h0m1-0.3h0m0.8 0.2h0m1.6-0.5h0m1.8-0.1h0m0.3 0.7h0m0.4-0.6h0m0.1-0.2h0m1 0.9h0m0.4 0h0m1.8-0.6h0m0 0.2h0m1.2-0.1h0m0.8 0.4h0m0.5-0.1h0m0.1-0.1h0m0.2 0.1h0m1.6-0.2h0m1.4-0.2h0m0.2 0.2h0m2.1 0h0m1.5-0.1h0m2.4-0.3h0m2.8 0.7h0m1.3-0.6h0m1.4 0.6h0m0.2-0.1h0m0.9-0.6h0m0.2 0h0m1.4 0.1h0m4 0.2h0m0.1-0.2h0m1.4-0.1h0m2.7 0.7h0m0.7-0.6h0m0.3 0.6h0m0.2-0.1h0m0.4-0.2h0m0.1-0.4h0m2.7 0.3h0m0.6 0.6h0m0.8-0.2h0m0.6 0.1h0m1.6-0.4h0m0.1 0h0m1.6 0h0m4.2-0.1h0m1.5 0.6h0m1.5-0.4h0m3.3 0.3h0m0.3-0.5h0m1.3 0.6h0m1.9-0.7h0m2.4 0h0m3.2-0.1h0m0.5 0.4h0m0.5 0h0m11.7-0.3h0m1.8-0.2h0m1.4 0.3h0m0.4 0.5h0m2.9 0h0m8.2-0.8h0m1 0.3h0m3.6 0.5h0m8.3-0.3h0m2.5 0.1h0m0.5-0.1h0m1.4-0.2h0m3.7 0.4h0m0.5-0.1h0m0.1-0.6h0m0 0.5h0m0.1-0.2h0m2.8 0h0m0.9-0.3h0m3.2 0.3h0m2.1-0.4h0m1.1 0.6h0m5.1 0.2h0m0.1-0.8h0m8.6 0.6h0m-162.9 1h0m0.2-0.4h0m0.6 0.7h0m0.2 0h0m0.3-0.4h0m0.4-0.4h0m0.1 0.4h0m0.8-0.4h0m0.1 0.3h0m1.5 0.4h0m0.2 0h0m0.1-0.8h0m0.3 0.1h0m0 0.8h0m3.8-0.5h0m1.1 0.1h0m0.6 0.3h0m1.8-0.8h0m0.4 0.4h0m0.8 0.3h0m0.8-0.1h0m0.3-0.2h0m1.9-0.3h0m0.4 0.5h0m0.7-0.3h0m0.3 0h0m0.5-0.1h0m0.2 0.7h0m0-0.2h0m2.1-0.4h0m0 0.4h0m0.1-0.1h0m0.2-0.5h0m1.6 0h0m2.3 0.7h0m0.7-0.6h0m1.1-0.2h0m0.1 0.1h0m2.7 0.2h0m2.8 0.1h0m0.2 0.1h0m0.4 0h0m0.8 0.1h0m0.5-0.1h0m0.8-0.1h0m1.3 0.5h0m0.1-0.8h0m1.7 0h0m0.4-0.1h0m0.6 0.1h0m2.5 0.3h0m0.3 0.3h0m2.5-0.4h0m0.5 0.6h0m1.5-0.3h0m5.8 0.2h0m0.1-0.1h0m1.7-0.6h0m0.7 0.8h0m2.7-0.5h0m0.5-0.3h0m1.2 0.8h0m1.3-0.2h0m0.6-0.3h0m5.1-0.1h0m8.9 0h0m2.8-0.1h0m3.9 0h0m4.9 0.6h0m2.6-0.3h0m3.5 0h0m3.6 0h0m5-0.3h0m0-0.1h0m4.3 0.8h0m0.9-0.6h0m4.4 0.2h0m0.1 0.4h0m4-0.3h0m3.6-0.6h0m5.6 0.2h0m7 0.2h0m1.1 0.1h0m1.5 0h0m1.2 0.1h0m6.2 0h0m3.8-0.5h0m1.3 0.6h0m0.6 0.2h0m1.3 0h0m-147.7 1h0m4.1 0h0m1.4 0h0m6.6 0h0m0.6 0.1h0m7.4-0.1h0m0.1 0.1h0m8.5 0h0m3.7-0.1h0m15.4 0.1h0m13-0.1h0m3.4 0.1h0m1.7-0.1h0m3 0h0m24 0h0m15.6 0h0m35.3 0.1h0m1.7-0.1h0m-145.8 0.3h0m0 0h0m0 0.6h0m0.5-0.7h0m1.9 0.7h0m2.3 0h0m1.3-0.7h0m0.3 0.4h0m2.2-0.1h0m0.3 0.2h0m0.4-0.1h0m0.3 0.4h0m0.4-0.4h0m0.1-0.4h0m0.2 0.9h0m0.1-0.5h0m0.5 0.3h0m1.8 0.2h0m0.1-0.2h0m0.2-0.2h0m0-0.5h0m0.6 0.3h0m3.1 0.4h0m0.1 0.1h0m1.7 0.1h0m2.9-0.9h0m0.6 0.3h0m0.2 0.4h0m0.4-0.6h0m0.2 0h0m0.3 0.7h0m2.4-0.9h0m0.1 0.1h0m0.1 0.4h0m0.8 0.3h0m2.3 0.1h0m0.1-0.4h0m0-0.1h0m0.2-0.3h0m0 0h0m4.8 0.4h0m0.1 0.1h0m0.1-0.1h0m0.1 0.4h0m0-0.7h0m3.7 0.5h0m2.7-0.6h0m0.3 0.3h0m0.3 0.6h0m1.6-0.1h0m3.9-0.7h0m2.6 0.6h0m1.8-0.4h0m1.6 0.2h0m1.7-0.2h0m0.6 0.3h0m0 0.2h0m0.1 0h0m1.6-0.4h0m1.4 0.4h0m0.1-0.6h0m0 0.1h0m3 0h0m4.7 0.4h0m3-0.3h0m1.6 0.2h0m0.3 0.2h0m2.8-0.1h0m1-0.1h0m1.8-0.5h0m0.2-0.1h0m0.3 0.5h0m0-0.6h0m1.5 0.8h0m0.1 0.1h0m0.1-0.3h0m0.1 0.2h0m3.4-0.4h0m0.1-0.3h0m2.8 0h0m8.9 0.3h0m2.4 0.1h0m1.1-0.4h0m3.9 0.3h0m6.9 0.5h0m2.6-0.9h0m1.4 0.4h0m1.1-0.4h0m3.3 0.6h0m5 0.2h0m0.7-0.1h0m4.2 0.2h0m3.6 0h0m0.6-0.3h0m4 0h0m3.1 0h0m2.3 0h0m0.8 0h0m4.7-0.3h0m1.4 0.2h0m2.6 0.4h0m11.3-0.4h0m0.2 0.5h0m0.5-0.7h0m0.4 0.4h0m0.2-0.6h0m23 0.1h0m-180.7 1.1h0m0.3-0.1h0m0.8 0.7h0m0.3-0.5h0m4.2-0.3h0m2 0.8h0m0.5-0.5h0m0.8-0.3h0m3 0h0m4 0.6h0m0.7 0.2h0m0.1-0.6h0m1.6-0.2h0m1.4 0.7h0m1.1-0.8h0m0.5 0.2h0m0.6 0.8h0m0.2-0.1h0m0-0.3h0m2.3 0h0m0.4 0h0m2.8-0.5h0m0.8 0.1h0m0.6 0h0m0.9 0.6h0m2.5-0.2h0m0.6-0.3h0m0.1 0.7h0m0.3-0.3h0m0.3-0.2h0m2.9-0.2h0m0.2 0.4h0m0.3-0.6h0m2.5 0.8h0m0.2-0.8h0m0.7 0.7h0m0.1-0.3h0m1.7 0.2h0m1.3 0h0m1.5 0.1h0m1.2-0.4h0m0.3 0.3h0m1.7-0.4h0m0 0.1h0m0.4 0.1h0m0.2 0.4h0m3-0.7h0m0.8 0.5h0m0.4-0.4h0m1.1-0.2h0m1.6 0.1h0m1.5 0.2h0m3.9 0.4h0m0.7 0h0m0.5-0.5h0m4 0.5h0m1.9-0.2h0m1.3-0.4h0m4.7 0.7h0m3.8-0.3h0m0-0.1h0m1.6-0.3h0m1.6 0.7h0m1-0.6h0m1.6 0.2h0m1.2-0.3h0m0.3 0.1h0m0.1 0.5h0m2.7-0.7h0m0.7 0.3h0m1.6 0h0m1.7-0.4h0m0.4 1h0m1.2-0.7h0m0.6 0.1h0m2.3-0.4h0m3 0.5h0m0.7 0.4h0m2.1-0.3h0m6 0.1h0m7.5-0.3h0m0.5-0.3h0m0.6 0.5h0m0.1-0.1h0m1 0h0m5.8 0.1h0m1.8 0.2h0m7.3-0.5h0m0.7 0.3h0m2.1-0.5h0m4 0.2h0m0-0.2h0m0.2 0.5h0m2.5 0.1h0m2.2 0.1h0m0.6-0.5h0m7.2-0.1h0m0.1 0.5h0m1.3 0.2h0m0.1 0.1h0m-158.5 0.4h0m0.3-0.4h0m1.2 0.5h0m0.4 0.2h0m0.5 0.1h0m0.5-0.5h0m1.7-0.2h0m0.3 0.1h0m0.8 0.5h0m0.7-0.2h0m1.9-0.2h0m0.9 0.6h0m5.7-0.6h0m1.8-0.1h0m1 0.7h0m0.5-0.8h0m0.2 0.1h0m1.9 0.2h0m0.1 0.2h0m1-0.1h0m0.3 0.1h0m0-0.1h0m6.9-0.4h0m2.3-0.1h0m1.6 0.6h0m0.7 0.2h0m3.4-0.3h0m0.8 0.4h0m0.2-0.3h0m0.2-0.2h0m0.9-0.2h0m1.4 0.5h0m0.4-0.4h0m0.2-0.3h0m1.4 0.8h0m2.7-0.4h0m0.2 0.5h0m0.6-0.2h0m2.5-0.2h0m1.2-0.5h0m1.3 0.8h0m2.1-0.1h0m0 0.2h0m0.8-0.6h0m1.2 0h0m0.1 0.2h0m1.3 0.1h0m0.8-0.3h0m0.2-0.2h0m1.3 0.7h0m3.5 0h0m0.3-0.5h0m2.5 0.6h0m1-0.1h0m0.7 0.1h0m6.4-0.5h0m1.8 0.2h0m7.4 0.2h0m2.3-0.3h0m9.4-0.3h0m0 0.1h0m7.9 0h0m0.8 0.2h0m2.8 0.4h0m1.5-0.8h0m2.6 0.7h0m1.6-0.3h0m1.7-0.5h0m1.1 0.3h0m4.1 0h0m2.6 0.1h0m1.5-0.2h0m0.2 0.4h0m0-0.2h0m6.4 0.2h0m0-0.5h0m1 0.5h0m2.6-0.2h0m1.2 0.3h0m3.1 0.2h0m0.3-0.2h0m2.2 0h0m1.5-0.1h0m0.4-0.5h0m0 0.7h0m1.7-0.3h0m2.8 0.2h0m0.6-0.1h0m0.2-0.5h0m3.8 0.2h0m0.8 0.5h0m0.1-0.3h0m5.6 0.4h0m3.8-0.6h0m1.7 0h0m0.9-0.2h0m1.2 0.1h0m1.3 0.2h0m0.3 0.3h0m0.3-0.5h0m-152.6 1.7h0m8.4 0h0m15.2 0h0m2 0h0m3.7 0h0m2.8 0h0m1.6 0h0m3.5 0h0m83.2 0h0m15.9 0h0m8.6 0h0m4.2 0.1h0m4.1-0.1h0m7.6 0.1h0m-173.9 0.2h0m0.8 0.4h0m0.8 0.3h0m2.3-0.5h0m1.2-0.3h0m0.2 0.1h0m0.5 0.4h0m1 0.3h0m3.6-0.7h0m0.1-0.2h0m0.1 0.4h0m2.2 0.4h0m0.6-0.7h0m0.5 0h0m0 0h0m0.6 0.4h0m2.1-0.1h0m0.1 0.4h0m3.5-0.1h0m1.2-0.1h0m0.1-0.1h0m0.3-0.5h0m3.5 0.1h0m0.2 0.6h0m0.4-0.7h0m2 0.6h0m0.2 0.1h0m0.5-0.2h0m0.1-0.3h0m0.8 0.3h0m0.5 0.2h0m2.5-0.1h0m1.3-0.6h0m2.1 0h0m1.9 0.2h0m0-0.2h0m0.1 0.5h0m0.7 0h0m3.7-0.2h0m0.2 0.2h0m1.3-0.5h0m1 0.4h0m1.2 0.1h0m0 0.1h0m2.3 0.4h0m1.9 0h0m0.2-0.1h0m0.1-0.4h0m1.4 0.3h0m0-0.5h0m2.9 0.5h0m1.5-0.3h0m1.3 0.4h0m0.6-0.3h0m1.7 0.1h0m1-0.3h0m1.1 0h0m2.1-0.4h0m0.2 0.3h0m0.6 0.5h0m1.2 0.1h0m0.6-0.4h0m6-0.1h0m0.8 0.1h0m1.2-0.1h0m1.5 0.5h0m0.8-0.4h0m0.8-0.2h0m0.4-0.3h0m2.5 0.2h0m7.1 0.2h0m8.8-0.1h0m0.3 0.4h0m1-0.2h0m2.2-0.2h0m0 0.7h0m0.7-0.9h0m1.8 0.2h0m5.9 0.2h0m5.3-0.1h0m1 0.5h0m1.9-0.6h0m8.7 0.5h0m0.7 0.1h0m0.7-0.1h0m9.3-0.6h0m1.2-0.1h0m3.4 0.6h0m2 0h0m1.3-0.4h0m2.5 0.1h0m2.1 0.1h0m0.2 0h0m0.2 0h0m0.4-0.1h0m5.2-0.2h0m1.4 0.5h0m4.9-0.1h0m-160.5 1.2h0m0.3-0.3h0m0.3 0.4h0m0.6-0.6h0m0.6 0.6h0m0.4-0.4h0m0-0.1h0m0.1-0.1h0m2.5 0h0m0.4 0.5h0m3.6-0.2h0m0.3 0h0m0.6-0.5h0m0.1 0.6h0m1.9 0.3h0m0.7-0.2h0m0.2-0.5h0m0.1 0.2h0m1.7 0.2h0m1.8-0.6h0m0.3 0.6h0m0.3-0.3h0m0.3-0.3h0m0.8 0.2h0m1.8-0.2h0m0 0.2h0m1-0.2h0m0.1 0.8h0m2.6-0.7h0m0 0.7h0m0.7-0.8h0m0.4 0.3h0m0.6 0h0m0.1-0.3h0m0.6 0.2h0m2.1 0.6h0m0.2-0.8h0m1 0h0m0.1 0.7h0m0.3-0.6h0m0.4 0h0m1.5 0.7h0m0.2-0.8h0m1.3 0.8h0m0 0.1h0m3.2-0.4h0m0.4 0.2h0m0.6-0.7h0m1 0.2h0m2.9-0.1h0m0.1 0.1h0m0.8 0.6h0m0.4-0.7h0m1.8 0.3h0m0.1-0.4h0m0.5 0.4h0m0.3-0.3h0m0.1 0.7h0m2.6-0.3h0m4.7 0h0m0.1 0.4h0m0.5-0.1h0m0.7 0h0m0.3-0.5h0m0.3-0.4h0m1.3 0.8h0m0-0.5h0m0.1 0h0m0.7-0.1h0m1.8 0.3h0m2.2-0.5h0m0.2 0.8h0m0.9-0.4h0m0.7-0.4h0m1.7 0.5h0m1 0.4h0m0.8-0.2h0m3.2-0.3h0m0.7 0.5h0m0-0.6h0m0.2 0.7h0m2-0.8h0m1.6 0.2h0m3.5-0.2h0m0.9-0.1h0m0 0.3h0m4.1-0.3h0m0.2 0.6h0m1.5 0.2h0m0.6 0h0m0-0.9h0m0.2 1h0m0.1-0.8h0m3.5-0.2h0m1 0.1h0m0.2 0.5h0m0.6-0.3h0m0.4 0.3h0m0.1-0.6h0m6.1 0.1h0m4.5 0.2h0m0.8-0.2h0m2.7 0.2h0m0 0.6h0m0.1-0.4h0m0.7-0.2h0m0.7 0.2h0m0.4-0.4h0m1.1 0.6h0m4.2-0.5h0m1 0.4h0m3.8-0.3h0m0.8 0.3h0m3.3 0.4h0m0.1-0.2h0m0.4 0.1h0m0.9-0.7h0m0.1 0h0m4 0.7h0m7.2-0.7h0m0.3 0.6h0m4.1 0h0m1.8-0.3h0m1.6 0.3h0m2.5-0.6h0m1.1 0.1h0m1.2 0.6h0m1.8-0.4h0m0.2 0.3h0m2.2-0.8h0m3.3 0.3h0m0.7 0.5h0m2.4 0h0m0.9-0.5h0m2.9 0.5h0m1.8-0.6h0m0.4 0.4h0m4 0.3h0m1.2-0.8h0m1 0.1h0m16.3 0.7h0m5.5 0h0m-191 0.5h0m1.2-0.4h0m0 0.5h0m0.4 0.3h0m2.6 0.1h0m0.2-0.8h0m0.4 0.7h0m1.5 0.1h0m2.2-0.1h0m3.7-0.2h0m0.4-0.2h0m0.2 0.2h0m0.6-0.2h0m0.2 0.4h0m0.9 0.1h0m2.2 0h0m1.1-0.6h0m0.3 0.2h0m0.4 0.3h0m1.6-0.5h0m1 0.5h0m0.2 0h0m0.6-0.5h0m0.6 0.5h0m0.1-0.5h0m1.7 0.4h0m0.5 0h0m0.9 0h0m0.4 0h0m0 0h0m2.4-0.2h0m0.2 0.2h0m0.9-0.5h0m0.7-0.2h0m0.1 0.7h0m1.6-0.5h0m2 0.3h0m0.6-0.3h0m0.4-0.1h0m1 0.6h0m0 0.1h0m0.5-0.7h0m0.1 0.8h0m0.2-0.4h0m0.4 0.1h0m0.1 0h0m0.7 0.3h0m0.6-0.4h0m2.6 0.2h0m3-0.4h0m0.2 0.6h0m0.2-0.7h0m1 0.6h0m0.6 0h0m0.7-0.3h0m1.2 0.2h0m0.4 0.1h0m0.2-0.1h0m1.5 0.1h0m2-0.7h0m2.3 0.2h0m1.9-0.1h0m0.2 0.4h0m2.3-0.1h0m0.1-0.4h0m1 0.7h0m1.3 0h0m0.3-0.5h0m0.5 0.1h0m0.2 0.4h0m1.8-0.1h0m0.5-0.5h0m0.2 0.1h0m1.2 0.4h0m0.9 0h0m1.2-0.6h0m1 0.5h0m0.7-0.5h0m1 0.4h0m3.8-0.1h0m2.5 0.2h0m3.5-0.1h0m0.2 0.3h0m1.6-0.7h0m0.5 0.3h0m2.7-0.1h0m1.2 0.3h0m3.8-0.2h0m0.4 0.5h0m1.9-0.6h0m0.8 0h0m4 0.4h0m0-0.2h0m3.5-0.3h0m0.3 0.7h0m0-0.3h0m3.5-0.5h0m0.6 0.4h0m4.6-0.4h0m2.6 0.3h0m1.1-0.3h0m2.5 0.8h0m1.4-0.7h0m0.8 0.1h0m0.3-0.3h0m2.8 0.1h0m1.3 0.7h0m3-0.1h0m2.6-0.7h0m5.5 0.8h0m0.4-0.1h0m3.1-0.5h0m4.6 0.2h0m2.6 0.2h0m0 0.1h0m1.1-0.5h0m0.3-0.2h0m4.1 0.3h0m0.6 0.3h0m1.6-0.2h0m0.8-0.4h0m0.5 0.2h0m5.1-0.1h0m3.2 0.3h0m0.9 0h0m3.3 0h0m0.4 0.5h0m0.2-0.3h0m-160.4 1.3h0m5.7 0h0m0.7 0h0m5.7 0h0m11.8 0.1h0m1.8 0h0m21.3 0h0m15.7-0.1h0m39.9 0h0m8.2 0h0m3 0h0m6.7 0h0m19.6 0.1h0m3.4 0h0m2.1-0.1h0m4.4 0.1h0m2-0.1h0m28.3 0h0m-186.7 0.2h0m1.9 0.7h0m0.6-0.4h0m0 0.3h0m0.1 0h0m1.6-0.5h0m0.5 0.4h0m3.2-0.2h0m0.4-0.2h0m4.8-0.1h0m1.4 0.5h0m0.2 0.3h0m0-0.2h0m2.3-0.6h0m1.8 0.4h0m0 0.1h0m3.1-0.5h0m0.1 0h0m0.7 0.5h0m1.4 0.2h0m0.7 0h0m0.3-0.3h0m1.1-0.2h0m2.7 0h0m1.2 0.4h0m0.3-0.4h0m2.2 0.6h0m0.1 0h0m0.2-0.3h0m0.6-0.5h0m0.9-0.1h0m0.1 0.2h0m2.1-0.1h0m0.2 0.1h0m1.4-0.1h0m0.6 0.4h0m1.7-0.1h0m0.3-0.1h0m1.5 0.7h0m2.8-0.8h0m0.3 0.1h0m3.1-0.2h0m0.1 0.8h0m1.1-0.4h0m4-0.4h0m2.4 0.8h0m3.8-0.7h0m0.1 0.4h0m0.4-0.4h0m0.5 0.4h0m1.1-0.2h0m0.2 0.4h0m0.1-0.8h0m0.6 0.9h0m3.5-0.6h0m0.3 0.6h0m2.9-0.2h0m0.1 0.3h0m0.8-0.5h0m2.1 0.5h0m0.1-1h0m0.5 0.3h0m0.9-0.1h0m0.4 0h0m1.4 0.2h0m2.1 0.1h0m2.6 0.4h0m0.3-0.9h0m4.1 0.3h0m3.6 0.6h0m1.6-0.1h0m0.2-0.4h0m0.1-0.2h0m3.9 0.3h0m1.5 0h0m2.5-0.2h0m0.4-0.3h0m1.7 0.3h0m0.2 0.1h0m1.3 0.3h0m0.5-0.6h0m0.4 0.8h0m2-0.4h0m0.5-0.3h0m5.4-0.1h0m6.4 0.5h0m1.5 0.2h0m5.9-0.4h0m5.7 0.4h0m0.5-0.1h0m1.3-0.5h0m1.5-0.1h0m0.8 0.1h0m4.5 0.7h0m10.4-0.4h0m0.9 0.4h0m2.5-0.6h0m0.3-0.1h0m0.1 0.1h0m1.1 0.4h0m0.1-0.3h0m3.9 0.5h0m0.2-0.2h0m1.9 0h0m0.4-0.5h0m3.7-0.1h0m1.7 0.3h0m0.5-0.2h0m3 0.2h0m14.8 0.3h0m-182.4 0.6h0m1.9 0.6h0m0.8-0.1h0m0.8-0.7h0m0.7 0.2h0m1.7 0h0m1.1 0h0m0.7 0.2h0m2.2-0.3h0m1.7 0.8h0m0.5-0.5h0m0.2 0.2h0m0 0.3h0m0.6-0.3h0m1.1-0.2h0m1.2 0.1h0m3.3 0h0m0.8-0.4h0m0.1 0.4h0m0.3 0.4h0m0.3-0.4h0m0.6-0.2h0m0 0.4h0m1.3-0.7h0m0.6 0.4h0m0.8-0.4h0m0.4 0.4h0m0.3 0.2h0m0.4 0h0m0.1 0.2h0m1.4-0.4h0m0.6-0.2h0m1.1 0.2h0m0.6-0.1h0m0.6-0.4h0m1.8 0.5h0m1.2-0.1h0m0 0.4h0m3.5 0.2h0m0.4-0.3h0m0.1-0.6h0m0.7 0.5h0m0.3-0.4h0m1.3 0.3h0m0.4-0.2h0m3.4-0.1h0m0.7 0.2h0m0-0.4h0m0.1 0.1h0m0.5 0.1h0m0 0.4h0m0.4-0.5h0m0.1 0.4h0m1.1-0.4h0m2.2 0.4h0m1.4 0.1h0m0.2-0.6h0m2.3 1h0m1.3-0.6h0m0.6 0.1h0m2.6 0h0m1.3-0.4h0m2.3-0.1h0m0.3 0.9h0m0.3-0.7h0m0.5 0.1h0m0.6 0.3h0m3.1 0h0m2.1-0.5h0m2.2 0.8h0m2.7-0.2h0m0 0h0m0.5 0.3h0m0.7-0.3h0m2.1-0.5h0m0.9 0.7h0m0.7-0.3h0m3.7-0.5h0m0.9 0.1h0m0 0.4h0m2.4 0.4h0m6.1-0.9h0m6.2 0.8h0m3.3 0h0m0-0.7h0m2.3 0.3h0m0.2-0.1h0m5.3 0.3h0m1.9-0.4h0m0.5-0.1h0m12.2 0.8h0m2.2-0.5h0m1.6-0.4h0m0.3 0.1h0m2.4 0.5h0m4.3 0.1h0m0.8-0.6h0m1.6 0.4h0m2.4 0.3h0m3.1-0.5h0m0.1 0.5h0m2.8-0.3h0m0.6 0.2h0m1.4-0.4h0m0.1-0.4h0m0 0.4h0m3.7 0.4h0m3.8-0.8h0m2.5 0.4h0m0.1 0.6h0m2.3-0.4h0m3.1-0.2h0m0.9 0.4h0m2.9 0h0m1.2-0.1h0m1.6-0.1h0m1.1 0.2h0m-168.7 0.6h0m0.7 0.2h0m0.2 0.3h0m0.3-0.1h0m2.2-0.7h0m0.4 0.4h0m0.2-0.1h0m0.2 0.3h0m0.1 0.1h0m0.6-0.2h0m2.1-0.2h0m0.3-0.1h0m0.8 0.3h0m0.6-0.1h0m0.9-0.1h0m0.4-0.2h0m2.4 0.4h0m0.3-0.6h0m0.3 0.8h0m0.9-0.2h0m1.2 0.1h0m0.1-0.2h0m0.8-0.4h0m3.6 0.7h0m1.3-0.5h0m0.5-0.1h0m2.7 0.7h0m1.8-0.6h0m2.3-0.1h0m0.1 0.4h0m1.4-0.4h0m0.3-0.1h0m1.5 0.5h0m0.1-0.6h0m0.8 0.1h0m0.3 0.4h0m2.4 0.4h0m0.5-0.9h0m1.8 0.3h0m0.2 0.6h0m0.1-0.9h0m1.3 0.8h0m1.1-0.5h0m0.8 0.2h0m2.1 0.1h0m0.4-0.1h0m0.4-0.5h0m1.1 0.9h0m2.1-0.7h0m0.7 0.2h0m1.1 0.1h0m0 0.4h0m0.2-0.7h0m2.4 0.7h0m0.7-0.4h0m0.9-0.1h0m2.9 0.4h0m0.8-0.5h0m0.5 0h0m0 0.6h0m3.1-0.4h0m4.4 0h0m0.7 0.4h0m3.4-0.6h0m2.4 0.6h0m1-0.3h0m0.4-0.4h0m0.6 0.5h0m0.3-0.6h0m1.5 0.1h0m0.1 0.3h0m2.4-0.1h0m0.2 0.2h0m3.2 0.2h0m0.3-0.8h0m0.4 0.1h0m1.5 0.2h0m4.7 0.4h0m0.4 0.2h0m1.8-0.3h0m6.6 0.3h0m0.4-0.4h0m2.7 0.4h0m0.4-0.2h0m0.4-0.5h0m0 0.6h0m0.5-0.5h0m6.3-0.1h0m0.7 0.6h0m0.4-0.7h0m0.1 0.1h0m4.7 0.4h0m4-0.5h0m2.1 0.3h0m0.4 0h0m4.8-0.1h0m3-0.1h0m1.1-0.2h0m0.5 0.8h0m7.4-0.6h0m2.5 0.3h0m4.8-0.2h0m0.6-0.2h0m0.7 0.6h0m0.1 0h0m2.4-0.4h0m0 0.1h0m1.2-0.3h0m0.6 0.7h0m2.4-0.1h0m2.1 0.1h0m2.1-0.7h0m3.4 0.7h0m1 0.1h0m1.3-0.1h0m26.2-0.7h0m-188.9 1.8h0m1.5 0.1h0m7.8 0h0m0.1-0.1h0m8.7 0h0m7.9 0h0m11.3 0h0m24.7 0h0m19.8 0h0m0.7 0h0m1.8 0.1h0m10.6-0.1h0m70.4 0h0m1.7 0h0m-166.5 0.7h0m0.1-0.4h0m0.5-0.1h0m0.9 0.5h0m0.2 0.3h0m0.3-0.7h0m0.2 0.1h0m1.4 0.2h0m0.1-0.2h0m0.1 0.1h0m0.7-0.1h0m0.1 0.1h0m1.4 0.3h0m2.2 0.3h0m0.4-0.3h0m0.1-0.1h0m0.1 0h0m0.4 0.3h0m0.2-0.1h0m4-0.1h0m0.2-0.2h0m0.5-0.4h0m1.8 0.6h0m0.2-0.6h0m0.6 0.2h0m0.4 0.7h0m0-0.5h0m0.3 0.1h0m0.2-0.5h0m0.7 0.6h0m0 0.1h0m1.4 0.2h0m0.4-0.4h0m0.4-0.2h0m0.8 0.3h0m0.6-0.3h0m2.9-0.1h0m3.4-0.2h0m2 0.7h0m2.1-0.6h0m0.9 0.3h0m0.1-0.2h0m0.3 0.2h0m0.4 0.1h0m1.5 0.2h0m2.7-0.7h0m0.2 0.6h0m1.6-0.6h0m0.3 0.6h0m0-0.4h0m0.5 0.4h0m0 0h0m0.5 0.3h0m3.4-0.6h0m3.1-0.3h0m0.6 0.6h0m1.8 0.2h0m0.1-0.1h0m1.8-0.4h0m1.4 0.5h0m0.4-0.2h0m2.1-0.5h0m1.7-0.1h0m0.1 0.2h0m1.9-0.2h0m0.7 0.7h0m0.7-0.2h0m0.3-0.4h0m2.9 0h0m0.4 0.6h0m0.1-0.5h0m0.4 0.6h0m0.3-0.2h0m2-0.6h0m0.3 0.6h0m0.1-0.6h0m1.1 0.6h0m1.1-0.1h0m1.4-0.5h0m2.8 0.2h0m2.8 0.7h0m1.2-0.3h0m1.4-0.6h0m5.4 0.1h0m4.8-0.1h0m0.4-0.1h0m1.4 0.1h0m0.5 0.4h0m0.2 0.3h0m7.4-0.5h0m0 0.5h0m1.8-0.7h0m0.8 0.5h0m1.7-0.2h0m0.3 0.4h0m0.9 0h0m0.8 0.1h0m6.7 0.1h0m1.2-0.8h0m0.2-0.2h0m5.6 0.5h0m1.6-0.5h0m0.8 0.2h0m2.7 0.2h0m4.5-0.3h0m0.2 0.5h0m0.4-0.1h0m14.5-0.3h0m0.5 0.6h0m1.4 0.1h0m3.1-0.9h0m0.6 0.8h0m5.9-0.6h0m1.3 0h0m0.4 0.6h0m3.4 0h0m4.1-0.4h0m0 0.1h0m4.8 0.3h0m0.2-0.1h0m2.9-0.1h0m11.2-0.3h0m3.2 0.5h0m0.7-0.2h0m0.2-0.5h0m-188.5 1.7h0m1.5 0.2h0m0.9-0.2h0m1.6 0.1h0m1.5-0.6h0m2.5-0.1h0m1 0.7h0m0.8-0.5h0m3.4-0.3h0m0 0.4h0m1.1-0.5h0m0 0.7h0m2.7-0.2h0m0.3-0.2h0m0.9 0.4h0m1.5-0.4h0m0.7 0.2h0m0.1-0.4h0m0.3 0.1h0m0.6 0.5h0m0.8 0h0m2.2 0h0m0.4-0.3h0m0.7 0h0m4.1 0.1h0m2.7 0.2h0m0.2-0.1h0m1 0.1h0m4-0.3h0m3.3 0.1h0m0.1 0.4h0m0.3-0.4h0m0-0.4h0m0.3 0.8h0m0-0.7h0m0.1 0.1h0m0.5 0h0m1.9 0.1h0m1.7-0.2h0m0.3 0.1h0m0.4-0.2h0m1.3 0.1h0m0.7 0h0m0.6 0.5h0m0.7 0.1h0m0.4-0.4h0m1.7 0h0m0.1 0h0m0.1-0.1h0m0.1 0.6h0m0.1-0.5h0m0-0.4h0m0.9 0.8h0m0.6-0.6h0m2.2 0h0m2.2 0.4h0m2.3 0.2h0m0.1-0.8h0m2 0.4h0m1.2-0.2h0m1.5 0.6h0m5.2-0.3h0m1.9 0.3h0m1.8-0.4h0m1.5 0h0m4.2 0.2h0m1.6-0.2h0m0.3 0.6h0m0-0.5h0m2.1 0.3h0m0-0.6h0m1.5-0.1h0m0.7 0.4h0m0.1-0.2h0m1.5-0.1h0m1.3 0.2h0m1.3 0.5h0m1.9-0.6h0m0 0.5h0m1.2-0.6h0m0.8 0h0m3 0.6h0m0.5-0.5h0m2.6 0.1h0m0-0.4h0m5.7 0.3h0m1.8 0.4h0m1.5-0.2h0m0.6 0.3h0m3.7 0.2h0m0.3-1h0m2.7 0h0m1.3 0.5h0m0.1-0.3h0m0.2 0.4h0m2.4-0.2h0m1.2 0.1h0m3.5-0.1h0m2.5-0.4h0m12.2 0.8h0m0.3-0.3h0m0.9 0.3h0m4.4-0.7h0m1 0.6h0m2.4-0.5h0m1-0.2h0m2.2 0.1h0m5 0h0m2.5 0.8h0m1.4-0.3h0m2.7-0.2h0m0.3-0.4h0m2.4 1h0m3.5-0.5h0m0 0.2h0m1.7 0.2h0m1.4-0.9h0m1 0.6h0m7.2 0h0m3.8 0h0m3.2-0.3h0m0.5 0h0m1.5 0.2h0m-190.3 0.8h0m0.1 0.2h0m0.8 0h0m0.4 0.4h0m0.1 0h0m0.7-0.9h0m1.9 0.3h0m4.1 0.5h0m0.8-0.3h0m0.2 0.1h0m0.8 0.2h0m0 0h0m2-0.7h0m1 0.3h0m0.1 0.5h0m0.1-0.1h0m0.1-0.3h0m0.3-0.5h0m0.5 0.8h0m0.1-0.3h0m0.6 0h0m1 0.1h0m0.8-0.3h0m0.1 0.4h0m0.8-0.4h0m0.4-0.2h0m0.3 0.1h0m0.3-0.2h0m1.6 0.1h0m1 0.1h0m0.9 0.7h0m2.1-0.2h0m0.1-0.4h0m0.3-0.2h0m1 0.4h0m0.5-0.2h0m2.4 0.3h0m0.7-0.1h0m0.1-0.2h0m0.2-0.1h0m0.8-0.1h0m0.6 0.1h0m1.3 0.4h0m0.1-0.1h0m0.7 0h0m4.1-0.3h0m0.2-0.1h0m0.9 0h0m0.1 0.4h0m0.4-0.4h0m2.1-0.1h0m1.3 0.4h0m0.6 0.1h0m1.5 0.1h0m0.9-0.3h0m0.1 0.6h0m5.1-0.1h0m3.7-0.2h0m0.1 0.3h0m1.9-0.9h0m1 0.9h0m0.6-0.6h0m0.3 0.3h0m0.9-0.3h0m5.4 0.5h0m0.6-0.3h0m0.7-0.3h0m1.1-0.1h0m0.3 0.5h0m6.2-0.3h0m0 0.3h0m0.4 0.1h0m0.3-0.2h0m0.1-0.2h0m6.6 0h0m1.7 0.5h0m2.4 0.1h0m0.4-0.6h0m4 0.5h0m4.1-0.2h0m11.6-0.4h0m3.8 0.2h0m0.8 0h0m0.3-0.3h0m3.8 0.3h0m0.8-0.3h0m6.7 0.1h0m0.8 0.6h0m0-0.8h0m1.2 0.9h0m5.2-0.5h0m1.2 0.3h0m2.9-0.1h0m0.7-0.2h0m0.1 0h0m3-0.4h0m1.2 0.8h0m6.9-0.1h0m0.8-0.1h0m0.4-0.2h0m1.2-0.1h0m2.2 0.2h0m1.5-0.3h0m2.1 0.3h0m1.6 0.4h0m4.6-0.2h0m1.4-0.2h0m4.8 0.1h0m1-0.1h0m0.2-0.4h0m0.4 0.5h0m3.9 0.3h0m2.4 0h0m0.1-0.7h0m1.5 0h0m0.5 0.5h0m7.7-0.6h0m0.3 0.1h0m2 0.3h0m1.2-0.3h0m0.8 0.3h0m-178.4 1.4h0m4.4 0h0m1.5 0h0m4.2 0h0m23.9 0.1h0m8.4 0h0m0.2-0.1h0m6 0h0m3 0.1h0m32-0.1h0m8.8 0h0m0.5 0h0m1.7 0h0m23.3 0h0m39.5 0.1h0m8.8 0h0m-174.6 0h0m0.1 0.6h0m0.1-0.3h0m0.1 0.3h0m0.3 0.1h0m0.4-0.6h0m0 0.6h0m0.2-0.1h0m0.7 0.2h0m0.8 0h0m1.7 0.1h0m0.6-0.9h0m0.8 1h0m1.1-0.6h0m1.3-0.3h0m0.1 0.4h0m0.7-0.1h0m0 0.3h0m1-0.3h0m0.7 0.3h0m0.1-0.1h0m0.1-0.2h0m1.5 0.4h0m0.9-0.4h0m1.2 0.1h0m0.1-0.4h0m1.4 0h0m0.6 0.1h0m0.3-0.1h0m0.9 0.6h0m2.2-0.2h0m0-0.4h0m0.1 0h0m0.1 0.3h0m0.4 0.5h0m0.4-0.5h0m0.5 0.1h0m0.3 0.4h0m0.5-0.2h0m2.2-0.4h0m0.8 0.2h0m1.1 0.1h0m0.4-0.5h0m1.6 0.2h0m0 0.3h0m0.1-0.1h0m0.2 0.2h0m0.2-0.4h0m3.8 0.2h0m1.8 0.1h0m1.5-0.5h0m2.6 0.8h0m1.4-0.4h0m1.2 0.5h0m1-0.9h0m0.3 0.3h0m0.5 0.6h0m2-0.5h0m0.5-0.2h0m3.3 0.4h0m1-0.1h0m0.9-0.1h0m3.8 0.5h0m3.9-0.7h0m0.5 0.7h0m2.4-0.9h0m1.1 0.3h0m0.4 0h0m0 0h0m0.1 0.6h0m0.1-0.5h0m1.8 0.2h0m0.2 0.1h0m0.8-0.6h0m4.4 0.2h0m2.2 0h0m0.3 0.6h0m4.4-0.8h0m0.6 0h0m4.8-0.1h0m3.2 0.5h0m1.2 0.4h0m1.7-0.3h0m0.2-0.4h0m0.6 0h0m0.1 0.4h0m3.4 0.3h0m1.1-0.1h0m2.8-0.5h0m1.1 0.4h0m2.7 0h0m0.3-0.3h0m4.3 0h0m0.6-0.2h0m4 0.5h0m3.7-0.5h0m0.7 0.1h0m2.4-0.3h0m0.7 0.5h0m0.5-0.5h0m0.3 0.5h0m18.3 0.1h0m0.8 0.3h0m1.6-0.6h0m5.9 0.2h0m0.6-0.6h0m2.9 0.2h0m2.8 0.2h0m2.4-0.1h0m1.5 0.1h0m0.1-0.3h0m3 0.3h0m6.6 0.2h0m1.4-0.5h0m0.9 0.8h0m3.4-0.5h0m0.6 0h0m2.8 0.2h0m0.3-0.4h0m0.1 0h0m2 0.5h0m2.1-0.3h0m6.5 0h0m0 0.2h0m0 0.3h0m1.6-0.7h0m0.3 0.7h0m3-0.4h0m0.9 0h0m0-0.3h0m0.4-0.1h0m-190.9 1.7h0m0.1 0h0m1.5 0.2h0m0.4-0.8h0m0.2 0.6h0m0.3 0.1h0m8.4-0.7h0m1.4 0h0m4.3 0.6h0m0.6-0.7h0m0.1 0.8h0m0.4-0.8h0m1.1 0.4h0m1.4 0.2h0m0.2 0h0m0.6-0.6h0m1.1 0h0m0.4 0.4h0m0.2-0.2h0m1.5 0.3h0m1.3-0.3h0m0.4-0.1h0m0.4-0.1h0m2.6 0.4h0m1.3 0.3h0m0.1-0.2h0m0.1 0.1h0m2.7-0.3h0m0.1 0.3h0m3.1-0.6h0m0.2 0.3h0m1.9-0.4h0m1.7 0.9h0m0.9-0.4h0m0.7-0.5h0m3.3 1h0m0.1-0.6h0m1.9-0.4h0m5 0.3h0m0.5 0.4h0m0.9 0.2h0m3.6-0.8h0m1.8 0h0m1.9 0.7h0m1.4-0.2h0m0.9 0.2h0m1.4-0.4h0m0.8-0.2h0m3.6 0.8h0m0.4-0.5h0m0.3 0.2h0m4.4 0.2h0m3.9-0.7h0m2.3 0h0m0.9 0h0m3 0h0m2.5-0.2h0m0.2 0.5h0m10.1-0.4h0m2 0.7h0m2.2-0.3h0m3.7-0.2h0m1.4 0.3h0m2 0.2h0m1.8-0.1h0m2.1 0h0m1.1-0.2h0m3.9-0.4h0m1.2 0h0m0.2 0.2h0m3.3 0.7h0m0.1-0.9h0m0.4 0.1h0m4.5 0.3h0m1.8 0.4h0m0.2-0.7h0m0.9 0.1h0m1.4 0.7h0m1.2-0.8h0m0.9-0.1h0m7.2 0.6h0m0.6-0.3h0m3.4-0.1h0m2.3 0.1h0m2.3-0.1h0m1.5-0.3h0m2.4 1h0m0.4-0.4h0m12.2 0h0m4.6 0.1h0m0.5-0.1h0m2.1-0.2h0m13.1-0.3h0m0.4 0.7h0m0.3 0.1h0m1.7-0.1h0m1.4-0.7h0m0.1-0.1h0m-189.5 1.5h0m0 0.4h0m0.5-0.3h0m0.1-0.4h0m0.2 0.2h0m0.7 0.4h0m0.5 0.1h0m0-0.6h0m0.2 0.6h0m0.1-0.1h0m1.7 0h0m0-0.2h0m2.5 0h0m1.5 0h0m0.1-0.1h0m0.1 0.1h0m0.3-0.2h0m0.1 0.2h0m0.4-0.5h0m0.8 0.3h0m0.2 0.3h0m0.3-0.6h0m0.1 0.2h0m0 0.6h0m1.8 0h0m0.6 0h0m2-0.1h0m1.5-0.3h0m0.5 0.2h0m1.1-0.2h0m0.9-0.1h0m1.3 0.3h0m2.2 0.2h0m0.5-0.8h0m0.1 0.8h0m3.5-0.8h0m1.7 0h0m0 0.5h0m0.3 0h0m0.7 0.2h0m0.4-0.8h0m0.5 0.2h0m0.2 0h0m0-0.1h0m1.7 0.1h0m0.6 0h0m0.4 0.3h0m0.5-0.4h0m0.1 0h0m4.2 0.3h0m0.3 0.1h0m0 0.2h0m0.8-0.2h0m0-0.1h0m1.7-0.2h0m4.2 0.4h0m0.4-0.5h0m0.8 0.5h0m3.5 0.3h0m0.1-0.8h0m4.4 0.2h0m0.4-0.1h0m0.4 0.4h0m2.2-0.2h0m0.5 0.5h0m0.1-0.1h0m0.9-0.4h0m2.6 0.3h0m0.3 0.1h0m0.8-0.7h0m0.1 0.7h0m1.9-0.7h0m1 0.5h0m0.2 0.3h0m0.2-0.2h0m0.7-0.3h0m0.4 0.1h0m1.7 0.2h0m1.1-0.5h0m0.9 0.7h0m1.9-0.2h0m0 0.2h0m0.3-0.7h0m0.2-0.2h0m0.1 0.2h0m1.1 0.6h0m2.5 0.1h0m1.5-0.2h0m2.4-0.4h0m1.1 0.4h0m0.1-0.6h0m1.1 0.7h0m1.3-0.7h0m1.1 0.4h0m4.5-0.1h0m0.2-0.3h0m2.2 0.6h0m2.4-0.3h0m4.6-0.2h0m3.3 0.7h0m0.7-0.8h0m1.5 0.1h0m0.2-0.1h0m5.9 0.3h0m1.5 0.3h0m0.9-0.6h0m0.9 0.4h0m3.4-0.2h0m13.3 0.4h0m1.6 0h0m10.8 0.1h0m1.7-0.8h0m3.4 0.5h0m4.6 0.1h0m0.9 0.3h0m0-0.6h0m3.1 0h0m2.2-0.1h0m3.3 0.5h0m0.2-0.3h0m0.1 0.3h0m2.6-0.6h0m0.8 0.2h0m0.6 0.3h0m1.9 0.2h0m0.5-0.6h0m0.4-0.1h0m0.4 0.6h0m0.9 0.1h0m2.2-0.2h0m2-0.4h0m0 0.6h0m3.5-0.6h0m6.2 0.7h0m1-0.3h0m3.7-0.2h0m0.7 0.5h0m0.5-0.4h0m2.3-0.2h0m-190.9 1.6h0m22.7 0.1h0m8.6-0.1h0m16.8 0h0m56 0h0m28.7 0.1h0m4.4-0.1h0m43.8 0h0m5.9 0h0m-187.5 0.2h0m1 0.1h0m0 0.1h0m1.8 0.1h0m1.1 0.4h0m0 0.1h0m3-0.5h0m0.2 0.5h0m0.6-0.3h0m1.7 0h0m0.2 0.2h0m1.2-0.5h0m0.2 0.7h0m2.3-1h0m0 0.3h0m1.7 0.5h0m1-0.6h0m0.8 0.6h0m0.2 0h0m0.8-0.3h0m1.1 0.5h0m0.3-0.3h0m0.5-0.1h0m1.2-0.1h0m0.2-0.4h0m0.2 0.1h0m0.5 0.4h0m1.5 0.2h0m1.5-0.6h0m0.6 0h0m2.3 0.2h0m1.1 0.2h0m0.7-0.4h0m1.4 0.5h0m0.5-0.5h0m0-0.1h0m2.4 0.2h0m1.4 0.3h0m0.1 0.2h0m0.3-0.1h0m2.1 0.3h0m1.2-0.4h0m0.1 0.2h0m0.5-0.5h0m0.5 0.4h0m0.1-0.5h0m3.5 0.8h0m0.7-0.7h0m0.2 0.4h0m3.3 0h0m0.8 0.2h0m0.4-0.9h0m3.2 0.7h0m0.5-0.3h0m4 0.1h0m0.8-0.1h0m1.4 0.6h0m0.9-0.8h0m0.9 0.8h0m0.6 0h0m1.6-0.6h0m0.7-0.2h0m1.8 0.5h0m0.1 0.1h0m0 0.2h0m2.2-0.4h0m0.4-0.4h0m0.3 0.8h0m1-0.7h0m1.8 0.6h0m0.7-0.6h0m4.5 0.2h0m0.8 0.1h0m2-0.2h0m0-0.3h0m0.6 0.8h0m0.3-0.1h0m5.6-0.5h0m5.4 0.4h0m0.2-0.2h0m1 0h0m0.3 0.2h0m0.3 0.2h0m4.7-0.1h0m2.8-0.5h0m3.5-0.1h0m0.2-0.2h0m4.3 0.7h0m0.3 0.1h0m2.6-0.7h0m0.3 0h0m0 0.5h0m0.7-0.1h0m3.5 0.4h0m3.4-0.7h0m0.2 0h0m0.6-0.2h0m3.7 0h0m1.5 0.5h0m2.5 0.4h0m0.1-0.8h0m1.1 0.7h0m6.3-0.1h0m0.2 0.2h0m0.6-0.9h0m5.7 0.9h0m13.4-0.7h0m0.2 0.4h0m0.7-0.2h0m0.6 0.3h0m0.1-0.3h0m3.4 0.5h0m2.7-0.4h0m5.2 0.5h0m3-0.3h0m1.3 0h0m7.1-0.2h0m1.2-0.2h0m0.3 0.1h0m10.3 0.1h0m-192.2 0.5h0m1.7 0.4h0m2.5-0.1h0m0.3 0.4h0m0.6-0.2h0m0.6 0.2h0m2.5-0.5h0m0.3 0.5h0m0.7 0h0m0.9 0.2h0m0-0.3h0m0.2 0.2h0m0.1-0.5h0m3.5 0h0m0.5 0.1h0m1.6-0.4h0m0.2 0.3h0m0.4 0.2h0m0.3-0.1h0m3.3 0.6h0m1 0h0m0.4-0.5h0m0-0.4h0m0.2 0.5h0m0.1 0.1h0m0.3-0.3h0m0.3 0.4h0m0.1-0.7h0m1.5 0.9h0m0.1-0.2h0m1.4-0.5h0m0.3 0.3h0m2.6-0.2h0m0.8 0h0m0.2 0.6h0m0.6-0.4h0m0.3 0h0m1.5 0.2h0m0.1-0.2h0m1.1 0.2h0m0.2-0.2h0m1.3 0.2h0m1.3 0h0m8.1-0.2h0m1.5 0.1h0m0.7-0.5h0m3 0.5h0m2.7 0.2h0m0.1-0.2h0m1.4-0.2h0m0.4-0.2h0m2.2 0.5h0m0.2 0h0m0.4-0.2h0m2.2-0.2h0m2 0.4h0m0.4-0.2h0m0.9 0.3h0m0.5-0.7h0m0.1 0.2h0m1.1 0.3h0m2.1 0.2h0m0.3-0.2h0m4.2-0.6h0m6.2 0.4h0m1.1-0.4h0m3 0.2h0m0.7 0.3h0m2.7 0.4h0m0.6-0.8h0m0 0h0m0.2 0.1h0m0.4 0.5h0m1.3 0.1h0m2.9-0.8h0m4.2 0.8h0m2.5-0.8h0m0.3 0h0m3.7-0.1h0m1.4 0.6h0m2.9 0.1h0m0.4 0.2h0m1.9-0.6h0m0-0.1h0m7.8 0.8h0m1.2-0.9h0m9.8 0.5h0m3.7-0.3h0m0 0.6h0m0.6-0.5h0m0.9 0.1h0m5.4 0h0m1 0.5h0m7.2-0.3h0m0.1 0h0m0.6 0h0m12.9-0.6h0m0.3 0.8h0m6.2-0.3h0m2.3 0h0m1.1 0.1h0m1.3-0.5h0m3.1 0h0m1.2 0h0m1.3-0.2h0m1.7 0.7h0m1.5-0.6h0m0.2 0.2h0m4.2 0.5h0m4.1-0.3h0m1.3 0h0m5.5 0.3h0m-192.9 1h0m0.4-0.4h0m3.6 0.4h0m0.3 0.1h0m0.9-0.4h0m0.4 0.3h0m0.2-0.7h0m0.6 0.5h0m1.2-0.2h0m0.6-0.1h0m0.4 0.4h0m0.4-0.2h0m0.5-0.3h0m0.5-0.2h0m0.3 0.6h0m1.5 0.3h0m1.6-0.5h0m0.1-0.2h0m2.5 0.2h0m0.4 0.5h0m0.7-0.5h0m0-0.2h0m0.8 0.5h0m0.2 0.2h0m1.9-0.3h0m0 0.2h0m0-0.7h0m0.2 0.3h0m0.1 0.4h0m1.6-0.1h0m1.5 0.1h0m0-0.4h0m0.3 0.4h0m0.5-0.1h0m0.5-0.6h0m0.3 0.3h0m0.3-0.1h0m1 0.1h0m1.3 0.5h0m0.8-0.6h0m1.2-0.2h0m2.4 0.3h0m0.4 0.4h0m1-0.2h0m2.5-0.6h0m0.4 0.3h0m0.4 0h0m2.9 0.3h0m0.1-0.2h0m1.1 0.3h0m3.5-0.5h0m1.1 0.6h0m1 0.1h0m1.3 0h0m1.2-0.8h0m0.4 0.7h0m0.3 0.1h0m0.1 0h0m3.2-0.8h0m0.8 0.5h0m2.9-0.5h0m0 0.2h0m0.5 0.2h0m0.8 0.1h0m0.4 0.3h0m6.6-0.6h0m7.8 0.2h0m0.3 0.4h0m5.4-0.5h0m5.3 0.4h0m1-0.2h0m0.6 0.2h0m0.2-0.8h0m2 0h0m0.2 0.8h0m0.4-0.5h0m1.3 0.4h0m0.5-0.6h0m2.2 0.2h0m0.4 0.6h0m5.7-0.4h0m2.9 0.3h0m1.3-0.3h0m2-0.3h0m0 0.3h0m0.2-0.3h0m0.1 0h0m0.8-0.2h0m0.2 0.2h0m1.8 0.2h0m0.7-0.4h0m2 0.2h0m1.3 0.4h0m1 0.3h0m3.3-0.8h0m0.8 0.2h0m4.5-0.2h0m0.1 0.4h0m0.2 0.3h0m0.1-0.3h0m0.5-0.3h0m1.9 0.2h0m12.2 0.3h0m0 0.1h0m0.5-0.1h0m0.6 0h0m3.1-0.3h0m0 0h0m4.9 0.1h0m0.2-0.5h0m8.4 0.3h0m0.1 0.5h0m4.3-0.1h0m6.1-0.4h0m3.3 0.6h0m0.5-0.3h0m0.8-0.2h0m0.3-0.1h0m3.6 0.4h0m0.2-0.2h0m3.2 0.1h0m3.5-0.5h0m1.2 0.4h0m0.4-0.1h0m-553.1 1.6h0m16-0.1h0m1.9 0.1h0m13.7-0.1h0m0.1 0h0m9.1 0h0m2.6 0h0m0.4 0h0m0.6 0.1h0m1.2 0h0m331.8-0.1h0m6.7 0h0m21.8 0.1h0m3.7-0.1h0m3 0.1h0m0-0.1h0m3.3 0h0m9.2 0.1h0m8.4-0.1h0m2.6 0.1h0m12.9 0h0m4.4-0.1h0m30.2 0h0m42 0.1h0m-528.4 0.3h0m0.6 0h0m0.3 0.4h0m1.8 0h0m0.8-0.3h0m3.2 0.3h0m0 0h0m0.1 0h0m0.5-0.3h0m1.1 0.4h0m0.4-0.4h0m1.2-0.4h0m1.3 0h0m0.2 0.4h0m1.4-0.4h0m2.2 0h0m3.5 0.6h0m0.8-0.5h0m1 0.4h0m0.4 0.4h0m1.3 0.1h0m1.6-0.1h0m3.4 0h0m1.6 0h0m1.3-0.5h0m0.3 0h0m0.4-0.3h0m0.9 0.5h0m0.4 0.2h0m0.5-0.8h0m1.5 0.3h0m0.4 0.1h0m1 0.3h0m0.3-0.3h0m0.6-0.3h0m0 0.9h0m0.1-0.4h0m0.5 0.4h0m0.1-0.4h0m1.3-0.5h0m0 0.4h0m0.5 0.2h0m0.1-0.1h0m1.8-0.3h0m1.8 0.4h0m2-0.3h0m0.4 0.6h0m0.1-0.6h0m1.6 0h0m1.3 0.5h0m0.1-0.8h0m0.7 0h0m325.8 0h0m0.8 0.9h0m0.4 0h0m0.7-0.1h0m0.5-0.7h0m1.3-0.1h0m2.3 0.5h0m1.7-0.6h0m0.1 0.5h0m0.1 0.4h0m0.1 0h0m0.4-0.6h0m0.2 0.4h0m0.8-0.6h0m2.7 0.2h0m0.1 0.2h0m0.2-0.5h0m0.4 0.8h0m0.1 0.2h0m0.7-0.1h0m0.1-0.7h0m1.9 0.2h0m0.7-0.2h0m0.8 0.2h0m0.1 0h0m1.2 0.2h0m1.5 0h0m0-0.1h0m1 0.1h0m0-0.1h0m0.3 0.1h0m1.2-0.1h0m1.1-0.1h0m0.6-0.1h0m0.5 0.1h0m0.5 0.2h0m0.4-0.1h0m2.6 0.3h0m0.2-0.1h0m1-0.4h0m0-0.2h0m0.3 0.1h0m0.1 0.4h0m0.1-0.6h0m0.7 0.2h0m1.2-0.1h0m0.3 0.6h0m0.2-0.1h0m0.3-0.4h0m0.5 0h0m1.2 0h0m0.1-0.2h0m0 0.5h0m3.6 0.3h0m2.7-0.6h0m0.4 0.2h0m0-0.4h0m0.9 1h0m0-0.4h0m0.1-0.6h0m3.9 0.8h0m1.6-0.1h0m0.1-0.4h0m0.4 0.7h0m1.1-1h0m0.3 0h0m4.6 0.1h0m2 0.2h0m0.3 0.6h0m0.7 0h0m0.4 0h0m2.1-0.2h0m0.7 0.2h0m1.4-0.8h0m1.9 0.4h0m1 0.1h0m3.7 0.3h0m0.7-0.5h0m0.1 0h0m0.6 0.3h0m0.3 0.1h0m1.8 0h0m0.2-0.5h0m0.3 0.5h0m4.2 0.1h0m4.1-0.3h0m0.6 0h0m1-0.5h0m2.9 0.4h0m1 0.3h0m3.2-0.3h0m1.2-0.5h0m1.9 0.2h0m3.7 0.5h0m0.8-0.2h0m0.5 0.5h0m2.6-1h0m0.9 0.5h0m3.1 0.1h0m0.3-0.6h0m1.7 0.7h0m2.2-0.5h0m1.3 0h0m0.6 0h0m7.3 0.4h0m3 0.2h0m0.8-0.4h0m0.7 0.1h0m0.1 0h0m5.8-0.3h0m0.5 0.3h0m3.8-0.2h0m1 0.5h0m1.2 0.2h0m2.3-0.4h0m0.1-0.6h0m7.3 0.6h0m0.3 0h0m1.4-0.1h0m4.2 0.2h0m4 0.3h0m1.8-0.3h0m5.1 0.1h0m1-0.2h0m2.6 0.1h0m0.6-0.1h0m0.6 0h0m0.1 0.2h0m3.7-0.2h0m10.8 0h0m0.2-0.3h0m4.4 0.6h0m8.7-0.5h0m-568.5 1.1h0m0.1 0.5h0m0.3-0.6h0m3.3-0.2h0m0-0.1h0m1.9 0.6h0m1.7-0.2h0m3.7 0.4h0m1.4-0.3h0m0-0.1h0m2.2-0.4h0m0.1 0.4h0m0.2 0.1h0m0.3 0.4h0m0.2-0.9h0m0.7 0.7h0m1-0.3h0m0.4 0h0m1.3 0.1h0m0.5 0h0m0 0.1h0m0.1-0.5h0m1.3 0.1h0m0 0.4h0m0.4 0.3h0m0.1-0.4h0m1.8 0.4h0m0.5-0.9h0m0.9 0.6h0m3.9-0.6h0m1 0h0m1.5 0.8h0m0.7-0.3h0m0.2 0.1h0m0.1-0.2h0m0.3 0.1h0m0.2-0.5h0m0.3 0.6h0m0.1-0.5h0m0.6 0.3h0m0.2-0.2h0m1.2 0.1h0m1.3 0.5h0m1.6-0.5h0m1.1 0.6h0m0 0h0m0.9-0.5h0m0.2 0.2h0m0.9-0.1h0m0.1-0.3h0m0.1 0.3h0m0.3 0h0m1.7 0.4h0m0.9-0.6h0m0.9-0.2h0m0.8 0.2h0m1.5 0.1h0m1-0.4h0m0 0.2h0m0.3 0.3h0m0 0.1h0m0.2-0.4h0m0.1 0.3h0m0.1 0.3h0m0.3-0.4h0m325.8-0.2h0m0.8 0.5h0m1 0h0m0.5-0.5h0m1.5 0.1h0m1.1 0.2h0m0.1-0.2h0m0.4 0.3h0m0.3 0h0m2.8-0.3h0m0.2 0.2h0m0.7-0.4h0m0.5 0.3h0m0.7 0.3h0m0.1-0.5h0m1.3 0.5h0m0.2-0.6h0m0.4 0.1h0m0.1 0.5h0m0.3-0.5h0m0.3 0.5h0m2.9-0.6h0m0-0.1h0m0.5 0.3h0m0 0h0m1.2 0.2h0m0.1 0h0m0.5 0.4h0m1.4-0.8h0m0.1 0h0m1-0.2h0m1.7 0.6h0m1.8-0.3h0m0.2 0h0m0.5-0.1h0m0.9 0h0m0.2 0.7h0m3.6-0.7h0m0.4 0.7h0m0.3-0.1h0m1.3-0.7h0m0.3 0.4h0m0.4-0.1h0m1-0.4h0m0.1 0.6h0m1-0.1h0m0-0.1h0m1.6 0.2h0m1.4-0.5h0m0.1 0.2h0m2.6-0.2h0m2 0.5h0m0.4 0h0m1.9-0.4h0m1.5 0.1h0m2 0h0m0.2 0.4h0m0.8-0.4h0m0.4 0.4h0m0.5-0.1h0m0.4-0.4h0m5.9 0.4h0m0.6 0.2h0m3-0.8h0m0.2 0.6h0m1.2-0.3h0m2.5 0.5h0m0.6-0.5h0m0-0.1h0m0.2 0.2h0m0.7 0.1h0m1-0.2h0m0.4 0.7h0m1.1-0.1h0m1.9-0.3h0m0.7-0.5h0m3.4 0.4h0m4.7 0h0m1.4 0.4h0m0.2-0.1h0m0-0.2h0m2.2 0h0m3-0.2h0m3.4-0.3h0m0.4 0h0m4.4 0.5h0m0.8-0.5h0m2.8 0.7h0m0-0.2h0m0.5-0.5h0m0.2 0.1h0m4.9 0.3h0m1.9-0.2h0m4.5 0.2h0m0.5-0.2h0m0.7-0.2h0m3.1 0.1h0m2.8 0.4h0m1.4-0.1h0m8.1 0.5h0m0.4-0.2h0m1.9-0.5h0m2.6 0.6h0m1.8-0.2h0m3.8 0h0m1.4 0.3h0m1.1-0.2h0m2.8-0.2h0m4.2 0.3h0m0.8-0.2h0m19.4 0.2h0m0.7-0.1h0m1.3-0.2h0m2.7 0.2h0m1.7-0.2h0m5.3-0.2h0m0.7 0.1h0m1.7 0.1h0m1.1-0.5h0m0.8 0.7h0m0.2-0.4h0m0.6 0h0m0 0.1h0m1.4 0.3h0m0 0.1h0m5.5-0.5h0m2.3 0.2h0m0 0h0m1.2-0.4h0m0.1 0.5h0m-568.1 1.1h0m0.3 0h0m0.4-0.2h0m0.3 0h0m0.3 0.2h0m1.6-0.4h0m0.5 0.4h0m0.3 0h0m4.3-0.2h0m0.9-0.4h0m2.5 0.2h0m1.7 0.2h0m1.8 0.3h0m0.1-0.6h0m0.8-0.1h0m0 0.6h0m0.1-0.8h0m0.2 0.9h0m0.1-0.8h0m3.2 0.4h0m1-0.1h0m0.5 0.3h0m0-0.4h0m0.2-0.1h0m0 0.2h0m0.2 0h0m0 0.2h0m1.4 0.3h0m0.9-0.4h0m0.2-0.1h0m0.5 0.5h0m0.2-0.9h0m0.3 0.5h0m3.1 0.2h0m0.7 0.1h0m2.3-0.3h0m0.7 0.1h0m4.6 0.2h0m0.6-0.1h0m0.1 0.2h0m1.7 0h0m0.2-0.5h0m2.1-0.2h0m0.7 0.2h0m1.1 0h0m0.5 0.2h0m1.2 0h0m0.2-0.2h0m2.7 0.3h0m0.4-0.1h0m0.4-0.2h0m0 0.4h0m1.4 0h0m0-0.6h0m325.9 0.5h0m0.1-0.5h0m0 0.1h0m0.6 0h0m1.4 0.5h0m1.2-0.2h0m0-0.5h0m1.9 0.4h0m0.1-0.4h0m0.7 0.1h0m1.4 0.5h0m1.1-0.3h0m0.1-0.3h0m0.4 0.5h0m0 0.1h0m0.3-0.5h0m0.9 0.6h0m1.2-0.1h0m0.4-0.4h0m0.9-0.3h0m0.9 0.4h0m0 0.4h0m1.8-0.6h0m1.9 0.4h0m0.9-0.5h0m1.4 0.2h0m0.2-0.3h0m0.1 0.5h0m1.2-0.2h0m0.4 0.3h0m0 0.1h0m2.9-0.4h0m1.4-0.2h0m2.1 0h0m1.4 0.5h0m0-0.4h0m0.7 0.1h0m3.1 0.1h0m0.2 0.3h0m0.1 0.2h0m2.1-0.2h0m0.2-0.4h0m0.7 0.2h0m0.5 0.4h0m0.2-0.8h0m0 0.4h0m2.3 0.1h0m1.1-0.1h0m0.3 0.2h0m3.2-0.6h0m0.1 0.3h0m0.5 0.2h0m0.7 0.1h0m2.1-0.1h0m0.1-0.5h0m0.3 0.8h0m0.5-0.1h0m0.3-0.3h0m1.1-0.4h0m2.6 0h0m1.5-0.1h0m3 0.6h0m3.6-0.4h0m0.8 0.3h0m0.6 0.3h0m0.4 0.1h0m1.4-0.4h0m1 0.2h0m3.7 0h0m3.4 0.1h0m0.3-0.4h0m1.5-0.4h0m0.1 0.7h0m0.4-0.1h0m1.7 0.3h0m1.1-0.7h0m0.2 0.3h0m0.2-0.5h0m3.6 0.9h0m3.9-0.1h0m1.4-0.2h0m2.2-0.2h0m0.1 0.3h0m3.1-0.5h0m4.2 0.1h0m5.5 0.3h0m6-0.3h0m0.1-0.1h0m5.1 0.6h0m4.8 0.1h0m3.2 0h0m12.3-0.3h0m2.5-0.2h0m0 0.2h0m0.8-0.5h0m11.4 0.6h0m2.4 0h0m1.7-0.4h0m1.3 0.4h0m1.4-0.2h0m3.1-0.4h0m0.9-0.1h0m2.2 0.5h0m0.5 0.1h0m3.1 0h0m3.7-0.2h0m0.2 0.1h0m1.1-0.2h0m2.3-0.2h0m1.7 0h0m2.9 0.4h0m0.1 0h0m4.1 0.3h0m1.6-0.2h0m0.1 0.2h0m9.9-0.5h0m0.6 0h0m-567.8 1.6h0m8.1 0.1h0m11 0h0m42.1 0h0m2.9 0h0m1.4-0.1h0m31.4 0.1h0m15.8-0.1h0m3.6 0.1h0m2.7-0.1h0m0 0h0m1 0h0m1.4 0.1h0m4.1-0.1h0m6.8 0.1h0m1.3 0h0m3.5 0h0m246.5 0h0m5.6-0.1h0m0.2 0.1h0m4.3-0.1h0m17.6 0.1h0m4.2 0h0m7.6 0h0m4.6-0.1h0m12 0.1h0m2-0.1h0m13.6 0h0m8.4 0h0m0 0h0m13 0.1h0m20.2-0.1h0m12.8 0h0m5.2 0h0m-515.2 0.6h0m3.8-0.5h0m0.6 0.9h0m1.4-0.7h0m0.2 0.5h0m3-0.5h0m6.6 0.1h0m1.1 0.3h0m1.2 0.3h0m3.5-0.6h0m2.1 0.6h0m4.2-0.6h0m9.2 0.2h0m0.3-0.4h0m0.4-0.1h0m7.4 0.1h0m0.9 0.9h0m1.6-0.9h0m0.3 0.7h0m0.9 0.1h0m0.6-0.4h0m0.7-0.4h0m5.9 0.5h0m3.4 0.2h0m1.8-0.4h0m0.2-0.1h0m2.4 0h0m2 0.7h0m1.3-0.9h0m0.2 0.9h0m0.1-0.3h0m0.8-0.1h0m0.3-0.1h0m1.6-0.4h0m3.6 0h0m2.5 0.1h0m0.1 0.2h0m0.4 0.3h0m2.7-0.6h0m5 0.1h0m0.4 0.1h0m5.3 0.2h0m1.2-0.3h0m0.7 0h0m1.4 0.7h0m1.8-0.8h0m0 0.6h0m0.2-0.5h0m1 0.7h0m1.4-0.3h0m0.1-0.1h0m0.2 0.4h0m2-0.4h0m0.3 0.3h0m0.1 0.1h0m0.4 0h0m0.5-0.3h0m0-0.5h0m0.5 0.1h0m6.2 0h0m0.2 0.3h0m0 0.4h0m0.6-0.5h0m0.5-0.1h0m0.3-0.1h0m1.4 0.4h0m0.1 0.1h0m1-0.1h0m1.5 0h0m0.3 0.3h0m1.3-0.5h0m1.7 0.4h0m0.6-0.6h0m0.4 0.5h0m0 0.1h0m1.9-0.3h0m0.1-0.3h0m0.8 0.3h0m1.3-0.4h0m1.3 0.8h0m0.8-0.3h0m0.3-0.5h0m0.4 0.1h0m0.1-0.1h0m2.1 0.6h0m0-0.6h0m0 0.2h0m0.3-0.2h0m0.8 0.3h0m0.3 0.1h0m0.2-0.4h0m0.7 0.5h0m0.5 0.3h0m1.3-0.5h0m0 0.2h0m0.4-0.5h0m0.4 0.5h0m0 0.1h0m1.1 0.2h0m0.3-0.9h0m0 0.7h0m0-0.2h0m0.3-0.1h0m0.4 0.3h0m1.4 0.3h0m0.1-0.6h0m0.2 0.2h0m0.1-0.5h0m1 0.5h0m0-0.3h0m0.2 0.4h0m0.2 0h0m237.9-0.5h0m0.1 0.5h0m0.1-0.1h0m0.1 0.3h0m0.5-0.8h0m1 0.4h0m0.2-0.3h0m2.2 0h0m0.2-0.2h0m1.7 0.5h0m2.5 0.1h0m0.3 0h0m0.2-0.6h0m0.1 0.3h0m0.2 0.5h0m0.7-0.7h0m0.5 0.6h0m1.5 0.1h0m0.7-0.2h0m0.2-0.2h0m0.4 0.1h0m0.2-0.2h0m0 0.2h0m0.1-0.2h0m0.8 0.5h0m0.4-0.3h0m2.1 0h0m0.6-0.1h0m0.2 0.5h0m0-0.8h0m0.2 0.2h0m0.8 0.6h0m2.8 0.1h0m0.9-0.2h0m0.3 0.1h0m0.1-0.3h0m3-0.2h0m0.3 0.4h0m0.7-0.3h0m1-0.1h0m2.9 0.2h0m2.9-0.5h0m0.2 0.5h0m0.2-0.5h0m0.4 0.7h0m3.4-0.8h0m0.2 0.9h0m0-0.5h0m1.9 0.1h0m1.6 0h0m0.2 0.5h0m0.3-0.5h0m0.8-0.2h0m9.4-0.1h0m0.1 0.7h0m0.7-0.7h0m0.4-0.2h0m1.4 0.2h0m1.3 0.3h0m1.3 0h0m0.5 0.1h0m0.1-0.1h0m3.4-0.5h0m0.8 0h0m3.8 0.1h0m1.8 0h0m0.7 0.6h0m0.6 0.2h0m0.7-0.2h0m0.2 0.1h0m0.6-0.4h0m1.2 0h0m2.9-0.2h0m0 0.1h0m3.7 0.1h0m3.8-0.1h0m3.6 0.2h0m0.4-0.3h0m2.3 0.3h0m3.5 0h0m0.6 0.4h0m2.1-0.7h0m4 0.4h0m3.2 0h0m0.8-0.5h0m1.5 0.7h0m0.8-0.1h0m11.1-0.4h0m1.3-0.1h0m0.5-0.1h0m2.6 0.8h0m4-0.7h0m1.7 0.8h0m7.4-0.7h0m0.6 0.6h0m2.1-0.8h0m3.7 0.5h0m2.5-0.1h0m2.4-0.3h0m8.2 0.7h0m0.9-0.2h0m0.4-0.2h0m0.3-0.5h0m0 0.2h0m11.2 0.4h0m0.4-0.3h0m1.5 0.6h0m6.7-0.6h0m3.4-0.3h0m12.7 0.5h0m2.5-0.3h0m-568.3 1.6h0m0.3-0.4h0m4.9-0.2h0m0.1 0.6h0m11.6-0.5h0m0.5-0.2h0m1.9 0.7h0m0.8-0.2h0m0.1-0.1h0m1.8-0.5h0m1.6 0.9h0m4-0.4h0m3.6-0.4h0m1.3 0.6h0m4.2-0.6h0m0.3 0h0m7.5-0.1h0m0.4 0.2h0m2.2 0.8h0m0.8-0.6h0m3.3-0.4h0m0.7 0.9h0m0.2-0.4h0m0.2-0.1h0m0.3 0.6h0m0.1-0.8h0m0.4 0.5h0m2.8-0.3h0m0.1-0.2h0m1.2 0.7h0m3.1-0.1h0m4.5-0.6h0m4.5 0h0m0.3 0.3h0m1.9-0.4h0m0.2 0.5h0m0.7 0h0m0.1-0.4h0m0.5 0.4h0m0.5-0.3h0m0.2-0.2h0m3.4 0.5h0m0.3-0.4h0m0 0.6h0m0.1-0.2h0m0.3 0.3h0m2-0.6h0m0.2-0.1h0m3.7 0.7h0m1.9 0h0m1.6-0.8h0m0.5 0.8h0m0.6-0.8h0m0.3 0.4h0m0.4-0.3h0m0.8 0.1h0m0 0.3h0m2.4 0h0m1 0.2h0m0-0.2h0m0.3 0.2h0m1.7-0.7h0m0.1 0.5h0m1.2-0.1h0m0.8-0.3h0m0.2 0.8h0m1.7-0.6h0m0-0.3h0m0.4 0.4h0m0.9 0.3h0m1-0.5h0m0.1 0h0m5.5 0.2h0m1.6-0.4h0m0.1 0.8h0m0.4 0h0m0.1-0.3h0m0.1-0.5h0m0.3 0.2h0m0 0.6h0m0.3-0.2h0m1.2 0.2h0m0.3-0.5h0m0.3 0.2h0m0.2 0.3h0m0.1-0.3h0m0.3-0.2h0m0.4-0.1h0m0.3 0.2h0m0 0.3h0m0.2 0h0m0.2-0.6h0m3 0.2h0m0.5 0.6h0m0.5-0.2h0m0.4 0.1h0m2-0.6h0m1.1 0.5h0m0.5-0.5h0m1.9 0.5h0m0.4-0.4h0m0.5 0.1h0m0.9 0.3h0m0.4-0.5h0m0.2 0.6h0m1.5-0.8h0m0.5 0.4h0m0.8-0.3h0m2.6 0.7h0m0 0h0m0.1-0.2h0m0.7 0.2h0m0.9-0.2h0m0.4-0.7h0m0.5 0.5h0m1.3-0.3h0m0.4 0.1h0m0.1 0.4h0m0-0.2h0m1.5-0.5h0m0.3 0.9h0m0.1-0.7h0m237.7 0.8h0m0.3-0.4h0m0.7 0.1h0m0.7-0.2h0m0.1-0.1h0m0.1 0.6h0m0.4-0.7h0m1.7-0.1h0m0.4 0.6h0m0.3-0.5h0m0.5-0.1h0m0.5 0.5h0m0.6-0.2h0m0.2 0.4h0m0.2-0.6h0m1.1 0.3h0m0.2 0.1h0m0.1 0h0m0.5 0.1h0m0.1 0.1h0m1.3-0.7h0m4.8 0.7h0m1.5-0.2h0m1.4-0.5h0m0.9 0.5h0m2.1 0.2h0m0-0.1h0m1.1 0.1h0m2.3 0.1h0m0-0.3h0m0.1-0.1h0m1.1 0.2h0m1.5-0.3h0m1.3-0.1h0m5-0.2h0m1.7-0.1h0m1 0.8h0m0.3-0.3h0m1.1 0.3h0m0.2-0.7h0m0.3 0h0m0 0.6h0m3-0.4h0m0.5 0.4h0m1.3 0.1h0m1.7 0h0m0.3-0.1h0m0.1 0.1h0m1.4-0.8h0m0.4-0.1h0m0 0.3h0m3.4-0.3h0m0.1 0.3h0m0.7 0.6h0m3.3 0.1h0m0.1 0h0m0.3-0.4h0m2.7-0.2h0m0.5-0.3h0m0.2 0.4h0m0.4 0h0m4 0.4h0m2-0.8h0m1.9 0.6h0m2.1 0h0m0.9-0.3h0m0.1 0.6h0m4.8-0.7h0m0.8 0.7h0m1.6-0.3h0m0.2-0.5h0m0.2 0.2h0m0.4 0.2h0m0.5-0.1h0m2.8 0h0m0.2 0.3h0m1.3-0.8h0m6.1 0.9h0m0.3-0.9h0m0.8 0.3h0m0.1 0h0m2.7 0.5h0m5.6-0.4h0m0.3 0.5h0m2.9-0.4h0m1.1-0.4h0m2.1 0.1h0m0 0.4h0m0.9-0.3h0m0.3 0.3h0m0.9-0.4h0m0.2 0.6h0m3.7-0.1h0m0.4-0.3h0m1.8 0h0m2.7-0.1h0m1.4 0.5h0m0.3-0.2h0m3.5 0.1h0m10.3-0.2h0m1.8 0.4h0m4.8-0.1h0m1.6 0.2h0m3.5-0.7h0m0.2 0.5h0m3-0.2h0m0-0.4h0m3.4 0.2h0m0.3 0.5h0m1.7-0.3h0m3.1-0.4h0m4.5 0.3h0m2.2-0.4h0m0 0.9h0m12.3-0.8h0m3.8-0.2h0m0.6 0.1h0m0.4 0.9h0m0-0.3h0m1.1-0.4h0m2.8 0h0m0.9-0.1h0m0.4 0.2h0m3 0.5h0m-561 0.2h0m4 0h0m3.1 0.5h0m4.4 0.1h0m6-0.3h0m9.6-0.1h0m10.8 0.5h0m2.1-0.3h0m1.5 0h0m3.3 0h0m1.1 0.1h0m1.9 0h0m0.4 0.3h0m7-0.3h0m5.4-0.5h0m0.2 0.8h0m4.6-0.8h0m0 0.3h0m2.9-0.1h0m0.7 0h0m2.3 0.5h0m1.1-0.6h0m3.7 0.5h0m0-0.7h0m0.8 0.7h0m0.2 0.1h0m3-0.3h0m0.1 0.4h0m0.1-0.8h0m2.9 0h0m1.2 0.3h0m1.4 0.2h0m0.1 0.1h0m2.7-0.2h0m0-0.4h0m0.1 0.4h0m0 0.2h0m2.5-0.6h0m0.5 0h0m0.3 0.4h0m0.3-0.3h0m0.9 0.4h0m6 0.1h0m0.2-0.1h0m0.6 0.3h0m0.7-0.8h0m0.3 0.5h0m0 0.3h0m0.2-0.7h0m0.5 0.1h0m0-0.1h0m0.3 0.5h0m5.3-0.7h0m0.3 0.8h0m0.4-0.6h0m0.6 0h0m2.7 0.7h0m1.2-0.7h0m4.3 0.6h0m0.3-0.5h0m0.7-0.1h0m0-0.1h0m1.3 0.3h0m0.8-0.2h0m3.3-0.1h0m1.5 0h0m1.3 0.8h0m1.5-0.3h0m0-0.4h0m0.5 0.3h0m0.3-0.2h0m0.4 0.4h0m0-0.4h0m0.3 0.3h0m1.1-0.1h0m1 0.3h0m0.4-0.4h0m0.2 0.2h0m0.1 0.3h0m0-0.1h0m0.1-0.6h0m0.2 0.7h0m0.6 0h0m0.3-0.2h0m0.5-0.6h0m2.8 0.2h0m0.1 0.4h0m0.9 0.1h0m0.2-0.1h0m237.9 0.2h0m2.2-0.1h0m0.1-0.5h0m0.2 0h0m0.2 0.2h0m1.3 0.2h0m2.3-0.2h0m1.4 0.1h0m0.5-0.5h0m0.4 0.2h0m0.1 0.1h0m0.9-0.3h0m0.1 0.8h0m2.9-0.3h0m0.2 0.2h0m0.3 0.1h0m0.2-0.9h0m0.5 0.7h0m0.4 0h0m0.2-0.2h0m2.1-0.5h0m0.3 0.5h0m0.4 0h0m0.1-0.5h0m0.1 0.1h0m0.1 0.2h0m0.7 0.2h0m1.5 0.2h0m0.2 0.1h0m1.3 0h0m1-0.1h0m1.8-0.6h0m1.3 0.4h0m1.2 0h0m0 0h0m1.2-0.4h0m1.2 0.4h0m0.3-0.1h0m0.3 0.3h0m0.3 0.2h0m4.1-0.5h0m0.6 0h0m1.7-0.3h0m0.2 0.4h0m0.2 0.3h0m0.3-0.7h0m0.7 0.1h0m0.5 0.6h0m0.1-0.2h0m2.8 0h0m0.2-0.3h0m4.5 0.2h0m2.9 0.2h0m0.1-0.2h0m0.3 0.1h0m1.6 0h0m1.2-0.5h0m0.8 0.7h0m0-0.7h0m1.1 0.5h0m0.3 0.1h0m0.6-0.2h0m0.1-0.1h0m1.4 0.4h0m1.1 0h0m2.6-0.5h0m0.9-0.2h0m2 0.5h0m1.3-0.4h0m2.1 0.2h0m1.8-0.3h0m0.2 0.7h0m3.9 0.1h0m2.5-0.8h0m3.5 0.3h0m0.4 0.4h0m1.3-0.7h0m0.5 0.1h0m0.2 0.5h0m1.1-0.5h0m1.2 0.1h0m2.2-0.3h0m0.4 0.3h0m3 0.6h0m0.5-0.4h0m3.1 0.2h0m2-0.3h0m3.4 0.1h0m3.5-0.3h0m0.7-0.2h0m0.4 0.8h0m10.5-0.4h0m2-0.2h0m2.5 0.4h0m3.7 0.1h0m0.8-0.6h0m0.3 0.1h0m0.5 0.1h0m5.6-0.3h0m0.4 0.2h0m0.5 0.1h0m5.9 0.1h0m4.1 0h0m1 0.4h0m0.3-0.5h0m2.4 0.5h0m1.3-0.1h0m2.9-0.2h0m1.3-0.2h0m0.2-0.3h0m7.9 0.6h0m0.6-0.4h0m2 0.5h0m9.4 0h0m8.4 0.1h0m5.6-0.7h0m2.1 0.6h0m2-0.3h0m2.2-0.4h0m0.9 0.4h0m0.8 0.1h0m3.6 0.4h0m-481.1 1h0m9.8 0h0m7.4 0h0m6.2 0h0m9.8 0h0m12.4 0h0m11.1 0h0m246.5 0h0m2 0.1h0m2.1-0.1h0m13.7 0h0m4.9 0h0m1.6 0.1h0m9.7-0.1h0m23.2 0h0m11.5 0h0m21.8 0h0m15.2 0h0m11.6 0h0m5 0h0m2.6 0.1h0m-512.4 0.5h0m0.7-0.1h0m5.5 0.2h0m6.4 0h0m0.5-0.4h0m0.9 0.7h0m0.1-0.2h0m3.1 0h0m7.4-0.2h0m1.3 0.1h0m6.9 0h0m8.2 0.4h0m1.5-1h0m1 0h0m1.9 0.8h0m0.5-0.8h0m15.9 0.9h0m0.5-0.4h0m2-0.4h0m0.3 0.8h0m4.3-0.6h0m0.8 0.2h0m2.1-0.2h0m1.2 0.6h0m1-0.3h0m3.8-0.3h0m0-0.2h0m3 0.4h0m6.8 0.3h0m2.7-0.4h0m1.8-0.1h0m0.2 0.4h0m1.8-0.5h0m2.8 0.2h0m1.3 0.2h0m6.3-0.1h0m1.4-0.3h0m1.9 0.6h0m1-0.1h0m2.8-0.5h0m1.9 0.3h0m3.4-0.1h0m3.9 0.4h0m0-0.1h0m0.7 0.1h0m0.1 0.1h0m0.2-0.1h0m0.3-0.7h0m2.8 0.4h0m0.1 0.2h0m0.6-0.1h0m1.9-0.1h0m0.6-0.4h0m1.2 0.2h0m1.2 0.1h0m1.6 0.3h0m0.5-0.1h0m0.5 0.1h0m2.5-0.4h0m0.2 0.6h0m1.8-0.8h0m0.6 0.4h0m0.2 0.2h0m1.8 0.1h0m1.8-0.4h0m0 0.1h0m0.4 0.4h0m1.5-0.3h0m0.2 0.3h0m0.1-0.6h0m0.5 0.5h0m0.7-0.1h0m1.1-0.1h0m1.2-0.5h0m1.3 0.3h0m0.5 0.1h0m0.1-0.4h0m223.2 0.4h0m0.8-0.2h0m0.1-0.2h0m1.9 0.6h0m0.4 0.2h0m1.8-0.6h0m0.4 0h0m0.1 0h0m1.6-0.3h0m0 0.7h0m0.3 0.1h0m0 0h0m0.5 0h0m0.1 0.1h0m0.5-0.2h0m0.6 0h0m2.8-0.5h0m0.4 0.6h0m0.1-0.5h0m1.1 0h0m2.4 0.5h0m1.4 0.1h0m0.3-0.9h0m1.7 0.3h0m0.4 0h0m1.1-0.2h0m2 0h0m0.9 0.8h0m3.7-0.4h0m0.6 0.3h0m0.1-0.1h0m1.3-0.1h0m2.7 0.3h0m0.7 0h0m4.1 0.1h0m0.1-0.8h0m1.9 0h0m1.5 0.8h0m2.7-0.5h0m0.3-0.3h0m0.5 0.6h0m0.1-0.2h0m1.5-0.2h0m0.1-0.3h0m3 0.1h0m8.4 0.1h0m3.6 0.6h0m3.5-0.8h0m0.6 0.6h0m3.6-0.1h0m3.1 0.2h0m1.2-0.6h0m0.3 0.2h0m1.9-0.2h0m1 0.6h0m0.7 0.1h0m3.3-0.6h0m0 0.5h0m3.8-0.5h0m0.4 0.3h0m3.7-0.3h0m0.2-0.1h0m0.4 0.5h0m0.3-0.2h0m3.8-0.4h0m0.1 0.7h0m0.1 0.1h0m7-0.3h0m0.1 0.2h0m0.7 0h0m0.3-0.2h0m0.3-0.1h0m4.3-0.4h0m1.8 0.5h0m1-0.1h0m0.1 0.3h0m1.2-0.2h0m6.7 0.3h0m0.2-0.1h0m0.5-0.4h0m0.3-0.3h0m3.3 0.5h0m0.2-0.4h0m4.4 0.4h0m2.1 0.3h0m0.1-0.6h0m0.9-0.2h0m0.3 0.8h0m2.4 0h0m0.4-0.4h0m0.8-0.2h0m5.2-0.2h0m1.5 0.2h0m2.8 0.2h0m2.5-0.4h0m0.6 0.6h0m4-0.6h0m0.1-0.1h0m6.6 0.5h0m2.4 0.5h0m5.6-1h0m4 0.7h0m0.5-0.1h0m1.6 0h0m1.7-0.5h0m0.8 0.8h0m15-0.8h0m1.9 0.6h0m-558 1h0m14.5-0.3h0m4.4-0.1h0m23.2 0.6h0m3.7-0.8h0m6.6 0.2h0m9 0.1h0m0.4 0.2h0m16.3-0.4h0m3.5 0.6h0m0.7-0.7h0m2.4 0.3h0m1.8 0.4h0m1.4-0.1h0m1.7 0h0m0.1 0.1h0m6.8-0.5h0m0.9 0.3h0m0.6 0.4h0m2.1-0.9h0m0 0.3h0m1.7 0.1h0m2.5 0.2h0m0-0.5h0m0.9 0.6h0m5 0.2h0m0.5-0.3h0m0.2 0.2h0m1.4-0.5h0m0.6 0h0m1.5 0.1h0m1.5 0.2h0m1.6 0h0m1.1-0.2h0m1.5 0.3h0m0.1-0.2h0m0.3 0.3h0m0.1-0.2h0m0.3 0.1h0m0 0h0m0.2-0.1h0m0.8-0.5h0m3.8 0.6h0m0.6-0.5h0m2.2-0.3h0m0.6 0h0m0.3 0.4h0m0.7-0.4h0m0.6 1h0m4.2 0h0m1.4-1h0m0 0.4h0m1.2-0.1h0m0.6-0.3h0m2 0.7h0m0-0.2h0m0.3-0.3h0m0.2 0.2h0m2.3 0.3h0m1.4-0.4h0m0.5 0.2h0m0.2 0.5h0m0.9-0.2h0m0-0.6h0m222.8 0.3h0m0.6 0.2h0m1-0.6h0m0.5 0.2h0m1.4 0.4h0m0.3 0.2h0m0-0.5h0m4 0.3h0m0.7-0.4h0m0.1 0.7h0m1.4-0.9h0m1.7 0.2h0m0.8 0.1h0m0.6 0.4h0m1-0.7h0m1.3 0.3h0m0.7 0h0m1.8 0.1h0m1.8-0.4h0m1.1 0.6h0m1 0.1h0m0.1-0.7h0m2.1 0.1h0m0.5 0.1h0m0.6 0.6h0m0.2-0.1h0m0.3-0.2h0m0.1-0.3h0m0.3 0.4h0m0.1 0.3h0m0.1-0.1h0m1.6-0.6h0m0.9-0.3h0m4 0.1h0m1.3 0.2h0m1.4 0.4h0m1.6-0.4h0m0.1-0.3h0m0.3 0.8h0m0.1 0.1h0m1.7-0.8h0m1.6 0.5h0m0.8-0.4h0m0.2 0.7h0m1.4-0.4h0m0.1-0.3h0m1.1 0.1h0m0.9 0.4h0m0.1 0h0m3.4-0.1h0m0.7-0.6h0m3 0.9h0m0.2-0.8h0m0.3 0.9h0m0.2-0.9h0m0.3 0.4h0m3.3 0.3h0m3.8-0.4h0m0.4-0.4h0m0.2 0.2h0m0.6 0.2h0m1.8-0.3h0m0 0.9h0m0.6-0.1h0m0.1-0.2h0m0.9-0.5h0m2.1 0.4h0m2.6-0.3h0m0.2 0.7h0m1.1-0.7h0m2.3 0.6h0m0.4-0.9h0m1.5 0.3h0m1.4-0.2h0m2.4 0.8h0m1.2-0.4h0m5.3 0h0m3 0.3h0m1.3-0.3h0m2.2 0.4h0m1-0.1h0m0.6-0.7h0m3.5 0.7h0m2.2-0.1h0m1.7 0.1h0m0.6 0h0m1.4-0.7h0m1.6 0.7h0m0.7-0.4h0m2.7 0.1h0m3.5 0h0m6 0.5h0m2-0.6h0m1.7-0.3h0m0.4 0.9h0m1.4-0.5h0m0.8-0.1h0m1.8 0.1h0m6.7 0.3h0m1.1-0.7h0m2.2 0.2h0m11.9 0h0m1.6 0.5h0m6.6-0.7h0m0.3 0.7h0m7.1-0.6h0m1 0.8h0m1-0.7h0m12.5 0.6h0m10.5 0h0m-562.1 0.4h0m17.1 0.6h0m4 0h0m21.9-0.2h0m2.4 0h0m6.2 0.1h0m3.8-0.3h0m2.6-0.5h0m3.2 0.3h0m0-0.1h0m0.6 0h0m3.8 0.4h0m0.5-0.1h0m3.8-0.4h0m1 0.4h0m4.2 0.1h0m4.1-0.2h0m3.5-0.1h0m0.4 0h0m0.7 0.6h0m2.4-0.2h0m1-0.5h0m5.8 0.7h0m1.9-0.7h0m0.5 0.4h0m2.7 0.3h0m4.2 0h0m1.3-0.4h0m3.4 0h0m0.7 0.3h0m2.4-0.7h0m0.9 0.5h0m0.9 0.3h0m1.3-0.3h0m0.3 0.1h0m1.1 0.2h0m1.4-0.6h0m2.2-0.1h0m0.8 0.2h0m7 0.2h0m0.3 0.1h0m0.2 0.2h0m3-0.3h0m1.9 0.1h0m0.6-0.7h0m1.8 0.7h0m1.1-0.7h0m0.2 0.4h0m0.2 0h0m2.7 0h0m1.8 0.3h0m0.1-0.4h0m1.4 0.5h0m0.8-0.2h0m0.1 0.3h0m1.3-0.4h0m0.1 0.1h0m1.4-0.1h0m0.1-0.3h0m2.2-0.1h0m0.2 0.1h0m2.1 0.6h0m0.8-0.7h0m1.2 0.4h0m0.3 0.1h0m0.1-0.4h0m221.1 0.6h0m0.3-0.6h0m1.3 0.5h0m0.3-0.3h0m0.1 0.2h0m0.2 0.2h0m0.2-0.8h0m0.4 0h0m1.3 0.1h0m0.2 0.7h0m0.5-0.6h0m0.5 0.3h0m0.3-0.4h0m0.3 0.3h0m0.5 0.5h0m0.1-0.9h0m2 0.1h0m0 0.5h0m0.1-0.5h0m0.3 0.5h0m1.1 0h0m0.7-0.2h0m1.9 0.5h0m0.2-0.5h0m0.2 0.4h0m4.1 0.1h0m0.2-0.6h0m0.4-0.2h0m0.3 0.8h0m0.1-0.6h0m0.7-0.1h0m0 0.2h0m1.4 0.1h0m0.2 0.1h0m1.2 0.2h0m1.2 0.1h0m1.1 0h0m0-0.5h0m1.4 0.2h0m0.3 0.1h0m0.5 0.1h0m2.1-0.2h0m0.3 0.3h0m1-0.6h0m1.3-0.2h0m1.1 0.7h0m0.9-0.3h0m0.5 0.4h0m0.6-0.4h0m1 0.1h0m2.5 0.2h0m0.8-0.4h0m2 0h0m0.1-0.3h0m0.4 0.6h0m0.4 0h0m1 0.1h0m2.1-0.2h0m1.1 0.3h0m0.8-0.7h0m0.6 0.2h0m1.2-0.3h0m0.9 0.1h0m0.8 0h0m2.3 0.2h0m1.6 0.5h0m1.2-0.4h0m1.3-0.4h0m1 0.4h0m1.4-0.1h0m3 0.5h0m0.6 0h0m2.4-0.3h0m0.1-0.4h0m1.8 0.7h0m0-0.9h0m0.6 0.7h0m1.3-0.2h0m0.5 0.1h0m0.1-0.2h0m0.2-0.3h0m0.4 0.7h0m0.1-0.6h0m0.4 0.5h0m3.1-0.6h0m1.8 0.2h0m1.1 0h0m0.1 0.4h0m1.3-0.7h0m0.4 0.5h0m0.8 0.3h0m0.1-0.4h0m3.1 0.3h0m7-0.5h0m0.8 0.4h0m7.7 0.1h0m3.2-0.2h0m0.3-0.2h0m4.2 0h0m4.8 0.4h0m6.3-0.5h0m4.2 0.3h0m1.4 0.2h0m0.1-0.4h0m1.2-0.1h0m5.1 0.5h0m2.7 0.1h0m2.6-0.3h0m3.6-0.5h0m3.5 0.8h0m2.1-0.6h0m1.5 0.4h0m1.6 0.2h0m2.9-0.1h0m0.2-0.3h0m0.4 0.4h0m4.3-0.3h0m4.7 0.2h0m6.4 0.2h0m15.7 0h0m0.9-0.5h0m2.9 0.2h0m2-0.4h0m3.3 0.3h0m0.8 0h0m2 0.1h0m-482.1 1.3h0m26.8 0h0m1 0h0m11.1 0h0m4.3 0h0m16 0h0m5.3 0h0m3.6 0.1h0m224.2 0h0m0.5-0.1h0m6 0h0m5.2 0.1h0m0.4-0.1h0m4.3 0h0m1.8 0h0m5.1 0h0m17.3 0.1h0m1.4-0.1h0m0.1 0h0m17.5 0h0m8.4 0.1h0m23.4-0.1h0m2.3 0h0m78 0h0m-530 0.6h0m0.4-0.4h0m48.5 0.8h0m4.3 0h0m0.5 0h0m5.2-0.5h0m10.2-0.2h0m1.7 0.7h0m3.5 0.1h0m6.4-0.2h0m0.3-0.1h0m13.2-0.6h0m3.8 0.9h0m4-0.6h0m0.1-0.2h0m3.1 0.2h0m0.1 0h0m1.3 0h0m5.8 0.1h0m1.7 0.2h0m0.3-0.4h0m2.4 0h0m5-0.1h0m2.4 0.7h0m0.2-0.6h0m0.5 0.4h0m3.3-0.4h0m0.6-0.3h0m1.5 0.2h0m3 0.8h0m0.7-1h0m0.1 0.8h0m3.4-0.2h0m4.3-0.5h0m3.5 0.8h0m0.1 0h0m0.1-0.3h0m2.7 0.3h0m0.6-0.3h0m0.1 0h0m0.4 0.3h0m0.3-0.7h0m0.3 0.3h0m0.6-0.5h0m1.8 0.4h0m0.8-0.4h0m0.6 0.5h0m0.3-0.2h0m0.4 0.1h0m204.2 0.1h0m0.3 0h0m1.1 0h0m1.6-0.2h0m0 0h0m4.2 0.6h0m2.1-0.4h0m0.2-0.3h0m1.3 0.6h0m1.5-0.5h0m1.4-0.2h0m0.1 0.3h0m0.5-0.1h0m1 0.4h0m0.7 0.2h0m2.8-0.8h0m0.8 0.3h0m0 0.1h0m0-0.3h0m0.4 0h0m1.3 0.3h0m0 0.2h0m1.4 0h0m0 0.2h0m1.3-0.8h0m0.1 0.3h0m1.7 0.1h0m0.3-0.5h0m0.2 0h0m2 0.2h0m1.1 0h0m1.7-0.1h0m0.3 0.1h0m0.3-0.2h0m1.8 0h0m1.9 0.2h0m0 0.2h0m0.9-0.2h0m3.3 0.3h0m0.7-0.5h0m1.4 0.7h0m1.4-0.3h0m0.8 0.2h0m0.2-0.5h0m2.6 0.1h0m1.4 0.7h0m1.6 0.1h0m3.9-0.5h0m0.3 0.1h0m0.1-0.1h0m0.1 0h0m0.3 0.3h0m1.3-0.5h0m0.1 0.1h0m0 0.2h0m1.6 0.4h0m0.3-0.7h0m0.2-0.2h0m1.3 0h0m2.3 0.5h0m2.7-0.3h0m1.2-0.2h0m1.1 0.8h0m2.8-0.5h0m0.7 0.5h0m3.8 0h0m1-0.5h0m0.8 0.5h0m0.7-0.3h0m1.7 0h0m0.3 0.1h0m1.1-0.1h0m0.2 0.3h0m2.1 0h0m1.2-0.1h0m0.1-0.1h0m7.3-0.2h0m0.9-0.3h0m0.6 0.4h0m0.4-0.3h0m2.1 0.2h0m1.4 0h0m3.3 0.2h0m0-0.6h0m1-0.1h0m2.5 0.9h0m0.1 0h0m4.5-0.4h0m2.9 0.4h0m0.6-0.7h0m7.1-0.2h0m0.1 0.3h0m2 0h0m1.9 0.6h0m0.2-0.8h0m0.5 0.4h0m11.3-0.4h0m2.6 0.1h0m2.4 0.3h0m1.1-0.3h0m10.5 0h0m0.2 0.7h0m1-0.8h0m0 0.4h0m0.6-0.2h0m5.6-0.2h0m5.9 0.3h0m0.4-0.1h0m1.5 0.4h0m0.2 0h0m6.1-0.7h0m6.3 0.5h0m1 0.2h0m2.8-0.5h0m1.9 0.2h0m3.5-0.4h0m3 0.3h0m1-0.3h0m-561.8 1.4h0m4.4-0.3h0m7.5 0.5h0m0 0.1h0m2.5-0.4h0m4 0.5h0m37.7-0.4h0m5.7 0.1h0m2.3 0.4h0m3.7-0.6h0m0.2 0h0m9 0.1h0m8.7 0.3h0m2.7 0.2h0m19.8-0.6h0m0.1 0h0m5.3 0.2h0m3.6-0.1h0m1 0.4h0m1.8 0.1h0m1-0.3h0m0.2 0.2h0m0.4-0.7h0m4.5 0.8h0m1.7-0.6h0m2.8 0.1h0m4 0.5h0m0.2-0.1h0m1.6-0.2h0m0.3-0.3h0m1.4 0.6h0m2.4-0.5h0m1.5 0.1h0m0.7 0.1h0m1.7-0.3h0m0.3-0.2h0m4.5 0.4h0m3.7 0.1h0m1.2-0.4h0m2.9 0.4h0m0.3 0h0m0.9 0.1h0m2.4-0.1h0m0.3 0.2h0m0.4-0.5h0m0.2 0.5h0m0.4 0.1h0m0.4-0.6h0m0.2-0.1h0m0.1 0.6h0m3.4-0.1h0m0.7-0.1h0m201.4-0.4h0m0.4 0.2h0m1.7 0h0m0.2 0.1h0m0.4 0.5h0m1.2-0.3h0m0.4-0.6h0m0.3 0h0m0 0.6h0m0.3-0.1h0m0.1 0.2h0m0.8-0.2h0m2.1-0.4h0m1.2-0.1h0m0.8 0h0m0.2 0.8h0m1.6-0.3h0m0.3-0.4h0m0.7 0.5h0m0.8 0h0m1.1-0.1h0m1.8 0h0m0.5-0.4h0m0.1-0.2h0m0.8 0.7h0m2.3-0.4h0m0.4 0.5h0m0.3-0.4h0m0-0.3h0m0.7 0.8h0m2.9-0.1h0m3.3-0.3h0m0.3-0.4h0m0.5-0.1h0m0.1 0.7h0m0.4 0.2h0m0.5 0h0m3.4-0.7h0m0.1 0.4h0m3.9 0.3h0m0.5-0.6h0m0.4 0.2h0m0.2-0.2h0m0.7 0h0m1.4 0.2h0m0 0.4h0m0.1-0.9h0m0.7 0h0m1.5 0h0m1.4 0.8h0m0.4-0.1h0m0.1 0.2h0m0.4-0.7h0m0.5 0h0m0.1-0.1h0m2.6 0.1h0m1.9 0.1h0m0.7-0.1h0m2.3 0.6h0m0.4-0.7h0m3.1 0h0m3.9 0.1h0m0.1 0.3h0m2 0.2h0m1.4-0.5h0m0.2 0.1h0m0.8 0.6h0m1.3-0.1h0m0.4 0h0m0-0.5h0m4.1 0.4h0m1.8 0h0m0.8-0.1h0m1.3 0.2h0m1.6-0.4h0m3.7 0.2h0m0.6 0.3h0m2.4-0.5h0m3.6 0.5h0m3.8-0.8h0m3.3 0.8h0m0.4-0.9h0m0.1 0.5h0m3.3 0.4h0m0.9-0.3h0m2.3 0.2h0m0.7-0.4h0m0.4 0.3h0m0.4-0.4h0m2.1 0.1h0m1.3 0.3h0m3.2 0.2h0m1.8-0.7h0m7.8 0.1h0m2-0.2h0m0.9 0.7h0m1.3-0.2h0m2.4 0.1h0m1.5-0.2h0m1.6-0.5h0m1 0.3h0m0.8 0.5h0m4.1-0.3h0m2.4-0.1h0m6.5-0.2h0m1.2 0.1h0m1.2-0.3h0m3.1 0.5h0m1.9 0h0m3.4 0h0m0.1-0.4h0m0.2 0.6h0m3.7 0.2h0m0.5-0.3h0m4.6-0.5h0m10 0.4h0m8 0.4h0m1.5-0.2h0m0.6-0.7h0m5.9 0.6h0m-560.2 1.1h0m18.3 0h0m22.4-0.5h0m1.4-0.1h0m3.7 0.4h0m4.1-0.5h0m4.1 0.9h0m0.2-0.6h0m6.5 0.4h0m11.9 0.1h0m0-0.3h0m14.8 0.4h0m17.2-0.9h0m5 0.9h0m0-0.6h0m2.1-0.2h0m0.3 0.7h0m7.5 0.1h0m4.6-0.8h0m0.8 0.8h0m0.9 0h0m2.9-0.8h0m0.9 0.3h0m1.8 0.4h0m0.9 0.1h0m0.8-0.1h0m0-0.6h0m8.8 0.6h0m0.4-0.8h0m1.1 0.6h0m0.9-0.1h0m5.3 0.3h0m0.4 0.1h0m2.4-0.6h0m3.4 0.2h0m0.3 0.1h0m0.6-0.4h0m2.9 0.3h0m0.7-0.1h0m0.9-0.1h0m2.3-0.1h0m0.1 0.7h0m1-0.2h0m2.8-0.7h0m0.3 0.4h0m1.1 0.3h0m0.1-0.1h0m0.8-0.4h0m0.2 0h0m201.5 0.5h0m0.8-0.6h0m0.9 0.7h0m0.5-0.2h0m2.6 0.1h0m1 0h0m0.7-0.5h0m1.8 0.3h0m0-0.3h0m5.4-0.1h0m2.3 0.2h0m0.9 0.2h0m0.1 0h0m3.5 0.3h0m0-0.5h0m2.5 0.6h0m1.1-0.6h0m0.4-0.3h0m0.8 0.5h0m0.2 0h0m0.3 0.1h0m0.9-0.6h0m0.2 0.8h0m1.9-0.1h0m0.4-0.1h0m0.8-0.5h0m2 0h0m1 0.1h0m0 0h0m0.9 0.2h0m0.4 0.1h0m4.2 0.1h0m0.5-0.3h0m1.2 0.6h0m0 0h0m1.4-0.8h0m4.3 0.8h0m0.5-0.4h0m3.9-0.1h0m0.3-0.3h0m0 0.8h0m0.1-0.9h0m0.1 0.4h0m3.3 0.4h0m4.4-0.7h0m4 0.7h0m3.5-0.7h0m2.9 0h0m0.6 0.5h0m0.4 0.3h0m3.7-0.8h0m1 0h0m1.8 0.5h0m0.5 0.3h0m1.8-0.7h0m0.3 0h0m2.4 0.2h0m0.5-0.1h0m11.4 0.6h0m0.6-0.2h0m2.2-0.5h0m0.7-0.1h0m5.8 0.1h0m3.6 0h0m2-0.1h0m0.5 0.6h0m4.2-0.1h0m3.6 0.1h0m9-0.1h0m0.6 0h0m3.4-0.5h0m0.4 0h0m4 0.7h0m0.5-0.3h0m0.5 0h0m2.7 0.4h0m0.2-0.1h0m2.2-0.2h0m1.7 0h0m4.5 0.3h0m1.9-0.6h0m4 0.1h0m0.7 0.3h0m1.2 0.1h0m6.7-0.1h0m8.2 0.1h0m4.1-0.4h0m3 0h0m1.7-0.4h0m8 0.9h0m0.6-0.8h0m0.7 0.6h0m5.8 0.2h0m0.1 0h0m-439.6 1h0m8.9 0h0m10.3 0.1h0m30.2-0.1h0m6 0h0m3.3 0h0m188.3 0h0m1.9 0h0m3.2 0h0m8.1 0h0m4.3 0.1h0m10.9-0.1h0m16.3 0.1h0m9.4-0.1h0m15.7 0.1h0m11.7-0.1h0m7.9 0h0m3.5 0.1h0m37.8-0.1h0m2.5 0.1h0m5.4-0.1h0m14.2 0.1h0m22.9 0h0m-475.3 0.8h0m15.6-0.3h0m20.8 0h0m15.1 0.4h0m8.8-0.3h0m1.9-0.4h0m1.3-0.2h0m0.4 0.4h0m3.9 0.4h0m2.5-0.2h0m7.3 0h0m0.7-0.2h0m2.3 0h0m0.1-0.1h0m0.6 0.1h0m2.8 0.3h0m1.1-0.6h0m0.2 0.2h0m2.2 0.2h0m1.5 0.2h0m2.8-0.1h0m0.4 0.3h0m3.3-0.2h0m0.2-0.3h0m4.4 0.4h0m3.9-0.2h0m0.1 0.2h0m0.2 0.1h0m0.6-0.6h0m0-0.1h0m0.1 0.7h0m1.2-0.1h0m1.4-0.4h0m0.4 0.6h0m0.1-0.1h0m1.9-0.2h0m1.6-0.2h0m0.5 0.1h0m0.1-0.2h0m0.7-0.3h0m187.6 0.7h0m0.6 0.1h0m0.8-0.7h0m0 0.7h0m1.4 0h0m0.5-0.3h0m1.8 0.4h0m2.3-0.4h0m0.8 0.2h0m0.3-0.1h0m0.3 0.2h0m0.9 0h0m1.4-0.3h0m1.2-0.1h0m0.8-0.5h0m0.4 0.5h0m2 0.3h0m0.4-0.7h0m0.9 0h0m0.9 0.8h0m3.1-0.2h0m0.6-0.4h0m0.1 0.4h0m1.3 0.3h0m0.5-0.7h0m0.4 0.2h0m0.3-0.4h0m1.2 0.4h0m1.7 0.2h0m2 0h0m0.1 0.2h0m0.1-0.1h0m1.8 0h0m2.2-0.3h0m0.3 0.3h0m1.7-0.8h0m0.1 0.9h0m1-0.5h0m1.2-0.3h0m1.5 0.4h0m2.2-0.5h0m1.8 0.3h0m2.5 0h0m2.8 0h0m1.1 0.6h0m0.2-0.3h0m0 0.3h0m0.1-0.3h0m3.9-0.1h0m0.1 0.2h0m1.4 0h0m1.9 0h0m1.8-0.3h0m1.3-0.3h0m0.3 0.5h0m0.1-0.3h0m0.5 0.3h0m2.7-0.1h0m3.7 0.4h0m0.3-0.5h0m1.1-0.3h0m2 0.4h0m0.6 0.2h0m0.5 0.2h0m0.1-0.9h0m1.1 0.4h0m7.3-0.4h0m0.5 0h0m2 0.1h0m5 0h0m1.9 0.5h0m5.6 0.1h0m0.1 0.1h0m1.9 0.2h0m0.4-0.9h0m2 0.8h0m1.1-0.8h0m6.2 0.9h0m15.7-0.6h0m0.1 0.1h0m3.9 0.5h0m2.1-0.4h0m2.1 0.1h0m0.1 0.3h0m0-0.7h0m1-0.1h0m4.2 0h0m2.9-0.1h0m4.2 0.3h0m0.5-0.1h0m3-0.2h0m8.1 0.1h0m0.5 0.6h0m1.4-0.1h0m2.2 0.3h0m0.4-0.4h0m8.5 0h0m4 0.1h0m0.3 0.1h0m4.3-0.2h0m8.3-0.5h0m3-0.1h0m-454.2 1.2h0m11.3-0.2h0m5.9 0.1h0m1.5 0.7h0m3.4-0.1h0m6-0.7h0m14.5 0.1h0m0 0.6h0m0.4 0h0m3.9-0.3h0m1 0.6h0m5.2-0.8h0m0 0h0m0.5 0.2h0m1.4 0h0m2.4 0.5h0m1.1-0.4h0m4.2-0.3h0m1.3 0.1h0m0.1 0.6h0m2-0.8h0m0.6 0.4h0m2.5 0.1h0m1.1-0.4h0m0 0.4h0m0.4-0.1h0m0.2 0.4h0m0.1-0.3h0m0.6-0.5h0m0.1 0h0m0.4 0.3h0m3.6 0.2h0m2.1 0.2h0m0.4 0.1h0m0.3-0.8h0m0.2 0.6h0m0.9 0.2h0m185.8-0.8h0m0.4 0.1h0m0.3 0.5h0m0.9-0.2h0m0.4-0.1h0m0.4 0.2h0m0.3-0.2h0m1.1-0.3h0m0.1 0.1h0m0.3 0.2h0m0.7-0.3h0m0.1 0.6h0m0 0.2h0m1 0h0m0.5-0.8h0m1.2 0.5h0m0.2-0.1h0m0.6 0h0m0 0.1h0m0.1-0.2h0m0.5-0.4h0m0.5 0.7h0m0 0.1h0m0.6-0.1h0m0.1 0h0m0.1 0.2h0m0.2-0.6h0m1.5 0.7h0m0-0.5h0m0.3 0.5h0m1.5-0.7h0m0.3 0h0m0.3 0.3h0m1.2 0.4h0m2.4-0.3h0m0-0.6h0m0.5 0.3h0m1.2-0.1h0m1.3 0.3h0m0.4 0.4h0m0.7-0.9h0m0.5 0.1h0m1 0.8h0m0.3-0.2h0m0.6-0.8h0m4.2 1h0m0.3-0.4h0m0-0.3h0m3.1 0h0m0.3 0.3h0m0.3 0.4h0m0.1-0.2h0m0-0.1h0m0.1 0.2h0m0.5-0.6h0m0.6 0.2h0m2.4 0.4h0m0.6-0.7h0m0.3 0.6h0m0.3-0.2h0m0.4-0.1h0m0.3-0.3h0m2.9 0.3h0m0.4 0.5h0m0.1-0.5h0m0.7 0.2h0m0 0.1h0m1.3-0.4h0m0.4 0.1h0m4.4-0.4h0m6 0.4h0m2.5 0.5h0m4.8-0.1h0m1.8-0.1h0m0.1-0.8h0m1.5 0.6h0m2.5 0.3h0m1-0.9h0m1.1 0.8h0m0.1-0.4h0m0.4-0.1h0m1.4 0.4h0m0.6 0.2h0m1.5-0.4h0m2.4-0.3h0m0.6 0.4h0m1.4 0.2h0m1.8-0.7h0m0.8 0.5h0m0.3 0h0m3.3 0.1h0m1.1 0.1h0m0.7-0.2h0m6.9 0.1h0m1-0.1h0m2.9 0.3h0m0.5-0.4h0m0.5-0.1h0m4 0.4h0m4.5-0.3h0m2.4-0.2h0m0.4 0.2h0m6.7-0.1h0m1-0.4h0m0.2 0.9h0m7.1-0.7h0m1.8 0h0m1.5 0h0m2.9 0h0m0.1 0.3h0m3 0.2h0m3.4-0.6h0m0.1 0.5h0m4.1-0.1h0m0.6 0.3h0m3.7-0.6h0m2.1 0.3h0m4.8-0.5h0m1.6 0.1h0m2.1 0h0m6.2 0.1h0m7.1 0.5h0m1.1 0.1h0m2.1-0.4h0m1.3-0.1h0m2.7 0h0m3.7-0.2h0m4.7 0.3h0m1.4-0.1h0m3.9-0.1h0m-540.8 1.1h0m40.4 0.1h0m0.7-0.3h0m2.2 0.7h0m18.8-0.7h0m26.5 0.8h0m6.7-0.1h0m0.9-0.8h0m2.5 0.2h0m8.2 0.1h0m3.8-0.3h0m0.3 0.6h0m1.1-0.1h0m2.6 0h0m0.5 0h0m1-0.1h0m0.2 0.5h0m1.8-0.4h0m6-0.4h0m2 0.3h0m0.7 0.2h0m0.2 0.1h0m0.3-0.4h0m0.9 0.6h0m3-0.1h0m3.2 0.1h0m4.7-0.3h0m1-0.2h0m2.6 0.2h0m0.2 0.2h0m4.1-0.7h0m0 0.3h0m0.3 0.5h0m0.4-0.2h0m2.3-0.4h0m0.2 0.3h0m0.3-0.3h0m1.9 0.1h0m0.5 0.3h0m1.3 0.2h0m0.1-0.5h0m0.2 0h0m1.4 0.4h0m0.7-0.2h0m0.1 0.3h0m2.2-0.6h0m0 0.6h0m1.2-0.2h0m0.4-0.5h0m1.5 0.4h0m0.9 0.2h0m0.6-0.4h0m1.2 0.2h0m185.4-0.4h0m0 0.7h0m1.1-0.2h0m0.2 0.1h0m0-0.3h0m0.2-0.2h0m0.5 0.4h0m2.1 0.2h0m0.7-0.6h0m0.1 0.5h0m1.9 0h0m1.1 0h0m0.8-0.8h0m0.4 0h0m0.2 0.2h0m0.9 0.2h0m0.7-0.2h0m1.4-0.1h0m0.4 0h0m0.2-0.1h0m0.6 0.8h0m0.1 0.1h0m0.4-0.3h0m0.2 0.1h0m0.4-0.7h0m1.4 0h0m1.1 0.8h0m0.2-0.7h0m0.8 0h0m0.7 0.3h0m0.1-0.1h0m1.1 0h0m1.9 0.2h0m0.1-0.1h0m1.9 0.5h0m0.5-0.9h0m1.9 0.5h0m0.2-0.3h0m0 0.1h0m1.6 0.3h0m0.3 0.3h0m0.1-0.4h0m0.7-0.2h0m0.8 0.1h0m0.6-0.3h0m2.7 0.5h0m2.8-0.1h0m0.1-0.1h0m0.9 0.5h0m0.8-0.8h0m3 0.5h0m3.6-0.6h0m0.1 0.5h0m0.3-0.3h0m9.1-0.1h0m0.2 0.6h0m0.7 0.2h0m1-0.7h0m1.1-0.1h0m0.1 0.3h0m3.9 0.5h0m0.9-0.7h0m2.7 0.5h0m1-0.5h0m1.3 0.4h0m2.4 0.2h0m0.3-0.2h0m2.3-0.1h0m0.3 0.3h0m0-0.3h0m4.6 0.2h0m4-0.2h0m0.7 0.1h0m3.3 0h0m1.5 0.2h0m10.1-0.7h0m1.7 0.1h0m4-0.1h0m0.8 0.4h0m2 0.3h0m1.6-0.2h0m2.6 0h0m3.1-0.3h0m0.1-0.2h0m0.6-0.1h0m3.9 0.6h0m0.6 0.1h0m1.1 0.2h0m0.4-0.1h0m1.5-0.6h0m1.9 0.3h0m12-0.3h0m2.8 0.2h0m0.5-0.3h0m2.3 0h0m2 0.7h0m10.6-0.4h0m4.9 0.1h0m4.7 0.4h0m0.4-0.4h0m6.7-0.2h0m0.9 0h0m4.4 0.1h0m0.3 0h0m6.5 0.2h0m8.3-0.2h0m-392.3 1.6h0m9.4-0.1h0m12 0h0m7.9 0h0m3.7 0h0m15.8 0h0m2.1 0h0m56.5 0.1h0m13.4-0.1h0m7.6 0.1h0m6.7-0.1h0m0.9 0h0m13.5 0h0m11.3 0h0m8.4 0h0m7.4 0h0m12.7 0.1h0m1.7-0.1h0m9.9 0h0m0.5 0h0m14.5 0h0m12.7 0h0m8.5 0h0m6 0h0m0.7 0.1h0m0.4 0h0m0.1-0.1h0m8.2 0h0m0.4 0h0m6.4 0h0m3.6 0.1h0m2 0h0m12.1-0.1h0m4.2 0h0m2.6 0.1h0m1.2-0.1h0m14.9 0h0m33.6 0.1h0m9.7-0.1h0m12.7 0.1h0m-440.6 1h0m24.6-0.2h0m25.1-0.2h0m3.6 0.3h0m3.8-0.2h0m8-0.1h0m0.8-0.6h0m5.4 0.1h0m0.2 0h0m2.3 0h0m14.5 0.5h0m0.1-0.5h0m0.6 0.7h0m2.6-0.7h0m0.9 0.9h0m0.1-0.5h0m0.3 0.4h0m0.2-0.4h0m0.5 0.1h0m0-0.1h0m0.5-0.2h0m2.4 0.6h0m0.8-0.9h0m3.7 1h0m0.2-0.8h0m2.3-0.2h0m0 0.9h0m0.1-0.8h0m0.6 0.9h0m0.7-0.6h0m0.3-0.2h0m0.3-0.1h0m2.3 0.1h0m2.5 0.2h0m1.3-0.2h0m0.6 0.5h0m0.3-0.4h0m0.2 0.1h0m1.5-0.3h0m2.4 0.7h0m0.1 0.1h0m1.1-0.8h0m1.5 0.7h0m0.1-0.3h0m0.5-0.1h0m0.9 0.2h0m0.7-0.6h0m1.8 0.9h0m0.6 0h0m0.2-0.8h0m0.7 0.8h0m0.5-0.9h0m0.7 0.3h0m0.3 0.5h0m1-0.8h0m1.1 0.9h0m0-0.3h0m0.9 0.2h0m0.1-0.7h0m2.2 0.4h0m0.2 0.1h0m0.2 0.2h0m0.1 0.2h0m3.3-0.3h0m1.2-0.4h0m0.6-0.2h0m0.1 0.4h0m54.1-0.5h0m0.6 0.1h0m0 0h0m0.8 0.1h0m2.8 0.7h0m0.4 0.1h0m1-0.6h0m0.7 0.6h0m0.5-0.5h0m0.1 0.1h0m1.8-0.5h0m0.3-0.1h0m0.4 0.3h0m0.9 0.1h0m0.3 0.3h0m2.6-0.7h0m0.3 0.1h0m0.1 0.4h0m1.2-0.3h0m1.4 0.3h0m1.7 0h0m0.6-0.5h0m0 0.7h0m1.5-0.3h0m1.4 0h0m0.3 0.5h0m0.6-0.9h0m1.8 0.2h0m0.1 0.5h0m1.3-0.2h0m0.6 0h0m0.4-0.3h0m1.7 0.2h0m0.1 0.2h0m0.1-0.2h0m0.2-0.2h0m0.9 0h0m1 0.1h0m2.6 0.2h0m0.1 0h0m0.4-0.2h0m2.6 0.2h0m1.8 0.1h0m0.5 0h0m2.2-0.2h0m0.5-0.3h0m0.7 0.4h0m0.3 0h0m0.2 0.5h0m1.9-0.8h0m1.2-0.1h0m0.8 0.5h0m0.1-0.3h0m4.3 0.1h0m1.2 0.3h0m0.1 0.2h0m1.8-0.5h0m0.4 0h0m0.3-0.1h0m1.5 0.6h0m4.8-0.1h0m0.2-0.6h0m0.1-0.1h0m0.5 0.7h0m1-0.1h0m1.5 0.2h0m1-0.6h0m0.1 0.4h0m1.4-0.2h0m1.5 0.2h0m1 0.1h0m0-0.6h0m1 0h0m2.3 0.3h0m0.5-0.2h0m0.7-0.2h0m0.8 0.8h0m1.6-0.2h0m0.3-0.6h0m0.3 0.8h0m1.9-0.8h0m1.9 0.8h0m1.3-0.4h0m0.3-0.3h0m2.1 0.1h0m0.4 0.5h0m0.1 0h0m1.7-0.5h0m0.4 0.2h0m2.2 0.4h0m1.3-0.5h0m0.4-0.3h0m1.4 0.4h0m1.9 0.4h0m2.1-0.5h0m0.1 0h0m0.2 0.2h0m0.2-0.5h0m0.2 0.4h0m0.4 0.4h0m1.2 0h0m2.2-0.4h0m0.5 0.1h0m3 0.2h0m0.8-0.5h0m0 0.1h0m0.6 0.1h0m2.8-0.1h0m0.3 0.5h0m1.3 0h0m0.6-0.1h0m2.6-0.3h0m0.7 0.2h0m0.1-0.2h0m2.9 0.1h0m0.2 0.1h0m0.5 0.3h0m4.7-0.4h0m3.9 0.2h0m0.5-0.1h0m0.4 0h0m6.8-0.6h0m2.5 0.8h0m1.2-0.8h0m3.1 0.3h0m1 0.4h0m3.8-0.3h0m0.3 0.2h0m2.7-0.3h0m1.2 0.6h0m12-0.3h0m3 0.3h0m1.4-0.6h0m0.1 0.1h0m3.9 0.2h0m0.8 0.2h0m1.5-0.2h0m2.1-0.1h0m0.1 0.4h0m4.5-0.1h0m1.1-0.1h0m2-0.6h0m3.9 0.3h0m0.7 0.4h0m0.1-0.2h0m1.8 0h0m4.6-0.5h0m0.3 0.2h0m0.3 0h0m1.2-0.1h0m1.2 0.6h0m0.7-0.5h0m4.3 0.6h0m4.3-0.5h0m0.9 0.2h0m1.7-0.4h0m6.8 0h0m1.3-0.1h0m0 0.1h0m3.9 0h0m4.4 0.2h0m4.2 0.5h0m2.2-0.1h0m2.8-0.6h0m0.6 0.4h0m2.5 0.2h0m7.7-0.4h0m7.5 0.1h0m0.1 0.2h0m0.1 0.1h0m2.2 0h0m6.3-0.2h0m6-0.4h0m3.4 0.4h0m0.1-0.1h0m0.6-0.1h0m2.1-0.4h0m0.1 0.9h0m5.6-1h0m4.1 0.2h0m6.5 0.1h0m-452.6 1.5h0m19.9 0h0m1.2-0.3h0m7.5 0.2h0m5.4-0.1h0m1.9 0h0m1.5-0.6h0m2.1 0.4h0m0.8 0.3h0m1.8-0.3h0m2.7 0.2h0m4.1-0.6h0m3.1 0.2h0m6.4 0.6h0m2.2-0.7h0m1.1 0.1h0m1.7 0.1h0m0.6 0.4h0m0.6-0.7h0m3.4 0.8h0m4.4-0.2h0m0 0.2h0m3.3-0.5h0m0.1-0.1h0m0.9 0.6h0m0.4 0h0m0.4-0.3h0m2.5-0.2h0m0.3 0.7h0m0-0.3h0m1.4 0h0m0.1 0.2h0m0.2-0.8h0m1.4 0.3h0m0.1 0.2h0m1.1 0.4h0m0.8-0.9h0m3 0.3h0m0.3-0.2h0m0.8 0.3h0m0.8 0.4h0m1.4-0.6h0m0.3 0.1h0m0.3-0.3h0m0.5 0.5h0m0.8 0h0m0-0.1h0m0.6 0.1h0m0.1-0.2h0m2.3-0.3h0m0.3 0.6h0m0.8-0.2h0m0.1 0.2h0m2.1-0.5h0m0.4 0.8h0m0.5-0.4h0m0.3-0.1h0m0.1-0.1h0m0.1-0.2h0m0.4 0.8h0m0.5-1h0m0.2 0.8h0m1.8-0.7h0m0.2 0.8h0m0.1-0.1h0m0.5-0.1h0m0.7 0.2h0m0.4-0.7h0m1.4 0.7h0m0.7-0.5h0m0.8 0.3h0m0.2 0.3h0m0.1-0.8h0m0.5 0.6h0m0.1 0h0m53.7-0.3h0m0.4 0.3h0m0.5-0.4h0m0.3-0.3h0m0.7 0.1h0m0.5 0h0m1.6 0.7h0m0.3-0.6h0m0-0.3h0m0.5 0.3h0m0.1 0.2h0m1.2-0.3h0m0.1 0.5h0m0 0.2h0m0.1-0.4h0m0.2-0.4h0m0.1 0.4h0m1.3-0.1h0m1.3-0.2h0m0.8 0h0m0.1 0.1h0m2.8 0.3h0m0.2 0.1h0m0.7-0.2h0m2.8 0h0m1 0.2h0m2.8-0.3h0m0.3 0.1h0m0-0.3h0m0.4 0.4h0m0.1 0.1h0m0.6 0.1h0m0.5-0.4h0m2.3-0.3h0m1.3 0.5h0m0.5 0h0m0.2-0.6h0m1.6 0.5h0m0.4-0.4h0m0.2-0.1h0m0.1 0.8h0m0.3-0.6h0m1 0.5h0m0.5 0h0m2 0.3h0m0.9-0.6h0m0.3 0.4h0m2.7-0.1h0m0.3 0.1h0m0.8-0.2h0m2.4-0.3h0m1.4 0h0m1-0.1h0m1.3 0.7h0m0.5-0.6h0m2.2 0.1h0m2.1 0h0m0.8 0.1h0m3.6-0.1h0m0.1 0.2h0m0.6-0.1h0m0.6-0.4h0m1.8 0.5h0m0.2-0.2h0m0.3-0.1h0m4-0.2h0m0.9 0.3h0m0.3 0.6h0m0.7-0.3h0m1.3-0.4h0m0.3-0.1h0m0.3 0.3h0m1.2-0.1h0m0.1-0.1h0m2.5-0.3h0m1.3 0.8h0m0.2 0h0m0.5 0.1h0m0.3-0.8h0m1.3 0.7h0m0.3-0.1h0m0.6 0.3h0m0-0.4h0m0.3 0.1h0m1.7-0.4h0m2.2 0h0m4.4 0.5h0m0.1-0.1h0m0.1 0.1h0m0-0.5h0m1.3 0.1h0m2.7 0.3h0m3.4 0h0m0.3-0.7h0m0.8 0.9h0m2.2-0.8h0m1.6-0.1h0m0.9 0.9h0m1.4-0.4h0m0.2 0.2h0m0.3 0.3h0m1.1-0.3h0m0.7-0.2h0m0.1 0.3h0m0.1-0.8h0m0 0.2h0m2 0.3h0m1.1 0.4h0m0.7-0.5h0m0.1 0.4h0m1.3 0.1h0m0.2-0.7h0m0 0.5h0m0.1 0.2h0m1-0.7h0m0.2 0.2h0m0.1 0.5h0m2.6-0.3h0m0.1-0.5h0m1.3 0.1h0m2.5 0.1h0m1.9 0.4h0m0.5-0.5h0m2.1 0.8h0m0.1-0.9h0m0.9 0h0m0.1 0.8h0m0.9 0h0m1.7-0.9h0m0.5 0.3h0m1-0.2h0m3.6 0.5h0m0.4 0.3h0m2.7-0.2h0m0.2-0.6h0m0.2 0.2h0m1.1 0.4h0m2.7 0.3h0m0 0h0m0.9-0.3h0m0.1-0.2h0m3.3-0.3h0m1.4-0.2h0m2.8 0.6h0m2.8 0.1h0m0.3-0.3h0m0.2 0.1h0m0 0h0m0 0.5h0m0-0.4h0m0.8 0.3h0m2.7-0.7h0m0.6 0.1h0m0.7 0.1h0m0.4-0.3h0m0.3 0.5h0m0.1-0.2h0m0 0.5h0m2.1-0.9h0m1 0.7h0m0.5 0h0m2.4 0h0m0.3-0.3h0m0.1-0.1h0m3.7 0.2h0m0.3 0.4h0m0.5-0.2h0m0.3 0.2h0m0.9-0.1h0m0-0.7h0m3.4 0.1h0m2.9 0h0m0.8 0.1h0m0.1-0.1h0m2.6 0.2h0m0.2-0.4h0m4.3 1h0m0.4-0.9h0m0.1 0.9h0m0.5-0.8h0m1-0.1h0m0.3 0.3h0m1.3 0.3h0m1.2-0.1h0m0.8-0.3h0m2.2 0.4h0m0.1-0.4h0m1.2 0.3h0m3.8-0.4h0m0.8 0.3h0m4 0.5h0m1.9-0.6h0m2.6 0.1h0m3.3-0.4h0m2.4 0h0m0.6 0.7h0m7.5-0.2h0m1.5 0.1h0m3.2-0.2h0m4.5-0.4h0m0.6 0.2h0m2.2 0.6h0m0.2-0.6h0m0.2-0.2h0m0.6-0.1h0m0.1 0.6h0m0.9 0.3h0m0.2-0.5h0m2.2 0.3h0m1.7 0.1h0m6.1 0.1h0m0.9 0h0m3.6-0.6h0m1.2 0.5h0m2.7-0.1h0m1.1-0.5h0m0.3 0.5h0m0.2 0.1h0m17.7-0.2h0m6.2 0.2h0m18.8 0.1h0m-440.3 0.8h0m8.5-0.5h0m0.4 0h0m2.8-0.1h0m1.6 0.8h0m5.9-0.9h0m3.9 0.6h0m0 0h0m0.5-0.6h0m5.1 0.7h0m3.3 0.1h0m9.7-0.6h0m0.2-0.1h0m1 0.2h0m7 0h0m1.5 0.3h0m0.9 0h0m0.7-0.4h0m0.3 0.4h0m0.6 0h0m1.5 0h0m0.4-0.3h0m0 0.3h0m1.5 0.2h0m0.5-0.8h0m3 0.1h0m0.3 0.6h0m2.1-0.1h0m0-0.6h0m1 0.9h0m1.6-0.1h0m1.6-0.4h0m0.6 0.4h0m0.1-0.5h0m0.5 0.6h0m3.6-0.7h0m0.3 0.7h0m0.3-0.2h0m0.4-0.1h0m2.4-0.3h0m0.1-0.2h0m1.3 0.2h0m0.3-0.1h0m1.8 0.4h0m0.5 0.2h0m0.1-0.1h0m0 0h0m0.2-0.7h0m1.3 0.4h0m0.1 0.1h0m3.6-0.1h0m0.4-0.3h0m0.5 0h0m0.1 0h0m1.6 0.3h0m2.4-0.3h0m1.4 0.1h0m0.4-0.1h0m0.1 0.2h0m0.1 0.6h0m0.3-0.5h0m0.2 0.3h0m0.4-0.5h0m0.8 0h0m1.3 0.1h0m1.4 0.4h0m0.6-0.5h0m1 0h0m55.1 0.1h0m0.4 0.6h0m2-0.6h0m0.4-0.2h0m0.5 0.6h0m0.6-0.2h0m0.3-0.1h0m0.2 0.5h0m0.5-0.6h0m1.5 0h0m0.1 0h0m1.2-0.1h0m0.2 0.1h0m3 0.1h0m0.7 0h0m0.1 0.4h0m0.6-0.5h0m0.3 0.6h0m1.3 0h0m1.1-0.8h0m0.4 0.4h0m3.9-0.1h0m0.3 0.1h0m2.3 0.4h0m0 0h0m0.5-0.1h0m1.1-0.1h0m3.6-0.3h0m4.1 0.1h0m1.7 0.3h0m1.1 0h0m1.5-0.5h0m4.2-0.3h0m0.5 0.4h0m2.3 0.3h0m4.6-0.6h0m0.6 0.6h0m4.1-0.3h0m0.9 0.4h0m1.7-0.5h0m0.6-0.1h0m0.1 0.1h0m0.3 0.1h0m0.6 0.2h0m1.9 0.3h0m0.5-0.3h0m1-0.5h0m0.9 0h0m0.2 0.3h0m1.4 0.1h0m0.5-0.4h0m0.6 0.6h0m1.2-0.1h0m0 0h0m2.4-0.4h0m0.4 0h0m0.3 0.3h0m0.1 0.3h0m0-0.1h0m0-0.2h0m1.2-0.1h0m0.2-0.2h0m1.1 0.6h0m0.8 0.1h0m3.2-0.3h0m0.3 0.3h0m1.3-0.4h0m1.4-0.1h0m1.4-0.4h0m0.4 0h0m2.1 0.3h0m1.2 0.1h0m0.2 0.1h0m1.2 0.2h0m3.3-0.5h0m0.4-0.1h0m3.2 0.1h0m0.6 0.5h0m1.8-0.6h0m0.1 0.5h0m3-0.2h0m2.5 0.3h0m0.4 0.1h0m2.2-0.5h0m2 0.5h0m3.6-0.3h0m0.2-0.3h0m1.4 0h0m1.9 0.2h0m1 0.5h0m1.7-0.8h0m3.9 0.8h0m1.9-0.7h0m0.1 0.1h0m0.7-0.1h0m1 0.5h0m2.5-0.4h0m0.2 0.5h0m0.7-0.7h0m0.3 0.5h0m0.2 0.3h0m3.9-0.8h0m3.4 0.1h0m0.1 0.3h0m2.3 0.2h0m1.1-0.3h0m3.1 0.5h0m0.5 0h0m3.4-0.5h0m0.6 0.2h0m0.5-0.5h0m0.4 0.6h0m0.9-0.1h0m0 0.2h0m0.2-0.4h0m3.5 0h0m2 0.2h0m2.2-0.4h0m0.4 0.4h0m1.6-0.2h0m0.5 0.3h0m4.1-0.5h0m1.2 0h0m2.9-0.1h0m0.7 0.7h0m0.9 0h0m1.8-0.6h0m2.4 0.1h0m2.2 0.3h0m1.1 0h0m2.1-0.1h0m0.5 0.3h0m1.1-0.6h0m0.5 0.6h0m5.9-0.7h0m0.1 0.1h0m1.8 0.3h0m0.7 0.1h0m3.8-0.1h0m3.3 0.3h0m3.1-0.7h0m0.2 0h0m0.2 0.4h0m1 0h0m4.3-0.3h0m0.2 0.3h0m1.6 0.1h0m0.7-0.2h0m8.8 0.2h0m0.8 0.1h0m6.3 0.2h0m1.6-0.8h0m2.6 0.2h0m1.4 0.3h0m1.7-0.1h0m1 0.3h0m5.1-0.6h0m3.6 0.1h0m2.2 0.5h0m0.5-0.3h0m7.9-0.2h0m4.6 0.3h0m1.6 0.1h0m5-0.2h0m2-0.1h0m8.6 0.5h0m2.5-0.2h0m1.6-0.6h0m1.7 0.8h0m4.5-0.7h0m4.9 0.1h0m0.4 0.4h0m-424.9 1.2h0m59.8 0h0m3.3 0h0m0.1 0h0m8.6 0h0m13.3 0.1h0m28-0.1h0m0.3 0h0m14.6 0h0m5.6 0h0m23.6 0.1h0m4.2-0.1h0m0 0.1h0m25.9 0h0m31.8-0.1h0m25.5 0h0m4.2 0.1h0m3.6-0.1h0m6.6 0h0m13.7 0.1h0m13-0.1h0m1.5 0h0m4.6 0h0m8 0.1h0m21.1-0.1h0m2.3 0h0m11.6 0h0m18.2 0.1h0m39.2-0.1h0m-384.6 0.9h0m1.1-0.8h0m3.6 0.7h0m8.2-0.3h0m6.6-0.4h0m4.8 0.5h0m8.5-0.1h0m12.6-0.3h0m0.7-0.1h0m1.2 0.2h0m5.2-0.1h0m0.2-0.1h0m2.7 0.8h0m0.9-0.3h0m0.2 0.1h0m0.7 0.2h0m0.9 0.2h0m4 0h0m1.2-0.2h0m0.1 0.2h0m0-0.4h0m4.3-0.5h0m1.5 0.8h0m0.3-0.8h0m3.9 0.5h0m2.1-0.5h0m0.4 0.2h0m0.7 0.3h0m0.3-0.2h0m0.2 0.4h0m2.2 0.2h0m1.3-0.1h0m3.3-0.5h0m4.1 0.6h0m0.5-0.6h0m0.3 0h0m0.8 0.5h0m1.6-0.2h0m0.3 0h0m0.4-0.1h0m4-0.4h0m0.4 0.5h0m0.2-0.4h0m1.2 0.5h0m2.9-0.3h0m1.4-0.4h0m0 0.6h0m1.2-0.1h0m1.5 0h0m0.6-0.1h0m2-0.5h0m0.4 0.6h0m1.5-0.5h0m0.4 0.6h0m0.5-0.3h0m1.4-0.1h0m0 0.3h0m4.9-0.4h0m0.6 0.7h0m0.2-0.5h0m3-0.4h0m0.2 0.6h0m0.9-0.4h0m0.7 0.6h0m1.4-0.7h0m4.3 0.6h0m0.2 0.3h0m0.4-0.8h0m3.4 0.3h0m0-0.3h0m1.1 0.8h0m0.6-0.9h0m0.2 0.6h0m0.1 0.2h0m2.8-0.2h0m1.5 0.2h0m11.5 0.1h0m0.1-0.3h0m10.2-0.2h0m1.9 0.4h0m1.9-0.2h0m0.4-0.2h0m0.9-0.1h0m6.9 0.4h0m1.5-0.8h0m0.6 0.4h0m1.5 0.1h0m12.7-0.3h0m4.6 0.2h0m0.6-0.3h0m2.2 0h0m0.6 0.5h0m0-0.4h0m0.7 0.5h0m3.1 0.2h0m8.3-0.4h0m0.3 0.2h0m0.2-0.5h0m4.9 0.5h0m1.9 0h0m0 0.2h0m1.2-0.4h0m1.1 0.1h0m5.8 0.2h0m1.9-0.1h0m0.5-0.1h0m1.5 0h0m9.1 0h0m3.1 0h0m0.2-0.1h0m0.5-0.1h0m3-0.2h0m1.2 0.1h0m3.1 0h0m4.1-0.2h0m1.6 0.7h0m3.6-0.1h0m1 0.2h0m2-0.3h0m1.9 0.2h0m5.6-0.5h0m3.7 0.6h0m0.3-0.9h0m2.1 0.9h0m1.6-0.7h0m2.1 0.6h0m2.1-0.1h0m1.9 0.2h0m1.8-0.8h0m2.2 0.7h0m5.9-0.7h0m0.5 0.1h0m0.3 0.7h0m0.2-0.3h0m2.9-0.1h0m0.5 0.2h0m0.9-0.3h0m2.9 0.1h0m0.3 0.3h0m4.1-0.4h0m4.6-0.2h0m1.1 0.7h0m6.2-0.5h0m4.4 0.3h0m0.7 0h0m5-0.6h0m2.2 0.3h0m1.8-0.2h0m2.1 0.4h0m13.1 0.3h0m0.4-0.4h0m2.5 0.4h0m4.4 0h0m4.6-0.1h0m0.6 0h0m6.4-0.1h0m30.1-0.2h0m2.3-0.2h0m9.5 0.2h0m-414.7 0.7h0m1 0.1h0m1.9 0h0m1.2 0.3h0m5.2-0.2h0m7.3-0.1h0m7.7-0.3h0m1.5 0.5h0m4.2 0.1h0m6.7 0.3h0m5.7-0.5h0m0.2-0.3h0m2.1 0h0m0.5 0.3h0m1.3 0.5h0m0.5-0.2h0m1.7-0.3h0m0.2 0h0m1.2 0.3h0m2 0h0m1.9-0.7h0m6.4 0.3h0m0.5 0h0m2.1 0.5h0m5.4-0.4h0m0-0.1h0m4.3 0.2h0m1.7-0.2h0m2.5 0.1h0m0.7 0.2h0m1.3-0.1h0m1.2-0.4h0m1.2 0.7h0m0.3-0.3h0m0.3-0.5h0m0.5 0.9h0m2-0.9h0m0.3 0.7h0m1.7-0.5h0m2 0.3h0m1 0.4h0m3 0h0m0.1-0.2h0m0.9-0.3h0m0.6 0.2h0m0.3-0.5h0m1.8 0.3h0m2.5 0h0m1.9 0.5h0m0-0.3h0m0.5-0.5h0m1.3 0.9h0m0.2-0.5h0m0.4 0.1h0m2.3 0.1h0m1.2 0h0m2.3-0.4h0m0.5 0.4h0m0.3 0h0m1.1 0.3h0m0.2-0.4h0m1.6 0.1h0m0.9-0.5h0m0.1 0h0m0.1 0.2h0m1.3 0.3h0m2.3-0.4h0m0.5 0.1h0m2.9 0.1h0m0.4 0.2h0m0.1-0.2h0m0.3 0h0m0.4-0.2h0m0.2 0.3h0m2.4-0.4h0m0.1 0.4h0m1 0h0m2.7-0.5h0m1.7-0.1h0m0 0.7h0m0.4-0.5h0m1.8 0.8h0m0.2-0.7h0m0.1 0.1h0m1.2 0.2h0m0.1 0h0m0.1 0h0m0.5-0.5h0m2.6 0.7h0m0.6-0.4h0m7.2 0.3h0m0.7-0.2h0m0.3-0.2h0m0.3 0.6h0m0.6-0.5h0m1.6-0.4h0m4.7 0.6h0m5-0.2h0m9.2 0.5h0m5.7-0.1h0m0.4-0.7h0m0.1 0.3h0m4.2-0.2h0m0 0h0m0.9 0.3h0m3.3 0.4h0m0.2 0h0m1.2-0.8h0m1.9 0.5h0m1.4 0.4h0m1.9-0.9h0m0.7 0.8h0m0.6-0.1h0m0.1-0.3h0m3.2 0.2h0m1.2 0.2h0m2.9-0.5h0m1.4 0.1h0m3.7-0.3h0m2.7 0.8h0m0.9-0.4h0m7.3 0.4h0m5.7-0.5h0m2.3 0.5h0m3.2-0.8h0m4.5 0.2h0m4.1 0.5h0m0.2-0.7h0m3.8 0.4h0m1.1-0.4h0m0.3 0.2h0m0.1-0.4h0m6.5 0.5h0m0 0h0m0.9 0.1h0m2.6 0.1h0m1 0.3h0m4.3-0.7h0m0.4 0h0m0.9 0h0m2.6 0.5h0m0.9 0h0m3-0.2h0m0.9 0h0m0.1 0h0m2.2-0.5h0m0.2 0.1h0m0.8 0.8h0m5.1-0.2h0m3.2-0.8h0m0.9 0.6h0m2.7 0.2h0m1-0.3h0m9.9-0.1h0m6.4-0.2h0m0.1 0.1h0m3.6 0.2h0m2.6-0.3h0m3.3 0.1h0m9.5 0h0m3.1 0h0m2 0.5h0m3.7-0.4h0m2.5 0.4h0m0.9-0.2h0m2.7-0.1h0m0.4-0.2h0m0.1 0h0m1.1 0.6h0m3.3-0.1h0m0.7-0.3h0m4.5-0.4h0m7.4 0.1h0m2.7 0.5h0m0.7 0h0m3.8-0.2h0m12.8-0.5h0m7.5 1h0m3-0.9h0m0.1 0.7h0m5.4-0.6h0m11.8-0.1h0m12.5 0.2h0m0.1 0.1h0m2.7 0.5h0m9.6-0.8h0m-401.1 1.7h0m8.5-0.3h0m5.9 0.4h0m10.8-0.9h0m3.9 0.7h0m1.3-0.3h0m0.6 0.1h0m2-0.4h0m0.1 0.7h0m2.7-0.4h0m0.4 0.5h0m0.3-0.5h0m0.2 0.3h0m10.7-0.6h0m0.9 0.3h0m0.5 0.3h0m2.1 0.1h0m0.1-0.4h0m0.4 0h0m1.1-0.4h0m3.9 0.3h0m2 0.2h0m1.6 0.1h0m0.9 0.3h0m1.7-0.2h0m0.2-0.5h0m3.8 0.4h0m0.3-0.4h0m0.3-0.1h0m0.5 0.7h0m0.6-0.3h0m2 0.1h0m0.3-0.4h0m4.6 0.4h0m5.3-0.1h0m0.4 0.3h0m3.2-0.6h0m2.9 0.1h0m0-0.2h0m0.2 0.4h0m0.5 0.1h0m3.7-0.3h0m1.3 0.4h0m0.3 0.1h0m3.2 0.1h0m0.1-0.4h0m1.9 0.4h0m1.1-0.6h0m0.2 0.3h0m0.7 0h0m0.6 0h0m0.2-0.4h0m0.2 0.6h0m3.3-0.1h0m2.3 0h0m0.2-0.5h0m0.8 0.1h0m0.3 0.5h0m0.1 0.1h0m1-0.8h0m1.2 0.7h0m0.8 0h0m1-0.2h0m3 0.2h0m0.9-0.8h0m2.5 0.1h0m0.9 0.4h0m1.5 0h0m2 0h0m0.4 0.2h0m3.1-0.2h0m3.8 0.1h0m0.9-0.3h0m0.3 0.2h0m2.7-0.2h0m1.8 0h0m0.4 0.6h0m11.9-0.9h0m2.1 0.5h0m0.4 0.1h0m0.7-0.6h0m4.3 0.9h0m3.6-0.7h0m0.2 0.3h0m3.4 0h0m0-0.3h0m1.6 0.3h0m2-0.5h0m11.8 0.4h0m5.4 0.4h0m2.9-0.5h0m0.1 0.1h0m0.8 0.4h0m0.9-0.5h0m1.7-0.1h0m1 0.5h0m3.7 0.1h0m18-0.8h0m7.4 0.4h0m2.4-0.2h0m1.5 0.6h0m4.1-0.1h0m0.9-0.2h0m2.3 0.1h0m4.7-0.6h0m4.3 0.7h0m16.6-0.3h0m11.8-0.4h0m7.3 0.1h0m2.6 0.3h0m1.4 0.4h0m0.1-0.7h0m4 0h0m0.5 0.3h0m2.2-0.1h0m3.7 0.2h0m1.3 0.1h0m7.6-0.3h0m0.3 0.4h0m0.4-0.4h0m0.1-0.3h0m0.2 0.5h0m0.3 0h0m5.7-0.3h0m2.5 0.5h0m9.7-0.4h0m1.4 0.6h0m4.7 0h0m0-0.2h0m0.3 0h0m18.7 0h0m3.5-0.4h0m5 0.3h0m22.4 0h0m0.1 0.3h0m4.9 0h0m2.4-0.5h0m2.6-0.2h0m3 0.4h0m2.7-0.3h0m2 0.2h0m3 0.2h0m-416.4 1.2h0m47.2 0h0m6.4 0h0m1.7 0h0m9.5 0.1h0m14.3 0h0m6.5-0.1h0m12.3 0h0m18.5 0h0m139.7 0h0m16.6 0h0m70.6 0h0m-341.9 0.5h0m5.8 0.4h0m25.8-0.6h0m8.2-0.1h0m8.6 0h0m0.3 0.3h0m11.1-0.3h0m0.8 0.2h0m5.8 0.3h0m2.1-0.4h0m0.1 0.8h0m5.8-0.6h0m0.6-0.1h0m6.7-0.2h0m1.8 0.5h0m5 0.3h0m3-0.3h0m2.5-0.3h0m1.5 0h0m1 0.6h0m0.1-0.7h0m0.1 0.2h0m2.8-0.2h0m2.8-0.1h0m0 0.8h0m4.3 0.1h0m1.5-0.9h0m3.2 0.7h0m3.1-0.3h0m3.4 0.1h0m0.5 0h0m0 0h0m0.5-0.5h0m1 0.1h0m3.9-0.1h0m2.3-0.1h0m0.1 0.9h0m1.9-0.1h0m2-0.4h0m1.2 0h0m1.5 0.3h0m1.6 0.1h0m2.3-0.7h0m2.2-0.1h0m3 0.7h0m1.5 0.2h0m9.2-0.8h0m4.2-0.1h0m1.7 0.8h0m3.8-0.4h0m7.7 0.6h0m0.4-0.7h0m3.9 0.3h0m1.7 0h0m2.1 0h0m2.7 0.3h0m2.7-0.1h0m0.5-0.6h0m2.5 0.4h0m1.3 0h0m6.1-0.3h0m0.9 0.2h0m11.7-0.4h0m0.3 0.4h0m12.6-0.1h0m9.1 0.5h0m2-0.2h0m11.3-0.6h0m4.9 0.3h0m1.6 0h0m10.4 0.2h0m1.3-0.3h0m2.7 0.6h0m1.8-0.8h0m4.2 0h0m2.5 0.8h0m17.6-0.2h0m2.6-0.7h0m0.5 0.2h0m8.3 0.6h0m3-0.4h0m10.7 0.3h0m1.7-0.1h0m1.1-0.2h0m2.4 0.1h0m1.2 0.3h0m4-0.4h0m5.5 0.1h0m0.5 0h0m8.6 0h0m0.8-0.4h0m2.6 0.6h0m0.1 0h0m25.9-0.4h0m26.8 0.4h0m22.8-0.3h0m-362.9 0.8h0m0.6-0.2h0m9.1 0h0m2.8 0.2h0m3.6-0.2h0m7.5 0.3h0m1.2 0.5h0m1-0.7h0m6.7 0.6h0m2.4 0.2h0m1.8-0.9h0m3.5 0.9h0m0.4-0.6h0m0.2-0.2h0m0.2 0h0m3.5 0.1h0m1.1 0.6h0m3.6-0.3h0m2-0.4h0m0.1 0.9h0m1.5-0.5h0m0.2 0.4h0m1.9-0.6h0m1.1 0h0m2.8 0h0m0.2-0.1h0m0.4 0.5h0m0.5-0.2h0m1.3 0.4h0m3.4-0.6h0m1 0.2h0m4.1-0.5h0m2.1 0h0m4.2 0.4h0m4.6 0.2h0m0.7-0.3h0m0.2 0.1h0m1.9 0.3h0m2.3 0.1h0m1.3-0.5h0m3.8 0.3h0m2.2 0.1h0m7.1-0.7h0m0.6 0.7h0m4.7 0.3h0m3.3-0.1h0m2.7-0.4h0m5.7 0.2h0m13.7-0.6h0m8.7 0.7h0m7.9-0.1h0m4.1 0.2h0m1.8-0.8h0m6.5 0.2h0m13.4-0.1h0m3.2 0.2h0m15.5 0.1h0m1.9-0.5h0m2.3 0.3h0m9.7-0.1h0m1 0.1h0m4.6-0.1h0m4 0.2h0m4.3-0.4h0m0.9 0.4h0m12.8-0.1h0m3.2 0.1h0m19.5 0h0m6.8 0.4h0m5.4-0.1h0m16.2-0.7h0m4 0.4h0m3.7-0.4h0m36.9 0.6h0m6.9-0.2h0m-376.9 0.6h0m18.4 0.6h0m7.1-0.2h0m3.5 0.5h0m7-0.6h0m0.6-0.3h0m6.1 0.9h0m2.8 0h0m2.9-0.9h0m4.4 0.4h0m0.8 0h0m1-0.1h0m2.3-0.2h0m4.9 0.3h0m0.4 0.2h0m0.5-0.2h0m1.2-0.4h0m0.9 0.8h0m5.1-0.8h0m10.4 0.9h0m3.4-0.6h0m9.4-0.1h0m2.7 0.4h0m0.6-0.1h0m4.1 0.1h0m0-0.5h0m2.1 0.8h0m1.9 0h0m0.3-0.4h0m0.3 0.3h0m2.8-0.2h0m0.7-0.2h0m0.5-0.2h0m0.8 0.6h0m2.3-0.5h0m4.2-0.3h0m0.3 0.1h0m1.5 0.6h0m3.4-0.4h0m8.2 0.3h0m1.9-0.1h0m2.4 0.2h0m3.1 0h0m4.5-0.7h0m3.6 0.2h0m16.2 0.4h0m8.2-0.5h0m11.8 0.3h0m3.5 0.4h0m3.8 0.1h0m3.4-0.5h0m1.8-0.2h0m0.4-0.1h0m2.4 0.6h0m0.7-0.4h0m36.1 0.5h0m2.7-0.3h0m4.3 0.1h0m1.4 0.2h0m0.5 0.1h0m7.1-0.3h0m0.6-0.1h0m3.6 0.3h0m6.6-0.1h0m1.9-0.5h0m15.4 0.5h0m1 0.2h0m6.1 0h0m24.7 0h0m19.2 0h0m3.4-0.7h0m0.6-0.1h0m3.7-0.1h0m16.6 0.8h0m22.9-0.5h0m2.7 0.6h0m-302.8 1h0m1.4 0h0m18.9 0h0m34.2 0h0m30.4 0.1h0m0.9-0.1h0m2.6 0.1h0m14.3-0.1h0m131.3 0h0m15.4 0h0m0.4 0.1h0m-281 0h0m13.2 0.9h0m6.9-0.3h0m0.3 0h0m1.4-0.6h0m7.8 1h0m0.2-0.3h0m3.7-0.3h0m4.1-0.1h0m6.4 0.2h0m0.6 0.2h0m9-0.2h0m4.4 0.5h0m7.6 0h0m2.3-0.6h0m0.6 0.4h0m0.1-0.4h0m0.6 0.5h0m3.2-0.6h0m3.4 0.1h0m0.7-0.2h0m3.7 0h0m13.5 0.6h0m5.7-0.6h0m0 0.1h0m10.6 0h0m2.7 0.3h0m8.7-0.4h0m0.7 0.5h0m5.2 0.3h0m0.4-0.5h0m20.6-0.4h0m4.5 0.1h0m28.4 0.2h0m15 0h0m20.5 0.1h0m4.7 0.1h0m6.1 0h0m2-0.4h0m51.8 0h0m2.2 0.3h0m1.8-0.3h0m-317.8 1.4h0m18.4 0.3h0m6.2-0.3h0m9.8-0.4h0m9.2-0.1h0m4.3 0.5h0m1.4 0.1h0m2.7-0.5h0m8.2 0.2h0m9.2 0.3h0m6.3 0h0m1.6-0.6h0m0.9 0.9h0m9.8-0.5h0m11.6 0.5h0m1.7-0.4h0m5.1-0.6h0m6.3 0.4h0m0.4-0.3h0m2.5 0.8h0m2.7-0.6h0m17.8 0.1h0m52.2 0.1h0m20.8 0.2h0m2.5-0.4h0m17.6 0.1h0m0-0.3h0m18.4 0.4h0m2.9 0h0m14.5-0.2h0m4.4 0.2h0m8.4-0.1h0m24 0.1h0m6.9 0.3h0m6.9-0.7h0m-299.6 1.3h0m4-0.1h0m2.5-0.1h0m3.4 0.3h0m10 0.1h0m4.4 0.3h0m10.2-0.8h0m21.6 0.3h0m5.1-0.2h0m4.3 0.2h0m1.1-0.1h0m1.5 0.6h0m1.8-0.5h0m0.4-0.2h0m5.9 0.4h0m0.1 0.1h0m14.3-0.5h0m2 0.1h0m1.1 0h0m3.5 0.5h0m3.2-0.3h0m0.2 0.4h0m0.2-0.7h0m3.8 0.7h0m11.7-0.1h0m2.1 0h0m14.5 0.1h0m11.5-0.5h0m5.8-0.3h0m2.4 0.2h0m15.6-0.1h0m9.3 0.4h0m4.2 0h0m22.3-0.2h0m9.4-0.4h0m0.2 0.4h0m2.5 0.5h0m0.5-0.1h0m12.1 0.1h0m60.5-0.3h0m20.2-0.1h0m-308.2 1.4h0m35 0.1h0m36 0h0m11.8-0.1h0m9.7 0h0m32.7 0h0m-108.7 0.2h0m4.7 0h0m3.9 0.1h0m1.6 0.4h0m20.8 0.4h0m1.1 0h0m2.5-0.2h0m23.3-0.6h0m0.3 0.2h0m3.9 0h0m0.6 0.2h0m3.5-0.4h0m28.3 0.4h0m46-0.3h0m1.9 0.3h0m3.6-0.1h0m4.1-0.2h0m41.6 0.2h0m-201.2 0.8h0m1.3 0.4h0m16.3-0.5h0m8.5 0h0m3.1 0.3h0m11.3-0.2h0m3.5 0.3h0m4.6 0h0m5.4 0h0m4.1-0.4h0m19.9 0.2h0m2.2 0.4h0m14-0.1h0m65.3-0.4h0m1 0.5h0m64.9-0.3h0m62.7-0.1h0m-286 1.5h0m10.7-0.4h0m0.2-0.2h0m5.1 0.4h0m6.7 0.2h0m3.5-0.1h0m12.3-0.6h0m1.5-0.1h0m6 0.4h0m8.3-0.2h0m1.1 0.3h0m6-0.2h0m1.2 0.5h0m5.5 0h0m6.9-0.5h0m2.8 0.1h0m2.3 0h0m5.3 0.2h0m5.5-0.4h0m19.3 0.6h0m1.1-0.2h0m48.7 0.2h0m38.4-0.1h0m11.3-0.2h0m-197.5 1.3h0m52.1 0h0m-48.3 0.3h0m22 0.1h0m24.5 0.3h0m8.3 0.1h0m-49.5 0.5h0m33.5 0.5h0m12.3-0.4h0m131.5 0.6h0m-197 0.8h0m2.5-0.5h0m26.6 0.6h0m0.4-0.5h0m31.7 0.5h0m19.6-0.1h0m115.8-0.6h0m-184.8 2.5h0m66.7 0.1h0m6.8-0.3h0m-48 0.8h0m32.8 0h0m7.7-0.1h0m11.5 0.4h0m-12.1 0.9h0m-0.3 2.1h0" stroke="#dfdfdf" stroke-width="1.5" stroke-linecap="square" fill="none"/>
<path d="M284.7 383.4h0m72.3 0.5h0m-0.1 1h0m1.7 0.3h0m-182.1 1.8h0m96.5 0.3h0m0.5-0.4h0m-63.2 1.3h0m43.6-0.5h0m35.4 0.1h0m-111.2 1.2h0m-16.9 2.2h0m44.9 0.1h0m-21.2 0.9h0m96.9-0.4h0m35.5-0.3h0m14.9 0.5h0m5.2 0.4h0m27.1-0.7h0m-170.4 1.3h0m67.7-0.2h0m-109.2 2.4h0m0-0.2h0m62.2-0.1h0m67.1 1.2h0m38.2-0.5h0m60.8 0.3h0m21.1 0h0m-204.2 0.8h0m125 0.3h0m-145.7 2.2h0m100.1-0.2h0m16.3 0.1h0m-83.3 0.8h0m51.4 0.6h0m128.5-0.1h0m-217.3 0.5h0m95.8-0.1h0m4.9-0.2h0m84.6 0.2h0m-233 2h0m153.5-0.1h0m32.2 0.6h0m-138.1 0.6h0m93.6 0h0m27.3-0.3h0m43.8 0.5h0m36.4-0.2h0m18.7-0.2h0m-219 1.1h0m-26.6 1.9h0m145.8 0h0m59.5 0.3h0m-271.9 0.7h0m9.6 0.6h0m211.6-0.5h0m-248.1 0.9h0m80.4 0.1h0m106.6 0h0m-120.1 2.3h0m18.1-0.3h0m15.9 0.6h0m246.4-0.8h0m-178.2 1.2h0m7.2 0.4h0m80.1 0.2h0m63.2-0.5h0m7.7 0.3h0m-262.3 0.7h0m103.6-0.2h0m28.9 0.2h0m7.6-0.2h0m99.3 0.3h0m-263.5 2.1h0m302.4 0h0m-284.3 1h0m145.7 0h0m-191.6 0.4h0m282.1 0.4h0m-197.8 2.3h0m43.8-0.7h0m-104.2 1.1h0m16 0.7h0m131.9-0.3h0m-192.7 0.8h0m37.1 0.1h0m262.4-0.1h0m39.4 0.5h0m-199.7 1.3h0m129.1-0.1h0m-213.3 1.2h0m192.9 0.9h0m87.5 0.6h0m-336.5 1.7h0m32-0.2h0m168.3 1.5h0m72.6 0.2h0m80.4-0.4h0m-297.7 0.6h0m120.7 3h0m124.6 0.5h0m33 0.4h0m-224.4 0.2h0m-89.8 2h0m96.8 0.6h0m29.1-0.5h0m56.1 0.3h0m31.6 0.1h0m-152.2 0.8h0m124.5 0.2h0m91.6 0.3h0m-43.7 0.7h0m7.9-0.2h0m-240.5 2h0m75.4-0.1h0m109.4 0.4h0m-93 0.7h0m251.2 0.1h0m-290.2 0.8h0m38.8-0.4h0m5 0h0m12 0.3h0m71.4 0.4h0m-67.3 2.1h0m-79.4 0.3h0m37.9 0.4h0m117.3 0.3h0m-25.1 3.1h0m1.5-0.6h0m2.2 0h0m54.4 0.1h0m-25.2 0.7h0m55.7 0.6h0m-100.6 2.9h0m103.7-0.5h0m-51.2 1.1h0m135.2 0.6h0m9.5-0.4h0m-159.5 2.6h0m66.1 1.2h0m4 4.2h0m-83.9 0.8h0m42 0h0m23.2 4h0" stroke="#fbfbfb" stroke-width="1.2" stroke-linecap="square" fill="none"/>
<path d="M337.5 383.1h0m-163.9 1h0m17.1-0.1h0m52-0.1h0m22.8 0.4h0m-67.8 0.5h0m99.6-0.3h0m-131.5 2.9h0m55.8-0.7h0m103 0.1h0m36.6 0.7h0m12.4-0.5h0m-190.6 1.1h0m7.3 0.1h0m111.6 0h0m46.6 0.3h0m5.9-0.4h0m-171.5 0.5h0m50.9 0.3h0m16.5-0.4h0m19.9 0.8h0m16.6-0.1h0m70.9-0.5h0m-40.2 2.4h0m15.8-0.1h0m37 0h0m-209.3 1.1h0m0.5 0h0m131.2-0.1h0m17.1-0.2h0m52.5 0.5h0m-143.6 1h0m18.8-0.7h0m44.5 0.3h0m-80.5 2h0m3.6 0h0m119.5-0.1h0m-130.3 1.4h0m106.7 0.2h0m-146.4 0.3h0m15.3 0.7h0m27.5-0.2h0m25 0.1h0m16.3-0.3h0m18.1-0.3h0m30.1-0.1h0m2.9 0.7h0m16.9-0.1h0m27.7-0.4h0m0.3-0.1h0m82.1 0.2h0m-341.9 1.9h0m1.7 0.5h0m44.1-0.2h0m157.4 0h0m18.4-0.3h0m82.5 0.6h0m1.4-0.7h0m-244.1 0.9h0m104.1 0.7h0m69.5-0.7h0m11.6 0.8h0m37.2-0.7h0m38.8 0.1h0m-275.9 1.3h0m24.8 0.3h0m94.6-0.8h0m9.8 0.2h0m25.7 0.5h0m50.2-0.1h0m47.3-0.1h0m-241.4 2.2h0m29.8-0.2h0m135.1 0h0m28.3-0.2h0m-223.1 1.2h0m11.2 0.2h0m38.7-0.6h0m7.9 0h0m52.2-0.2h0m18 1h0m27.5-0.8h0m39.9 0.7h0m18.4 0h0m16.1 0h0m69-0.4h0m3-0.2h0m12.5 0.2h0m-326.5 0.8h0m56 0.1h0m47.8-0.1h0m27.9 0.4h0m22.6-0.4h0m103.7 0.4h0m21.3 0h0m3.8-0.6h0m4.3 0.7h0m11.6-0.6h0m16.7 0.2h0m-359.7 2.3h0m180.1-0.2h0m4.2-0.1h0m111.4-0.1h0m-295.4 1.1h0m4.1-0.2h0m3-0.1h0m22.4 0.3h0m9 0.6h0m40.4-0.1h0m75.1-0.6h0m4.6 0.5h0m39.2-0.3h0m40.5 0.1h0m13.5 0.4h0m30.1-1h0m85.9 0h0m-269.2 1.2h0m68.2 0.5h0m104.7 0.2h0m-227.8 1.9h0m41.7 0h0m109.6-0.4h0m37 0h0m27.9 0.4h0m4.1-0.5h0m35.1 0.2h0m-284 0.9h0m43 0.5h0m32-0.7h0m27.9 0.1h0m13.8 0h0m29.6 0.7h0m77.4 0h0m115.1-0.8h0m-187.5 1.5h0m61.3-0.5h0m135.1 0.3h0m-260.9 2.3h0m89.3-0.5h0m112.3 0.5h0m-275.5 0.6h0m28.1 0.5h0m10.9-0.1h0m9-0.5h0m110.9 0.3h0m100.4 0.2h0m12.4 0h0m-178.3 0.4h0m74.3 0h0m112.3 0.6h0m49.6-0.5h0m-87.2 2h0m97.5 0.1h0m-365.5 1.4h0m33.5-0.1h0m7.3-0.4h0m34.3 0.2h0m41.7-0.5h0m56.9 0.8h0m11.6 0h0m67.4 0.1h0m55.6-0.1h0m-170.8 0.4h0m27.3 0.7h0m178.7-0.2h0m17.7-0.2h0m-275.9 2.3h0m176.3-0.5h0m23.2 0.3h0m8 0.2h0m39.9-0.2h0m-139.3 1.3h0m9.9-0.8h0m69.7 0.7h0m20.6-0.6h0m-280.8 1.4h0m24.9-0.5h0m59.1 0h0m-21 2.3h0m153.8-0.1h0m33.9 0.5h0m83.6-0.4h0m-238.3 1.2h0m0.5 0.3h0m56.3-0.3h0m11.4-0.1h0m18-0.2h0m42.2-0.3h0m-211.7 1.4h0m122.4 0.4h0m140.9-0.7h0m28.2 0.1h0m19.2 0h0m28.3 0h0m-310.9 2.8h0m3.3-0.8h0m94.2 0.8h0m80.2-0.7h0m116 0.3h0m-305.8 0.7h0m59 0.1h0m22.6-0.1h0m150.4-0.3h0m3.7 0.1h0m-280.5 1.2h0m28.1-0.3h0m28.5 0.4h0m84.3 0h0m107.6-0.3h0m78.2 0.2h0m19.7-0.1h0m-202.1 2.4h0m8.2-0.1h0m155.4 0.2h0m8.7-0.4h0m7.5 0.6h0m16-0.5h0m10.8 0.2h0m16.4-0.4h0m-348 0.8h0m27.2 0.8h0m292.3-0.4h0m13.8 1.2h0m-300.8 2.2h0m52.8 0h0m76.4-0.2h0m46.9 0h0m2.8-0.4h0m48.4 0.9h0m5.3 0.8h0m-160.5 0.8h0m-61.3 1.9h0m216.1-0.3h0m20.4-0.1h0m61.3 0.1h0m-184.1 1.3h0m35.8 0h0m27.6 0.2h0m63.9-0.3h0m-247.5 0.8h0m155.7 0.6h0m100.1-0.2h0m-111.6 2.1h0m64.6-0.4h0m77.7-0.2h0m24.3 0.2h0m-210.8 1.5h0m26.6-0.3h0m49.6-0.2h0m-127.3 1.4h0m56-0.8h0m25.6 2.3h0m120.3 1.6h0m31.5-0.2h0m-110 1.2h0m6.2-0.6h0m-35.3 2.7h0m1.3 0.3h0m15.1-0.3h0m42.9 0.2h0m102.2 0.5h0m-181.5 0.4h0m11.1 0.5h0m121.5-0.2h0m23.7-0.3h0m8.2 0.6h0m-31.9 2.8h0m31.8 0.3h0m8.6 0.2h0m-88.9 3.1h0" stroke="#fbfbfb" stroke-width="1.5" stroke-linecap="square" fill="none"/>
<path d="M332.6 380.1h0m-49.5 0.7h0m61.5 4h0m-173.7 0.7h0m-1.2 1.8h0m55.2 0.2h0m28.9-0.3h0m106.9-0.2h0m-51.9 1.1h0m-132.2 2.9h0m137 0.4h0m64.5-0.3h0m-195.8 0.5h0m124.9 0.3h0m21.9 0.6h0m-99.9 0.3h0m-7.6 0.8h0m116.8 0.1h0m4.8-0.1h0m-113.7 1.4h0m176 0.1h0m-172.3 0.9h0m7.3-0.3h0m40.1 0.7h0m56.2-0.4h0m15.7 0h0m6.2 0.3h0m58.4-0.4h0m-222.4 1.3h0m65.8 0.1h0m29.8-0.2h0m-99.2 2.2h0m122.2-0.2h0m69.8 0.4h0m9.8-0.2h0m-152 0.7h0m12.1 0.1h0m20.1-0.4h0m-191.7 1.3h0m56.7 0h0m57.2 0.1h0m118.5 0h0m-188.4 2.1h0m21.5-0.1h0m233.7 0.5h0m-49.9 2h0m-238.2 1.9h0m157.3 0.7h0m0.8 0.1h0m166.5-0.1h0m-367.3 1h0m10.7 0.1h0m38.3-0.7h0m28.3 0h0m10.6 0.5h0m137.5-0.2h0m83.3-0.3h0m-107.8 1h0m19.7 1.4h0m-180.3 1.5h0m33.1-1h0m-2.7 1.8h0m189.6 0.1h0m52.7-0.6h0m27.7 0.4h0m-293.3 2h0m11.4-0.1h0m221 0.2h0m-234.7 0.5h0m136.3-0.1h0m147.6 0.6h0m4 0.2h0m-231.8 0.4h0m70.2 0.4h0m168 2h0m-242.9 0.8h0m45 0.4h0m139.7-0.8h0m30.2-0.2h0m47.9 0.8h0m-347.9 1h0m73.7 0h0m59.2-0.3h0m134.8 0.2h0m-14.6 0.3h0m-79.6 1.8h0m11.9-0.2h0m18 0.6h0m42.2 0.5h0m49.9-0.5h0m61.2 0.1h0m-372.1 0.7h0m3.3 0.9h0m84.3-0.5h0m17.4 0h0m198.9-0.1h0m-232.7 2.1h0m16.7 0.4h0m171 0.2h0m-231 0.1h0m116.1-0.1h0m115.3 0.7h0m80.5-0.1h0m-179.2 0.5h0m22.3 0.7h0m-63.3 1.6h0m21.6 0.1h0m20.3 0.2h0m-2.6 0.9h0m-37.8 0.7h0m157.7-0.2h0m-256 2.6h0m28.6 0.2h0m-11.5 0.6h0m73.1-0.2h0m42.7 0.3h0m65.4 0.3h0m52.4 0h0m-269.7 0.5h0m99.8 0h0m117.2 0.6h0m-123.3 1.6h0m209.7-0.1h0m19.6 0.1h0m-202.9 0.5h0m247.2 0.5h0m-322.8 1.4h0m200.1-0.4h0m42.3 0h0m-271.1 0.5h0m196.7 1.5h0m-146.8 0.5h0m146.3 0.3h0m92.2-0.4h0m61.3 0.8h0m-254.1 0.8h0m32 0h0m59.6 2.8h0m20.7 0.4h0m3.8-0.7h0m108.1 0.3h0m23.6-0.1h0m-175 0.8h0m20.1 0.7h0m24.1 3.4h0m130.8 0.1h0m-83.1 0.8h0m-32.1 2.8h0m-60.4 1.2h0m47.3 0.1h0m30.6 3.1h0m3.5 0.4h0m-28 4.2h0" stroke="#fbfbfb" stroke-width="2.0" stroke-linecap="square" fill="none"/>
<path d="M203.6,316.9h1.9v1.9h-1.9zM203.1,304.1h1.9v1.9h-1.9zM201.7,336.1h1.9v1.9h-1.9zM202.9,337.6h1.9v1.9h-1.9zM203.8,319.9h1.9v1.9h-1.9zM201.2,309.7h1.9v1.9h-1.9zM202.9,333.1h1.9v1.9h-1.9zM203.5,331.8h1.9v1.9h-1.9zM204.5,318.4h1.9v1.9h-1.9zM201.7,320.1h1.9v1.9h-1.9zM203.3,315.2h1.9v1.9h-1.9zM202.4,312.1h1.9v1.9h-1.9zM201.8,321.4h1.9v1.9h-1.9zM205.6,333.3h1.9v1.9h-1.9zM201.9,331.3h1.9v1.9h-1.9zM202.6,303.7h1.9v1.9h-1.9zM201.6,308.9h1.9v1.9h-1.9zM203.8,307.7h1.9v1.9h-1.9zM202.0,299.2h1.9v1.9h-1.9zM202.9,315.5h1.9v1.9h-1.9zM201.2,313.4h1.9v1.9h-1.9zM204.5,318.0h1.9v1.9h-1.9zM202.7,334.0h1.9v1.9h-1.9zM201.6,323.7h1.9v1.9h-1.9zM200.7,331.9h1.9v1.9h-1.9zM203.3,297.2h1.9v1.9h-1.9zM202.6,315.3h1.9v1.9h-1.9zM202.5,313.0h1.9v1.9h-1.9zM203.5,307.8h1.9v1.9h-1.9zM202.5,311.3h1.9v1.9h-1.9zM203.5,306.1h1.9v1.9h-1.9zM203.3,335.1h1.9v1.9h-1.9zM202.7,310.2h1.9v1.9h-1.9zM202.3,312.5h1.9v1.9h-1.9zM206.7,376.1h1.9v1.9h-1.9zM201.0,373.8h1.9v1.9h-1.9zM203.0,361.7h1.9v1.9h-1.9zM205.6,364.4h1.9v1.9h-1.9zM202.4,354.1h1.9v1.9h-1.9zM198.5,376.0h1.9v1.9h-1.9zM204.7,360.1h1.9v1.9h-1.9zM207.4,370.4h1.9v1.9h-1.9zM206.7,359.4h1.9v1.9h-1.9zM202.3,359.0h1.9v1.9h-1.9zM201.6,347.0h1.9v1.9h-1.9zM199.4,372.7h1.9v1.9h-1.9zM201.7,351.1h1.9v1.9h-1.9zM204.0,375.3h1.9v1.9h-1.9zM208.8,356.4h1.9v1.9h-1.9zM201.1,357.6h1.9v1.9h-1.9zM204.6,370.1h1.9v1.9h-1.9zM205.4,350.0h1.9v1.9h-1.9zM206.7,353.3h1.9v1.9h-1.9zM198.1,365.1h1.9v1.9h-1.9zM203.0,353.1h1.9v1.9h-1.9zM208.5,343.1h1.9v1.9h-1.9zM206.0,361.4h1.9v1.9h-1.9zM203.3,370.1h1.9v1.9h-1.9zM202.8,342.9h1.9v1.9h-1.9zM204.9,352.7h1.9v1.9h-1.9zM205.0,361.5h1.9v1.9h-1.9zM204.9,371.7h1.9v1.9h-1.9zM204.9,345.7h1.9v1.9h-1.9zM207.6,358.6h1.9v1.9h-1.9zM207.6,349.0h1.9v1.9h-1.9zM206.7,343.1h1.9v1.9h-1.9zM202.8,368.4h1.9v1.9h-1.9zM205.4,353.3h1.9v1.9h-1.9zM202.4,375.1h1.9v1.9h-1.9zM208.0,375.7h1.9v1.9h-1.9zM192.2,388.9h1.9v1.9h-1.9zM190.2,377.4h1.9v1.9h-1.9zM189.9,378.5h1.9v1.9h-1.9zM190.3,382.4h1.9v1.9h-1.9zM190.5,376.0h1.9v1.9h-1.9zM191.0,386.0h1.9v1.9h-1.9zM189.2,384.7h1.9v1.9h-1.9zM189.3,379.2h1.9v1.9h-1.9zM190.3,377.2h1.9v1.9h-1.9zM191.3,392.9h1.9v1.9h-1.9zM189.5,378.9h1.9v1.9h-1.9zM190.0,375.9h1.9v1.9h-1.9zM190.7,377.3h1.9v1.9h-1.9zM190.7,388.3h1.9v1.9h-1.9zM189.5,389.4h1.9v1.9h-1.9zM189.5,382.6h1.9v1.9h-1.9zM205.1,409.2h1.9v1.9h-1.9zM206.1,390.9h1.9v1.9h-1.9zM204.1,413.7h1.9v1.9h-1.9zM201.8,398.6h1.9v1.9h-1.9zM203.8,412.4h1.9v1.9h-1.9zM197.0,397.7h1.9v1.9h-1.9zM195.6,402.0h1.9v1.9h-1.9zM201.1,389.2h1.9v1.9h-1.9zM196.5,409.9h1.9v1.9h-1.9zM200.2,393.8h1.9v1.9h-1.9zM198.9,401.6h1.9v1.9h-1.9zM202.4,385.5h1.9v1.9h-1.9zM194.9,394.0h1.9v1.9h-1.9zM197.8,394.5h1.9v1.9h-1.9zM193.8,392.4h1.9v1.9h-1.9zM198.7,393.8h1.9v1.9h-1.9zM204.8,411.2h1.9v1.9h-1.9zM199.0,406.7h1.9v1.9h-1.9zM201.5,386.4h1.9v1.9h-1.9zM199.4,399.8h1.9v1.9h-1.9zM198.8,395.3h1.9v1.9h-1.9zM206.0,403.2h1.9v1.9h-1.9zM205.3,387.6h1.9v1.9h-1.9zM203.9,403.5h1.9v1.9h-1.9zM202.9,403.3h1.9v1.9h-1.9zM194.9,397.1h1.9v1.9h-1.9zM203.7,392.3h1.9v1.9h-1.9zM199.8,387.5h1.9v1.9h-1.9zM203.1,385.9h1.9v1.9h-1.9zM201.9,393.1h1.9v1.9h-1.9zM209.3,393.0h1.9v1.9h-1.9zM198.5,380.3h1.9v1.9h-1.9zM204.3,384.4h1.9v1.9h-1.9zM209.5,400.4h1.9v1.9h-1.9z" fill="#0072bd"/>
<path d="M569.8,298.4h1.9v1.9h-1.9zM566.5,309.6h1.9v1.9h-1.9zM559.8,342.3h1.9v1.9h-1.9zM554.2,361.2h1.9v1.9h-1.9zM562.9,335.5h1.9v1.9h-1.9zM557.4,344.1h1.9v1.9h-1.9zM557.2,364.2h1.9v1.9h-1.9zM555.4,369.0h1.9v1.9h-1.9zM549.7,338.5h1.9v1.9h-1.9zM554.7,364.4h1.9v1.9h-1.9zM550.6,339.7h1.9v1.9h-1.9zM556.5,343.1h1.9v1.9h-1.9zM557.3,359.1h1.9v1.9h-1.9zM558.9,365.7h1.9v1.9h-1.9zM555.2,365.7h1.9v1.9h-1.9zM556.9,351.6h1.9v1.9h-1.9zM557.6,332.3h1.9v1.9h-1.9zM558.9,343.9h1.9v1.9h-1.9zM560.5,361.3h1.9v1.9h-1.9zM559.9,362.2h1.9v1.9h-1.9zM552.0,372.6h1.9v1.9h-1.9zM565.1,368.7h1.9v1.9h-1.9zM547.5,344.2h1.9v1.9h-1.9zM551.0,321.0h1.9v1.9h-1.9zM557.5,368.6h1.9v1.9h-1.9zM547.4,343.7h1.9v1.9h-1.9zM567.8,347.2h1.9v1.9h-1.9zM554.6,366.5h1.9v1.9h-1.9zM557.9,335.8h1.9v1.9h-1.9zM556.3,372.1h1.9v1.9h-1.9zM560.4,332.4h1.9v1.9h-1.9zM557.5,361.7h1.9v1.9h-1.9zM553.4,355.1h1.9v1.9h-1.9zM560.1,333.4h1.9v1.9h-1.9zM548.4,337.3h1.9v1.9h-1.9zM557.4,356.4h1.9v1.9h-1.9zM558.7,322.5h1.9v1.9h-1.9zM558.2,346.6h1.9v1.9h-1.9zM555.5,319.1h1.9v1.9h-1.9zM559.8,351.1h1.9v1.9h-1.9zM558.4,342.0h1.9v1.9h-1.9zM558.8,346.5h1.9v1.9h-1.9zM559.8,351.0h1.9v1.9h-1.9zM563.3,353.3h1.9v1.9h-1.9zM563.7,369.5h1.9v1.9h-1.9zM553.4,352.8h1.9v1.9h-1.9zM558.9,344.9h1.9v1.9h-1.9zM554.8,361.1h1.9v1.9h-1.9zM553.9,342.3h1.9v1.9h-1.9zM562.8,314.7h1.9v1.9h-1.9zM558.8,361.0h1.9v1.9h-1.9zM553.0,355.1h1.9v1.9h-1.9zM554.0,333.0h1.9v1.9h-1.9zM554.0,376.5h1.9v1.9h-1.9zM557.9,324.3h1.9v1.9h-1.9zM556.2,366.7h1.9v1.9h-1.9zM558.6,357.2h1.9v1.9h-1.9zM559.7,345.8h1.9v1.9h-1.9zM556.7,343.7h1.9v1.9h-1.9zM553.3,352.1h1.9v1.9h-1.9zM562.4,360.6h1.9v1.9h-1.9zM559.0,348.3h1.9v1.9h-1.9zM558.4,349.0h1.9v1.9h-1.9zM558.1,367.6h1.9v1.9h-1.9zM559.2,341.0h1.9v1.9h-1.9zM556.6,338.5h1.9v1.9h-1.9zM555.3,356.6h1.9v1.9h-1.9zM552.8,345.0h1.9v1.9h-1.9zM555.3,361.1h1.9v1.9h-1.9zM558.1,372.7h1.9v1.9h-1.9zM559.3,348.7h1.9v1.9h-1.9zM561.2,367.8h1.9v1.9h-1.9zM566.0,376.5h1.9v1.9h-1.9zM554.6,338.4h1.9v1.9h-1.9zM553.5,371.2h1.9v1.9h-1.9zM554.3,363.7h1.9v1.9h-1.9zM556.5,356.3h1.9v1.9h-1.9zM558.2,331.7h1.9v1.9h-1.9zM551.6,362.6h1.9v1.9h-1.9zM551.4,360.7h1.9v1.9h-1.9zM555.2,330.3h1.9v1.9h-1.9zM549.5,332.5h1.9v1.9h-1.9zM555.7,342.2h1.9v1.9h-1.9zM556.9,370.6h1.9v1.9h-1.9zM559.7,354.8h1.9v1.9h-1.9zM542.6,349.3h1.9v1.9h-1.9zM555.0,346.6h1.9v1.9h-1.9zM553.9,350.8h1.9v1.9h-1.9zM553.2,350.0h1.9v1.9h-1.9zM568.2,346.3h1.9v1.9h-1.9zM565.7,340.3h1.9v1.9h-1.9zM561.4,378.9h1.9v1.9h-1.9zM555.7,347.7h1.9v1.9h-1.9zM560.8,334.9h1.9v1.9h-1.9zM556.7,373.5h1.9v1.9h-1.9zM570.5,362.8h1.9v1.9h-1.9zM555.0,378.9h1.9v1.9h-1.9zM561.6,356.4h1.9v1.9h-1.9zM555.6,358.1h1.9v1.9h-1.9zM558.3,347.2h1.9v1.9h-1.9zM559.2,361.7h1.9v1.9h-1.9zM562.0,362.2h1.9v1.9h-1.9zM550.2,336.7h1.9v1.9h-1.9zM568.6,370.8h1.9v1.9h-1.9zM551.3,336.0h1.9v1.9h-1.9zM561.4,368.8h1.9v1.9h-1.9zM559.9,340.0h1.9v1.9h-1.9zM552.8,369.2h1.9v1.9h-1.9zM555.8,337.7h1.9v1.9h-1.9zM552.4,340.4h1.9v1.9h-1.9zM559.9,344.5h1.9v1.9h-1.9zM553.2,354.8h1.9v1.9h-1.9zM563.1,340.7h1.9v1.9h-1.9zM554.6,382.7h1.9v1.9h-1.9zM558.5,341.8h1.9v1.9h-1.9zM555.0,361.7h1.9v1.9h-1.9zM559.4,357.6h1.9v1.9h-1.9zM557.0,351.7h1.9v1.9h-1.9zM554.5,358.7h1.9v1.9h-1.9zM554.5,339.8h1.9v1.9h-1.9zM554.7,339.5h1.9v1.9h-1.9zM557.8,348.0h1.9v1.9h-1.9zM553.0,350.0h1.9v1.9h-1.9zM559.0,331.2h1.9v1.9h-1.9zM564.7,353.7h1.9v1.9h-1.9zM555.2,348.5h1.9v1.9h-1.9zM554.5,360.2h1.9v1.9h-1.9zM556.9,353.8h1.9v1.9h-1.9zM561.0,390.4h1.9v1.9h-1.9zM554.7,364.9h1.9v1.9h-1.9zM558.5,350.9h1.9v1.9h-1.9zM559.5,344.3h1.9v1.9h-1.9zM558.6,387.1h1.9v1.9h-1.9zM554.6,385.0h1.9v1.9h-1.9zM563.8,381.7h1.9v1.9h-1.9zM562.1,362.7h1.9v1.9h-1.9zM557.3,367.5h1.9v1.9h-1.9zM569.7,386.0h1.9v1.9h-1.9zM561.6,396.2h1.9v1.9h-1.9zM564.0,392.4h1.9v1.9h-1.9zM559.9,379.2h1.9v1.9h-1.9zM562.1,389.1h1.9v1.9h-1.9zM547.2,382.4h1.9v1.9h-1.9zM549.1,397.8h1.9v1.9h-1.9zM564.1,385.5h1.9v1.9h-1.9zM547.4,405.9h1.9v1.9h-1.9zM561.1,374.5h1.9v1.9h-1.9zM552.0,392.0h1.9v1.9h-1.9zM570.3,401.9h1.9v1.9h-1.9zM559.5,391.9h1.9v1.9h-1.9zM559.2,401.7h1.9v1.9h-1.9zM558.2,372.5h1.9v1.9h-1.9zM555.1,382.5h1.9v1.9h-1.9zM555.3,398.1h1.9v1.9h-1.9zM554.8,378.3h1.9v1.9h-1.9zM557.7,377.4h1.9v1.9h-1.9zM555.1,371.1h1.9v1.9h-1.9zM553.3,380.7h1.9v1.9h-1.9zM552.3,389.9h1.9v1.9h-1.9zM555.8,396.8h1.9v1.9h-1.9zM553.9,390.2h1.9v1.9h-1.9zM558.6,376.9h1.9v1.9h-1.9zM551.5,394.3h1.9v1.9h-1.9zM553.3,386.3h1.9v1.9h-1.9zM556.4,406.3h1.9v1.9h-1.9zM568.1,384.4h1.9v1.9h-1.9zM551.5,386.9h1.9v1.9h-1.9zM558.4,381.8h1.9v1.9h-1.9zM564.0,400.2h1.9v1.9h-1.9zM559.0,372.0h1.9v1.9h-1.9zM556.1,361.8h1.9v1.9h-1.9zM553.1,369.9h1.9v1.9h-1.9zM555.8,375.8h1.9v1.9h-1.9zM556.8,405.8h1.9v1.9h-1.9zM564.3,408.5h1.9v1.9h-1.9zM559.0,387.4h1.9v1.9h-1.9zM555.3,383.0h1.9v1.9h-1.9zM562.7,388.1h1.9v1.9h-1.9zM557.4,407.7h1.9v1.9h-1.9zM557.0,361.8h1.9v1.9h-1.9zM554.4,371.4h1.9v1.9h-1.9zM554.9,374.6h1.9v1.9h-1.9zM567.6,400.8h1.9v1.9h-1.9zM562.3,375.6h1.9v1.9h-1.9zM551.9,369.7h1.9v1.9h-1.9zM566.5,371.0h1.9v1.9h-1.9zM558.2,385.1h1.9v1.9h-1.9zM569.3,378.4h1.9v1.9h-1.9zM551.6,393.1h1.9v1.9h-1.9zM565.3,373.7h1.9v1.9h-1.9zM563.1,372.7h1.9v1.9h-1.9zM554.2,406.9h1.9v1.9h-1.9zM557.1,373.7h1.9v1.9h-1.9zM557.5,391.9h1.9v1.9h-1.9zM552.6,374.1h1.9v1.9h-1.9zM554.1,403.3h1.9v1.9h-1.9zM556.1,402.4h1.9v1.9h-1.9zM561.5,397.9h1.9v1.9h-1.9zM558.3,382.0h1.9v1.9h-1.9zM551.4,370.5h1.9v1.9h-1.9zM559.6,378.4h1.9v1.9h-1.9zM564.0,395.9h1.9v1.9h-1.9zM553.1,370.8h1.9v1.9h-1.9zM553.3,381.3h1.9v1.9h-1.9zM554.0,370.4h1.9v1.9h-1.9zM556.8,394.8h1.9v1.9h-1.9zM565.5,404.9h1.9v1.9h-1.9zM555.1,396.8h1.9v1.9h-1.9zM554.6,401.2h1.9v1.9h-1.9zM552.7,368.3h1.9v1.9h-1.9zM551.4,407.1h1.9v1.9h-1.9zM562.6,408.6h1.9v1.9h-1.9zM566.2,383.7h1.9v1.9h-1.9zM560.9,373.6h1.9v1.9h-1.9zM561.1,383.8h1.9v1.9h-1.9zM549.2,370.5h1.9v1.9h-1.9zM558.8,395.7h1.9v1.9h-1.9zM545.6,367.8h1.9v1.9h-1.9zM563.6,392.6h1.9v1.9h-1.9zM557.2,372.7h1.9v1.9h-1.9zM558.4,373.4h1.9v1.9h-1.9zM563.3,397.2h1.9v1.9h-1.9zM552.2,391.7h1.9v1.9h-1.9zM559.6,366.5h1.9v1.9h-1.9zM555.9,395.0h1.9v1.9h-1.9zM562.7,402.3h1.9v1.9h-1.9zM564.0,382.7h1.9v1.9h-1.9zM561.6,387.2h1.9v1.9h-1.9zM559.6,397.5h1.9v1.9h-1.9zM569.7,363.4h1.9v1.9h-1.9zM558.4,403.9h1.9v1.9h-1.9zM553.9,398.6h1.9v1.9h-1.9zM568.5,416.8h1.9v1.9h-1.9zM566.1,396.9h1.9v1.9h-1.9zM565.3,421.2h1.9v1.9h-1.9zM567.8,407.2h1.9v1.9h-1.9zM566.4,383.5h1.9v1.9h-1.9zM568.8,370.0h1.9v1.9h-1.9zM567.7,417.7h1.9v1.9h-1.9zM567.4,385.6h1.9v1.9h-1.9zM567.3,390.1h1.9v1.9h-1.9zM569.7,408.3h1.9v1.9h-1.9zM566.2,425.7h1.9v1.9h-1.9zM570.4,417.8h1.9v1.9h-1.9zM570.5,419.8h1.9v1.9h-1.9zM569.0,378.0h1.9v1.9h-1.9zM567.5,426.2h1.9v1.9h-1.9zM569.7,427.2h1.9v1.9h-1.9zM567.3,420.8h1.9v1.9h-1.9zM567.2,420.3h1.9v1.9h-1.9zM569.3,428.2h1.9v1.9h-1.9zM569.8,391.1h1.9v1.9h-1.9zM572.1,417.9h1.9v1.9h-1.9zM567.8,427.9h1.9v1.9h-1.9zM570.2,378.8h1.9v1.9h-1.9zM568.2,424.1h1.9v1.9h-1.9zM571.5,399.6h1.9v1.9h-1.9zM569.8,387.4h1.9v1.9h-1.9zM569.4,427.5h1.9v1.9h-1.9zM569.2,370.7h1.9v1.9h-1.9zM564.7,412.1h1.9v1.9h-1.9zM569.0,404.2h1.9v1.9h-1.9zM568.3,421.8h1.9v1.9h-1.9zM571.4,417.2h1.9v1.9h-1.9zM566.1,401.2h1.9v1.9h-1.9zM562.9,419.4h1.9v1.9h-1.9zM569.0,375.4h1.9v1.9h-1.9zM570.9,427.4h1.9v1.9h-1.9zM569.3,384.8h1.9v1.9h-1.9zM569.4,414.7h1.9v1.9h-1.9zM568.1,416.5h1.9v1.9h-1.9zM564.8,377.7h1.9v1.9h-1.9zM565.2,429.5h1.9v1.9h-1.9zM556.1,406.9h1.9v1.9h-1.9zM565.1,430.3h1.9v1.9h-1.9zM556.0,422.3h1.9v1.9h-1.9zM545.3,436.4h1.9v1.9h-1.9zM561.9,407.5h1.9v1.9h-1.9zM563.0,416.7h1.9v1.9h-1.9zM548.5,416.9h1.9v1.9h-1.9zM551.8,429.7h1.9v1.9h-1.9zM569.1,417.1h1.9v1.9h-1.9zM555.3,421.7h1.9v1.9h-1.9zM563.9,425.3h1.9v1.9h-1.9zM553.8,431.4h1.9v1.9h-1.9zM553.7,420.5h1.9v1.9h-1.9zM559.6,437.6h1.9v1.9h-1.9zM561.1,407.7h1.9v1.9h-1.9z" fill="#d95319"/>
<path d="M43.5,420.9L59.4,418.0L91.2,424.4L123.0,422.6L154.7,412.7L186.3,405.4L218.1,410.0L249.9,413.8L281.6,413.8L313.4,410.3L345.2,409.4L377.0,415.8L408.7,414.7L440.5,420.9L472.3,439.9L504.1,446.0L535.9,445.1L567.6,448.0L599.4,457.4L615.5,457.6" stroke="#77ac30" stroke-width="1.5" fill="none"/>
<path d="M59.4,413.0L59.4,430.2M56.4,413.0L62.4,413.0M56.4,430.2L62.4,430.2M57.4,416.0L61.4,420.0M57.4,420.0L61.4,416.0M91.2,419.4L91.2,435.5M88.2,419.4L94.2,419.4M88.2,435.5L94.2,435.5M89.2,422.4L93.2,426.4M89.2,426.4L93.2,422.4M123.0,417.4L123.0,434.9M120.0,417.4L126.0,417.4M120.0,434.9L126.0,434.9M121.0,420.6L125.0,424.6M121.0,424.6L125.0,420.6M154.7,406.9L154.7,429.6M151.7,406.9L157.7,406.9M151.7,429.6L157.7,429.6M152.7,410.7L156.7,414.7M152.7,414.7L156.7,410.7M186.3,399.9L186.3,419.4M183.3,399.9L189.3,399.9M183.3,419.4L189.3,419.4M184.3,403.4L188.3,407.4M184.3,407.4L188.3,403.4M218.1,404.2L218.1,426.7M215.1,404.2L221.1,404.2M215.1,426.7L221.1,426.7M216.1,408.0L220.1,412.0M216.1,412.0L220.1,408.0M249.9,408.0L249.9,432.8M246.9,408.0L252.9,408.0M246.9,432.8L252.9,432.8M247.9,411.8L251.9,415.8M247.9,415.8L251.9,411.8M281.6,408.0L281.6,434.5M278.6,408.0L284.6,408.0M278.6,434.5L284.6,434.5M279.6,411.8L283.6,415.8M279.6,415.8L283.6,411.8M313.4,404.5L313.4,432.8M310.4,404.5L316.4,404.5M310.4,432.8L316.4,432.8M311.4,408.3L315.4,412.3M311.4,412.3L315.4,408.3M345.2,404.2L345.2,428.4M342.2,404.2L348.2,404.2M342.2,428.4L348.2,428.4M343.2,407.4L347.2,411.4M343.2,411.4L347.2,407.4M377.0,410.9L377.0,432.5M374.0,410.9L380.0,410.9M374.0,432.5L380.0,432.5M375.0,413.8L379.0,417.8M375.0,417.8L379.0,413.8M408.7,408.8L408.7,431.6M405.7,408.8L411.7,408.8M405.7,431.6L411.7,431.6M406.7,412.7L410.7,416.7M406.7,416.7L410.7,412.7M440.5,415.6L440.5,442.2M437.5,415.6L443.5,415.6M437.5,442.2L443.5,442.2M438.5,418.9L442.5,422.9M438.5,422.9L442.5,418.9M472.3,433.4L472.3,458.8M469.3,433.4L475.3,433.4M469.3,458.8L475.3,458.8M470.3,437.9L474.3,441.9M470.3,441.9L474.3,437.9M504.1,440.7L504.1,458.2M501.1,440.7L507.1,440.7M501.1,458.2L507.1,458.2M502.1,444.0L506.1,448.0M502.1,448.0L506.1,444.0M535.9,439.9L535.9,456.5M532.9,439.9L538.9,439.9M532.9,456.5L538.9,456.5M533.9,443.1L537.9,447.1M533.9,447.1L537.9,443.1M567.6,442.8L567.6,458.2M564.6,442.8L570.6,442.8M564.6,458.2L570.6,458.2M565.6,446.0L569.6,450.0M565.6,450.0L569.6,446.0M599.4,452.4L599.4,464.7M596.4,452.4L602.4,452.4M596.4,464.7L602.4,464.7M597.4,455.4L601.4,459.4M597.4,459.4L601.4,455.4" stroke="#77ac30" stroke-width="1.5" fill="none"/>
<path d="M201.3,379.7L201.3,406.5M198.8,379.7L203.8,379.7M560.4,362.6L560.4,410.9M557.5,362.6L563.4,362.6M557.5,410.9L563.4,410.9" stroke="#000" stroke-width="1.5" fill="none"/>
<path d="M201.3,380.9L206.2,386.3L201.3,391.7L196.4,386.3Z" fill="#0072bd" stroke="#000" stroke-width="1.3"/>
<path d="M560.4,363.9L565.3,369.3L560.4,374.7L555.5,369.3Z" fill="#d95319" stroke="#000" stroke-width="1.3"/>
<path d="M43.50,293.90L43.50,516.30L615.50,516.30L615.50,293.90" stroke="#4d4d4d" stroke-width="1" fill="none"/>
<path d="M43.50,293.90L615.50,293.90" stroke="#a6a6a6" stroke-width="1.4" fill="none"/>
<path d="M43.50,516.30L49.30,516.30M615.50,516.30L609.70,516.30M43.50,494.06L49.30,494.06M615.50,494.06L609.70,494.06M43.50,471.82L49.30,471.82M615.50,471.82L609.70,471.82M43.50,449.58L49.30,449.58M615.50,449.58L609.70,449.58M43.50,427.34L49.30,427.34M615.50,427.34L609.70,427.34M43.50,405.10L49.30,405.10M615.50,405.10L609.70,405.10M43.50,382.86L49.30,382.86M615.50,382.86L609.70,382.86M43.50,360.62L49.30,360.62M615.50,360.62L609.70,360.62M43.50,338.38L49.30,338.38M615.50,338.38L609.70,338.38M43.50,316.14L49.30,316.14M615.50,316.14L609.70,316.14M43.50,516.30L43.50,511.30M43.50,293.90L43.50,298.90M75.28,516.30L75.28,511.30M75.28,293.90L75.28,298.90M107.06,516.30L107.06,511.30M107.06,293.90L107.06,298.90M138.83,516.30L138.83,511.30M138.83,293.90L138.83,298.90M170.61,516.30L170.61,511.30M170.61,293.90L170.61,298.90M202.39,516.30L202.39,511.30M202.39,293.90L202.39,298.90M234.17,516.30L234.17,511.30M234.17,293.90L234.17,298.90M265.94,516.30L265.94,511.30M265.94,293.90L265.94,298.90M297.72,516.30L297.72,511.30M297.72,293.90L297.72,298.90M329.50,516.30L329.50,511.30M329.50,293.90L329.50,298.90M361.28,516.30L361.28,511.30M361.28,293.90L361.28,298.90M393.06,516.30L393.06,511.30M393.06,293.90L393.06,298.90M424.83,516.30L424.83,511.30M424.83,293.90L424.83,298.90M456.61,516.30L456.61,511.30M456.61,293.90L456.61,298.90M488.39,516.30L488.39,511.30M488.39,293.90L488.39,298.90M520.17,516.30L520.17,511.30M520.17,293.90L520.17,298.90M551.94,516.30L551.94,511.30M551.94,293.90L551.94,298.90M583.72,516.30L583.72,511.30M583.72,293.90L583.72,298.90M615.50,516.30L615.50,511.30M615.50,293.90L615.50,298.90" stroke="#4d4d4d" stroke-width="1" fill="none"/>
<rect x="392.9" y="303.6" width="149.8" height="74.7" fill="#fff" stroke="#262626" stroke-width="0.8"/>
<circle cx="410.4" cy="312.0" r="3.6" fill="#e0e0e0"/>
<circle cx="410.4" cy="323.7" r="3.6" fill="#d95319"/>
<circle cx="410.4" cy="335.3" r="3.6" fill="#0072bd"/>
<path d="M410.4,342.4L414.2,347.0L410.4,351.6L406.6,347.0Z" fill="#d95319" stroke="#000" stroke-width="1"/>
<path d="M410.4,354.2L414.2,358.8L410.4,363.4L406.6,358.8Z" fill="#0072bd" stroke="#000" stroke-width="1"/>
<path d="M396.3,370.6L425,370.6M408.6,368.8L412.2,372.4M408.6,372.4L412.2,368.8" stroke="#77ac30" stroke-width="1.4" fill="none"/>
<text x="428.50" y="315.00" font-size="8.3" text-anchor="start" fill="#000" stroke="#000" stroke-width="0.22" >All data</text>
<text x="428.50" y="326.70" font-size="8.3" text-anchor="start" fill="#000" stroke="#000" stroke-width="0.22" >Ganymede encounters</text>
<text x="428.50" y="338.30" font-size="8.3" text-anchor="start" fill="#000" stroke="#000" stroke-width="0.22" >Europa encounters</text>
<text x="428.50" y="350.00" font-size="8.3" text-anchor="start" fill="#000" stroke="#000" stroke-width="0.22" >Median value, Ganymede</text>
<text x="428.50" y="361.80" font-size="8.3" text-anchor="start" fill="#000" stroke="#000" stroke-width="0.22" >Median value, Europa</text>
<text x="428.50" y="373.60" font-size="8.3" text-anchor="start" fill="#000" stroke="#000" stroke-width="0.22" >Median value, no encounters</text>
<text x="43.50" y="528.70" font-size="9.7" text-anchor="middle" fill="#262626" stroke="#262626" stroke-width="0.22" >7</text>
<text x="107.06" y="528.70" font-size="9.7" text-anchor="middle" fill="#262626" stroke="#262626" stroke-width="0.22" >8</text>
<text x="170.61" y="528.70" font-size="9.7" text-anchor="middle" fill="#262626" stroke="#262626" stroke-width="0.22" >9</text>
<text x="234.17" y="528.70" font-size="9.7" text-anchor="middle" fill="#262626" stroke="#262626" stroke-width="0.22" >10</text>
<text x="297.72" y="528.70" font-size="9.7" text-anchor="middle" fill="#262626" stroke="#262626" stroke-width="0.22" >11</text>
<text x="361.28" y="528.70" font-size="9.7" text-anchor="middle" fill="#262626" stroke="#262626" stroke-width="0.22" >12</text>
<text x="424.83" y="528.70" font-size="9.7" text-anchor="middle" fill="#262626" stroke="#262626" stroke-width="0.22" >13</text>
<text x="488.39" y="528.70" font-size="9.7" text-anchor="middle" fill="#262626" stroke="#262626" stroke-width="0.22" >14</text>
<text x="551.94" y="528.70" font-size="9.7" text-anchor="middle" fill="#262626" stroke="#262626" stroke-width="0.22" >15</text>
<text x="615.50" y="528.70" font-size="9.7" text-anchor="middle" fill="#262626" stroke="#262626" stroke-width="0.22" >16</text>
<text x="38.60" y="520.90" font-size="9.7" text-anchor="end" fill="#262626" stroke="#262626" stroke-width="0.22">10<tspan font-size="7" dy="-4.3">&#8722;10</tspan></text>
<text x="38.60" y="498.66" font-size="9.7" text-anchor="end" fill="#262626" stroke="#262626" stroke-width="0.22">10<tspan font-size="7" dy="-4.3">&#8722;9</tspan></text>
<text x="38.60" y="476.42" font-size="9.7" text-anchor="end" fill="#262626" stroke="#262626" stroke-width="0.22">10<tspan font-size="7" dy="-4.3">&#8722;8</tspan></text>
<text x="38.60" y="454.18" font-size="9.7" text-anchor="end" fill="#262626" stroke="#262626" stroke-width="0.22">10<tspan font-size="7" dy="-4.3">&#8722;7</tspan></text>
<text x="38.60" y="431.94" font-size="9.7" text-anchor="end" fill="#262626" stroke="#262626" stroke-width="0.22">10<tspan font-size="7" dy="-4.3">&#8722;6</tspan></text>
<text x="38.60" y="409.70" font-size="9.7" text-anchor="end" fill="#262626" stroke="#262626" stroke-width="0.22">10<tspan font-size="7" dy="-4.3">&#8722;5</tspan></text>
<text x="38.60" y="387.46" font-size="9.7" text-anchor="end" fill="#262626" stroke="#262626" stroke-width="0.22">10<tspan font-size="7" dy="-4.3">&#8722;4</tspan></text>
<text x="38.60" y="365.22" font-size="9.7" text-anchor="end" fill="#262626" stroke="#262626" stroke-width="0.22">10<tspan font-size="7" dy="-4.3">&#8722;3</tspan></text>
<text x="38.60" y="342.98" font-size="9.7" text-anchor="end" fill="#262626" stroke="#262626" stroke-width="0.22">10<tspan font-size="7" dy="-4.3">&#8722;2</tspan></text>
<text x="38.60" y="320.74" font-size="9.7" text-anchor="end" fill="#262626" stroke="#262626" stroke-width="0.22">10<tspan font-size="7" dy="-4.3">&#8722;1</tspan></text>
<text x="38.60" y="298.50" font-size="9.7" text-anchor="end" fill="#262626" stroke="#262626" stroke-width="0.22">10<tspan font-size="7" dy="-4.3">0</tspan></text>
<text x="321.50" y="288.00" font-size="9.7" text-anchor="middle" fill="#262626" stroke="#262626" stroke-width="0.22" >Radial distibution</text>
<text x="202.00" y="288.00" font-size="9.7" text-anchor="middle" fill="#0072bd" stroke="#0072bd" stroke-width="0.22" >Europa</text>
<text x="555.70" y="288.00" font-size="9.7" text-anchor="middle" fill="#d95319" stroke="#d95319" stroke-width="0.22" >Ganymede</text>
<text x="329.30" y="543.60" font-size="9.7" text-anchor="middle" fill="#262626" stroke="#262626" stroke-width="0.22" >Equatorial distance, (<tspan font-style="italic">R</tspan><tspan font-size="6.5" dy="2.2">J</tspan><tspan dy="-2.2">)</tspan></text>
<text transform="translate(10.2,405.5) rotate(-90)" font-size="9.7" text-anchor="middle" fill="#262626" stroke="#262626" stroke-width="0.22"><tspan font-style="italic">B</tspan><tspan font-size="6.5" dy="-3.5">2</tspan><tspan dy="3.5">, (nT</tspan><tspan font-size="6.5" dy="-3.5">2</tspan><tspan dy="3.5">)</tspan></text>
</svg>
</body></html>
